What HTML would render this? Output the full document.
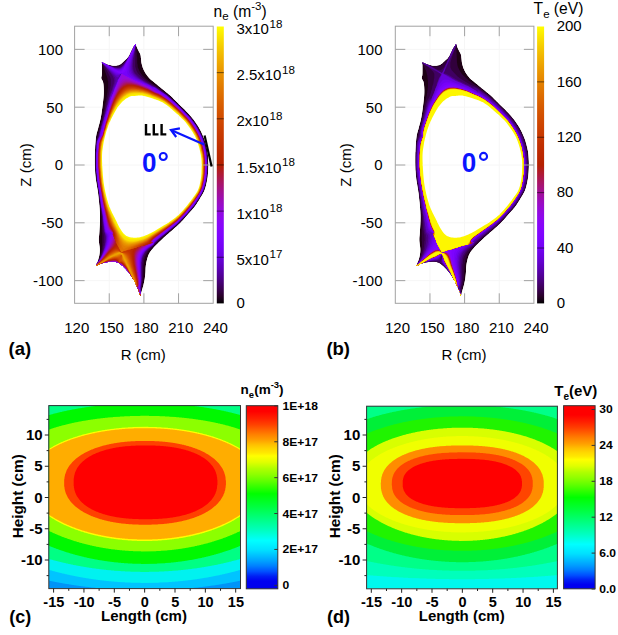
<!DOCTYPE html><html><head><meta charset="utf-8"><style>html,body{margin:0;padding:0;background:#fff;}svg{display:block;}</style></head><body><svg width="618" height="635" viewBox="0 0 618 635" font-family='"Liberation Sans", sans-serif'>
<rect width="618" height="635" fill="#fff"/>
<line x1="109.25" y1="26.2" x2="109.25" y2="303.3" stroke="#f6f6f6" stroke-width="1"/>
<line x1="143.90" y1="26.2" x2="143.90" y2="303.3" stroke="#f6f6f6" stroke-width="1"/>
<line x1="178.55" y1="26.2" x2="178.55" y2="303.3" stroke="#f6f6f6" stroke-width="1"/>
<line x1="74.6" y1="49.37" x2="213.2" y2="49.37" stroke="#f6f6f6" stroke-width="1"/>
<line x1="74.6" y1="107.19" x2="213.2" y2="107.19" stroke="#f6f6f6" stroke-width="1"/>
<line x1="74.6" y1="165.00" x2="213.2" y2="165.00" stroke="#f6f6f6" stroke-width="1"/>
<line x1="74.6" y1="222.81" x2="213.2" y2="222.81" stroke="#f6f6f6" stroke-width="1"/>
<line x1="74.6" y1="280.63" x2="213.2" y2="280.63" stroke="#f6f6f6" stroke-width="1"/>
<line x1="429.95" y1="26.2" x2="429.95" y2="303.3" stroke="#f6f6f6" stroke-width="1"/>
<line x1="464.60" y1="26.2" x2="464.60" y2="303.3" stroke="#f6f6f6" stroke-width="1"/>
<line x1="499.25" y1="26.2" x2="499.25" y2="303.3" stroke="#f6f6f6" stroke-width="1"/>
<line x1="395.29999999999995" y1="49.37" x2="533.9" y2="49.37" stroke="#f6f6f6" stroke-width="1"/>
<line x1="395.29999999999995" y1="107.19" x2="533.9" y2="107.19" stroke="#f6f6f6" stroke-width="1"/>
<line x1="395.29999999999995" y1="165.00" x2="533.9" y2="165.00" stroke="#f6f6f6" stroke-width="1"/>
<line x1="395.29999999999995" y1="222.81" x2="533.9" y2="222.81" stroke="#f6f6f6" stroke-width="1"/>
<line x1="395.29999999999995" y1="280.63" x2="533.9" y2="280.63" stroke="#f6f6f6" stroke-width="1"/>
<clipPath id="cpa"><path d="M135.50 44.10 135.77 44.72 136.15 45.58 136.60 46.59 137.08 47.68 137.56 48.74 138.00 49.70 138.43 50.57 138.87 51.42 139.32 52.25 139.74 53.06 140.11 53.84 140.40 54.60 140.60 55.30 140.73 55.94 140.80 56.55 140.85 57.17 140.91 57.85 141.00 58.60 141.10 59.44 141.19 60.33 141.28 61.28 141.40 62.26 141.57 63.27 141.80 64.30 142.09 65.37 142.42 66.49 142.80 67.63 143.23 68.79 143.73 69.95 144.30 71.10 144.94 72.24 145.66 73.40 146.43 74.56 147.27 75.71 148.16 76.82 149.10 77.90 150.10 78.92 151.17 79.88 152.30 80.81 153.47 81.74 154.67 82.70 155.90 83.70 157.18 84.77 158.53 85.88 159.91 87.02 161.29 88.15 162.63 89.25 163.90 90.30 165.08 91.27 166.19 92.17 167.27 93.04 168.33 93.91 169.40 94.82 170.50 95.80 171.59 96.82 172.64 97.84 173.71 98.89 174.82 100.02 176.04 101.24 177.40 102.60 178.99 104.16 180.79 105.91 182.69 107.76 184.58 109.61 186.35 111.39 187.90 113.00 189.21 114.42 190.37 115.73 191.41 116.96 192.37 118.14 193.29 119.31 194.20 120.50 195.09 121.72 195.94 122.93 196.74 124.13 197.50 125.31 198.22 126.47 198.90 127.60 199.53 128.70 200.10 129.77 200.64 130.81 201.14 131.84 201.62 132.87 202.10 133.90 202.57 134.92 203.01 135.93 203.44 136.94 203.84 137.94 204.23 138.96 204.60 140.00 204.95 141.06 205.27 142.14 205.58 143.22 205.86 144.32 206.14 145.41 206.40 146.50 206.65 147.57 206.90 148.61 207.13 149.66 207.34 150.72 207.53 151.83 207.70 153.00 207.85 154.26 207.97 155.59 208.08 156.97 208.17 158.35 208.24 159.71 208.30 161.00 208.35 162.18 208.38 163.28 208.39 164.34 208.39 165.44 208.36 166.64 208.30 168.00 208.22 169.54 208.13 171.22 208.01 173.00 207.86 174.83 207.66 176.68 207.40 178.50 207.09 180.33 206.74 182.20 206.34 184.09 205.89 185.96 205.38 187.78 204.80 189.50 204.13 191.13 203.38 192.69 202.56 194.19 201.71 195.65 200.85 197.08 200.00 198.50 199.17 199.90 198.33 201.27 197.48 202.62 196.61 203.94 195.72 205.23 194.80 206.50 193.87 207.71 192.93 208.84 191.97 209.95 190.96 211.08 189.88 212.28 188.70 213.60 187.42 215.06 186.06 216.62 184.62 218.26 183.13 219.92 181.58 221.58 180.00 223.20 178.32 224.80 176.54 226.43 174.70 228.06 172.87 229.64 171.12 231.17 169.50 232.60 168.03 233.91 166.67 235.11 165.39 236.24 164.14 237.36 162.89 238.50 161.60 239.70 160.25 240.99 158.85 242.33 157.45 243.70 156.10 245.06 154.83 246.37 153.70 247.60 152.70 248.73 151.81 249.79 151.00 250.81 150.27 251.81 149.61 252.83 149.00 253.90 148.46 255.04 148.01 256.21 147.62 257.41 147.28 258.61 146.98 259.78 146.70 260.90 146.45 261.97 146.24 263.00 146.07 264.01 145.93 265.01 145.81 266.00 145.70 267.00 145.62 267.98 145.57 268.94 145.55 269.89 145.53 270.87 145.48 271.90 145.40 273.00 145.28 274.20 145.15 275.47 145.00 276.79 144.83 278.14 144.63 279.48 144.40 280.80 144.14 282.09 143.85 283.37 143.53 284.66 143.20 285.94 142.85 287.22 142.50 288.50 142.11 289.87 141.68 291.35 141.23 292.83 140.81 294.20 140.45 295.36 140.20 296.20 140.05 295.62 139.87 294.84 139.64 293.90 139.36 292.84 139.02 291.70 138.60 290.50 138.09 289.20 137.50 287.76 136.85 286.22 136.15 284.67 135.43 283.14 134.70 281.70 133.96 280.34 133.21 279.02 132.42 277.73 131.61 276.46 130.77 275.22 129.90 274.00 128.98 272.79 128.01 271.58 127.01 270.39 126.00 269.26 124.99 268.18 124.00 267.20 123.04 266.29 122.10 265.43 121.16 264.64 120.20 263.93 119.22 263.31 118.20 262.80 117.16 262.41 116.11 262.12 115.04 261.93 113.92 261.82 112.71 261.78 111.40 261.80 109.91 261.89 108.24 262.06 106.49 262.31 104.75 262.60 103.12 262.94 101.70 263.30 100.44 263.74 99.26 264.27 98.19 264.84 97.26 265.40 96.49 265.87 95.90 266.20 96.24 265.24 96.72 263.91 97.29 262.34 97.87 260.66 98.39 259.00 98.80 257.50 99.10 256.17 99.35 254.90 99.54 253.66 99.69 252.41 99.77 251.10 99.80 249.70 99.73 248.18 99.56 246.56 99.32 244.89 99.09 243.21 98.90 241.57 98.80 240.00 98.81 238.61 98.88 237.37 99.00 236.18 99.14 234.88 99.28 233.37 99.40 231.50 99.53 229.26 99.69 226.75 99.85 224.01 99.98 221.11 100.04 218.09 100.00 215.00 99.85 211.77 99.61 208.34 99.31 204.79 98.96 201.21 98.59 197.69 98.20 194.30 97.77 191.06 97.26 187.90 96.73 184.79 96.21 181.70 95.75 178.62 95.40 175.50 95.15 172.36 94.97 169.21 94.86 166.06 94.79 162.90 94.78 159.75 94.80 156.60 94.87 153.34 95.00 149.96 95.17 146.57 95.38 143.32 95.63 140.32 95.90 137.70 96.21 135.56 96.57 133.80 96.96 132.30 97.37 130.92 97.79 129.53 98.20 128.00 98.61 126.37 99.04 124.76 99.48 123.13 99.90 121.47 100.32 119.73 100.70 117.90 101.06 115.94 101.40 113.89 101.73 111.76 102.04 109.59 102.33 107.43 102.60 105.30 102.86 103.17 103.12 101.00 103.36 98.84 103.56 96.71 103.71 94.65 103.80 92.70 103.82 90.82 103.78 88.97 103.69 87.19 103.56 85.52 103.40 84.01 103.20 82.70 102.93 81.64 102.57 80.82 102.17 80.15 101.80 79.56 101.49 78.97 101.30 78.30 101.26 77.65 101.34 77.10 101.48 76.55 101.65 75.90 101.81 75.05 101.90 73.90 101.93 72.25 101.94 70.14 101.94 67.83 101.92 65.57 101.91 63.65 101.90 62.30 102.67 62.63 103.74 63.11 105.01 63.66 106.36 64.23 107.69 64.73 108.90 65.10 110.01 65.35 111.10 65.53 112.18 65.66 113.22 65.72 114.23 65.74 115.20 65.70 116.11 65.63 116.96 65.52 117.78 65.36 118.58 65.13 119.38 64.82 120.20 64.40 121.05 63.84 121.92 63.13 122.79 62.34 123.64 61.51 124.45 60.72 125.20 60.00 125.87 59.41 126.46 58.93 127.02 58.46 127.56 57.95 128.11 57.32 128.70 56.50 129.34 55.41 130.01 54.10 130.69 52.67 131.36 51.22 132.00 49.86 132.60 48.70 133.17 47.69 133.75 46.76 134.29 45.91 134.79 45.17 135.20 44.56Z"/></clipPath><clipPath id="cwa"><path d="M129.90 96.60 130.81 96.28 131.63 96.10 132.42 96.01 133.21 95.98 134.06 95.95 135.00 95.90 136.02 95.79 137.08 95.66 138.19 95.54 139.37 95.46 140.64 95.47 142.00 95.60 143.53 95.88 145.22 96.29 147.00 96.77 148.78 97.30 150.47 97.83 152.00 98.30 153.35 98.72 154.59 99.13 155.75 99.52 156.85 99.93 157.93 100.35 159.00 100.80 160.03 101.24 161.00 101.66 161.93 102.10 162.88 102.59 163.89 103.18 165.00 103.90 166.25 104.79 167.61 105.84 169.02 106.98 170.45 108.16 171.82 109.32 173.10 110.40 174.28 111.42 175.40 112.41 176.48 113.39 177.52 114.34 178.52 115.28 179.50 116.20 180.43 117.07 181.31 117.88 182.16 118.67 182.99 119.48 183.83 120.34 184.70 121.30 185.61 122.36 186.54 123.49 187.47 124.67 188.41 125.90 189.32 127.15 190.20 128.40 191.06 129.67 191.91 130.98 192.75 132.31 193.55 133.64 194.31 134.98 195.00 136.30 195.63 137.62 196.21 138.96 196.74 140.29 197.23 141.61 197.68 142.88 198.10 144.10 198.48 145.22 198.81 146.26 199.10 147.26 199.37 148.26 199.63 149.33 199.90 150.50 200.18 151.79 200.47 153.16 200.75 154.59 201.01 156.05 201.23 157.53 201.40 159.00 201.52 160.45 201.60 161.91 201.64 163.38 201.65 164.87 201.63 166.41 201.60 168.00 201.56 169.66 201.51 171.37 201.43 173.12 201.31 174.91 201.14 176.70 200.90 178.50 200.60 180.33 200.26 182.21 199.86 184.10 199.40 185.97 198.85 187.78 198.20 189.50 197.41 191.13 196.49 192.72 195.48 194.24 194.44 195.70 193.43 197.09 192.50 198.40 191.67 199.58 190.91 200.64 190.17 201.62 189.41 202.59 188.61 203.59 187.70 204.70 186.69 205.92 185.61 207.23 184.48 208.57 183.31 209.92 182.11 211.24 180.90 212.50 179.68 213.70 178.44 214.88 177.18 216.03 175.88 217.14 174.56 218.24 173.20 219.30 171.81 220.32 170.38 221.31 168.92 222.26 167.44 223.20 165.93 224.14 164.40 225.10 162.82 226.09 161.17 227.10 159.51 228.11 157.85 229.09 156.23 230.03 154.70 230.90 153.25 231.70 151.87 232.46 150.53 233.16 149.22 233.82 147.91 234.43 146.60 235.00 145.28 235.53 143.97 236.01 142.67 236.46 141.38 236.84 140.09 237.16 138.80 237.40 137.49 237.57 136.16 237.67 134.83 237.70 133.53 237.67 132.28 237.57 131.10 237.40 130.00 237.18 128.96 236.91 127.97 236.57 127.02 236.15 126.10 235.63 125.20 235.00 124.34 234.26 123.52 233.43 122.74 232.51 121.97 231.48 121.19 230.34 120.40 229.10 119.59 227.70 118.77 226.15 117.95 224.49 117.13 222.77 116.31 221.06 115.50 219.40 114.68 217.78 113.84 216.17 113.01 214.55 112.19 212.93 111.42 211.32 110.70 209.70 110.05 208.11 109.44 206.55 108.88 204.99 108.34 203.40 107.82 201.75 107.30 200.00 106.78 198.14 106.28 196.19 105.79 194.18 105.32 192.12 104.89 190.06 104.50 188.00 104.16 186.02 103.85 184.11 103.58 182.18 103.34 180.16 103.11 177.96 102.90 175.50 102.69 172.64 102.47 169.40 102.28 165.99 102.12 162.60 102.02 159.40 102.00 156.60 102.07 154.22 102.21 152.11 102.42 150.21 102.66 148.44 102.93 146.73 103.20 145.00 103.48 143.27 103.80 141.60 104.14 139.98 104.49 138.43 104.85 136.93 105.20 135.50 105.55 134.15 105.89 132.90 106.24 131.71 106.61 130.54 106.99 129.39 107.40 128.20 107.83 127.00 108.29 125.80 108.76 124.60 109.26 123.40 109.77 122.20 110.30 121.00 110.85 119.79 111.42 118.57 112.01 117.35 112.61 116.13 113.25 114.91 113.90 113.70 114.58 112.48 115.28 111.24 116.01 110.01 116.75 108.79 117.52 107.62 118.30 106.50 119.09 105.43 119.90 104.40 120.72 103.41 121.57 102.46 122.46 101.55 123.40 100.70 124.42 99.88 125.51 99.08 126.65 98.33 127.79 97.65 128.88 97.07Z"/></clipPath>
<g clip-path="url(#cpa)">
<path d="M135.50 44.10 135.77 44.72 136.15 45.58 136.60 46.59 137.08 47.68 137.56 48.74 138.00 49.70 138.43 50.57 138.87 51.42 139.32 52.25 139.74 53.06 140.11 53.84 140.40 54.60 140.60 55.30 140.73 55.94 140.80 56.55 140.85 57.17 140.91 57.85 141.00 58.60 141.10 59.44 141.19 60.33 141.28 61.28 141.40 62.26 141.57 63.27 141.80 64.30 142.09 65.37 142.42 66.49 142.80 67.63 143.23 68.79 143.73 69.95 144.30 71.10 144.94 72.24 145.66 73.40 146.43 74.56 147.27 75.71 148.16 76.82 149.10 77.90 150.10 78.92 151.17 79.88 152.30 80.81 153.47 81.74 154.67 82.70 155.90 83.70 157.18 84.77 158.53 85.88 159.91 87.02 161.29 88.15 162.63 89.25 163.90 90.30 165.08 91.27 166.19 92.17 167.27 93.04 168.33 93.91 169.40 94.82 170.50 95.80 171.59 96.82 172.64 97.84 173.71 98.89 174.82 100.02 176.04 101.24 177.40 102.60 178.99 104.16 180.79 105.91 182.69 107.76 184.58 109.61 186.35 111.39 187.90 113.00 189.21 114.42 190.37 115.73 191.41 116.96 192.37 118.14 193.29 119.31 194.20 120.50 195.09 121.72 195.94 122.93 196.74 124.13 197.50 125.31 198.22 126.47 198.90 127.60 199.53 128.70 200.10 129.77 200.64 130.81 201.14 131.84 201.62 132.87 202.10 133.90 202.57 134.92 203.01 135.93 203.44 136.94 203.84 137.94 204.23 138.96 204.60 140.00 204.95 141.06 205.27 142.14 205.58 143.22 205.86 144.32 206.14 145.41 206.40 146.50 206.65 147.57 206.90 148.61 207.13 149.66 207.34 150.72 207.53 151.83 207.70 153.00 207.85 154.26 207.97 155.59 208.08 156.97 208.17 158.35 208.24 159.71 208.30 161.00 208.35 162.18 208.38 163.28 208.39 164.34 208.39 165.44 208.36 166.64 208.30 168.00 208.22 169.54 208.13 171.22 208.01 173.00 207.86 174.83 207.66 176.68 207.40 178.50 207.09 180.33 206.74 182.20 206.34 184.09 205.89 185.96 205.38 187.78 204.80 189.50 204.13 191.13 203.38 192.69 202.56 194.19 201.71 195.65 200.85 197.08 200.00 198.50 199.17 199.90 198.33 201.27 197.48 202.62 196.61 203.94 195.72 205.23 194.80 206.50 193.87 207.71 192.93 208.84 191.97 209.95 190.96 211.08 189.88 212.28 188.70 213.60 187.42 215.06 186.06 216.62 184.62 218.26 183.13 219.92 181.58 221.58 180.00 223.20 178.32 224.80 176.54 226.43 174.70 228.06 172.87 229.64 171.12 231.17 169.50 232.60 168.03 233.91 166.67 235.11 165.39 236.24 164.14 237.36 162.89 238.50 161.60 239.70 160.25 240.99 158.85 242.33 157.45 243.70 156.10 245.06 154.83 246.37 153.70 247.60 152.70 248.73 151.81 249.79 151.00 250.81 150.27 251.81 149.61 252.83 149.00 253.90 148.46 255.04 148.01 256.21 147.62 257.41 147.28 258.61 146.98 259.78 146.70 260.90 146.45 261.97 146.24 263.00 146.07 264.01 145.93 265.01 145.81 266.00 145.70 267.00 145.62 267.98 145.57 268.94 145.55 269.89 145.53 270.87 145.48 271.90 145.40 273.00 145.28 274.20 145.15 275.47 145.00 276.79 144.83 278.14 144.63 279.48 144.40 280.80 144.14 282.09 143.85 283.37 143.53 284.66 143.20 285.94 142.85 287.22 142.50 288.50 142.11 289.87 141.68 291.35 141.23 292.83 140.81 294.20 140.45 295.36 140.20 296.20 140.05 295.62 139.87 294.84 139.64 293.90 139.36 292.84 139.02 291.70 138.60 290.50 138.09 289.20 137.50 287.76 136.85 286.22 136.15 284.67 135.43 283.14 134.70 281.70 133.96 280.34 133.21 279.02 132.42 277.73 131.61 276.46 130.77 275.22 129.90 274.00 128.98 272.79 128.01 271.58 127.01 270.39 126.00 269.26 124.99 268.18 124.00 267.20 123.04 266.29 122.10 265.43 121.16 264.64 120.20 263.93 119.22 263.31 118.20 262.80 117.16 262.41 116.11 262.12 115.04 261.93 113.92 261.82 112.71 261.78 111.40 261.80 109.91 261.89 108.24 262.06 106.49 262.31 104.75 262.60 103.12 262.94 101.70 263.30 100.44 263.74 99.26 264.27 98.19 264.84 97.26 265.40 96.49 265.87 95.90 266.20 96.24 265.24 96.72 263.91 97.29 262.34 97.87 260.66 98.39 259.00 98.80 257.50 99.10 256.17 99.35 254.90 99.54 253.66 99.69 252.41 99.77 251.10 99.80 249.70 99.73 248.18 99.56 246.56 99.32 244.89 99.09 243.21 98.90 241.57 98.80 240.00 98.81 238.61 98.88 237.37 99.00 236.18 99.14 234.88 99.28 233.37 99.40 231.50 99.53 229.26 99.69 226.75 99.85 224.01 99.98 221.11 100.04 218.09 100.00 215.00 99.85 211.77 99.61 208.34 99.31 204.79 98.96 201.21 98.59 197.69 98.20 194.30 97.77 191.06 97.26 187.90 96.73 184.79 96.21 181.70 95.75 178.62 95.40 175.50 95.15 172.36 94.97 169.21 94.86 166.06 94.79 162.90 94.78 159.75 94.80 156.60 94.87 153.34 95.00 149.96 95.17 146.57 95.38 143.32 95.63 140.32 95.90 137.70 96.21 135.56 96.57 133.80 96.96 132.30 97.37 130.92 97.79 129.53 98.20 128.00 98.61 126.37 99.04 124.76 99.48 123.13 99.90 121.47 100.32 119.73 100.70 117.90 101.06 115.94 101.40 113.89 101.73 111.76 102.04 109.59 102.33 107.43 102.60 105.30 102.86 103.17 103.12 101.00 103.36 98.84 103.56 96.71 103.71 94.65 103.80 92.70 103.82 90.82 103.78 88.97 103.69 87.19 103.56 85.52 103.40 84.01 103.20 82.70 102.93 81.64 102.57 80.82 102.17 80.15 101.80 79.56 101.49 78.97 101.30 78.30 101.26 77.65 101.34 77.10 101.48 76.55 101.65 75.90 101.81 75.05 101.90 73.90 101.93 72.25 101.94 70.14 101.94 67.83 101.92 65.57 101.91 63.65 101.90 62.30 102.67 62.63 103.74 63.11 105.01 63.66 106.36 64.23 107.69 64.73 108.90 65.10 110.01 65.35 111.10 65.53 112.18 65.66 113.22 65.72 114.23 65.74 115.20 65.70 116.11 65.63 116.96 65.52 117.78 65.36 118.58 65.13 119.38 64.82 120.20 64.40 121.05 63.84 121.92 63.13 122.79 62.34 123.64 61.51 124.45 60.72 125.20 60.00 125.87 59.41 126.46 58.93 127.02 58.46 127.56 57.95 128.11 57.32 128.70 56.50 129.34 55.41 130.01 54.10 130.69 52.67 131.36 51.22 132.00 49.86 132.60 48.70 133.17 47.69 133.75 46.76 134.29 45.91 134.79 45.17 135.20 44.56Z" fill="#1d0014"/>
<path d="M134.8 43.5 132.2 47.5 128.5 55.5 126.8 57.2 127.5 58.2 126.8 58.5 122.8 63.2 119.8 65.5 117.5 66.2 113.2 66.2 112.8 65.8 111.5 65.8 111.2 64.8 109.2 64.5 102.8 61.5 101.2 61.5 101.2 63.2 101.8 63.2 102.5 64.2 107.5 78.2 107.8 80.8 108.2 81.2 108.2 88.2 107.8 88.5 107.5 92.8 107.2 93.2 107.2 94.5 106.8 94.8 106.8 96.2 106.2 98.2 106.2 99.8 105.8 100.2 105.8 101.5 104.8 104.8 104.8 106.5 104.5 106.8 104.5 108.5 103.5 111.8 103.2 114.8 102.8 115.2 100.5 125.5 99.8 126.8 99.5 129.2 98.5 131.5 98.5 132.5 96.5 139.5 96.2 144.5 95.8 144.8 95.8 151.2 95.5 151.5 95.5 170.8 95.8 171.2 95.8 174.2 96.2 174.5 96.2 177.2 96.5 177.5 96.5 180.5 96.8 180.8 97.5 186.8 97.8 187.2 98.5 193.2 98.8 193.5 99.5 202.2 99.8 202.5 99.8 204.8 100.2 205.2 100.2 207.5 100.5 207.8 100.5 210.2 100.8 210.5 100.8 212.8 101.2 213.2 101.2 216.2 101.5 216.5 101.5 225.8 101.8 226.2 101.8 232.5 102.2 232.8 102.2 246.5 101.8 246.8 101.8 249.5 101.5 249.8 101.2 253.2 100.5 254.5 99.8 257.5 97.2 262.8 96.2 262.5 96.2 263.2 95.2 265.2 95.2 266.8 96.8 266.8 99.8 264.8 106.5 262.8 114.8 262.5 119.2 264.2 122.2 266.5 127.5 272.2 128.5 274.2 130.2 275.8 135.5 285.2 135.5 285.8 137.5 289.8 137.8 291.5 138.8 293.2 138.8 294.8 139.5 296.8 140.8 296.8 141.5 295.2 141.5 293.8 140.8 293.5 140.8 292.2 141.2 291.8 141.5 287.5 142.2 285.5 142.2 283.8 142.8 281.5 142.8 278.8 143.2 278.5 143.5 264.8 143.8 264.5 144.2 260.5 145.5 256.2 148.2 251.5 159.8 239.5 166.8 233.8 171.8 229.2 175.8 226.2 183.2 218.8 193.5 207.2 198.2 200.5 204.2 189.8 205.2 185.5 205.8 184.2 206.2 181.5 206.5 181.2 206.5 179.5 207.2 177.5 207.2 174.2 207.5 173.8 207.8 161.8 207.5 161.5 207.5 156.5 207.2 156.2 206.8 151.2 206.2 149.5 205.8 146.5 205.2 145.2 205.2 144.2 203.8 140.8 203.2 137.8 197.8 127.2 191.8 118.5 189.8 116.2 169.5 96.2 157.8 87.2 151.5 83.2 145.8 78.8 142.2 75.2 139.8 71.8 137.8 67.2 137.5 63.8 137.2 63.5 137.2 56.5 136.8 56.2 136.8 52.5 136.5 52.2 136.5 49.8 136.2 49.5 136.2 47.5 135.8 47.2 135.8 45.5 136.5 44.8 136.2 43.5Z" fill="#31003c"/>
<path d="M134.8 43.5 133.5 45.2 131.2 49.5 131.2 50.2 131.5 50.2 131.8 50.8 131.5 51.2 130.5 51.2 129.5 53.2 129.5 53.8 129.8 53.8 130.2 54.5 129.2 56.5 124.5 62.5 120.2 66.5 118.2 67.2 113.5 66.8 112.2 66.2 108.8 65.5 106.5 64.2 106.5 63.2 105.8 63.2 102.8 61.5 101.2 61.5 101.2 62.8 101.8 62.8 102.5 63.5 107.5 71.8 110.2 77.2 110.8 79.5 110.8 85.8 110.5 86.2 110.2 89.2 109.8 89.5 109.8 90.5 109.5 90.8 109.5 91.8 109.2 92.2 109.2 93.2 106.5 102.8 106.5 104.2 105.5 107.2 105.5 108.5 104.8 110.2 104.8 111.5 104.5 111.8 102.5 120.8 101.8 122.2 101.2 125.8 100.5 127.2 100.5 128.2 99.2 131.8 98.2 136.8 96.5 141.8 96.5 144.5 96.2 144.8 96.2 151.2 95.8 151.5 95.8 170.8 96.2 171.2 96.2 173.8 96.5 174.2 96.8 180.2 97.2 180.5 97.8 186.8 98.2 187.2 98.2 188.8 98.8 191.2 99.5 198.8 99.8 199.2 100.2 203.8 100.5 204.2 100.5 206.2 100.8 206.5 100.8 208.8 101.2 209.2 101.2 211.2 101.5 211.5 101.5 213.5 101.8 213.8 102.8 230.2 103.2 230.5 103.2 232.8 103.8 235.2 103.8 242.8 103.5 243.2 103.5 245.5 103.2 245.8 102.8 249.5 100.8 256.2 97.5 262.8 96.8 263.5 95.8 263.5 95.2 265.2 95.2 266.8 96.8 266.8 99.8 264.8 106.5 262.8 114.8 262.5 119.2 264.2 122.2 266.5 127.5 272.2 128.5 274.2 130.2 275.8 135.5 285.2 135.5 285.8 137.5 289.8 137.8 291.5 138.8 293.2 138.8 294.8 139.5 296.8 140.8 296.8 141.5 295.2 141.5 293.8 140.5 293.5 140.8 293.2 141.2 285.8 141.5 285.5 141.8 281.2 142.2 280.8 142.5 263.2 142.8 262.8 142.8 260.8 144.2 256.2 147.2 251.2 150.8 247.5 153.2 245.8 155.5 242.8 158.2 240.2 177.8 223.8 186.2 215.2 194.8 204.8 200.5 196.2 203.5 190.5 203.5 189.8 204.5 187.8 204.5 186.8 206.2 181.2 206.5 177.5 206.8 177.2 207.5 162.2 207.2 161.8 207.2 156.8 206.8 156.5 206.5 151.5 206.2 151.2 205.2 145.5 202.5 137.2 197.2 126.8 191.5 118.8 185.8 112.5 176.8 103.5 167.5 95.2 157.5 87.8 146.5 81.2 142.2 77.8 137.8 73.2 136.5 70.8 135.2 66.5 135.5 44.8 136.2 44.2 136.2 43.5Z" fill="#400062"/>
<path d="M134.8 43.5 133.2 45.8 133.2 46.5 133.5 46.5 133.8 47.2 132.2 49.8 132.2 50.5 129.5 56.2 123.8 64.5 121.2 67.2 118.5 68.2 116.8 68.2 116.5 67.8 113.8 67.5 109.2 65.8 105.5 63.8 105.5 62.8 102.8 61.5 101.2 61.5 101.2 62.5 102.2 62.8 110.2 72.5 112.5 75.8 113.8 78.5 114.2 81.2 113.8 81.5 113.8 83.2 112.2 88.2 112.2 89.2 110.8 92.2 108.5 99.5 108.5 100.5 107.8 101.8 104.2 117.2 103.5 118.5 103.5 119.5 102.5 122.2 102.2 124.5 101.5 125.8 101.2 128.2 99.8 131.8 99.2 135.5 96.8 141.8 96.8 144.2 96.5 144.5 96.5 150.5 96.2 150.8 96.2 171.2 96.5 171.5 96.5 174.5 96.8 174.8 97.5 182.8 97.8 183.2 98.2 187.2 98.5 187.5 98.5 189.2 99.2 191.5 99.8 198.8 100.2 199.2 101.2 208.2 101.5 208.5 102.2 214.8 102.5 215.2 102.8 221.8 103.2 222.2 103.2 225.2 103.5 225.5 103.8 230.5 104.2 230.8 104.2 232.2 104.8 233.5 105.2 236.5 105.5 236.8 105.5 239.8 105.2 240.2 105.2 242.8 104.8 243.2 104.8 244.8 104.2 246.5 104.2 247.8 102.2 254.2 99.5 259.8 97.8 262.5 96.8 263.5 95.8 263.5 95.2 265.2 95.2 266.8 96.8 266.8 99.8 264.8 106.5 262.8 114.8 262.5 119.2 264.2 122.2 266.5 127.5 272.2 128.5 274.2 130.2 275.8 135.5 285.2 135.5 285.8 137.5 289.8 137.8 291.5 138.8 293.2 138.8 294.8 139.5 296.8 140.8 296.8 141.5 295.2 141.5 294.5 140.5 294.2 140.5 286.8 140.8 286.5 141.2 281.5 141.5 281.2 141.5 262.5 141.8 262.2 142.2 258.8 143.2 255.8 145.5 251.8 150.2 247.2 153.2 245.2 154.5 243.2 158.5 239.2 176.5 224.5 183.2 217.8 193.2 206.5 195.8 202.8 201.8 193.2 203.8 188.8 204.2 186.8 204.8 185.5 205.5 181.5 205.8 181.2 206.2 177.5 206.5 177.2 206.5 174.5 206.8 174.2 207.2 161.5 206.8 161.2 206.8 156.5 206.5 156.2 206.2 151.5 205.8 151.2 204.8 145.5 202.5 138.2 197.2 127.5 190.8 118.5 174.8 102.2 167.2 95.5 155.8 87.5 151.5 85.5 140.8 78.8 135.2 73.5 133.8 71.2 133.2 68.8 133.2 67.2 132.8 66.8 133.2 60.2 133.5 59.8 133.5 58.2 134.2 55.8 134.2 53.8 134.5 53.5 135.5 44.8 136.2 44.2 136.2 43.5Z" fill="#4b0085"/>
<path d="M134.8 43.5 133.2 45.8 133.2 46.5 133.5 46.5 133.8 47.2 129.2 56.8 124.2 64.5 122.8 66.2 120.8 67.8 119.2 68.5 115.2 68.2 112.2 66.8 110.5 66.5 106.8 64.5 106.2 64.5 105.5 63.8 105.5 62.8 102.8 61.5 101.2 61.5 101.2 62.5 101.8 62.5 113.8 75.8 115.2 77.8 115.5 80.8 113.8 86.5 113.2 87.5 112.5 90.2 111.8 91.2 111.5 92.8 110.8 93.8 110.5 95.5 109.2 98.5 109.2 99.5 108.5 100.8 108.2 103.2 106.5 108.2 105.5 113.2 104.8 114.5 104.5 116.8 102.8 121.8 102.5 124.2 101.8 125.5 100.2 132.5 99.5 133.8 99.5 135.2 98.2 139.2 97.5 140.2 97.2 142.5 96.8 142.8 96.5 151.8 96.2 152.2 96.2 169.2 96.5 169.5 96.5 173.2 96.8 173.5 97.2 179.8 97.5 180.2 98.2 186.5 98.5 186.8 98.5 188.5 99.2 190.8 99.2 192.8 99.5 193.2 99.5 195.5 99.8 195.8 99.8 197.8 100.2 198.2 101.2 207.2 101.5 207.5 102.2 213.5 102.5 213.8 102.5 215.8 102.8 216.2 103.2 222.8 103.5 223.2 104.2 230.5 105.8 235.5 105.8 241.5 105.5 241.8 105.5 243.5 105.2 243.8 104.5 247.8 101.8 255.5 98.2 262.2 96.8 263.5 95.8 263.5 95.2 265.2 95.2 266.8 96.8 266.8 99.8 264.8 106.5 262.8 114.8 262.5 119.2 264.2 122.2 266.5 127.5 272.2 128.5 274.2 130.2 275.8 135.5 285.2 135.5 285.8 137.5 289.8 137.8 291.5 138.8 293.2 138.8 294.8 139.5 296.8 140.8 296.8 141.5 295.2 141.5 294.5 140.5 294.2 140.5 285.8 140.8 285.5 140.8 283.2 141.2 282.8 141.2 262.2 141.5 261.8 141.8 258.5 143.2 254.8 145.8 250.8 148.2 248.5 152.5 245.5 153.8 244.2 154.5 242.8 160.2 237.5 175.2 225.5 187.2 213.5 188.2 211.8 193.8 205.5 196.2 202.2 196.5 201.2 198.2 199.2 203.2 190.2 203.2 189.5 204.2 187.5 204.5 185.2 205.2 183.8 205.8 178.8 206.2 178.5 206.2 176.5 206.5 176.2 206.5 171.5 206.8 171.2 206.8 159.2 206.5 158.8 206.2 152.2 205.2 148.8 205.2 147.5 204.8 147.2 204.2 143.5 201.8 136.8 195.8 125.5 189.5 117.2 177.8 105.2 166.5 95.2 157.5 89.2 156.5 88.2 146.2 82.8 138.8 78.2 137.2 76.8 133.8 73.2 132.2 68.8 132.2 62.8 132.5 62.5 132.5 60.5 132.8 60.2 133.2 56.8 133.5 56.5 133.5 55.2 133.8 54.8 133.8 53.5 134.5 51.5 135.2 46.2 135.5 45.8 135.5 44.8 136.2 44.2 136.2 43.5Z" fill="#5600a6"/>
<path d="M134.8 43.5 133.2 45.8 133.2 46.5 133.5 46.5 133.8 47.2 128.5 58.2 123.8 65.5 121.2 68.2 119.8 68.8 115.5 68.5 106.2 64.5 105.5 63.8 105.5 62.8 102.8 61.5 101.2 61.5 101.2 62.5 101.8 62.5 116.5 76.8 117.8 77.5 118.5 77.2 120.5 73.8 121.2 73.2 121.8 73.5 118.8 78.8 117.8 79.2 110.2 96.8 109.5 99.8 108.5 102.2 108.2 104.5 107.5 105.8 107.5 106.8 106.8 108.2 106.5 110.5 105.8 111.8 105.5 114.2 104.2 117.8 103.8 120.2 101.8 126.2 101.5 128.5 100.2 132.2 99.5 136.2 97.5 140.5 97.2 143.2 96.8 143.5 96.5 152.5 96.2 152.8 96.2 168.2 96.5 168.5 96.5 172.5 96.8 172.8 97.5 181.8 97.8 182.2 98.2 186.2 98.5 186.5 98.5 188.2 99.2 190.5 99.2 192.5 99.5 192.8 100.2 199.5 100.5 199.8 101.2 206.2 101.8 208.5 101.8 210.5 102.2 210.8 102.2 212.5 102.8 214.8 104.2 228.5 104.5 228.8 104.8 231.8 106.5 236.2 106.5 240.2 106.2 240.5 106.2 242.5 105.8 242.8 105.2 246.8 103.2 252.8 100.2 259.2 98.8 260.8 98.5 261.8 97.2 263.5 95.8 263.5 95.2 265.2 95.2 266.8 96.8 266.8 99.8 264.8 106.5 262.8 114.8 262.5 119.2 264.2 122.2 266.5 127.5 272.2 128.5 274.2 130.2 275.8 135.5 285.2 135.5 285.8 137.5 289.8 137.8 291.5 138.8 293.2 138.8 294.8 139.5 296.8 140.8 296.8 141.2 295.2 140.5 294.8 140.5 292.5 140.2 292.2 140.2 286.8 140.5 286.5 140.5 284.5 140.8 284.2 140.8 279.2 141.2 278.8 141.2 276.5 140.8 276.2 140.8 261.8 141.2 261.5 141.2 259.8 141.5 259.5 141.5 258.2 142.2 256.2 144.8 251.5 148.2 248.2 152.2 245.5 153.8 243.8 154.5 242.5 159.5 237.8 176.5 224.2 185.2 215.5 193.2 206.2 195.8 202.5 196.2 201.5 197.8 199.5 198.2 198.5 200.5 195.2 203.2 189.8 204.5 185.8 204.5 184.8 205.5 181.8 205.8 178.2 206.2 177.8 206.2 175.5 206.5 175.2 206.8 160.2 206.5 159.8 206.2 152.8 205.8 152.5 205.2 147.8 202.2 137.8 199.2 131.5 198.5 130.8 195.5 125.2 190.5 118.5 174.8 102.5 172.8 101.2 167.5 96.2 155.5 87.8 150.8 85.8 150.2 85.2 144.2 82.2 138.2 78.5 135.2 76.2 133.5 74.5 132.2 72.5 131.2 69.2 131.2 64.5 131.5 64.2 131.5 62.5 131.8 62.2 131.8 60.5 132.5 58.8 132.5 57.5 132.8 57.2 132.8 56.2 133.8 53.2 133.8 51.8 134.5 50.2 134.8 47.2 135.5 44.8 136.2 44.2 136.2 43.5Z" fill="#5f01c2"/>
<path d="M134.8 43.5 133.2 45.8 133.2 46.5 133.5 46.5 133.8 47.2 127.8 59.5 123.2 66.8 120.5 69.2 118.2 69.5 117.8 69.2 115.5 68.8 106.2 64.5 105.5 63.8 105.5 62.8 102.8 61.5 101.2 61.5 101.2 62.5 101.8 62.5 115.5 74.5 116.8 75.2 118.5 75.2 119.8 74.5 121.2 73.2 121.8 73.5 117.8 80.2 112.2 95.5 111.8 95.8 111.2 95.5 110.2 97.8 110.2 98.8 109.5 100.2 109.5 101.2 107.8 105.8 106.8 110.5 106.2 111.8 106.2 112.8 105.2 115.2 105.2 116.2 104.5 117.5 104.5 118.5 101.8 126.8 101.5 129.2 100.8 130.5 100.8 131.5 99.8 134.5 99.8 135.8 97.2 141.8 97.2 143.5 96.8 143.8 96.5 153.2 96.2 153.5 96.2 167.5 96.5 167.8 96.5 171.8 96.8 172.2 97.2 178.5 97.5 178.8 97.5 181.2 97.8 181.5 98.2 185.5 98.5 185.8 98.5 187.5 99.2 189.8 99.2 191.8 99.5 192.2 100.2 199.2 100.5 199.5 100.5 201.2 100.8 201.5 100.8 203.2 101.5 205.5 101.5 207.5 101.8 207.8 102.2 211.5 102.8 213.5 103.5 221.5 103.8 221.8 103.8 223.8 104.2 224.2 104.2 226.5 104.5 226.8 105.2 231.8 106.8 234.8 107.2 238.8 106.8 239.2 106.8 241.5 106.5 241.8 105.8 245.8 102.8 254.2 100.8 258.2 97.8 262.8 97.2 263.5 95.8 263.5 95.2 265.2 95.2 266.8 96.8 266.8 99.8 264.8 106.5 262.8 114.8 262.5 119.2 264.2 122.2 266.5 127.5 272.2 128.5 274.2 130.2 275.8 135.5 285.2 135.5 285.8 137.5 289.8 137.8 291.5 138.8 293.2 138.8 294.8 139.5 296.8 140.8 296.8 141.2 295.2 140.5 294.8 140.5 292.8 140.2 292.5 140.2 285.5 140.5 285.2 140.5 282.2 140.8 281.8 140.5 261.5 140.8 261.2 140.8 259.5 142.2 255.2 144.2 251.8 148.2 247.8 152.8 244.8 153.5 244.2 154.2 242.5 156.8 239.8 175.5 224.8 187.2 213.2 188.2 211.5 190.8 208.8 191.8 207.2 193.8 205.2 201.5 193.2 204.2 186.8 204.2 185.8 205.5 181.5 205.5 179.8 206.2 177.5 206.2 175.2 206.5 174.8 206.8 160.5 206.5 160.2 206.5 156.2 206.2 155.8 206.2 153.5 205.8 153.2 205.5 149.8 204.8 148.2 204.2 144.2 202.2 138.2 198.8 131.2 198.2 130.5 195.5 125.5 188.8 116.8 173.8 101.8 166.5 95.5 154.5 87.5 152.8 87.2 150.8 86.2 150.2 85.5 143.8 82.5 143.2 81.8 136.8 78.5 134.5 76.8 131.5 73.8 130.2 70.5 130.2 65.8 130.5 65.5 131.2 60.5 131.8 59.2 132.5 55.5 134.2 50.5 134.8 46.8 135.5 44.8 136.2 44.2 136.2 43.5Z" fill="#6701d9"/>
<path d="M134.8 43.5 133.2 45.8 133.2 46.5 133.5 46.5 133.8 47.2 128.5 58.5 127.8 59.2 124.5 65.5 123.2 67.5 121.5 69.2 120.2 69.8 117.5 69.8 115.5 69.2 106.2 64.5 105.5 63.8 105.5 62.8 102.8 61.5 101.2 61.5 101.2 62.5 102.5 62.8 104.2 64.5 115.8 73.5 117.5 74.2 119.2 74.2 121.5 73.2 121.8 73.8 117.8 80.5 117.8 81.2 114.5 88.8 114.2 90.5 113.5 91.5 113.5 92.8 112.8 93.8 110.5 100.2 110.5 101.2 109.2 104.8 107.5 111.8 106.8 112.5 106.2 112.2 106.2 113.2 104.5 118.2 103.2 124.2 101.2 130.2 99.8 136.5 97.8 140.5 97.2 142.8 96.8 151.8 96.5 152.2 96.5 168.8 96.8 169.2 96.8 173.2 97.2 173.5 97.5 179.8 97.8 180.2 98.5 186.5 98.8 186.8 98.8 188.5 99.5 190.8 99.5 192.8 99.8 193.2 99.8 195.5 100.5 197.8 101.5 206.8 101.8 207.2 102.2 210.8 102.5 211.2 102.8 214.5 103.2 214.8 103.2 216.8 103.5 217.2 103.5 219.2 103.8 219.5 103.8 222.2 104.2 222.5 104.8 228.8 105.2 229.2 105.5 231.8 107.5 234.8 107.8 237.5 107.5 237.8 107.5 240.5 107.2 240.8 106.8 243.8 103.5 253.2 101.2 257.8 98.2 262.5 97.2 263.5 95.8 263.5 95.2 265.2 95.2 266.8 96.8 266.8 99.8 264.8 106.5 262.8 114.8 262.5 119.2 264.2 122.2 266.5 127.5 272.2 128.5 274.2 130.2 275.8 135.5 285.2 135.5 285.8 137.5 289.8 137.8 291.5 138.8 293.2 138.8 294.8 139.5 296.8 140.8 296.8 141.2 295.2 140.5 294.8 140.2 289.5 139.8 289.2 140.2 283.8 140.5 283.5 140.2 261.2 140.5 260.8 140.5 259.2 141.8 254.8 144.5 250.8 148.2 247.5 152.5 244.8 153.5 243.8 154.2 242.2 156.5 239.8 176.5 223.8 185.5 214.8 195.2 203.2 200.8 194.2 202.8 190.2 204.2 186.2 204.2 185.2 205.2 182.2 205.2 180.8 205.5 180.5 205.8 176.2 206.2 175.8 206.5 159.5 206.2 159.2 205.8 152.5 205.5 152.2 204.8 147.5 202.5 140.5 202.5 139.5 201.8 138.5 201.2 136.2 195.2 125.2 187.8 115.8 175.5 103.5 166.2 95.5 155.8 88.5 153.8 87.5 152.8 87.5 146.2 83.8 145.5 83.8 136.5 79.2 131.5 75.8 129.8 73.8 128.8 70.8 129.2 66.2 129.5 65.8 129.5 64.5 129.8 64.2 130.5 60.5 134.2 49.5 134.2 48.5 135.2 45.5 136.2 44.2 136.2 43.5Z" fill="#6e02ec"/>
<path d="M134.8 43.5 133.2 45.8 133.2 46.5 133.5 46.5 133.8 47.2 132.2 50.2 132.2 50.8 130.5 53.8 130.5 54.5 128.8 57.5 128.8 58.2 128.2 58.8 124.5 66.2 123.2 68.2 121.2 70.2 120.5 70.5 118.2 70.5 116.2 69.8 106.2 64.5 105.5 63.8 105.5 62.8 102.8 61.5 101.2 61.5 101.2 62.5 101.8 62.5 115.5 72.2 118.5 73.5 120.8 73.5 121.5 73.2 121.8 73.8 117.8 80.5 118.2 81.2 111.5 97.2 110.5 100.2 110.5 101.2 109.8 102.5 109.8 103.5 109.2 104.8 108.8 107.2 108.2 108.5 108.2 109.5 107.5 110.8 107.2 113.2 106.5 114.5 106.2 116.8 104.8 120.5 104.5 122.8 103.8 124.2 102.8 129.2 102.5 129.5 101.5 129.5 100.5 134.2 100.2 134.5 100.2 136.2 97.8 140.8 97.5 143.2 97.2 143.5 96.8 152.5 96.5 152.8 96.5 168.2 96.8 168.5 96.8 172.5 97.2 172.8 97.5 179.2 97.8 179.5 97.8 181.8 98.2 182.2 98.5 186.2 98.8 186.5 99.5 192.5 99.8 192.8 99.8 194.8 100.5 197.2 100.8 201.5 101.2 201.8 101.8 207.5 102.2 207.8 103.2 215.2 103.5 215.5 103.8 220.5 104.2 220.8 104.2 222.8 104.5 223.2 104.5 225.2 105.2 227.2 105.2 228.8 105.5 229.2 105.8 231.8 108.2 234.5 108.5 236.8 108.2 237.2 108.2 239.8 107.8 240.2 107.5 243.2 104.5 251.5 101.5 257.5 98.5 262.2 97.2 263.5 95.8 263.5 95.2 265.2 95.2 266.8 96.8 266.8 99.8 264.8 106.5 262.8 114.8 262.5 119.2 264.2 122.2 266.5 127.5 272.2 128.5 274.2 130.2 275.8 135.5 285.2 135.5 285.8 137.5 289.8 137.8 291.5 138.8 293.2 138.8 294.8 139.5 296.8 140.8 296.8 141.2 295.2 140.5 294.8 140.2 290.5 139.8 290.2 139.8 285.2 140.2 284.8 139.8 260.5 140.2 260.2 140.2 258.5 140.8 256.2 142.5 252.8 146.8 248.2 150.2 245.8 152.8 244.5 153.8 242.8 153.8 242.2 155.8 240.2 164.2 233.8 168.2 230.2 175.8 224.2 185.5 214.2 186.8 213.2 187.8 211.5 190.5 208.8 191.5 207.2 193.5 205.2 195.2 202.8 196.2 200.8 197.2 199.8 198.2 197.8 200.2 195.2 200.2 194.5 200.8 193.8 202.8 189.8 204.2 185.8 204.2 184.8 205.2 181.8 205.5 178.2 205.8 177.8 205.8 175.5 206.2 175.2 206.5 160.2 206.2 159.8 205.8 153.2 205.5 152.8 204.8 148.2 201.8 138.2 198.5 131.2 197.8 130.5 195.2 125.5 191.8 120.8 188.2 116.5 174.2 102.5 164.2 94.2 163.2 93.8 154.2 87.8 152.5 87.8 148.8 85.5 148.2 85.5 142.2 82.5 141.5 82.5 139.5 81.2 138.2 80.8 131.5 77.5 129.5 76.2 127.5 74.2 127.2 71.5 127.5 71.2 127.5 69.2 127.8 68.8 127.8 67.5 128.2 67.2 128.8 63.5 131.5 55.5 132.2 54.5 133.2 50.8 133.8 49.8 134.8 46.2 136.2 44.2 136.2 43.5Z" fill="#7602f8"/>
<path d="M121.5 74.2 121.2 74.5 121.5 75.2 118.2 80.5 118.2 81.2 114.8 88.8 114.2 91.5 111.5 97.5 110.5 100.5 110.5 101.5 109.8 102.8 109.8 103.8 109.2 105.2 108.8 107.5 108.2 108.8 108.2 109.8 107.5 111.2 106.5 115.8 105.8 117.2 105.5 119.5 104.8 120.5 104.5 122.8 103.8 124.2 101.2 135.5 100.2 136.5 97.5 141.8 97.5 143.2 97.2 143.5 96.8 152.5 96.5 152.8 96.5 168.2 96.8 168.5 96.8 172.5 97.2 172.8 97.8 181.8 98.5 184.2 98.5 186.2 98.8 186.5 98.8 188.2 99.5 190.5 100.5 199.2 100.8 199.5 101.8 207.2 102.5 209.2 102.5 210.8 103.2 212.8 103.8 218.8 104.2 219.2 104.2 221.2 104.5 221.5 104.5 223.2 104.8 223.5 104.8 225.2 105.5 227.2 105.8 230.5 106.2 230.8 106.2 231.8 108.8 233.8 109.2 234.5 109.2 237.2 108.8 237.5 108.8 239.5 108.5 239.8 108.5 241.2 107.5 243.8 107.5 244.8 105.8 248.5 105.8 249.2 104.5 251.5 104.5 252.2 101.5 257.8 98.8 261.8 96.8 263.8 95.8 263.5 95.2 265.2 95.2 266.8 96.8 266.8 99.8 264.8 106.5 262.8 114.8 262.5 119.2 264.2 122.2 266.5 127.5 272.2 128.5 274.2 130.2 275.8 135.5 285.2 135.5 285.8 137.5 289.8 137.8 291.5 138.8 293.2 138.8 294.8 139.5 296.8 140.8 296.8 141.2 295.2 140.5 294.8 140.5 293.5 139.8 292.2 139.8 289.2 139.5 288.8 139.8 283.5 140.2 283.2 140.2 277.2 139.8 276.8 139.8 271.8 139.5 271.5 139.5 259.8 139.8 259.5 139.8 258.2 140.5 255.8 142.5 252.2 145.5 248.8 149.2 246.2 152.5 244.5 153.2 243.8 153.5 242.2 155.8 239.8 157.5 238.8 162.2 234.8 163.5 234.2 165.5 232.2 167.2 231.2 168.8 229.5 176.2 223.8 185.5 214.2 186.8 213.2 187.8 211.5 193.5 205.2 195.8 201.8 196.2 200.8 197.8 198.8 198.2 197.8 200.2 195.2 200.2 194.5 200.8 193.8 202.8 189.8 205.2 181.8 205.2 180.2 205.8 177.8 205.8 175.5 206.2 175.2 206.2 170.2 206.5 169.8 206.2 155.8 205.8 155.5 205.8 153.2 205.5 152.8 205.5 151.5 205.2 151.2 205.2 149.8 204.8 149.5 204.8 148.2 204.5 147.8 203.8 144.2 200.8 135.8 197.2 128.8 194.5 124.5 190.2 118.8 174.5 102.8 172.8 101.8 166.2 95.8 165.2 95.5 163.8 94.2 162.8 93.8 153.8 87.8 153.5 87.8 154.2 88.5 156.8 89.8 157.8 90.8 156.8 91.5 156.2 90.8 147.2 85.8 146.5 85.8 140.5 82.8 136.8 81.5 122.5 74.2ZM136.2 43.5 134.8 43.5 133.5 45.2 133.2 46.5 133.5 46.5 133.8 47.2 132.2 50.2 132.2 50.8 130.5 53.8 130.5 54.5 128.8 57.5 128.8 58.2 123.2 69.2 120.8 71.5 118.2 71.2 114.2 69.2 111.8 67.5 106.2 64.5 105.5 63.8 105.5 62.8 102.8 61.5 101.2 61.5 101.2 62.5 101.8 62.5 104.8 64.5 106.5 65.2 108.5 66.8 118.5 72.8 120.8 73.5 122.2 72.8 124.2 72.8 124.8 72.5 126.2 69.8 126.2 68.8 128.2 62.8 129.5 60.2 129.8 58.5 133.8 49.2 134.2 47.5 136.2 44.2Z" fill="#7c03fe"/>
<path d="M121.5 74.2 121.2 74.5 121.5 75.2 118.2 80.5 117.8 82.5 117.2 83.5 117.2 84.2 112.5 95.2 112.2 96.8 111.5 97.8 110.5 100.8 110.5 101.8 109.8 103.2 109.8 104.2 109.2 105.5 108.8 107.8 108.2 109.2 108.2 110.2 107.5 111.5 107.5 112.5 107.2 112.8 106.5 116.5 105.8 117.8 105.5 120.2 104.8 121.5 104.5 123.8 103.8 125.2 102.8 130.2 102.2 131.5 102.2 132.5 101.2 135.5 101.5 135.8 98.5 142.2 98.5 143.5 98.2 143.8 97.8 152.8 97.5 153.2 97.5 167.8 97.8 168.2 97.8 172.2 98.2 172.5 98.8 181.5 99.5 183.8 99.5 185.8 100.2 188.2 100.2 190.2 100.8 192.5 101.5 198.8 101.8 199.2 103.2 208.8 103.5 209.2 103.5 210.5 104.2 212.5 104.8 218.5 105.2 218.8 105.2 220.8 105.5 221.2 105.5 222.8 105.8 223.2 105.8 224.8 106.2 225.2 106.2 226.8 106.5 227.2 106.8 229.8 108.2 231.5 112.5 233.2 112.8 233.8 110.5 234.5 109.8 236.2 108.8 242.2 106.8 247.8 100.8 259.2 99.2 261.5 96.8 263.8 95.8 263.5 95.2 265.2 95.2 266.8 96.8 266.8 99.8 264.8 106.5 262.8 114.8 262.5 119.2 264.2 122.2 266.5 127.5 272.2 128.5 274.2 130.2 275.8 135.5 285.2 135.5 285.8 137.5 289.8 137.8 291.5 138.8 293.2 138.8 294.8 139.5 296.8 140.8 296.8 141.2 295.2 140.5 294.8 140.5 293.8 139.8 292.5 139.8 289.8 139.5 289.5 139.8 276.2 139.5 275.8 139.2 267.2 138.8 266.8 139.2 259.2 139.5 258.8 139.5 257.5 140.2 255.5 142.2 251.8 146.2 247.8 149.8 245.5 152.8 244.2 152.8 243.5 151.8 243.2 153.5 242.5 152.8 242.5 152.2 241.8 153.5 240.5 155.2 239.5 160.2 235.2 161.5 234.5 163.5 232.5 164.8 231.8 170.2 227.2 172.8 225.5 177.2 221.8 181.8 217.2 191.2 206.5 197.5 197.5 201.2 191.2 201.2 190.5 202.8 186.8 202.8 185.8 204.2 181.5 204.2 179.8 204.8 177.5 204.8 175.2 205.2 174.8 205.2 169.8 205.5 169.5 205.2 156.2 204.8 155.8 204.5 151.5 204.2 151.2 204.2 149.8 203.8 149.5 202.8 144.5 200.2 136.8 197.2 130.8 196.5 130.2 194.8 126.8 189.8 119.8 180.2 109.5 167.2 97.8 166.2 97.5 164.5 95.8 163.5 95.5 158.5 91.8 157.5 91.8 157.2 92.2 154.8 90.2 149.8 87.2 144.2 84.5 143.5 84.5 140.5 82.8 139.8 82.8 137.5 81.5 136.8 81.5 122.5 74.2ZM149.8 243.8 150.2 243.5 150.8 243.8 150.5 244.2ZM150.8 243.5 151.2 243.2 151.8 243.5 151.5 243.8ZM151.5 242.2 151.8 241.8 152.2 242.2 151.8 242.5ZM136.2 43.5 134.8 43.5 133.2 45.8 133.2 46.5 133.5 46.5 133.8 47.2 132.2 50.2 132.2 50.8 130.5 53.8 130.5 54.5 128.8 57.5 128.8 58.2 127.2 61.2 127.2 61.8 121.8 73.2 122.8 72.8 124.5 69.5 125.8 65.8 129.2 59.2 129.2 58.5 133.8 48.8 133.8 48.2 135.5 44.8 136.2 44.2Z" fill="#8305fe"/>
<path d="M121.5 74.2 121.2 74.5 121.5 75.5 120.8 76.2 118.2 81.2 118.2 81.8 114.8 89.5 114.5 91.2 111.2 98.8 109.8 104.5 108.5 108.2 108.2 110.5 107.5 111.8 107.2 114.2 105.8 117.8 105.5 120.2 104.8 121.5 104.5 123.8 103.8 125.2 103.8 126.2 104.5 126.5 104.5 127.5 104.2 127.8 102.8 134.2 102.2 135.8 101.2 136.5 99.8 139.2 98.2 144.2 97.8 153.2 97.5 153.5 97.5 167.5 97.8 167.8 97.8 171.8 98.2 172.2 98.8 181.2 99.5 183.5 99.5 185.5 100.2 187.8 100.2 189.8 100.8 192.2 101.5 198.5 101.8 198.8 101.8 200.5 102.2 200.8 102.5 204.5 103.2 206.5 103.2 208.2 103.5 208.5 103.5 209.8 103.8 210.2 103.8 211.5 104.2 211.8 104.2 213.2 104.5 213.5 104.5 214.8 105.2 216.8 105.2 218.8 105.5 219.2 105.5 220.8 105.8 221.2 105.8 222.8 106.2 223.2 106.8 227.8 107.5 229.8 109.2 231.5 112.5 233.2 112.8 233.8 111.8 234.2 111.8 234.8 110.8 236.2 108.5 245.2 105.2 252.2 104.5 252.8 102.5 256.8 98.5 262.5 96.8 263.8 95.8 263.5 95.2 265.2 95.2 266.8 96.8 266.8 99.8 264.8 106.5 262.8 114.8 262.5 119.2 264.2 122.2 266.5 127.5 272.2 128.5 274.2 130.2 275.8 135.5 285.2 135.5 285.8 137.5 289.8 137.8 291.5 138.8 293.2 138.8 294.8 139.5 296.8 140.8 296.8 141.2 295.2 140.5 294.8 139.8 290.8 139.2 288.8 139.2 285.8 139.5 285.5 139.5 275.8 139.2 275.5 139.2 272.2 138.8 271.8 138.8 268.5 138.5 268.2 138.5 260.2 138.8 259.8 138.8 258.2 139.2 257.8 139.5 255.5 141.5 251.8 145.5 247.8 151.8 244.2 152.8 244.2 152.8 243.8 151.8 243.2 152.2 242.8 153.2 242.8 153.2 242.5 152.2 241.8 153.2 240.5 154.8 239.5 159.8 235.2 161.2 234.5 162.8 232.8 168.8 228.5 170.5 226.8 173.2 225.2 177.5 221.5 185.5 213.2 191.2 206.5 197.5 197.5 201.2 191.2 201.2 190.5 202.8 186.8 202.8 185.8 204.2 181.5 204.2 179.8 204.8 177.5 204.8 175.2 205.2 174.8 205.2 169.8 205.5 169.5 205.2 156.2 204.8 155.8 204.5 151.5 204.2 151.2 204.2 149.8 203.8 149.5 202.8 144.5 199.8 136.2 197.5 131.5 196.8 130.8 195.2 127.5 189.5 119.5 181.5 110.8 166.8 97.8 165.8 97.5 164.2 95.8 163.2 95.5 161.2 93.8 158.2 92.2 157.2 92.2 155.2 90.5 146.8 85.8 146.2 85.8 140.2 82.8 136.5 81.5 123.2 74.8 122.5 74.2ZM149.8 243.8 150.2 243.5 150.8 243.8 150.5 244.2ZM150.8 243.5 151.2 243.2 151.8 243.5 151.5 243.8ZM151.5 242.2 151.8 241.8 152.2 242.2 151.8 242.5Z" fill="#8906f8"/>
<path d="M121.5 74.2 121.2 74.5 121.5 75.5 120.8 76.2 118.2 81.2 118.2 81.8 117.5 82.8 117.5 83.5 114.8 89.5 114.5 91.2 110.8 99.8 110.5 101.5 111.2 101.8 111.2 103.2 110.5 104.5 110.2 106.8 108.8 110.5 108.8 111.5 107.8 114.2 107.5 116.5 106.8 117.8 106.5 120.2 105.2 123.8 102.8 134.2 102.2 135.8 101.5 136.2 100.2 138.8 98.5 143.8 98.2 151.5 97.8 151.8 97.8 168.8 98.2 169.2 98.2 173.2 98.5 173.5 98.5 176.5 98.8 176.8 98.8 179.8 99.2 180.2 99.8 186.8 100.2 187.2 100.2 188.8 100.5 189.2 100.5 190.8 100.8 191.2 101.2 195.2 101.8 197.2 101.8 199.2 102.2 199.5 102.2 201.2 102.8 203.2 103.2 206.8 103.5 207.2 103.5 208.5 103.8 208.8 103.8 210.2 104.2 210.5 104.2 211.8 104.8 213.8 104.8 215.5 105.2 215.8 105.8 221.2 106.2 221.5 107.2 227.2 108.2 229.8 112.8 233.5 112.8 235.2 112.2 235.5 111.5 236.8 110.5 241.2 108.8 245.8 105.2 252.8 101.2 259.2 98.8 262.2 97.2 263.8 96.2 263.8 95.8 263.5 95.2 265.2 95.2 266.8 96.8 266.8 99.8 264.8 106.5 262.8 114.8 262.5 119.2 264.2 122.2 266.5 127.5 272.2 128.5 274.2 130.2 275.8 135.5 285.2 135.5 285.8 137.5 289.8 137.8 291.5 138.8 293.2 138.8 294.8 139.5 296.8 140.8 296.8 141.2 295.2 140.5 294.8 140.2 293.2 139.5 292.2 139.5 289.8 138.8 288.5 139.2 283.8 139.5 283.5 139.5 280.5 139.2 280.2 139.2 275.8 138.8 275.5 138.8 272.5 138.5 272.2 138.5 269.2 138.2 268.8 138.2 258.5 138.5 258.2 138.5 256.8 139.2 254.8 140.8 251.8 144.8 247.8 149.8 244.8 151.2 244.5 150.8 243.5 153.2 242.5 152.8 242.5 152.2 241.5 154.2 239.5 176.8 221.8 185.5 212.8 191.2 206.2 191.8 204.8 194.8 201.2 200.5 192.2 202.5 187.5 203.2 184.2 203.5 183.8 203.5 182.5 203.8 182.2 204.2 179.2 204.5 178.8 204.5 177.2 204.8 176.8 204.8 174.2 205.2 173.8 205.2 168.8 205.5 168.5 205.2 157.2 204.8 156.8 204.5 152.5 204.2 152.2 204.2 150.8 203.8 150.5 203.8 149.2 203.5 148.8 202.8 145.2 200.8 139.2 197.8 132.5 197.2 131.8 194.5 126.8 189.5 119.8 180.2 109.8 169.5 100.2 160.2 93.5 157.2 92.2 149.8 87.5 136.8 81.5 136.2 81.5 123.5 75.2 122.5 74.2ZM149.8 243.8 150.2 243.5 150.8 243.8 150.5 244.2ZM151.5 242.2 151.8 241.8 152.2 242.2 151.8 242.5Z" fill="#8f08ec"/>
<path d="M139.5 292.5 138.8 292.8 138.8 294.8 139.5 296.8 140.8 296.8 141.2 295.2 140.5 294.8 140.2 293.2ZM121.5 74.2 121.2 74.5 121.5 75.5 120.2 77.5 120.8 78.5 119.2 81.5 118.8 83.2 118.2 84.2 117.2 87.5 116.5 88.5 116.5 89.2 115.8 90.2 115.8 90.8 115.2 91.8 115.2 92.5 114.5 93.5 114.5 94.2 113.8 95.2 111.5 101.5 111.5 102.5 108.8 110.8 108.5 113.2 107.8 114.5 107.5 116.8 106.8 118.2 106.5 120.5 105.2 124.2 102.8 134.5 100.2 139.2 98.8 142.8 98.5 147.8 98.2 148.2 98.2 152.8 97.8 153.2 97.8 167.5 98.2 167.8 98.5 175.5 98.8 175.8 99.2 181.5 99.8 183.8 99.8 185.8 100.5 188.2 100.5 190.2 100.8 190.5 100.8 192.2 101.2 192.5 101.2 194.2 101.5 194.5 102.8 204.2 103.2 204.5 104.2 210.8 104.8 212.5 104.8 214.2 105.2 214.5 105.2 215.8 105.8 217.8 106.5 222.8 106.8 223.2 107.8 227.8 108.8 229.8 112.8 233.2 112.8 234.8 113.5 235.8 112.5 236.5 110.8 242.5 107.5 249.5 104.5 254.5 99.5 261.5 97.2 263.8 96.2 263.8 95.8 263.5 95.2 265.2 95.2 266.8 96.8 266.8 99.2 265.2 103.5 263.5 106.2 263.2 106.5 262.8 108.2 262.8 108.5 261.8 109.8 262.5 110.2 261.5 115.5 261.5 117.2 262.2 117.5 262.8 117.8 262.5 118.2 262.8 118.2 263.8 119.5 264.2 120.2 263.5 120.8 264.5 121.2 264.2 126.2 268.8 125.5 269.8 125.8 269.5 126.8 269.8 126.2 270.8 127.5 272.2 128.5 274.2 130.2 275.8 130.5 276.8 131.8 278.5 132.8 280.8 134.2 282.5 135.5 285.2 136.8 288.8 137.2 288.5 138.2 288.8 138.2 289.2 137.5 289.5 137.5 290.5 138.2 292.2 138.5 291.8 139.5 291.8 139.5 290.5 138.5 287.5 138.8 287.2 138.8 285.2 139.2 284.8 139.2 279.2 138.8 278.8 138.8 275.8 138.5 275.5 138.5 272.8 138.2 272.5 138.2 269.8 137.8 269.5 137.8 266.2 137.5 265.8 137.5 259.5 137.8 259.2 138.2 255.8 139.8 252.2 142.8 248.8 146.2 246.5 147.8 245.8 148.5 245.2 149.2 245.2 150.2 243.5 152.8 242.8 152.2 241.8 152.2 241.2 154.2 239.2 164.8 231.2 166.5 229.5 167.8 228.8 169.5 227.2 172.2 225.5 178.2 220.5 185.2 213.2 190.8 206.5 191.5 205.2 194.5 201.5 200.2 192.5 202.8 185.8 203.8 180.2 204.2 179.8 204.5 175.2 204.8 174.8 205.2 160.5 204.8 160.2 204.8 156.2 204.5 155.8 204.5 153.5 204.2 153.2 203.8 149.8 203.5 149.5 202.5 144.5 199.5 136.2 197.2 131.5 191.8 123.2 188.2 118.5 184.2 114.2 171.2 101.8 161.8 94.8 158.5 92.8 157.8 92.8 156.5 91.5 149.8 87.5 136.8 81.5 136.2 81.5 123.5 75.2 122.5 74.2ZM151.5 242.2 151.8 241.8 152.2 242.2 151.8 242.5Z" fill="#940ad9"/>
<path d="M138.8 292.8 138.8 294.8 139.5 296.8 140.8 296.8 141.2 295.2 140.5 294.8 140.2 293.2 139.8 292.8ZM124.5 78.8 122.8 79.5 120.2 82.5 117.2 88.5 117.2 89.2 115.8 91.5 115.8 92.2 112.5 99.5 111.5 102.5 111.5 103.5 110.8 104.8 110.8 105.8 109.8 108.2 109.8 109.2 109.2 110.5 107.5 117.5 106.8 118.8 106.8 119.8 106.2 121.2 106.2 122.2 105.5 123.5 105.5 124.5 104.8 125.8 103.2 133.5 102.5 135.5 100.2 139.5 98.8 143.5 98.5 149.5 98.2 149.8 98.2 155.2 97.8 155.5 97.8 165.2 98.2 165.5 98.2 170.2 98.5 170.5 98.5 174.2 98.8 174.5 99.2 180.5 99.5 180.8 99.8 185.2 100.2 185.5 100.2 187.2 100.5 187.5 100.5 189.2 101.2 191.5 101.2 193.5 101.5 193.8 101.5 195.5 102.2 197.5 103.2 204.8 103.5 205.2 104.2 209.8 104.8 211.5 104.8 212.8 105.2 213.2 105.2 214.5 105.5 214.8 105.5 216.2 105.8 216.5 105.8 217.8 106.2 218.2 106.2 219.5 106.5 219.8 107.5 225.5 109.2 229.5 112.8 233.2 112.8 234.8 113.8 236.8 112.8 237.5 112.8 238.5 111.2 243.5 107.2 250.8 102.5 257.8 98.5 262.8 96.8 264.2 95.8 263.5 95.2 265.2 95.2 266.8 96.8 266.8 99.8 264.8 101.5 264.5 103.5 263.5 104.5 263.5 105.2 263.2 105.5 262.2 106.5 262.8 106.8 261.8 108.8 261.8 109.2 261.5 112.2 261.5 112.5 261.2 116.2 261.5 118.2 262.5 118.5 263.2 118.8 262.8 119.2 263.5 119.5 263.2 119.8 263.8 120.2 263.5 121.5 264.2 124.5 266.8 128.2 271.2 129.5 273.8 128.8 274.5 130.2 275.8 132.8 280.8 134.2 282.5 136.2 287.2 136.5 286.8 137.5 287.2 137.5 287.5 136.8 287.8 136.8 288.8 137.2 288.5 138.2 288.8 138.2 289.2 137.5 289.5 137.5 290.5 138.2 292.2 139.5 291.5 139.5 290.8 138.5 288.8 138.5 286.2 138.8 285.8 138.8 278.5 138.5 278.2 138.5 275.5 138.2 275.2 138.2 272.8 137.8 272.5 137.5 267.5 137.2 267.2 137.2 257.5 137.5 257.2 137.8 254.8 139.2 252.2 142.5 248.5 145.8 246.2 147.8 245.5 147.8 244.5 148.2 244.2 149.2 244.2 150.2 243.5 152.8 242.8 151.8 241.5 153.8 239.2 176.8 221.5 185.5 212.5 193.2 203.2 200.5 191.8 202.8 185.5 203.2 182.8 203.8 181.2 204.2 177.5 204.5 177.2 204.5 174.8 204.8 174.5 205.2 160.8 204.8 160.5 204.5 154.2 204.2 153.8 204.2 152.2 203.2 148.8 203.2 147.5 199.5 136.5 194.8 127.8 193.2 125.8 192.2 123.8 187.2 117.5 178.2 108.5 170.8 101.8 167.2 98.8 158.5 93.2 156.8 92.8 153.5 91.2 151.2 89.5 145.2 86.5 140.5 84.8 138.2 83.5 131.8 81.2 128.5 79.5ZM151.5 241.8 151.8 241.5 152.2 242.2 151.8 242.5Z" fill="#9a0cc2"/>
<path d="M138.8 292.8 138.8 294.8 139.5 296.8 140.8 296.8 141.2 295.2 140.5 294.8 139.8 292.8ZM138.5 289.2 137.5 289.5 137.5 290.5 138.2 292.2 139.2 291.5 139.2 290.2ZM125.5 80.5 123.5 81.2 120.8 83.5 117.8 88.5 113.8 97.2 109.2 111.2 109.2 112.2 108.5 113.5 107.2 119.2 105.5 123.8 102.5 135.8 100.5 139.2 98.8 144.5 98.5 152.8 98.2 153.2 98.2 167.8 98.5 168.2 98.5 172.2 98.8 172.5 99.2 178.8 99.5 179.2 100.2 186.2 100.5 186.5 100.5 188.2 100.8 188.5 100.8 190.2 101.5 192.5 101.5 194.5 101.8 194.8 102.8 202.2 103.2 202.5 103.2 203.8 103.5 204.2 104.2 208.8 104.8 210.5 104.8 211.8 105.5 213.5 105.5 214.8 105.8 215.2 105.8 216.5 106.2 216.8 106.2 218.2 106.5 218.5 107.5 224.2 108.8 228.2 110.2 230.2 112.8 232.8 112.8 234.5 114.2 238.2 113.5 238.5 112.2 242.8 109.2 248.5 103.5 256.8 99.5 261.8 96.5 264.5 95.5 264.2 95.2 266.8 96.8 266.8 99.8 264.8 103.2 263.8 103.8 262.5 104.5 263.2 104.8 262.2 105.8 262.5 106.2 261.8 107.8 261.8 109.8 261.2 115.8 261.2 120.2 263.5 120.8 263.5 126.2 268.5 128.8 272.2 129.2 273.2 130.2 274.2 129.5 275.2 134.2 282.5 136.2 287.2 136.5 286.8 137.5 287.2 137.5 287.5 136.8 287.8 136.8 288.8 138.2 288.2 138.5 284.2 138.8 283.8 138.5 278.2 138.2 277.8 138.2 275.5 137.8 275.2 137.2 268.2 136.8 267.8 136.8 265.2 136.5 264.8 136.5 257.8 136.8 257.5 136.8 255.8 138.2 252.5 140.8 249.2 144.5 246.5 146.2 245.8 146.2 245.2 146.8 244.5 149.2 244.2 150.2 243.5 152.8 242.8 152.5 242.2 151.8 242.5 151.5 241.5 153.5 239.2 172.5 224.8 178.8 219.5 184.8 213.2 190.5 206.5 195.2 200.2 200.8 190.8 203.5 182.2 203.8 178.8 204.2 178.5 204.2 176.5 204.5 176.2 204.5 173.2 204.8 172.8 204.8 158.5 204.5 158.2 204.5 155.2 204.2 154.8 203.8 151.2 203.5 150.8 203.5 149.5 203.2 149.2 202.5 145.5 199.5 136.8 196.8 131.5 192.2 124.2 189.2 120.2 180.2 110.5 168.2 99.8 159.8 94.2 157.8 93.2 156.8 93.2 145.8 87.2 143.5 86.5 137.8 83.8 129.2 80.8Z" fill="#9f0fa6"/>
<path d="M138.8 292.8 138.8 294.8 139.5 296.8 140.8 296.8 141.2 295.2 140.2 294.5 140.2 293.5 139.5 292.8ZM137.5 289.5 137.5 290.5 138.2 292.2 139.2 291.5 139.2 290.5 138.5 289.5ZM137.8 287.5 136.8 287.8 136.8 288.8 138.2 288.2ZM125.8 81.8 125.5 82.2 124.5 82.2 122.8 83.2 120.5 85.5 118.2 89.2 113.5 98.8 109.2 111.8 109.2 112.8 108.2 115.2 108.2 116.2 106.5 120.8 106.5 121.8 105.5 124.2 103.2 134.2 102.2 136.5 101.5 137.2 99.2 143.5 98.8 148.8 98.5 149.2 98.5 154.2 98.2 154.5 98.2 166.2 98.5 166.5 98.8 174.5 99.2 174.8 99.2 177.8 99.5 178.2 99.5 180.5 99.8 180.8 100.5 187.5 100.8 187.8 100.8 189.5 101.2 189.8 102.5 199.5 102.8 199.8 104.2 207.8 104.8 209.5 104.8 210.8 105.5 212.5 105.5 213.8 106.2 215.5 106.5 218.5 107.5 221.5 107.5 222.8 109.5 228.5 112.2 231.5 113.2 233.2 112.8 234.5 114.5 238.2 114.5 239.2 113.8 239.5 112.8 243.2 111.5 245.8 108.8 249.8 100.5 260.8 97.5 263.8 96.5 264.5 95.5 264.2 95.2 266.8 96.8 266.8 99.8 264.8 103.2 263.8 103.8 262.5 104.2 262.8 104.5 262.2 108.8 261.5 109.2 261.2 110.8 261.2 111.2 260.8 115.5 260.8 116.5 261.2 118.8 262.8 121.2 263.5 122.2 264.2 126.8 269.2 129.5 273.5 130.5 274.5 129.8 275.5 131.8 278.5 132.8 280.8 134.2 282.5 136.2 287.2 137.2 286.5 137.8 286.8 138.5 285.2 138.2 277.8 137.8 277.5 137.5 273.2 136.8 270.8 136.5 266.2 136.2 265.8 136.2 262.5 135.8 262.2 136.2 255.8 137.5 252.2 141.2 248.2 144.5 246.2 144.2 245.8 144.5 245.2 149.2 244.2 149.8 243.5 150.8 243.5 152.8 242.5 152.5 242.2 151.5 242.5 151.2 241.8 153.2 239.2 177.2 220.8 185.5 212.2 193.8 201.8 199.8 192.5 202.5 185.8 203.5 180.2 203.8 179.8 204.2 175.2 204.5 174.8 204.8 160.5 204.5 160.2 204.5 156.2 204.2 155.8 203.8 151.8 203.5 151.5 203.5 150.2 203.2 149.8 202.2 144.8 200.2 138.8 196.8 131.8 196.2 131.2 194.5 127.8 189.5 120.8 179.5 110.2 169.5 101.2 160.5 94.8 157.2 93.2 154.8 92.5 151.8 90.5 146.5 87.8 145.8 87.8 144.2 86.8 140.8 85.8 138.2 84.5 130.8 82.2Z" fill="#a41285"/>
<path d="M138.8 292.8 138.8 294.8 139.5 296.8 140.8 296.8 141.2 295.2 140.2 294.5 139.8 293.2ZM137.5 289.5 137.5 290.5 138.2 292.2 139.2 291.5 139.2 290.8 138.5 289.5ZM136.8 288.8 137.5 288.5 137.8 287.8 136.8 287.8ZM126.5 82.8 123.8 83.8 120.5 86.8 117.5 91.5 114.2 98.2 114.2 98.8 113.2 100.5 112.5 103.2 111.2 106.2 111.2 107.2 109.2 112.5 109.2 113.5 108.2 115.8 107.2 120.2 105.8 123.5 105.8 124.5 105.2 125.8 103.2 134.5 100.5 139.8 99.2 144.5 98.8 151.8 98.5 152.2 98.5 168.2 98.8 168.5 99.2 176.2 99.5 176.5 99.5 179.2 99.8 179.5 99.8 181.8 100.2 182.2 100.5 186.5 101.2 188.8 101.2 190.8 101.8 192.8 102.5 198.5 102.8 198.8 104.5 208.5 105.8 212.8 105.8 214.2 107.5 220.2 107.5 221.5 108.2 222.8 108.2 223.8 109.2 226.8 110.2 228.8 113.2 232.5 112.8 234.2 113.5 235.2 113.5 236.2 115.2 240.2 114.5 240.5 113.8 242.8 111.8 246.5 101.8 259.5 96.8 264.2 96.2 265.2 95.2 265.2 95.2 266.8 96.8 266.8 99.2 265.2 102.2 264.2 102.2 263.2 102.5 262.8 103.2 263.5 103.2 262.8 104.2 262.2 105.2 262.2 108.2 261.2 109.5 261.2 109.8 260.8 111.8 260.8 112.2 260.5 115.2 260.5 116.2 260.8 119.8 263.2 120.8 263.2 122.5 264.2 126.5 268.5 129.8 273.8 130.8 274.8 131.5 276.2 130.8 277.2 131.8 278.5 132.8 280.8 134.2 282.5 136.2 287.2 137.2 286.5 137.8 286.5 138.2 285.8 138.2 280.2 137.8 279.8 137.8 277.5 137.5 277.2 137.5 275.5 137.2 275.2 137.2 273.5 136.8 273.2 136.8 271.5 136.2 269.2 136.2 267.2 135.8 266.8 135.8 264.5 135.5 264.2 135.5 255.5 136.8 251.8 140.2 248.2 142.5 246.8 142.5 246.2 143.2 245.5 145.5 245.2 152.5 242.8 152.8 242.5 152.5 242.2 151.5 242.5 151.2 241.5 152.8 239.2 176.2 221.5 179.8 218.2 184.5 213.2 192.5 203.5 199.2 193.5 202.2 186.5 202.2 185.5 203.5 181.2 204.2 174.5 204.5 174.2 204.8 161.8 204.5 161.5 204.2 154.5 203.8 154.2 203.8 152.5 202.8 149.2 202.8 147.8 199.2 136.8 194.5 128.2 191.8 124.2 186.8 117.8 178.2 109.2 170.8 102.5 161.2 95.5 158.2 93.8 156.5 93.5 147.2 88.5 146.5 88.5 144.8 87.5 141.5 86.5 140.5 85.8 131.8 83.2Z" fill="#a91562"/>
<path d="M138.8 293.2 138.8 294.8 139.5 296.8 140.8 296.8 141.2 295.2 140.2 294.5 139.8 293.2ZM137.5 289.5 137.5 290.5 138.2 292.2 138.8 291.8 139.2 291.2 138.8 290.5 138.2 290.2 138.5 289.8ZM136.8 288.8 137.8 288.2 136.8 287.8ZM126.5 83.8 123.5 85.2 122.2 86.2 119.8 88.8 117.5 92.5 113.5 100.5 105.8 123.8 105.8 124.8 104.5 128.8 104.2 131.2 103.5 132.5 103.2 134.8 101.5 137.8 99.5 143.5 99.2 148.5 98.8 148.8 98.8 153.5 98.5 153.8 98.5 166.8 98.8 167.2 99.2 174.8 99.5 175.2 99.5 178.2 99.8 178.5 99.8 180.8 100.2 181.2 100.8 187.8 101.2 188.2 101.2 189.8 101.5 190.2 101.5 191.8 101.8 192.2 101.8 193.8 102.2 194.2 102.2 195.8 102.8 197.8 102.8 199.5 103.2 199.8 103.8 204.5 104.5 206.2 104.5 207.5 105.5 210.5 105.5 211.8 107.2 217.5 107.8 221.5 108.5 222.8 109.2 225.8 110.8 229.2 113.2 232.2 112.8 234.2 113.5 235.2 114.5 238.8 115.5 240.5 115.5 241.5 114.8 241.8 113.2 245.8 108.8 250.8 103.5 257.8 98.2 263.5 96.2 265.2 95.2 265.2 95.2 266.8 96.8 266.8 99.2 265.2 102.2 264.2 102.2 263.2 102.5 262.8 102.8 263.2 103.2 262.5 106.2 261.5 110.2 260.8 110.5 260.5 112.8 260.5 113.2 260.2 116.2 260.5 117.8 261.5 119.2 262.8 120.2 262.8 121.8 263.5 123.2 264.5 126.2 267.8 131.8 276.5 131.8 276.8 131.2 277.2 131.2 277.8 134.2 282.5 136.2 287.2 137.8 286.2 137.8 285.2 138.2 284.8 137.8 279.5 137.5 279.2 136.8 273.5 136.5 273.2 135.5 265.8 135.2 265.5 135.2 262.8 134.8 262.5 134.8 255.2 135.2 254.8 135.2 253.5 136.5 250.8 140.5 247.2 140.8 246.2 145.5 245.2 146.5 244.5 152.5 242.8 152.8 242.5 152.5 242.2 151.5 242.5 150.8 241.5 154.5 237.5 161.2 232.8 162.5 231.5 163.8 230.8 177.2 220.5 185.2 212.2 192.8 202.8 198.5 194.5 199.5 192.2 200.2 191.5 200.2 190.8 201.2 189.2 202.2 186.2 202.2 185.2 203.2 182.2 203.2 180.8 203.5 180.5 203.8 176.2 204.2 175.8 204.2 172.2 204.5 171.8 204.5 159.2 204.2 158.8 204.2 155.5 203.8 155.2 203.5 151.5 203.2 151.2 203.2 149.8 202.8 149.5 202.2 145.8 201.5 144.5 201.5 143.5 199.2 137.2 196.5 131.8 190.2 122.2 187.5 118.8 180.5 111.5 170.2 102.2 166.8 99.5 160.2 95.2 157.5 93.8 155.2 93.2 147.2 88.8 146.5 88.8 142.2 86.8 136.2 84.8 132.2 84.2 131.8 83.8Z" fill="#ad193c"/>
<path d="M138.8 293.2 138.8 294.8 139.5 296.8 140.8 296.8 140.8 296.2 140.5 296.2 140.2 295.5 141.2 295.2 140.2 294.5 139.8 293.2ZM137.5 289.8 138.2 292.2 139.2 291.5 138.2 290.2 138.5 289.8ZM136.8 288.8 137.8 288.2 136.8 288.2ZM127.5 84.5 123.5 86.2 120.2 89.5 117.8 92.8 114.2 99.8 114.2 100.5 112.2 104.8 107.8 117.8 107.8 118.8 106.2 123.2 106.2 124.2 105.5 125.5 105.5 126.5 104.5 129.2 103.2 135.2 100.8 139.8 99.5 144.5 99.2 150.8 98.8 151.2 98.8 168.8 99.2 169.2 99.2 173.2 99.5 173.5 99.8 179.8 100.2 180.2 100.5 184.8 100.8 185.2 100.8 186.8 101.5 189.2 101.5 191.2 102.2 193.2 102.2 194.8 102.5 195.2 102.5 196.8 102.8 197.2 104.2 205.2 104.8 206.8 104.8 208.2 105.2 208.5 108.2 221.5 109.8 226.5 110.8 228.5 113.5 232.2 113.5 233.2 112.8 234.2 113.5 235.2 116.2 242.5 115.2 243.2 115.2 243.8 113.8 246.2 108.8 251.5 103.2 258.5 97.8 263.8 96.2 265.2 95.2 265.2 95.2 266.8 96.8 266.8 99.2 265.2 102.2 264.2 102.2 263.2 102.5 262.8 102.8 263.2 103.2 262.5 103.8 262.5 105.8 261.5 106.8 261.5 108.2 260.8 110.8 260.5 111.2 260.2 115.8 260.2 116.8 260.5 118.8 262.5 121.8 263.2 126.8 268.5 131.2 275.2 131.2 275.8 131.8 276.5 131.8 276.8 131.2 277.2 131.2 277.8 134.2 282.5 136.2 287.2 137.5 286.5 137.8 285.8 137.8 281.5 137.5 281.2 137.5 279.2 137.2 278.8 136.5 273.5 136.2 273.2 136.2 271.8 135.8 271.5 135.8 270.2 135.2 268.2 135.2 266.5 134.5 264.2 134.5 261.5 134.2 261.2 134.2 254.2 135.2 251.2 136.2 249.8 138.5 247.8 138.2 247.2 139.2 246.5 140.5 246.5 141.8 245.8 145.2 245.2 146.2 244.5 147.2 244.5 148.5 243.8 149.5 243.8 152.5 242.8 152.8 242.5 152.5 242.2 151.8 242.5 150.8 242.2 150.8 240.8 154.2 237.5 176.2 221.2 184.2 213.2 190.2 206.2 198.2 194.8 200.5 190.5 202.2 185.8 202.5 183.2 203.2 181.5 203.5 177.8 203.8 177.5 203.8 175.2 204.2 174.8 204.5 160.8 204.2 160.5 204.2 156.5 203.8 156.2 203.5 152.2 203.2 151.8 203.2 150.5 202.8 150.2 201.8 145.2 199.2 137.5 196.2 131.5 192.2 125.2 187.8 119.5 179.2 110.5 169.5 101.8 160.8 95.8 156.8 93.8 156.2 93.8 147.8 89.5 147.2 89.5 142.8 87.5 133.8 84.8Z" fill="#b21e14"/>
<path d="M138.8 293.2 138.8 294.8 139.5 296.8 140.8 296.8 140.8 296.2 140.5 296.2 140.2 295.5 141.2 295.2 140.2 294.8 139.8 293.2ZM137.5 289.8 138.2 292.2 138.8 291.8 138.8 290.8 137.8 290.8 137.5 290.5 138.5 289.8ZM136.8 288.8 137.8 288.2 136.8 288.2ZM128.2 85.2 123.8 86.8 121.5 88.8 118.8 92.2 114.8 99.2 114.8 99.8 112.2 105.5 111.2 109.2 110.5 110.2 108.8 115.2 108.8 116.2 106.5 122.5 106.5 123.5 105.5 125.8 103.8 133.2 102.8 136.2 100.8 140.2 99.8 143.5 99.5 148.5 99.2 148.8 99.2 153.2 98.8 153.5 98.8 167.2 99.2 167.5 99.2 171.5 99.5 171.8 99.8 178.5 100.2 178.8 100.5 183.8 101.2 186.2 101.2 188.2 101.5 188.5 102.2 194.2 102.5 194.5 102.8 197.8 103.2 198.2 103.5 201.2 104.2 202.8 104.5 205.8 104.8 206.2 107.5 217.8 108.2 219.2 108.5 221.5 109.8 225.5 113.8 232.5 114.2 234.5 113.5 235.2 113.5 235.8 116.8 243.8 115.8 244.5 115.5 245.5 107.8 253.2 105.5 256.2 99.2 262.8 96.2 265.2 95.2 265.2 95.2 266.8 96.8 266.8 99.2 265.2 100.5 264.8 100.5 263.8 100.8 263.5 101.2 263.8 101.5 263.2 101.8 263.5 102.2 262.8 106.5 261.2 107.5 261.2 108.8 260.5 111.5 260.2 111.8 259.8 115.8 259.8 116.8 260.2 119.5 262.8 121.5 262.8 122.2 263.2 126.5 267.8 131.2 275.2 132.2 277.2 131.5 278.2 132.8 280.8 134.2 282.5 136.2 287.2 137.5 286.2 137.5 280.8 137.2 280.5 137.2 278.8 136.8 278.5 136.8 277.2 136.5 276.8 136.5 275.5 136.2 275.2 136.2 273.8 135.8 273.5 135.8 272.2 135.5 271.8 135.5 270.5 135.2 270.2 135.2 268.8 134.8 268.5 134.8 267.2 134.2 265.2 133.8 260.8 133.5 260.5 133.5 256.2 133.2 255.2 133.5 254.8 133.5 252.5 134.2 250.8 136.2 248.5 136.2 247.8 137.2 247.2 139.2 246.5 140.5 246.5 141.5 245.8 144.8 245.2 145.8 244.5 150.8 243.5 150.8 242.8 150.2 241.8 150.8 240.5 153.8 237.5 164.2 230.2 177.5 219.8 181.8 215.5 189.2 207.2 197.2 196.2 197.5 195.2 198.8 193.5 201.2 188.5 202.8 182.5 203.5 177.2 203.8 176.8 204.5 164.2 204.2 163.8 204.2 157.8 203.8 157.5 203.5 152.8 203.2 152.5 202.2 146.8 199.8 139.5 194.8 129.5 191.5 124.5 186.5 118.2 177.8 109.5 170.8 103.2 166.2 99.5 159.8 95.5 155.5 93.5 154.8 93.5 147.8 89.8 138.5 86.5 137.5 86.5 134.5 85.5 132.5 85.5 132.2 85.2Z" fill="#b72200"/>
<path d="M138.8 293.2 138.8 294.8 139.5 296.8 140.8 296.8 140.8 296.2 140.2 295.8 139.8 293.2ZM137.5 289.8 138.2 292.2 138.8 291.8 138.5 291.2 138.8 290.8 137.8 290.8 137.5 290.5 138.2 290.2 138.2 289.8ZM136.8 288.2 136.8 288.8 137.5 288.5 137.5 288.2ZM128.5 85.8 124.2 87.5 120.5 90.8 116.8 96.2 113.5 102.8 106.8 121.8 106.8 122.8 105.8 125.2 105.8 126.2 105.2 127.5 105.2 128.5 104.5 129.8 103.2 135.5 100.8 140.5 100.8 141.5 99.8 144.5 99.5 150.2 99.2 150.5 99.2 169.5 99.5 169.8 99.5 173.5 99.8 173.8 99.8 177.2 100.2 177.5 100.5 182.8 100.8 183.2 100.8 185.2 101.2 185.5 102.5 195.2 102.8 195.5 104.2 203.5 105.2 206.5 105.2 207.8 106.2 210.5 108.5 220.5 110.2 225.5 114.2 232.5 114.2 233.8 114.8 235.8 113.8 236.5 115.5 240.2 115.5 241.2 116.2 242.2 116.2 242.8 117.5 245.2 112.8 248.8 98.5 263.5 96.2 265.2 95.2 265.2 95.2 266.8 96.8 266.8 99.2 265.2 100.5 264.8 100.5 263.8 100.8 263.5 101.2 263.8 101.5 263.2 101.8 263.5 101.8 263.2 102.8 262.5 103.5 262.5 108.2 260.5 112.2 259.8 112.5 259.5 115.8 259.5 116.8 259.8 119.2 262.5 121.2 262.5 122.5 263.2 125.2 265.8 127.2 268.5 132.2 277.2 131.5 278.2 132.8 280.8 134.2 282.5 136.2 287.2 136.8 286.8 137.5 285.8 137.5 282.5 137.2 282.2 137.2 280.2 136.8 279.8 136.2 275.2 135.8 274.8 135.5 272.2 135.2 271.8 134.8 269.2 133.8 265.8 133.8 264.2 133.5 263.8 133.2 260.2 132.8 259.8 132.8 257.2 132.5 256.8 132.5 251.8 133.2 250.2 133.8 249.5 133.8 248.5 134.8 247.8 136.8 247.5 139.2 246.5 140.2 246.5 141.2 245.8 142.2 245.8 143.5 245.2 144.5 245.2 145.8 244.5 148.8 243.8 148.5 243.2 149.8 242.2 150.5 240.5 153.8 237.2 162.5 231.2 176.5 220.5 184.2 212.8 189.8 206.2 197.5 195.5 200.8 189.2 201.8 186.2 202.8 180.5 203.2 180.2 203.5 176.2 203.8 175.8 203.8 171.5 204.2 171.2 204.2 159.5 203.8 159.2 203.8 155.8 203.5 155.5 203.5 153.5 203.2 153.2 202.8 150.2 202.5 149.8 201.5 144.8 198.8 137.5 195.8 131.5 191.8 125.2 187.2 119.2 180.5 112.2 170.2 102.8 161.2 96.5 147.8 90.2 140.5 87.5 139.5 87.5 138.2 86.8 135.5 86.5 135.2 86.2 133.5 86.2 133.2 85.8Z" fill="#bb2800"/>
<path d="M138.8 293.2 138.8 294.8 139.5 296.8 140.8 296.8 140.8 296.2 140.2 295.8 140.2 294.2 139.8 293.5ZM137.5 289.8 138.2 292.2 138.8 291.8 138.5 291.2 138.8 290.8 137.8 290.8 137.5 290.5 138.2 290.2 138.2 289.8ZM136.8 288.2 136.8 288.8 137.5 288.5 137.5 288.2ZM128.2 86.5 124.2 88.2 120.5 91.5 117.8 95.2 114.5 101.2 114.5 101.8 111.5 108.5 110.8 111.2 110.2 112.2 105.8 125.5 105.8 126.5 104.5 130.2 103.5 134.8 101.8 138.2 100.5 142.2 100.2 144.8 99.8 145.2 99.8 147.8 99.5 148.2 99.5 152.2 99.2 152.5 99.2 168.2 99.5 168.5 99.8 175.8 100.2 176.2 100.2 179.2 100.5 179.5 101.2 186.5 101.5 186.8 101.5 188.5 101.8 188.8 101.8 190.5 102.2 190.8 102.2 192.5 102.5 192.8 102.5 194.5 102.8 194.8 104.2 202.8 104.5 203.2 105.5 208.5 106.2 209.8 106.8 213.5 107.5 214.8 107.8 217.2 108.5 218.5 108.5 219.5 109.2 220.8 109.8 223.8 114.5 232.8 115.2 236.8 114.2 237.5 116.2 241.8 116.2 242.8 118.2 246.2 117.5 246.8 114.2 248.5 110.8 251.2 100.8 261.5 96.2 265.5 95.2 265.2 95.2 266.8 96.8 266.8 99.2 265.2 100.5 264.8 100.5 263.8 100.8 263.5 101.2 263.8 101.5 263.2 101.8 263.5 102.2 262.8 105.8 261.2 109.8 259.8 112.8 259.5 113.2 259.2 116.5 259.5 118.5 261.2 119.2 262.5 121.8 262.5 122.5 262.8 124.8 265.2 126.8 267.8 132.8 278.5 132.2 278.8 132.2 279.5 134.2 282.5 136.2 287.2 137.2 286.5 137.2 285.5 137.5 285.2 137.2 284.5 137.2 281.5 136.8 281.2 136.2 276.5 135.5 274.8 135.5 273.5 134.2 269.2 134.2 267.8 133.5 266.2 132.8 261.2 132.5 260.8 132.5 259.2 132.2 258.8 132.2 256.8 131.8 256.5 131.8 254.5 131.5 254.2 131.5 250.5 131.8 250.2 131.8 249.2 132.5 248.5 136.8 247.5 138.8 246.5 139.8 246.5 142.2 245.5 146.8 244.5 146.8 243.5 148.8 242.5 150.2 240.5 153.2 237.5 169.5 225.8 177.5 219.5 182.5 214.5 189.2 206.8 197.2 195.8 200.2 190.5 201.8 185.8 202.8 180.2 203.2 179.8 203.5 175.2 203.8 174.8 204.2 160.8 203.8 160.5 203.5 154.2 203.2 153.8 203.2 152.5 202.8 152.2 201.8 146.5 199.2 138.5 196.8 133.5 196.2 132.8 193.5 127.8 189.2 121.8 185.8 117.8 173.8 106.2 166.5 100.2 162.5 97.5 157.5 94.8 154.5 93.8 148.8 90.8 140.5 87.8 139.5 87.8 136.5 86.8 135.2 86.8 134.8 86.5Z" fill="#bf2d00"/>
<path d="M138.8 293.2 138.8 294.8 139.5 296.8 140.8 296.8 140.8 296.2 140.2 295.8 139.8 293.5ZM137.5 289.8 138.2 292.2 138.8 291.8 138.5 290.8 137.5 290.5 138.2 290.2 138.2 289.8ZM136.8 288.2 136.8 288.8 137.5 288.5 137.5 288.2ZM129.2 86.8 125.8 87.8 124.2 88.8 120.5 92.2 117.2 96.8 114.2 102.5 114.2 103.2 113.2 104.8 111.5 109.8 110.8 110.8 110.2 113.5 109.5 114.5 106.5 123.5 106.5 124.5 104.5 130.5 103.5 135.2 101.8 138.5 100.5 142.5 100.2 145.8 99.8 146.2 99.8 149.2 99.5 149.5 99.5 153.8 99.2 154.2 99.2 166.5 99.5 166.8 99.5 170.8 99.8 171.2 100.2 178.2 100.5 178.5 101.2 185.8 101.5 186.2 101.5 187.8 101.8 188.2 101.8 189.8 102.2 190.2 102.2 191.8 102.5 192.2 102.5 193.8 102.8 194.2 104.2 202.2 104.5 202.5 106.5 211.5 107.2 212.8 107.5 215.2 108.2 216.5 108.2 217.5 108.8 218.8 108.8 219.8 110.2 223.8 114.8 233.2 115.2 235.8 115.5 236.2 115.5 238.2 114.8 238.5 114.8 239.2 116.2 241.8 116.5 243.5 118.8 247.8 118.5 248.2 115.5 248.5 111.8 250.8 99.5 262.8 97.8 263.8 96.2 265.5 95.2 265.2 95.2 266.8 96.8 266.8 99.2 265.2 100.5 264.8 100.5 263.8 100.8 263.5 101.2 263.8 101.5 263.2 101.8 263.5 102.2 262.8 106.5 260.8 111.8 259.2 114.2 259.2 114.5 258.8 116.5 259.2 118.2 260.2 119.2 262.5 121.5 262.2 122.8 262.8 126.5 267.2 132.8 278.5 132.2 278.8 132.2 279.5 134.2 282.5 136.2 287.2 136.8 286.8 137.2 285.8 136.8 280.8 136.5 280.5 135.8 276.2 133.2 266.5 131.2 255.2 130.2 251.8 129.2 249.8 130.2 249.2 131.2 249.2 140.8 245.8 145.2 244.8 144.8 244.5 145.2 243.8 145.8 243.8 146.5 243.2 148.2 242.5 152.8 237.5 174.2 222.2 179.5 217.5 188.5 207.5 194.8 199.2 198.5 193.5 200.5 189.5 201.8 185.5 202.8 179.5 203.2 179.2 203.5 174.2 203.8 173.8 203.8 165.8 204.2 165.5 204.2 164.5 203.8 164.2 203.8 157.8 203.5 157.5 203.2 152.8 201.8 148.2 201.8 146.8 199.2 138.8 194.8 130.2 191.5 125.2 186.8 119.2 172.8 105.5 167.2 100.8 162.2 97.5 159.8 96.5 158.5 95.5 157.8 95.5 151.2 92.2 150.5 92.2 148.2 90.8 144.8 89.8 143.8 89.2 142.8 89.2 137.8 87.5 134.5 87.2 134.2 86.8Z" fill="#c33400"/>
<path d="M138.8 293.2 138.8 294.8 139.5 296.8 140.8 296.8 140.8 296.2 140.2 295.8 139.8 293.5ZM137.5 289.8 138.2 292.2 138.8 291.8 138.5 290.8 137.5 290.5 138.2 290.2 138.2 289.8ZM136.8 288.2 136.8 288.8 137.5 288.5 137.5 288.2ZM131.2 87.2 130.8 87.5 128.5 87.5 126.5 88.2 123.2 90.2 119.2 94.5 116.2 99.2 113.8 103.8 113.8 104.5 112.8 106.2 111.2 111.2 110.5 112.2 109.2 116.8 108.5 117.8 106.5 123.8 106.5 124.8 105.8 126.2 105.8 127.2 105.2 128.5 103.8 134.2 100.8 141.8 100.5 144.5 100.2 144.8 100.2 147.2 99.8 147.5 99.8 150.5 99.5 150.8 99.5 169.2 99.8 169.5 100.2 176.8 100.5 177.2 101.2 185.2 101.5 185.5 101.5 187.2 101.8 187.5 101.8 189.2 102.2 189.5 102.2 191.2 102.5 191.5 102.5 193.2 102.8 193.5 104.2 201.5 104.5 201.8 106.5 210.8 108.5 216.8 108.5 217.8 109.8 221.2 109.8 222.2 110.5 223.2 110.8 224.8 114.5 231.5 115.5 234.5 115.8 238.8 116.2 239.2 115.2 239.8 117.2 244.2 117.2 244.8 119.8 249.2 119.2 249.8 118.2 249.2 115.5 249.2 112.5 250.8 108.2 254.5 98.8 263.5 97.5 264.2 96.2 265.5 95.2 265.2 95.2 266.8 96.8 266.8 99.2 265.2 100.5 264.8 100.2 264.5 100.5 263.5 108.8 259.8 112.2 259.2 112.5 258.8 116.5 258.8 117.5 259.2 118.5 260.2 118.8 261.8 119.5 262.5 120.8 261.8 122.2 262.2 123.2 262.8 125.5 265.5 129.5 271.8 132.8 278.5 132.2 278.8 132.2 279.5 134.2 282.5 136.2 287.2 136.8 286.8 136.5 286.2 137.2 285.5 136.8 284.5 136.8 281.8 136.5 281.5 136.5 280.2 136.2 279.8 136.2 278.8 135.8 278.5 135.8 277.5 135.5 277.2 135.5 276.2 135.2 275.8 135.2 274.8 134.8 274.5 134.8 273.5 134.5 273.2 134.5 272.2 131.8 262.5 131.8 261.2 131.5 260.8 131.5 259.5 131.2 259.2 130.5 255.5 129.5 253.2 128.2 251.8 127.5 251.5 126.8 251.8 126.5 251.5 126.5 250.5 135.5 247.5 136.5 247.5 138.5 246.5 143.2 245.5 142.8 244.8 143.5 244.2 144.2 244.2 148.5 241.8 152.5 237.5 171.8 223.8 177.2 219.5 183.2 213.5 189.5 206.2 197.2 195.5 199.2 192.2 201.2 187.5 201.2 186.5 201.8 185.2 201.8 183.8 202.5 182.2 202.5 180.8 202.8 180.5 203.2 176.5 203.5 176.2 203.5 172.8 203.8 172.5 203.8 159.2 203.5 158.8 203.2 153.5 202.8 153.2 202.8 151.8 202.5 151.5 202.5 150.2 202.2 149.8 201.2 144.8 198.5 137.5 195.8 132.2 191.8 125.8 187.8 120.5 178.8 111.2 171.5 104.5 165.5 99.8 161.8 97.5 145.8 90.2 139.2 88.2 137.8 88.2 135.8 87.5Z" fill="#c83b00"/>
<path d="M138.8 293.2 138.8 294.8 139.5 296.8 140.8 296.8 140.8 296.2 140.2 295.8 140.2 294.5 139.5 293.2ZM137.5 289.8 138.2 292.2 138.8 291.8 138.5 290.8 137.5 290.5 138.2 290.2 138.2 289.8ZM136.8 288.2 136.8 288.8 137.5 288.5 137.5 288.2ZM129.5 87.8 125.5 89.2 123.5 90.5 120.2 93.8 116.5 99.2 113.2 105.8 113.2 106.5 111.2 110.8 110.8 112.5 110.2 113.5 108.8 118.2 108.2 119.2 105.8 126.5 105.8 127.5 104.8 129.8 103.8 134.5 100.8 142.2 100.5 145.2 100.2 145.5 100.2 148.2 99.8 148.5 99.8 152.2 99.5 152.5 99.5 167.5 99.8 167.8 100.2 175.8 100.5 176.2 100.5 178.8 100.8 179.2 100.8 181.8 101.2 182.2 101.5 186.5 101.8 186.8 101.8 188.5 102.2 188.8 102.2 190.5 102.5 190.8 102.5 192.5 102.8 192.8 104.2 200.8 104.5 201.2 106.5 210.2 107.2 211.5 107.2 212.5 108.2 214.8 108.2 215.8 110.5 223.2 113.8 230.2 114.5 230.8 114.5 231.5 115.5 233.5 115.5 234.5 116.2 236.2 116.2 237.8 116.5 238.2 116.5 240.5 115.8 240.8 115.8 241.5 117.2 244.5 117.8 245.2 117.8 245.8 120.8 251.2 120.8 251.8 120.2 252.2 118.2 249.8 117.2 249.5 115.2 249.8 110.5 252.8 102.8 260.2 96.2 265.5 95.2 265.2 95.2 266.8 96.8 266.8 99.2 265.2 100.5 264.8 100.2 264.5 100.5 263.5 108.5 259.8 113.2 258.5 116.8 258.5 118.5 259.5 119.5 262.5 120.5 261.8 122.2 261.8 125.2 264.8 128.8 270.5 132.8 278.5 132.2 278.8 132.2 279.5 134.2 282.5 136.2 287.2 136.8 286.8 136.5 286.2 136.8 285.8 136.5 281.2 136.2 280.8 134.5 273.2 132.8 268.2 132.8 267.2 132.5 266.8 132.5 265.8 132.2 265.5 132.2 264.5 131.8 264.2 131.8 263.2 131.5 262.8 129.8 255.8 128.8 253.8 127.8 252.8 126.2 252.2 124.8 252.2 122.5 252.8 122.2 251.8 125.5 250.5 126.5 250.5 133.2 248.2 134.2 248.2 135.2 247.5 136.2 247.5 138.5 246.5 140.5 246.2 141.2 244.8 141.8 244.8 146.8 242.5 152.2 237.5 167.5 226.8 175.8 220.5 178.5 218.2 184.5 211.8 194.2 199.8 198.5 193.2 200.8 188.2 201.2 186.2 201.8 184.8 201.8 183.5 202.2 183.2 202.2 181.8 202.8 179.8 202.8 178.2 203.2 177.8 203.2 175.5 203.5 175.2 203.8 160.5 203.5 160.2 203.2 154.2 202.8 153.8 202.2 149.2 200.8 145.2 200.8 144.2 198.5 137.8 195.5 131.8 190.5 124.2 186.8 119.5 177.2 109.8 166.2 100.5 163.2 98.5 156.8 95.2 153.8 94.2 148.5 91.5 141.8 89.2 137.8 88.5 137.5 88.2 135.8 88.2 135.5 87.8ZM135.8 284.5 136.2 284.2 136.5 284.5 136.2 284.8Z" fill="#cc4200"/>
<path d="M138.8 293.2 138.8 294.8 139.5 296.8 140.8 296.8 140.8 296.2 140.2 295.8 140.2 294.8 139.5 293.2ZM137.5 289.8 138.2 292.2 138.8 291.8 138.5 290.8 137.5 290.5 138.2 290.2 138.2 289.8ZM136.8 288.2 136.8 288.8 137.5 288.5 137.5 288.2ZM95.2 265.2 95.2 266.8 96.8 266.8 99.2 265.2 100.5 264.8 100.2 264.5 100.5 263.5 108.8 259.5 113.5 258.2 117.2 258.2 118.5 258.8 119.2 259.8 119.2 262.2 119.5 262.5 120.5 261.5 122.5 261.8 125.2 264.5 127.2 267.5 132.8 278.5 132.2 278.8 132.2 279.5 134.2 282.5 136.2 287.2 136.8 286.8 136.5 286.2 136.8 285.8 136.8 284.8 136.5 284.5 136.2 280.5 135.2 277.8 134.2 273.2 133.5 271.8 133.5 270.8 132.8 269.5 132.8 268.5 132.2 267.2 130.5 259.8 128.5 254.8 126.8 253.2 126.2 252.8 122.5 252.8 121.5 253.2 120.5 252.8 118.5 250.5 117.5 250.2 114.8 250.5 109.8 253.8 104.2 259.2 96.2 265.5ZM135.8 284.5 136.2 284.2 136.5 284.5 136.2 284.8ZM134.8 88.2 130.5 88.2 130.2 88.5 127.5 88.8 124.8 90.2 119.8 94.8 115.8 100.8 110.8 112.2 110.5 113.8 109.8 114.8 108.8 118.5 108.2 119.5 106.5 124.5 105.8 127.8 104.2 132.5 103.8 134.8 101.2 141.5 101.2 142.5 100.5 144.2 100.5 146.2 100.2 146.5 100.2 149.5 99.8 149.8 99.5 165.5 99.8 165.8 100.2 174.5 100.5 174.8 100.5 177.8 100.8 178.2 101.5 185.8 101.8 186.2 101.8 187.8 102.2 188.2 102.2 189.8 102.5 190.2 102.5 191.8 102.8 192.2 104.2 200.2 104.8 201.8 104.8 203.2 105.2 203.5 105.8 207.2 106.5 208.5 106.5 209.5 107.2 210.8 107.2 211.8 108.2 214.2 108.2 215.2 109.5 218.5 110.2 221.5 110.8 222.5 111.2 224.2 115.2 231.8 116.2 234.8 116.5 237.5 116.8 237.8 116.8 240.5 117.2 240.8 117.2 241.8 116.2 242.2 121.2 251.8 123.2 251.5 125.5 250.5 126.5 250.5 129.8 249.2 131.8 248.8 132.8 248.2 133.8 248.2 135.2 247.5 138.8 246.5 138.5 246.2 138.8 245.5 142.5 244.2 147.2 241.8 153.2 236.5 164.5 228.8 176.8 219.5 183.5 212.8 189.5 205.8 197.8 194.2 199.5 191.2 199.5 190.5 201.2 186.8 201.2 185.8 202.2 182.8 202.2 181.5 202.5 181.2 202.5 179.8 202.8 179.5 203.2 174.5 203.5 174.2 203.5 167.5 203.8 167.2 203.5 157.5 203.2 157.2 203.2 154.8 202.8 154.5 202.8 152.8 201.5 148.2 201.5 146.8 199.2 139.8 196.5 133.8 195.8 133.2 194.2 129.8 188.8 122.2 184.2 116.8 174.8 107.8 168.2 102.2 162.8 98.5 157.8 95.8 157.2 95.8 155.5 94.8 154.8 94.8 152.5 93.5 151.8 93.5 149.5 92.2 146.2 91.2 145.2 90.5 139.2 88.8 135.2 88.5Z" fill="#d04a00"/>
<path d="M138.8 293.2 138.8 294.8 139.5 296.8 140.8 296.8 140.8 296.2 140.2 295.8 140.2 294.8 139.5 293.2ZM137.5 289.8 138.2 292.2 138.8 291.8 138.5 290.8 137.5 290.5 138.2 290.2 138.2 289.8ZM136.8 288.2 136.8 288.8 137.5 288.5 137.5 288.2ZM95.2 265.2 95.2 266.8 96.8 266.8 99.2 265.2 100.5 264.8 100.2 264.5 100.5 263.5 103.5 262.2 105.5 260.8 106.2 260.8 111.2 258.5 113.8 258.2 114.2 257.8 117.5 257.8 119.5 258.8 119.2 262.2 119.5 262.5 120.8 260.8 122.2 261.2 124.8 263.8 127.5 267.8 132.8 278.5 132.2 278.8 132.2 279.5 134.2 282.5 136.2 287.2 136.8 286.8 136.5 286.2 136.8 285.2 135.8 284.5 136.5 284.2 136.5 282.8 136.2 282.5 135.5 278.8 133.2 271.8 133.2 270.8 132.2 268.5 132.2 267.5 131.2 265.2 129.8 259.5 128.2 255.5 126.2 253.5 123.8 252.8 121.5 253.2 120.5 252.8 119.8 251.8 117.2 250.5 115.2 250.8 111.2 253.2 99.2 263.5 96.2 265.5ZM134.2 88.5 131.8 88.5 131.5 88.8 128.2 89.2 124.2 91.2 122.8 92.2 119.2 96.2 116.2 100.8 111.5 110.8 106.2 125.8 106.2 126.8 104.8 130.5 104.2 133.8 100.8 143.2 100.5 147.5 100.2 147.8 100.2 150.8 99.8 151.2 99.8 168.8 100.2 169.2 100.5 176.8 100.8 177.2 100.8 179.8 101.2 180.2 101.8 187.2 102.2 187.5 102.5 191.2 102.8 191.5 104.5 201.2 104.8 201.5 105.8 206.5 106.5 207.8 106.5 208.8 107.2 210.2 107.2 211.2 108.5 214.5 108.5 215.5 110.8 222.5 111.5 223.5 112.2 225.8 115.5 231.8 116.5 234.8 117.2 238.8 117.5 239.2 117.5 241.8 117.8 242.2 117.5 242.5 117.8 243.2 116.8 243.5 116.8 243.8 119.5 248.2 119.8 249.5 121.2 251.8 123.2 251.5 127.5 249.8 128.5 249.8 129.5 249.2 130.5 249.2 132.8 248.2 136.2 247.5 136.5 247.2 136.2 246.8 136.5 246.2 147.2 241.5 152.8 236.5 167.5 226.5 178.2 218.2 188.8 206.5 194.2 199.5 198.5 192.8 201.2 186.5 201.8 182.5 202.5 180.8 202.8 176.8 203.2 176.5 203.2 173.5 203.5 173.2 203.5 158.5 203.2 158.2 203.2 155.5 202.8 155.2 202.2 150.2 201.8 149.8 201.2 146.2 200.5 144.8 200.5 143.8 199.5 141.8 198.8 139.2 195.8 132.8 191.2 125.5 186.5 119.5 173.2 106.5 167.5 101.8 162.5 98.5 155.8 95.2 155.2 95.2 147.2 91.5 139.2 89.2 134.5 88.8Z" fill="#d35300"/>
<path d="M138.8 293.2 138.8 294.8 139.5 296.8 140.8 296.8 140.8 296.2 140.2 295.8 140.2 294.8 139.5 293.8 139.5 293.2ZM137.5 289.8 138.2 292.2 138.8 291.8 138.5 290.8 137.5 290.5 138.2 290.2 138.2 289.8ZM136.8 288.2 136.8 288.8 137.5 288.5 137.5 288.2ZM95.2 265.2 95.2 266.8 96.8 266.8 99.2 265.2 100.5 264.8 100.2 264.5 100.5 263.5 108.8 259.2 114.5 257.5 119.5 257.5 121.5 254.8 122.2 255.5 121.2 258.2 121.2 260.2 124.8 263.5 127.8 268.2 132.8 278.5 132.2 278.8 132.2 279.5 134.2 282.5 136.2 287.2 136.8 286.8 136.5 286.2 136.8 285.5 136.5 284.8 135.8 284.5 136.2 284.2 135.8 280.8 132.8 271.8 132.8 270.8 130.8 265.5 129.8 261.2 127.8 256.2 126.2 254.2 124.2 253.2 121.5 253.2 120.5 252.8 119.8 251.8 118.5 251.2 115.5 251.2 112.8 252.5 109.5 254.8 103.8 259.8 99.2 263.5 97.8 264.2 96.5 265.5 95.5 265.5ZM137.2 89.2 130.2 89.2 129.8 89.5 127.5 89.8 123.5 92.2 120.2 95.5 116.8 100.2 113.8 105.8 113.8 106.5 110.5 113.8 108.8 119.2 108.2 120.2 106.2 126.2 105.5 129.5 104.5 131.8 104.2 134.2 101.5 141.2 101.5 142.2 100.8 143.8 100.8 145.5 100.5 145.8 100.5 148.5 100.2 148.8 100.2 152.5 99.8 152.8 99.8 167.2 100.2 167.5 100.2 171.2 100.5 171.5 100.5 175.5 100.8 175.8 100.8 178.8 101.2 179.2 101.8 186.5 102.2 186.8 102.5 190.5 102.8 190.8 104.5 200.5 104.8 200.8 105.8 205.8 106.5 207.2 106.5 208.2 107.2 209.5 107.2 210.5 108.5 213.8 108.5 214.8 110.8 221.8 112.5 225.2 112.5 225.8 115.5 231.2 116.8 234.8 116.8 235.8 117.8 238.8 117.8 240.2 118.2 240.5 118.2 242.5 118.5 242.8 118.5 244.5 117.8 244.8 117.8 245.5 121.2 251.8 127.2 249.8 130.5 249.2 132.8 248.2 133.8 248.2 133.5 247.2 133.8 246.8 134.5 246.8 136.8 245.5 137.5 245.5 139.2 244.5 139.8 244.5 146.5 241.5 152.5 236.5 166.8 226.8 176.5 219.5 183.8 212.2 185.8 209.5 188.2 207.2 193.8 199.8 197.8 193.8 200.2 189.2 201.2 186.2 202.2 180.5 202.5 180.2 202.5 178.5 202.8 178.2 202.8 175.8 203.2 175.5 203.5 160.2 203.2 159.8 202.8 154.2 202.5 153.8 202.5 152.5 202.2 152.2 201.2 146.5 198.8 139.5 195.5 132.5 188.5 122.2 183.2 116.2 175.5 108.8 170.2 104.2 163.8 99.5 156.8 95.8 156.2 95.8 146.5 91.5 143.5 90.8 142.2 90.2 140.8 90.2 140.5 89.8 137.5 89.5Z" fill="#d75c00"/>
<path d="M138.8 293.2 138.8 294.8 139.5 296.8 140.8 296.8 140.8 296.2 140.2 295.8 140.2 294.8 139.5 293.8 139.5 293.2ZM137.5 289.8 138.2 292.2 138.8 291.8 138.5 290.8 137.5 290.5 138.2 290.2 138.2 289.8ZM136.8 288.2 136.8 288.8 137.5 288.5 137.5 288.2ZM95.2 265.2 95.2 266.8 96.8 266.8 99.2 265.2 100.5 264.8 100.2 264.5 100.5 263.5 108.5 259.2 114.5 257.2 119.2 256.8 121.5 254.8 122.2 255.5 121.8 255.8 121.8 259.8 124.8 263.2 128.2 268.5 132.8 278.5 132.2 278.8 132.2 279.5 134.2 282.5 136.2 287.2 136.8 286.8 136.5 284.8 135.8 284.5 136.2 282.8 135.5 281.5 135.5 280.5 130.5 265.8 130.5 264.8 128.8 259.8 127.2 256.2 126.2 254.8 124.8 253.8 123.2 253.2 120.5 252.8 118.8 251.5 115.8 251.5 114.8 252.2 114.2 252.2 109.5 255.2 102.8 260.8 96.5 265.5 95.5 265.5ZM136.8 89.5 130.5 89.5 127.2 90.5 125.2 91.5 121.2 94.8 117.2 100.2 113.2 107.8 113.2 108.5 112.2 110.2 112.2 110.8 110.2 115.2 109.8 116.8 109.2 117.8 108.8 119.5 108.2 120.5 106.2 126.5 106.2 127.5 105.2 129.8 104.2 134.5 101.8 140.5 101.8 141.5 101.2 142.8 100.8 146.5 100.5 146.8 100.5 149.8 100.2 150.2 100.2 155.8 99.8 156.2 100.2 169.8 100.5 170.2 100.5 173.8 100.8 174.2 100.8 177.5 101.2 177.8 101.5 183.5 101.8 183.8 102.2 187.8 102.5 188.2 102.5 189.8 103.2 191.8 103.5 195.2 104.2 196.8 104.5 199.8 104.8 200.2 106.2 206.5 106.8 207.8 106.8 208.8 108.5 213.2 108.5 214.2 110.2 219.2 110.8 220.2 112.5 225.2 116.2 232.2 117.5 235.8 117.5 236.8 118.8 240.8 118.8 242.5 119.2 242.8 119.2 246.2 118.5 246.5 118.5 246.8 119.5 248.2 121.2 251.8 124.8 250.5 131.2 248.8 130.8 248.2 131.5 247.5 132.2 247.5 134.2 246.2 134.8 246.2 136.5 245.2 137.2 245.2 145.8 241.5 147.5 240.5 152.2 236.5 172.2 222.8 177.5 218.5 182.5 213.5 189.2 205.8 194.2 199.2 198.5 192.5 201.2 185.8 201.5 183.2 202.2 181.5 202.5 177.8 202.8 177.5 202.8 174.8 203.2 174.5 203.2 168.2 203.5 167.8 203.2 157.2 202.8 156.8 202.8 154.8 202.5 154.5 202.5 152.8 201.2 148.2 201.2 146.8 198.2 138.2 195.2 132.2 189.2 123.2 186.2 119.5 177.8 111.2 171.2 105.2 163.5 99.5 157.2 96.2 156.5 96.2 154.8 95.2 154.2 95.2 147.5 92.2 143.5 90.8 139.5 90.2 139.2 89.8 137.2 89.8Z" fill="#db6600"/>
<path d="M138.8 293.2 138.8 294.8 139.5 296.8 140.8 296.8 140.8 296.2 140.2 295.8 140.2 294.8 139.5 293.8 139.5 293.2ZM137.5 289.8 138.2 292.2 138.8 291.8 138.5 290.8 137.5 290.5 138.2 290.2 138.2 289.8ZM136.8 288.2 136.8 288.8 137.5 288.5 137.5 288.2ZM95.2 265.2 95.2 266.8 96.8 266.8 99.2 265.2 100.5 264.8 100.2 264.5 100.5 263.5 108.8 258.8 109.5 258.8 113.2 257.2 119.2 256.2 120.8 254.8 121.5 254.8 122.2 255.5 122.2 259.5 124.8 262.8 127.5 267.2 131.5 274.8 131.5 275.5 132.8 278.5 132.2 278.8 132.2 279.5 134.2 282.5 136.2 287.2 136.8 286.8 136.5 285.2 135.8 284.5 136.2 283.8 135.8 283.5 135.5 281.2 128.2 259.5 126.5 256.2 124.2 253.8 122.8 253.2 120.5 252.8 119.5 251.8 116.2 251.8 115.2 252.2 109.5 255.5 103.5 260.5 96.5 265.5 95.5 265.5ZM136.8 89.8 131.2 89.8 130.8 90.2 129.5 90.2 125.5 91.8 123.5 93.2 120.2 96.5 116.8 101.2 112.2 110.5 106.2 126.8 106.2 127.8 105.2 130.2 103.8 135.8 102.8 137.8 101.2 143.5 100.8 147.8 100.5 148.2 100.5 151.2 100.2 151.5 100.2 168.5 100.5 168.8 100.5 172.2 100.8 172.5 100.8 176.5 101.2 176.8 101.5 182.5 101.8 182.8 102.2 187.2 102.5 187.5 102.5 189.2 102.8 189.5 102.8 191.2 103.2 191.5 103.8 196.2 104.5 197.8 104.5 199.2 104.8 199.5 106.2 205.8 106.8 207.2 106.8 208.2 108.2 211.5 108.2 212.5 109.5 216.5 110.2 217.5 112.5 224.5 116.5 232.2 118.8 238.8 118.8 239.8 119.5 241.2 120.2 245.2 120.5 245.5 120.5 247.5 120.2 248.2 119.5 248.5 121.2 251.8 127.8 249.8 127.5 249.2 129.2 247.8 129.8 247.8 132.2 246.5 132.8 246.5 137.8 244.2 142.8 242.5 146.8 240.5 151.8 236.5 171.5 223.2 179.5 216.5 188.5 206.5 193.8 199.5 197.8 193.5 200.8 186.8 201.8 181.2 202.2 180.8 202.2 179.5 202.5 179.2 202.8 173.8 203.2 173.5 203.2 158.2 202.8 157.8 202.5 153.5 202.2 153.2 202.2 151.8 201.5 150.2 200.8 146.2 198.8 140.2 196.2 134.2 189.5 123.8 186.8 120.5 180.5 113.8 170.2 104.5 164.8 100.5 158.2 96.8 157.5 96.8 149.5 93.2 142.5 90.8 141.2 90.8 139.2 90.2 137.2 90.2Z" fill="#df7100"/>
<path d="M138.8 293.2 138.8 294.8 139.5 296.8 140.8 296.8 140.8 296.2 140.2 295.8 140.2 294.8 139.5 293.8 139.5 293.2ZM137.5 289.8 138.2 292.2 138.8 291.8 138.5 290.8 137.5 290.5 138.2 290.2 138.2 289.8ZM136.8 288.2 136.8 288.8 137.5 288.5 137.5 288.2ZM95.2 265.2 95.2 266.8 96.8 266.8 99.2 265.2 100.5 264.8 100.2 264.5 100.5 263.5 109.8 258.2 113.5 256.8 117.5 256.2 120.2 254.8 121.5 254.8 122.2 255.5 122.5 259.2 126.2 264.5 131.5 274.8 131.5 275.5 132.8 278.5 132.2 278.8 132.2 279.5 134.2 282.5 136.2 287.2 136.8 286.8 136.5 285.2 135.8 284.5 135.5 281.8 132.5 272.8 131.8 271.8 131.2 269.2 130.5 268.2 129.8 265.5 129.2 264.5 127.2 258.5 125.2 255.2 123.2 253.5 120.5 252.8 119.8 252.2 118.8 252.2 118.5 251.8 116.2 252.2 109.5 255.8 102.8 261.2 96.5 265.5 95.5 265.5ZM122.8 250.5 121.8 250.5 121.2 250.8 120.8 251.5 121.8 251.8 123.2 251.2ZM136.8 90.2 131.8 90.2 131.5 90.5 129.8 90.5 125.2 92.5 121.5 95.5 117.2 101.2 112.5 110.2 112.5 110.8 111.5 112.5 109.8 117.5 109.2 118.5 108.8 120.2 108.2 121.2 106.2 127.2 106.2 128.2 104.8 131.5 104.5 133.8 101.5 142.5 101.2 145.8 100.8 146.2 100.8 148.8 100.5 149.2 100.5 152.8 100.2 153.2 100.2 166.8 100.5 167.2 100.5 170.8 100.8 171.2 100.8 175.2 101.2 175.5 101.2 178.5 101.5 178.8 101.5 181.5 101.8 181.8 102.5 188.5 102.8 188.8 102.8 190.5 103.2 190.8 104.2 197.2 104.8 198.8 104.8 200.2 106.2 204.2 106.5 206.5 107.5 208.8 107.5 209.8 109.2 214.8 109.8 215.8 111.2 220.5 111.8 221.5 112.5 223.8 116.5 231.5 118.2 236.5 118.8 237.5 119.8 241.2 120.5 242.2 120.8 243.8 123.2 248.8 124.5 248.8 127.5 247.5 130.2 246.8 131.2 246.2 133.8 245.5 134.8 244.8 137.5 244.2 138.5 243.5 142.8 242.2 146.8 240.2 151.5 236.5 170.8 223.5 177.2 218.5 182.8 212.8 189.2 205.5 197.5 193.8 199.2 190.8 199.2 190.2 200.8 186.5 201.2 183.8 202.2 180.5 202.2 178.8 202.5 178.5 202.5 176.2 202.8 175.8 202.8 172.2 203.2 171.8 203.2 159.5 202.8 159.2 202.5 154.2 202.2 153.8 202.2 152.5 201.8 152.2 200.8 146.5 198.8 140.5 195.5 133.2 188.8 123.2 185.8 119.5 178.5 112.2 171.2 105.5 164.5 100.5 159.2 97.5 158.5 97.5 156.2 96.2 155.5 96.2 148.8 93.2 143.8 91.5 142.8 91.5 141.2 90.8 139.5 90.8 139.2 90.5 137.2 90.5Z" fill="#e27d00"/>
<path d="M138.8 293.2 138.8 294.8 139.5 296.8 140.8 296.8 140.8 296.2 140.2 295.8 140.2 294.8 139.5 293.8 139.5 293.2ZM137.5 289.8 138.2 292.2 138.8 291.8 138.5 290.8 137.5 290.5 138.2 290.2 138.2 289.8ZM136.8 288.2 136.8 288.8 137.5 288.5 137.5 288.2ZM95.2 265.2 95.2 266.8 96.8 266.8 99.2 265.2 100.5 264.8 100.2 264.5 100.5 263.5 101.5 263.2 107.5 259.2 111.5 257.2 114.5 256.2 116.8 255.8 119.8 254.5 121.5 254.5 122.5 256.2 122.8 258.8 123.8 260.8 125.8 263.5 127.5 267.2 128.8 269.2 128.8 269.8 130.8 273.2 130.8 273.8 132.8 278.5 132.2 278.8 132.2 279.5 134.2 282.5 136.2 287.2 136.8 286.8 132.8 274.8 132.2 273.8 130.8 269.5 127.8 262.5 127.5 260.8 125.8 257.2 124.5 255.2 122.8 253.5 120.5 252.8 119.8 252.2 117.8 252.2 114.8 253.2 108.2 257.2 103.2 261.2 96.5 265.5 95.5 265.5ZM135.5 90.5 129.2 91.2 124.5 93.5 120.5 97.2 115.5 104.5 111.8 112.2 106.5 126.5 106.5 127.5 104.8 131.8 104.5 134.2 101.8 141.8 101.5 144.8 101.2 145.2 101.2 147.2 100.8 147.5 100.8 150.2 100.5 150.5 100.5 169.2 100.8 169.5 101.2 177.2 101.5 177.5 101.8 183.2 102.2 183.5 102.2 185.5 102.5 185.8 103.2 191.5 103.5 191.8 103.5 193.2 103.8 193.5 103.8 194.8 104.5 196.5 105.5 202.2 107.8 209.2 107.8 210.2 109.2 213.2 110.2 216.8 110.8 217.8 111.5 220.5 113.2 223.8 113.2 224.5 117.2 232.2 117.2 232.8 118.2 234.5 120.5 240.8 123.2 245.2 125.8 246.5 129.2 246.2 131.8 245.2 132.8 245.2 140.8 242.5 146.2 240.2 151.5 236.2 157.5 232.2 158.5 231.8 171.5 222.8 179.2 216.5 188.5 206.2 193.8 199.2 197.8 193.2 199.5 189.8 201.2 184.8 201.2 183.5 201.5 183.2 201.5 181.8 202.2 179.8 202.2 178.2 202.5 177.8 202.5 175.2 202.8 174.8 202.8 168.2 203.2 167.8 202.8 157.2 202.5 156.8 202.5 154.8 202.2 154.5 202.2 153.2 201.8 152.8 201.8 151.5 201.5 151.2 201.5 149.8 201.2 149.5 200.5 145.8 197.5 137.5 195.5 133.5 194.8 132.8 193.2 129.5 192.2 128.5 189.2 123.8 186.5 120.5 176.8 110.8 170.5 105.2 164.2 100.5 157.2 96.8 156.5 96.8 147.2 92.8 142.5 91.5 139.2 91.2 138.8 90.8 135.8 90.8Z" fill="#e68900"/>
<path d="M137.5 289.8 137.5 290.5 138.2 290.2 138.2 289.8ZM136.8 288.2 136.8 288.8 137.5 288.5 137.5 288.2ZM99.5 263.5 99.8 264.8 100.5 264.8 100.2 264.5 100.5 263.5 101.5 263.2 108.2 258.5 113.2 256.2 114.2 256.2 118.2 254.8 119.2 254.2 120.2 254.2 120.5 253.8 121.2 254.2 122.5 255.5 123.2 258.5 127.2 266.2 127.8 266.8 128.8 268.8 128.8 269.5 130.8 273.2 130.8 273.8 132.8 278.5 132.2 278.8 132.2 279.5 134.2 282.5 136.2 287.2 136.8 286.8 134.5 280.5 133.8 279.5 131.8 273.2 129.2 267.5 128.2 264.2 127.2 262.5 126.8 260.8 124.2 255.5 122.2 253.2 121.2 252.8 120.8 253.2 119.5 252.2 114.5 253.8 113.2 254.8 110.2 256.2 105.8 259.5ZM138.5 91.2 131.5 91.2 131.2 91.5 129.8 91.5 125.8 93.2 123.5 94.8 120.2 98.2 116.8 102.8 112.5 111.2 112.5 111.8 111.5 113.5 111.5 114.2 108.8 120.2 108.5 121.8 107.8 122.8 106.5 126.8 106.5 127.8 104.8 132.2 104.5 134.5 101.8 142.5 101.5 145.8 101.2 146.2 101.2 148.8 100.8 149.2 100.8 152.2 100.5 152.5 100.5 167.5 100.8 167.8 100.8 171.2 101.2 171.5 101.2 175.8 101.5 176.2 101.8 181.8 102.2 182.2 102.2 184.5 102.5 184.8 103.5 192.5 104.2 194.2 104.5 197.2 104.8 197.5 106.2 203.8 111.8 220.5 113.8 224.5 113.8 225.2 118.2 233.5 119.5 237.2 122.5 242.5 124.2 244.2 126.8 245.2 129.2 245.2 129.5 244.8 131.2 244.8 131.5 244.5 135.2 243.8 142.2 241.5 146.5 239.5 166.5 226.2 177.2 218.2 182.8 212.5 188.8 205.5 197.5 193.5 200.5 186.8 201.5 181.2 201.8 180.8 201.8 179.5 202.2 179.2 202.5 173.8 202.8 173.5 202.8 158.5 202.5 158.2 202.2 153.5 201.5 151.8 200.5 146.2 198.2 139.5 195.2 133.2 189.5 124.5 186.8 121.2 179.8 113.8 172.2 106.8 164.8 101.2 158.8 97.8 158.2 97.8 156.5 96.8 155.8 96.8 154.2 95.8 150.8 94.8 148.2 93.5 142.5 91.8 138.8 91.5Z" fill="#e99600"/>
<path d="M121.2 252.8 121.2 253.5 122.8 256.2 123.8 259.2 126.5 263.8 126.5 264.5 128.8 268.8 128.8 269.5 129.8 271.5 130.8 271.5 128.5 267.2 128.5 266.5 126.5 262.5 126.2 260.8 124.2 257.2 123.5 255.2 122.2 253.2ZM120.5 252.8 119.8 252.2 117.8 252.8 115.5 254.2 114.8 254.2 112.8 255.5 112.2 255.5 110.2 256.5 109.5 257.5 110.2 257.5 114.8 255.2 120.2 253.5ZM137.8 91.5 132.5 91.5 132.2 91.8 130.5 91.8 126.2 93.5 123.8 95.2 119.8 99.2 117.2 102.8 111.8 113.2 111.8 113.8 110.8 115.5 110.5 117.2 109.5 118.8 108.5 122.2 107.8 123.2 106.5 127.2 106.5 128.2 105.2 131.5 104.5 134.8 102.5 140.5 101.8 144.5 101.5 144.8 101.2 149.8 100.8 150.2 100.8 169.5 101.2 169.8 101.5 177.5 101.8 177.8 101.8 180.5 102.2 180.8 102.2 183.5 102.5 183.8 103.2 189.8 103.5 190.2 104.2 194.8 104.5 195.2 104.8 197.8 105.2 198.2 106.2 203.2 106.8 204.5 106.8 205.5 109.5 213.5 110.2 214.5 110.5 216.2 111.2 217.2 113.2 222.8 120.8 238.5 123.5 242.2 126.2 243.8 127.5 243.8 127.8 244.2 130.5 244.2 130.8 243.8 132.5 243.8 132.8 243.5 134.2 243.5 136.8 242.5 137.8 242.5 142.8 240.8 147.5 238.5 171.5 222.5 179.5 215.8 189.5 204.5 194.5 197.8 198.2 192.2 200.8 185.2 200.8 183.8 201.2 183.5 201.2 182.2 201.8 180.2 201.8 178.5 202.2 178.2 202.5 171.2 202.8 170.8 202.8 160.2 202.5 159.8 202.5 156.5 202.2 156.2 202.2 154.2 201.5 152.5 200.8 148.2 199.2 142.5 194.8 132.8 190.5 126.2 185.8 120.2 178.5 112.8 171.5 106.5 166.5 102.5 162.8 100.2 157.5 97.5 156.8 97.5 155.2 96.5 151.8 95.5 150.8 94.8 149.2 94.5 148.2 93.8 142.5 92.2 138.2 91.8Z" fill="#eda400"/>
<path d="M121.2 252.8 121.5 253.5 122.2 253.5 122.2 253.2ZM136.5 91.8 129.8 92.5 127.8 93.5 127.2 93.5 122.8 96.5 119.5 100.2 115.5 106.2 111.2 115.2 111.2 115.8 109.5 119.2 109.2 120.8 108.5 121.8 106.8 126.5 106.8 127.5 105.2 131.8 105.2 132.8 104.5 134.2 104.5 135.2 103.8 136.5 103.8 137.5 102.8 139.8 102.8 140.8 101.8 143.8 101.2 151.5 100.8 151.8 100.8 167.8 101.2 168.2 102.2 182.5 102.5 182.8 102.5 184.8 102.8 185.2 102.8 186.8 103.2 187.2 103.2 188.8 103.5 189.2 104.2 194.2 104.5 194.5 104.8 197.2 105.2 197.5 106.2 202.5 106.8 203.8 106.8 204.8 109.2 211.8 109.8 212.8 110.2 214.5 110.8 215.5 113.5 222.8 120.5 236.8 122.5 239.8 124.2 241.5 127.5 243.2 132.5 243.2 132.8 242.8 134.5 242.8 142.5 240.5 146.8 238.5 167.8 224.8 177.5 217.5 182.5 212.5 188.8 205.2 194.8 197.2 197.8 192.5 200.2 187.2 200.2 186.2 201.2 183.2 201.2 181.8 201.5 181.5 201.5 179.8 202.2 177.5 202.2 174.8 202.5 174.5 202.5 157.8 202.2 157.5 202.2 155.2 201.8 154.8 201.5 151.8 200.8 150.2 200.5 147.2 197.2 137.8 194.8 133.2 188.8 124.2 186.2 120.8 177.2 111.8 170.8 106.2 164.2 101.2 159.2 98.5 158.5 98.5 156.8 97.5 156.2 97.5 154.5 96.5 152.8 96.2 150.2 94.8 142.5 92.5 136.8 92.2Z" fill="#f0b200"/>
<path d="M140.2 92.5 131.8 92.5 127.5 93.8 123.5 96.5 120.2 99.8 116.2 105.5 112.8 111.8 112.8 112.5 111.5 114.8 111.5 115.5 107.5 124.8 106.8 127.8 104.5 134.5 104.5 135.5 103.8 136.8 103.8 137.8 103.2 139.2 103.2 140.2 102.2 143.2 102.2 144.5 101.8 144.8 101.5 149.8 101.2 150.2 100.8 164.2 101.2 164.5 101.2 169.8 101.5 170.2 101.8 177.8 102.2 178.2 102.5 183.8 102.8 184.2 103.8 191.8 104.5 193.5 104.8 196.5 105.2 196.8 106.2 201.8 106.8 203.2 106.8 204.2 109.2 211.2 109.8 212.2 113.2 221.2 119.2 233.5 121.8 237.8 124.2 240.5 127.2 242.2 128.2 242.2 128.5 242.5 132.8 242.5 133.2 242.2 136.5 241.8 145.5 238.8 156.5 231.8 157.5 231.5 163.2 227.5 165.2 226.5 169.5 223.2 171.5 222.2 179.5 215.5 188.2 205.8 193.5 198.8 197.5 192.8 200.2 186.8 201.2 181.2 201.5 180.8 201.5 179.2 202.2 176.8 202.2 173.5 202.5 173.2 202.5 158.8 202.2 158.5 201.8 153.8 200.8 150.8 200.2 146.5 197.2 138.2 194.5 132.8 189.2 124.8 186.5 121.5 180.2 114.8 172.2 107.5 164.8 101.8 157.8 98.2 157.2 98.2 153.8 96.5 145.2 93.5 144.2 93.5 142.5 92.8 140.5 92.8Z" fill="#f4c200"/>
<path d="M139.8 92.8 132.8 92.8 132.5 93.2 129.5 93.5 127.2 94.5 124.2 96.5 119.5 101.2 116.5 105.5 111.5 115.2 111.5 115.8 107.5 125.2 107.2 127.2 105.2 132.5 104.2 137.2 102.5 142.2 102.2 145.5 101.8 145.8 101.5 150.8 101.2 151.2 101.2 168.2 101.5 168.5 101.5 171.5 101.8 171.8 101.8 176.5 102.2 176.8 102.2 179.2 102.5 179.5 102.5 182.8 102.8 183.2 102.8 185.2 103.2 185.5 103.8 191.2 104.5 192.8 104.5 194.2 104.8 194.5 105.2 197.2 105.5 197.5 106.2 201.2 106.8 202.5 106.8 203.5 109.2 210.5 109.8 211.5 111.8 217.2 112.8 218.8 113.5 221.2 119.8 233.8 122.5 237.8 124.2 239.5 126.8 241.2 129.2 241.8 135.8 241.5 143.8 239.2 147.8 237.2 165.8 225.8 166.8 224.8 172.2 221.5 177.5 217.2 182.2 212.5 188.5 205.2 195.5 195.8 195.8 194.8 198.2 191.5 200.5 185.2 200.5 183.8 200.8 183.5 200.8 182.2 201.5 180.2 201.5 178.5 201.8 178.2 201.8 175.5 202.2 175.2 202.2 169.2 202.5 168.8 202.2 156.8 201.8 156.5 201.8 154.5 201.2 152.8 201.2 151.5 200.5 149.8 199.8 145.8 197.2 138.5 195.8 136.2 195.8 135.5 195.2 134.8 193.2 130.8 188.5 124.2 185.8 120.8 178.8 113.8 171.5 107.2 164.5 101.8 158.8 98.8 158.2 98.8 156.5 97.8 153.2 96.8 152.2 96.2 145.2 93.8 144.2 93.8 142.5 93.2 140.2 93.2Z" fill="#f7d200"/>
<path d="M139.8 93.2 133.8 93.2 133.5 93.5 131.5 93.5 131.2 93.8 129.8 93.8 126.8 95.2 123.5 97.5 120.5 100.5 116.2 106.5 111.8 114.8 111.2 117.2 109.8 119.5 109.8 120.2 107.8 124.5 107.2 127.5 105.8 130.5 105.8 131.5 105.2 132.8 104.8 135.2 104.2 136.5 104.2 137.5 103.5 138.8 103.5 139.8 102.5 142.8 102.5 144.5 101.8 146.8 101.8 149.5 101.5 149.8 101.5 153.5 101.2 153.8 101.2 166.2 101.5 166.5 101.8 174.8 102.2 175.2 102.8 184.2 103.2 184.5 103.2 186.2 103.5 186.5 103.5 188.2 103.8 188.5 103.8 190.2 104.2 190.5 104.5 193.5 105.2 195.2 105.2 196.5 105.5 196.8 106.2 200.5 106.8 201.8 106.8 202.8 107.8 205.2 107.8 206.2 108.5 207.2 109.2 209.8 112.2 216.5 112.2 217.2 113.2 218.8 113.8 221.2 120.5 234.2 122.2 236.5 124.8 239.2 127.2 240.5 129.5 241.2 134.5 241.2 134.8 240.8 138.2 240.5 140.8 239.5 141.8 239.5 147.8 236.8 166.5 225.2 167.5 224.2 173.2 220.5 179.5 215.2 188.2 205.5 188.8 204.2 192.5 199.8 197.5 192.5 199.8 187.2 200.8 181.5 201.2 181.2 201.2 179.8 201.5 179.5 201.8 174.5 202.2 174.2 202.2 158.2 201.8 157.8 201.8 155.2 200.5 150.5 200.2 147.5 197.8 140.5 195.8 136.5 195.8 135.8 193.2 131.2 188.8 124.8 185.8 121.2 177.8 113.2 170.8 106.8 164.2 101.8 157.5 98.5 151.5 96.5 150.5 95.8 146.5 94.5 145.5 94.5 142.5 93.5 140.2 93.5Z" fill="#fae300"/>
<path d="M141.8 94.5 134.5 94.5 134.2 94.8 131.8 94.8 131.5 95.2 129.2 95.5 123.5 99.2 120.5 102.2 117.2 106.5 112.2 115.5 111.8 117.2 108.2 124.8 105.5 132.8 105.2 135.2 103.8 139.2 103.8 140.5 103.5 140.8 103.2 143.5 102.8 143.8 102.8 145.5 102.5 145.8 102.5 148.8 101.8 151.2 101.8 168.2 102.2 168.5 102.2 171.2 102.5 171.5 102.5 176.8 102.8 177.2 102.8 179.2 103.2 179.5 103.2 183.2 103.5 183.5 104.5 191.2 105.5 194.2 105.5 195.5 105.8 195.8 106.8 200.8 110.8 211.8 114.2 218.5 115.5 222.2 120.2 231.2 124.2 236.2 128.2 238.5 130.5 239.2 137.2 239.2 137.5 238.8 140.5 238.5 146.8 236.2 154.2 232.2 163.5 226.2 164.5 225.8 166.5 224.2 171.5 221.2 178.8 215.2 188.2 204.8 188.8 203.5 195.2 195.5 195.5 194.5 197.5 191.8 200.2 184.5 200.8 179.5 201.2 179.2 201.2 177.5 201.5 177.2 201.5 174.2 201.8 173.8 201.8 158.5 201.5 158.2 201.5 155.5 199.8 149.8 199.8 147.8 195.2 135.5 193.5 133.2 192.8 131.5 188.2 124.8 185.5 121.5 178.5 114.5 169.2 106.2 167.8 105.5 165.2 103.2 159.5 100.2 154.5 98.5 153.5 97.8 147.5 95.8 146.5 95.8 143.8 94.8 142.2 94.8Z" fill="#fdf600"/>
</g>
<path d="M129.90 96.60 130.81 96.28 131.63 96.10 132.42 96.01 133.21 95.98 134.06 95.95 135.00 95.90 136.02 95.79 137.08 95.66 138.19 95.54 139.37 95.46 140.64 95.47 142.00 95.60 143.53 95.88 145.22 96.29 147.00 96.77 148.78 97.30 150.47 97.83 152.00 98.30 153.35 98.72 154.59 99.13 155.75 99.52 156.85 99.93 157.93 100.35 159.00 100.80 160.03 101.24 161.00 101.66 161.93 102.10 162.88 102.59 163.89 103.18 165.00 103.90 166.25 104.79 167.61 105.84 169.02 106.98 170.45 108.16 171.82 109.32 173.10 110.40 174.28 111.42 175.40 112.41 176.48 113.39 177.52 114.34 178.52 115.28 179.50 116.20 180.43 117.07 181.31 117.88 182.16 118.67 182.99 119.48 183.83 120.34 184.70 121.30 185.61 122.36 186.54 123.49 187.47 124.67 188.41 125.90 189.32 127.15 190.20 128.40 191.06 129.67 191.91 130.98 192.75 132.31 193.55 133.64 194.31 134.98 195.00 136.30 195.63 137.62 196.21 138.96 196.74 140.29 197.23 141.61 197.68 142.88 198.10 144.10 198.48 145.22 198.81 146.26 199.10 147.26 199.37 148.26 199.63 149.33 199.90 150.50 200.18 151.79 200.47 153.16 200.75 154.59 201.01 156.05 201.23 157.53 201.40 159.00 201.52 160.45 201.60 161.91 201.64 163.38 201.65 164.87 201.63 166.41 201.60 168.00 201.56 169.66 201.51 171.37 201.43 173.12 201.31 174.91 201.14 176.70 200.90 178.50 200.60 180.33 200.26 182.21 199.86 184.10 199.40 185.97 198.85 187.78 198.20 189.50 197.41 191.13 196.49 192.72 195.48 194.24 194.44 195.70 193.43 197.09 192.50 198.40 191.67 199.58 190.91 200.64 190.17 201.62 189.41 202.59 188.61 203.59 187.70 204.70 186.69 205.92 185.61 207.23 184.48 208.57 183.31 209.92 182.11 211.24 180.90 212.50 179.68 213.70 178.44 214.88 177.18 216.03 175.88 217.14 174.56 218.24 173.20 219.30 171.81 220.32 170.38 221.31 168.92 222.26 167.44 223.20 165.93 224.14 164.40 225.10 162.82 226.09 161.17 227.10 159.51 228.11 157.85 229.09 156.23 230.03 154.70 230.90 153.25 231.70 151.87 232.46 150.53 233.16 149.22 233.82 147.91 234.43 146.60 235.00 145.28 235.53 143.97 236.01 142.67 236.46 141.38 236.84 140.09 237.16 138.80 237.40 137.49 237.57 136.16 237.67 134.83 237.70 133.53 237.67 132.28 237.57 131.10 237.40 130.00 237.18 128.96 236.91 127.97 236.57 127.02 236.15 126.10 235.63 125.20 235.00 124.34 234.26 123.52 233.43 122.74 232.51 121.97 231.48 121.19 230.34 120.40 229.10 119.59 227.70 118.77 226.15 117.95 224.49 117.13 222.77 116.31 221.06 115.50 219.40 114.68 217.78 113.84 216.17 113.01 214.55 112.19 212.93 111.42 211.32 110.70 209.70 110.05 208.11 109.44 206.55 108.88 204.99 108.34 203.40 107.82 201.75 107.30 200.00 106.78 198.14 106.28 196.19 105.79 194.18 105.32 192.12 104.89 190.06 104.50 188.00 104.16 186.02 103.85 184.11 103.58 182.18 103.34 180.16 103.11 177.96 102.90 175.50 102.69 172.64 102.47 169.40 102.28 165.99 102.12 162.60 102.02 159.40 102.00 156.60 102.07 154.22 102.21 152.11 102.42 150.21 102.66 148.44 102.93 146.73 103.20 145.00 103.48 143.27 103.80 141.60 104.14 139.98 104.49 138.43 104.85 136.93 105.20 135.50 105.55 134.15 105.89 132.90 106.24 131.71 106.61 130.54 106.99 129.39 107.40 128.20 107.83 127.00 108.29 125.80 108.76 124.60 109.26 123.40 109.77 122.20 110.30 121.00 110.85 119.79 111.42 118.57 112.01 117.35 112.61 116.13 113.25 114.91 113.90 113.70 114.58 112.48 115.28 111.24 116.01 110.01 116.75 108.79 117.52 107.62 118.30 106.50 119.09 105.43 119.90 104.40 120.72 103.41 121.57 102.46 122.46 101.55 123.40 100.70 124.42 99.88 125.51 99.08 126.65 98.33 127.79 97.65 128.88 97.07Z" fill="#fff"/>
<clipPath id="cpb"><path d="M456.00 44.10 456.27 44.72 456.65 45.58 457.10 46.59 457.58 47.68 458.06 48.74 458.50 49.70 458.93 50.57 459.37 51.42 459.82 52.25 460.24 53.06 460.61 53.84 460.90 54.60 461.10 55.30 461.23 55.94 461.30 56.55 461.35 57.17 461.41 57.85 461.50 58.60 461.60 59.44 461.69 60.33 461.78 61.28 461.90 62.26 462.07 63.27 462.30 64.30 462.59 65.37 462.92 66.49 463.30 67.63 463.73 68.79 464.23 69.95 464.80 71.10 465.44 72.24 466.16 73.40 466.93 74.56 467.77 75.71 468.66 76.82 469.60 77.90 470.60 78.92 471.67 79.88 472.80 80.81 473.97 81.74 475.17 82.70 476.40 83.70 477.68 84.77 479.03 85.88 480.41 87.02 481.79 88.15 483.13 89.25 484.40 90.30 485.58 91.27 486.69 92.17 487.77 93.04 488.83 93.91 489.90 94.82 491.00 95.80 492.09 96.82 493.14 97.84 494.21 98.89 495.32 100.02 496.54 101.24 497.90 102.60 499.49 104.16 501.29 105.91 503.19 107.76 505.08 109.61 506.85 111.39 508.40 113.00 509.71 114.42 510.87 115.73 511.91 116.96 512.87 118.14 513.79 119.31 514.70 120.50 515.59 121.72 516.44 122.93 517.24 124.13 518.00 125.31 518.72 126.47 519.40 127.60 520.03 128.70 520.60 129.77 521.14 130.81 521.64 131.84 522.12 132.87 522.60 133.90 523.07 134.92 523.51 135.93 523.94 136.94 524.34 137.94 524.73 138.96 525.10 140.00 525.45 141.06 525.77 142.14 526.08 143.22 526.36 144.32 526.64 145.41 526.90 146.50 527.15 147.57 527.40 148.61 527.62 149.66 527.84 150.72 528.03 151.83 528.20 153.00 528.35 154.26 528.47 155.59 528.58 156.97 528.67 158.35 528.74 159.71 528.80 161.00 528.85 162.18 528.88 163.28 528.89 164.34 528.89 165.44 528.86 166.64 528.80 168.00 528.72 169.54 528.63 171.22 528.51 173.00 528.36 174.83 528.16 176.68 527.90 178.50 527.59 180.33 527.24 182.20 526.84 184.09 526.39 185.96 525.88 187.78 525.30 189.50 524.63 191.13 523.88 192.69 523.06 194.19 522.21 195.65 521.35 197.08 520.50 198.50 519.67 199.90 518.83 201.27 517.98 202.62 517.11 203.94 516.22 205.23 515.30 206.50 514.37 207.71 513.43 208.84 512.47 209.95 511.46 211.08 510.38 212.28 509.20 213.60 507.92 215.06 506.56 216.62 505.12 218.26 503.63 219.92 502.08 221.58 500.50 223.20 498.82 224.80 497.04 226.43 495.20 228.06 493.37 229.64 491.62 231.17 490.00 232.60 488.53 233.91 487.17 235.11 485.89 236.24 484.64 237.36 483.39 238.50 482.10 239.70 480.75 240.99 479.35 242.33 477.95 243.70 476.60 245.06 475.33 246.37 474.20 247.60 473.20 248.73 472.31 249.79 471.50 250.81 470.77 251.81 470.11 252.83 469.50 253.90 468.96 255.04 468.51 256.21 468.12 257.41 467.78 258.61 467.48 259.78 467.20 260.90 466.95 261.97 466.74 263.00 466.57 264.01 466.43 265.01 466.31 266.00 466.20 267.00 466.12 267.98 466.07 268.94 466.05 269.89 466.03 270.87 465.98 271.90 465.90 273.00 465.78 274.20 465.65 275.47 465.50 276.79 465.33 278.14 465.13 279.48 464.90 280.80 464.64 282.09 464.35 283.37 464.03 284.66 463.70 285.94 463.35 287.22 463.00 288.50 462.61 289.87 462.18 291.35 461.73 292.83 461.31 294.20 460.95 295.36 460.70 296.20 460.55 295.62 460.37 294.84 460.14 293.90 459.86 292.84 459.52 291.70 459.10 290.50 458.59 289.20 458.00 287.76 457.35 286.22 456.65 284.67 455.93 283.14 455.20 281.70 454.46 280.34 453.71 279.02 452.92 277.73 452.11 276.46 451.27 275.22 450.40 274.00 449.48 272.79 448.51 271.58 447.51 270.39 446.50 269.26 445.49 268.18 444.50 267.20 443.54 266.29 442.60 265.43 441.66 264.64 440.70 263.93 439.72 263.31 438.70 262.80 437.66 262.41 436.61 262.12 435.54 261.93 434.42 261.82 433.21 261.78 431.90 261.80 430.41 261.89 428.74 262.06 426.99 262.31 425.25 262.60 423.62 262.94 422.20 263.30 420.94 263.74 419.76 264.27 418.69 264.84 417.76 265.40 416.99 265.87 416.40 266.20 416.74 265.24 417.22 263.91 417.79 262.34 418.37 260.66 418.89 259.00 419.30 257.50 419.60 256.17 419.85 254.90 420.04 253.66 420.19 252.41 420.27 251.10 420.30 249.70 420.23 248.18 420.06 246.56 419.82 244.89 419.59 243.21 419.40 241.57 419.30 240.00 419.31 238.61 419.38 237.37 419.50 236.18 419.64 234.88 419.78 233.37 419.90 231.50 420.03 229.26 420.19 226.75 420.35 224.01 420.48 221.11 420.54 218.09 420.50 215.00 420.35 211.77 420.11 208.34 419.81 204.79 419.46 201.21 419.09 197.69 418.70 194.30 418.27 191.06 417.76 187.90 417.23 184.79 416.71 181.70 416.25 178.62 415.90 175.50 415.65 172.36 415.47 169.21 415.36 166.06 415.29 162.90 415.28 159.75 415.30 156.60 415.37 153.34 415.50 149.96 415.67 146.57 415.88 143.32 416.13 140.32 416.40 137.70 416.71 135.56 417.07 133.80 417.46 132.30 417.87 130.92 418.29 129.53 418.70 128.00 419.11 126.37 419.54 124.76 419.98 123.13 420.40 121.47 420.82 119.73 421.20 117.90 421.56 115.94 421.90 113.89 422.23 111.76 422.54 109.59 422.83 107.43 423.10 105.30 423.36 103.17 423.62 101.00 423.86 98.84 424.06 96.71 424.21 94.65 424.30 92.70 424.32 90.82 424.28 88.97 424.19 87.19 424.06 85.52 423.90 84.01 423.70 82.70 423.43 81.64 423.07 80.82 422.68 80.15 422.30 79.56 421.99 78.97 421.80 78.30 421.76 77.65 421.84 77.10 421.98 76.55 422.15 75.90 422.31 75.05 422.40 73.90 422.43 72.25 422.44 70.14 422.44 67.83 422.42 65.57 422.41 63.65 422.40 62.30 423.17 62.63 424.24 63.11 425.51 63.66 426.86 64.23 428.19 64.73 429.40 65.10 430.51 65.35 431.60 65.53 432.68 65.66 433.72 65.72 434.73 65.74 435.70 65.70 436.61 65.63 437.46 65.52 438.28 65.36 439.08 65.13 439.88 64.82 440.70 64.40 441.55 63.84 442.42 63.13 443.29 62.34 444.14 61.51 444.95 60.72 445.70 60.00 446.37 59.41 446.96 58.93 447.52 58.46 448.06 57.95 448.61 57.32 449.20 56.50 449.84 55.41 450.51 54.10 451.19 52.67 451.86 51.22 452.50 49.86 453.10 48.70 453.67 47.69 454.25 46.76 454.79 45.91 455.29 45.17 455.70 44.56Z"/></clipPath><clipPath id="cwb"><path d="M450.40 96.60 451.31 96.28 452.13 96.10 452.92 96.01 453.71 95.98 454.56 95.95 455.50 95.90 456.52 95.79 457.58 95.66 458.69 95.54 459.87 95.46 461.14 95.47 462.50 95.60 464.03 95.88 465.72 96.29 467.50 96.77 469.28 97.30 470.97 97.83 472.50 98.30 473.85 98.72 475.09 99.13 476.25 99.52 477.35 99.93 478.43 100.35 479.50 100.80 480.53 101.24 481.50 101.66 482.43 102.10 483.38 102.59 484.39 103.18 485.50 103.90 486.75 104.79 488.11 105.84 489.52 106.98 490.95 108.16 492.32 109.32 493.60 110.40 494.78 111.42 495.90 112.41 496.98 113.39 498.02 114.34 499.02 115.28 500.00 116.20 500.93 117.07 501.81 117.88 502.66 118.67 503.49 119.48 504.33 120.34 505.20 121.30 506.11 122.36 507.04 123.49 507.98 124.67 508.91 125.90 509.82 127.15 510.70 128.40 511.56 129.67 512.41 130.98 513.25 132.31 514.05 133.64 514.81 134.98 515.50 136.30 516.13 137.62 516.71 138.96 517.24 140.29 517.73 141.61 518.18 142.88 518.60 144.10 518.98 145.22 519.31 146.26 519.60 147.26 519.87 148.26 520.13 149.33 520.40 150.50 520.68 151.79 520.97 153.16 521.25 154.59 521.51 156.05 521.73 157.53 521.90 159.00 522.02 160.45 522.10 161.91 522.14 163.38 522.15 164.87 522.13 166.41 522.10 168.00 522.06 169.66 522.01 171.37 521.93 173.12 521.81 174.91 521.64 176.70 521.40 178.50 521.10 180.33 520.76 182.21 520.36 184.10 519.90 185.97 519.35 187.78 518.70 189.50 517.91 191.13 516.99 192.72 515.98 194.24 514.94 195.70 513.93 197.09 513.00 198.40 512.17 199.58 511.41 200.64 510.67 201.62 509.91 202.59 509.11 203.59 508.20 204.70 507.19 205.92 506.11 207.23 504.98 208.57 503.81 209.92 502.61 211.24 501.40 212.50 500.18 213.70 498.94 214.88 497.68 216.03 496.38 217.14 495.06 218.24 493.70 219.30 492.31 220.32 490.88 221.31 489.42 222.26 487.94 223.20 486.43 224.14 484.90 225.10 483.32 226.09 481.67 227.10 480.01 228.11 478.35 229.09 476.73 230.03 475.20 230.90 473.75 231.70 472.37 232.46 471.03 233.16 469.72 233.82 468.41 234.43 467.10 235.00 465.78 235.53 464.47 236.01 463.17 236.46 461.88 236.84 460.59 237.16 459.30 237.40 457.99 237.57 456.66 237.67 455.33 237.70 454.03 237.67 452.78 237.57 451.60 237.40 450.50 237.18 449.46 236.91 448.47 236.57 447.52 236.15 446.60 235.63 445.70 235.00 444.84 234.26 444.02 233.43 443.24 232.51 442.47 231.48 441.69 230.34 440.90 229.10 440.09 227.70 439.27 226.15 438.45 224.49 437.63 222.77 436.81 221.06 436.00 219.40 435.18 217.78 434.34 216.17 433.51 214.55 432.69 212.93 431.92 211.32 431.20 209.70 430.55 208.11 429.94 206.55 429.38 204.99 428.84 203.40 428.32 201.75 427.80 200.00 427.28 198.14 426.78 196.19 426.29 194.18 425.82 192.12 425.39 190.06 425.00 188.00 424.66 186.02 424.35 184.11 424.08 182.18 423.84 180.16 423.61 177.96 423.40 175.50 423.19 172.64 422.97 169.40 422.77 165.99 422.62 162.60 422.52 159.40 422.50 156.60 422.57 154.22 422.71 152.11 422.92 150.21 423.16 148.44 423.43 146.73 423.70 145.00 423.98 143.27 424.30 141.60 424.64 139.98 424.99 138.43 425.35 136.93 425.70 135.50 426.05 134.15 426.39 132.90 426.74 131.71 427.11 130.54 427.49 129.39 427.90 128.20 428.33 127.00 428.79 125.80 429.26 124.60 429.76 123.40 430.27 122.20 430.80 121.00 431.35 119.79 431.92 118.57 432.51 117.35 433.11 116.13 433.75 114.91 434.40 113.70 435.08 112.48 435.78 111.24 436.51 110.01 437.25 108.79 438.02 107.62 438.80 106.50 439.59 105.43 440.40 104.40 441.22 103.41 442.07 102.46 442.96 101.55 443.90 100.70 444.92 99.88 446.01 99.08 447.15 98.33 448.29 97.65 449.38 97.07Z"/></clipPath>
<g clip-path="url(#cpb)">
<path d="M456.00 44.10 456.27 44.72 456.65 45.58 457.10 46.59 457.58 47.68 458.06 48.74 458.50 49.70 458.93 50.57 459.37 51.42 459.82 52.25 460.24 53.06 460.61 53.84 460.90 54.60 461.10 55.30 461.23 55.94 461.30 56.55 461.35 57.17 461.41 57.85 461.50 58.60 461.60 59.44 461.69 60.33 461.78 61.28 461.90 62.26 462.07 63.27 462.30 64.30 462.59 65.37 462.92 66.49 463.30 67.63 463.73 68.79 464.23 69.95 464.80 71.10 465.44 72.24 466.16 73.40 466.93 74.56 467.77 75.71 468.66 76.82 469.60 77.90 470.60 78.92 471.67 79.88 472.80 80.81 473.97 81.74 475.17 82.70 476.40 83.70 477.68 84.77 479.03 85.88 480.41 87.02 481.79 88.15 483.13 89.25 484.40 90.30 485.58 91.27 486.69 92.17 487.77 93.04 488.83 93.91 489.90 94.82 491.00 95.80 492.09 96.82 493.14 97.84 494.21 98.89 495.32 100.02 496.54 101.24 497.90 102.60 499.49 104.16 501.29 105.91 503.19 107.76 505.08 109.61 506.85 111.39 508.40 113.00 509.71 114.42 510.87 115.73 511.91 116.96 512.87 118.14 513.79 119.31 514.70 120.50 515.59 121.72 516.44 122.93 517.24 124.13 518.00 125.31 518.72 126.47 519.40 127.60 520.03 128.70 520.60 129.77 521.14 130.81 521.64 131.84 522.12 132.87 522.60 133.90 523.07 134.92 523.51 135.93 523.94 136.94 524.34 137.94 524.73 138.96 525.10 140.00 525.45 141.06 525.77 142.14 526.08 143.22 526.36 144.32 526.64 145.41 526.90 146.50 527.15 147.57 527.40 148.61 527.62 149.66 527.84 150.72 528.03 151.83 528.20 153.00 528.35 154.26 528.47 155.59 528.58 156.97 528.67 158.35 528.74 159.71 528.80 161.00 528.85 162.18 528.88 163.28 528.89 164.34 528.89 165.44 528.86 166.64 528.80 168.00 528.72 169.54 528.63 171.22 528.51 173.00 528.36 174.83 528.16 176.68 527.90 178.50 527.59 180.33 527.24 182.20 526.84 184.09 526.39 185.96 525.88 187.78 525.30 189.50 524.63 191.13 523.88 192.69 523.06 194.19 522.21 195.65 521.35 197.08 520.50 198.50 519.67 199.90 518.83 201.27 517.98 202.62 517.11 203.94 516.22 205.23 515.30 206.50 514.37 207.71 513.43 208.84 512.47 209.95 511.46 211.08 510.38 212.28 509.20 213.60 507.92 215.06 506.56 216.62 505.12 218.26 503.63 219.92 502.08 221.58 500.50 223.20 498.82 224.80 497.04 226.43 495.20 228.06 493.37 229.64 491.62 231.17 490.00 232.60 488.53 233.91 487.17 235.11 485.89 236.24 484.64 237.36 483.39 238.50 482.10 239.70 480.75 240.99 479.35 242.33 477.95 243.70 476.60 245.06 475.33 246.37 474.20 247.60 473.20 248.73 472.31 249.79 471.50 250.81 470.77 251.81 470.11 252.83 469.50 253.90 468.96 255.04 468.51 256.21 468.12 257.41 467.78 258.61 467.48 259.78 467.20 260.90 466.95 261.97 466.74 263.00 466.57 264.01 466.43 265.01 466.31 266.00 466.20 267.00 466.12 267.98 466.07 268.94 466.05 269.89 466.03 270.87 465.98 271.90 465.90 273.00 465.78 274.20 465.65 275.47 465.50 276.79 465.33 278.14 465.13 279.48 464.90 280.80 464.64 282.09 464.35 283.37 464.03 284.66 463.70 285.94 463.35 287.22 463.00 288.50 462.61 289.87 462.18 291.35 461.73 292.83 461.31 294.20 460.95 295.36 460.70 296.20 460.55 295.62 460.37 294.84 460.14 293.90 459.86 292.84 459.52 291.70 459.10 290.50 458.59 289.20 458.00 287.76 457.35 286.22 456.65 284.67 455.93 283.14 455.20 281.70 454.46 280.34 453.71 279.02 452.92 277.73 452.11 276.46 451.27 275.22 450.40 274.00 449.48 272.79 448.51 271.58 447.51 270.39 446.50 269.26 445.49 268.18 444.50 267.20 443.54 266.29 442.60 265.43 441.66 264.64 440.70 263.93 439.72 263.31 438.70 262.80 437.66 262.41 436.61 262.12 435.54 261.93 434.42 261.82 433.21 261.78 431.90 261.80 430.41 261.89 428.74 262.06 426.99 262.31 425.25 262.60 423.62 262.94 422.20 263.30 420.94 263.74 419.76 264.27 418.69 264.84 417.76 265.40 416.99 265.87 416.40 266.20 416.74 265.24 417.22 263.91 417.79 262.34 418.37 260.66 418.89 259.00 419.30 257.50 419.60 256.17 419.85 254.90 420.04 253.66 420.19 252.41 420.27 251.10 420.30 249.70 420.23 248.18 420.06 246.56 419.82 244.89 419.59 243.21 419.40 241.57 419.30 240.00 419.31 238.61 419.38 237.37 419.50 236.18 419.64 234.88 419.78 233.37 419.90 231.50 420.03 229.26 420.19 226.75 420.35 224.01 420.48 221.11 420.54 218.09 420.50 215.00 420.35 211.77 420.11 208.34 419.81 204.79 419.46 201.21 419.09 197.69 418.70 194.30 418.27 191.06 417.76 187.90 417.23 184.79 416.71 181.70 416.25 178.62 415.90 175.50 415.65 172.36 415.47 169.21 415.36 166.06 415.29 162.90 415.28 159.75 415.30 156.60 415.37 153.34 415.50 149.96 415.67 146.57 415.88 143.32 416.13 140.32 416.40 137.70 416.71 135.56 417.07 133.80 417.46 132.30 417.87 130.92 418.29 129.53 418.70 128.00 419.11 126.37 419.54 124.76 419.98 123.13 420.40 121.47 420.82 119.73 421.20 117.90 421.56 115.94 421.90 113.89 422.23 111.76 422.54 109.59 422.83 107.43 423.10 105.30 423.36 103.17 423.62 101.00 423.86 98.84 424.06 96.71 424.21 94.65 424.30 92.70 424.32 90.82 424.28 88.97 424.19 87.19 424.06 85.52 423.90 84.01 423.70 82.70 423.43 81.64 423.07 80.82 422.68 80.15 422.30 79.56 421.99 78.97 421.80 78.30 421.76 77.65 421.84 77.10 421.98 76.55 422.15 75.90 422.31 75.05 422.40 73.90 422.43 72.25 422.44 70.14 422.44 67.83 422.42 65.57 422.41 63.65 422.40 62.30 423.17 62.63 424.24 63.11 425.51 63.66 426.86 64.23 428.19 64.73 429.40 65.10 430.51 65.35 431.60 65.53 432.68 65.66 433.72 65.72 434.73 65.74 435.70 65.70 436.61 65.63 437.46 65.52 438.28 65.36 439.08 65.13 439.88 64.82 440.70 64.40 441.55 63.84 442.42 63.13 443.29 62.34 444.14 61.51 444.95 60.72 445.70 60.00 446.37 59.41 446.96 58.93 447.52 58.46 448.06 57.95 448.61 57.32 449.20 56.50 449.84 55.41 450.51 54.10 451.19 52.67 451.86 51.22 452.50 49.86 453.10 48.70 453.67 47.69 454.25 46.76 454.79 45.91 455.29 45.17 455.70 44.56Z" fill="#1d0014"/>
<path d="M455.3 43.5 452.7 47.5 449 55.5 447.3 57.2 448 57.8 448 58.5 445.7 61.2 440.7 65.8 438.7 66.5 434 66.5 433.7 66.2 431.3 65.8 430.7 64.5 429.7 64.5 428 63.5 426.3 63.2 423.3 61.5 421.7 61.5 421.7 64.2 422.7 64.2 423.3 64.8 426.3 71.5 427 74.8 427.3 75.2 427.7 79.8 428 80.2 428 87.5 427.7 87.8 427.7 90.5 427.3 90.8 427.3 92.8 427 93.2 426.7 96.2 426.3 96.5 426.3 97.5 424.7 103.2 424.7 104.5 424.3 104.8 424.3 106.5 424 106.8 424 108.5 423.7 108.8 423.7 110.5 423.3 110.8 422.3 117.2 422 117.5 420.3 125.2 419.7 126.5 419.7 127.5 418 133.2 417.7 136.2 417 137.8 416.7 141.5 416.3 141.8 416.3 145.2 416 145.5 416 151.8 415.7 152.2 415.7 170.5 416 170.8 416 173.5 416.3 173.8 417 182.2 417.7 184.2 418 188.2 418.3 188.5 418.7 192.2 419 192.5 419.3 198.5 419.7 198.8 420.3 206.8 420.7 207.2 420.7 209.8 421 210.2 421 212.8 421.3 213.2 421.3 217.2 421.7 217.5 421.3 222.8 421.7 223.2 421.7 241.2 422 241.5 422 247.5 421.7 247.8 421.7 251.2 421.3 251.5 420.7 255.5 419.3 259.5 417.7 262.5 416.7 262.5 416.7 263.2 415.7 265.2 415.7 266.8 417.3 266.8 420.3 264.8 427 262.8 435.3 262.5 439.7 264.2 442.7 266.5 448 272.2 449 274.2 450.7 275.8 456 285.2 456 285.8 458 289.8 458.3 291.5 459.3 293.2 459.3 294.8 460 296.8 461.3 296.8 462 295.2 462 293.8 461.3 293.5 461.7 290.2 462 289.8 462 287.5 463 284.5 463 283.2 463.7 281.2 463.7 278.8 464 278.5 464.7 263.2 465 262.8 465.7 258.5 466.7 256.5 466.7 255.8 468.7 252.2 470 250.5 482 238.5 486.7 234.8 492.3 229.5 496.7 226.2 503.7 219.2 514 207.5 518.7 200.8 524.7 190.2 525.7 187.2 526 184.8 526.7 183.5 527 180.2 527.7 178.2 527.7 175.5 528 175.2 528.3 160.5 528 160.2 528 155.8 527.7 155.5 527.3 150.5 526.3 147.5 526 144.8 524.3 140.5 523.7 137.5 518.7 127.5 512 117.8 508 113.5 490.3 96.2 478 86.5 473.3 83.8 468.7 80.5 462.3 74.5 460.3 71.8 458 67.2 457.3 64.8 457.3 63.5 457 63.2 456.3 46.8 457.3 45.5 457.3 44.8 456.7 43.5Z" fill="#31003c"/>
<path d="M455.3 43.5 452.7 47.5 451.3 50.2 451.3 50.8 449 55.5 448.3 56.2 449 57.2 445.3 65.2 443 68.5 440.7 70.2 437.3 69.8 429.3 65.2 429.3 64.2 426.3 63.2 423.3 61.5 421.7 61.5 421.7 63.5 422.3 63.5 427.7 66.5 433.3 71.8 434.3 73.8 434.3 78.5 434 78.8 433.3 83.8 432.3 86.5 432 88.8 431 91.2 431 92.2 429.7 96.2 427.3 100.5 426 104.5 425.3 108.5 424.3 111.5 424.3 112.8 423.3 115.8 423.3 117.2 422.3 119.8 421.3 124.8 420.7 126.2 420.7 127.2 419.7 130.2 419 135.5 417.7 139.2 417.7 140.2 417 141.8 417 144.5 416.7 144.8 416.3 160.8 416 161.2 416.3 171.5 416.7 171.8 417.3 180.5 417.7 180.8 417.7 182.8 418 183.2 418.3 186.8 418.7 187.2 418.7 188.8 419.3 191.2 420 198.5 420.3 198.8 421 205.8 421.3 206.2 421.3 208.5 421.7 208.8 421.7 210.8 422 211.2 422 213.2 422.3 213.5 423.3 230.5 423.7 230.8 423.7 232.8 424.3 234.8 424.7 240.8 424.3 241.2 424 247.2 423.7 247.5 423.3 250.5 422.7 251.8 422 254.8 418.3 262.5 417.3 263.5 416.3 263.5 415.7 265.2 415.7 266.8 417.3 266.8 419.7 265.2 424 263.5 428.3 262.8 428.7 261.8 429.3 261.8 430 262.5 430.3 261.5 437.7 261.5 441.3 263.5 447.7 270.2 447 271.2 448 272.2 449 274.2 450.7 275.8 453.3 280.8 454.7 282.5 457.3 288.2 458.7 292.2 459 291.8 460 292.2 460 292.5 459.3 292.8 459.3 294.8 460 296.8 461.3 296.8 461.7 295.2 461 294.8 461 292.2 460.7 291.8 461 291.5 461 289.5 460.7 289.2 460.7 288.2 461 287.8 461 286.2 461.7 284.5 462 280.5 462.3 280.2 462.3 264.5 462.7 264.2 463 259.8 464 256.5 467 251.5 470.7 247.8 472.7 246.5 479.7 239.2 496.7 225.2 503.7 218.2 513.7 206.8 518.3 200.2 523.7 190.8 525 187.2 525 186.2 526.3 181.8 526.3 180.2 527 177.8 527 175.2 527.3 174.8 527.7 160.8 527.3 160.5 527.3 156.2 527 155.8 526.7 151.2 526 149.5 526 148.2 525.7 147.8 525 144.2 523.7 140.8 523 137.8 519.7 130.8 519 130.2 517 126.2 510.7 117.5 496.3 102.8 487.7 95.2 477 87.5 470 84.5 460.3 78.5 457.3 76.2 451.7 70.2 450.3 67.2 450.3 62.8 453.7 51.5 456.3 45.8 457.3 45.5 456.7 43.5Z" fill="#400062"/>
<path d="M455.3 43.5 454 45.2 451.3 50.2 451.3 50.8 449.7 53.8 449.7 54.5 450 54.5 450.3 55.2 448.7 58.2 448.7 58.8 447 61.8 447 62.5 445.3 65.5 445.3 66.2 443.7 69.2 443.7 69.8 442 72.5 441.3 72.5 429 65.2 427 64.2 427 63.2 426.3 63.2 423.3 61.5 421.7 61.5 421.7 63.2 422.3 63.2 424.3 64.2 432.3 69.2 439.7 73.2 441 74.8 438 79.8 438 80.8 436.7 83.5 436.7 84.5 436 85.5 436.3 85.8 435 88.8 435.3 89.5 432 97.2 431.7 98.8 431 99.5 430.3 98.8 428.7 100.5 427.3 103.5 426.7 106.5 426 107.8 423.7 118.2 423 119.5 422.3 123.2 420.7 128.2 420.7 129.5 420 131.2 419.7 135.8 417.3 142.2 417 150.5 416.7 150.8 416.7 155.8 416.3 156.2 416.3 167.5 416.7 167.8 416.7 171.8 417 172.2 417 174.8 417.3 175.2 418 182.8 418.7 184.8 418.7 186.8 419 187.2 419 188.8 419.7 191.2 419.7 193.2 420 193.5 420 195.5 420.3 195.8 420.3 197.8 420.7 198.2 421.7 207.2 422 207.5 422.7 213.8 423 214.2 424.3 229.5 424.7 229.8 424.7 231.5 426 235.2 426 236.8 426.3 237.2 426.3 241.2 426 241.5 426 243.8 425.7 244.2 425 248.5 423 254.2 418.3 262.8 417 264.5 416 264.2 415.7 266.8 417.3 266.8 420.3 264.8 423.7 263.8 424.3 262.5 425.3 263.2 425.3 262.5 425.7 262.2 426.3 262.5 426.7 261.8 428.3 261.8 430.3 261.2 432.7 261.2 433 260.8 439.3 260.5 440.3 258.8 441 255.8 442 254.8 442.7 255.5 441 260.5 441 262.2 447 268.8 449 271.5 450 273.5 451 274.5 450.3 275.5 452.3 278.5 453.3 280.8 454.7 282.5 456.7 287.2 457 286.8 458 287.2 458 287.5 457.3 287.8 457.3 288.8 457.7 288.5 458.7 288.8 458.7 289.2 458 289.5 458 290.5 458.7 292.2 459 291.8 460 291.8 460.3 292.2 459.3 292.8 459.3 294.8 460 296.8 461.3 296.8 461.7 295.2 461 294.8 461 293.2 460.3 292.2 460 286.8 460.7 285.5 461 282.2 461.3 281.8 461 263.8 461.3 263.5 461.7 259.2 463 255.2 465.7 251.2 468 248.8 473.3 245.2 475 242.8 478.7 239.2 496.3 224.8 506.3 214.8 514 205.8 516.3 202.5 516.7 201.5 521 195.2 521 194.5 521.7 193.8 523.7 189.8 526 181.5 526 179.5 526.7 177.2 526.7 173.2 527 172.8 527 158.8 526.7 158.5 526.7 154.5 526.3 154.2 526.3 152.2 526 151.8 525.3 147.2 521.7 135.8 519.3 131.2 515.3 124.5 511.3 119.2 506 113.2 496.7 103.8 493.7 101.5 490.3 98.2 485.3 94.2 477 88.5 474.3 87.2 472.3 87.5 470 85.8 468.7 85.5 466.3 84.2 465.7 84.2 464.3 83.2 456.3 79.5 449.7 75.5 445.7 73.5 444 73.5 443.7 73.2 446.7 66.8 446.7 66.2 448.3 63.2 448.3 62.5 450 59.5 450 58.8 451.7 55.8 451.7 55.2 453.3 52.2 453.3 51.5 455 48.5 455 47.8 456 45.8 457 44.8 456.7 43.5Z" fill="#4b0085"/>
<path d="M459.3 292.8 459.3 294.8 460 296.8 461.3 296.8 461.7 295.2 461 294.8 460.7 292.8ZM458 289.5 458 290.5 458.7 292.2 460 291.5 459.7 289.5ZM455.3 43.5 454.3 44.8 455 45.8 454 47.5 454 48.2 452.3 50.8 452.3 51.5 450.7 54.5 450.7 55.2 449 58.2 449 58.8 447.3 61.8 447.3 62.5 445.7 65.5 445.7 66.2 442 73.2 433 68.2 429 65.5 427.3 64.8 426 63.8 426 63.2 426 63.5 425.3 63.8 425 63.5 425.3 62.5 423.3 61.5 421.7 61.5 421.7 62.5 422.3 62.5 426.7 65.5 438 71.8 441 73.8 441.3 74.8 439 78.5 439 79.2 437 83.8 437 85.2 436.3 87.2 434 92.2 434 92.8 432 97.2 431.3 99.5 430 100.5 428.3 103.5 421 129.2 420.7 132.8 420.3 133.2 420.3 134.2 420.7 134.5 420.3 136.5 419.3 138.2 419.3 138.8 418 141.2 418 142.2 417.7 142.5 417.3 150.5 417 150.8 417 153.8 416.7 154.2 416.7 168.2 417 168.5 417 172.2 417.3 172.5 418 180.5 418.3 180.8 419 186.8 419.7 188.8 420.3 195.2 421 197.5 421 199.5 421.3 199.8 421.3 201.5 422 203.8 422.3 208.2 422.7 208.5 423.3 214.5 424 216.8 424 219.5 424.3 219.8 424.3 222.2 424.7 222.5 425.3 229.2 425.7 229.5 426 232.2 428 235.5 428.3 238.5 428 238.8 428 242.2 427.7 242.5 427.3 245.2 425.7 250.2 424.3 252.5 424.3 253.2 421.7 258.2 416.7 265.2 415.7 265.2 415.7 266.8 417.3 266.8 419.7 265.2 422.7 264.2 422.7 263.2 423 262.8 423.7 263.5 424 262.5 424.7 262.8 425 262.2 427 261.8 430 260.8 436 260.2 438.3 259.5 439.7 258.2 441 255.5 442 254.8 442.7 255.5 442.3 255.8 442 259.5 441.7 259.8 442 262.5 447.3 268.8 449 271.2 449.7 272.8 451.3 274.8 452 276.2 451.3 277.2 452.3 278.5 453.3 280.8 454.7 282.5 456.7 287.2 457.7 286.5 458.3 287.2 458 287.8 457.3 287.8 457.3 288.8 459 287.8 460.3 283.8 460.3 273.5 460 273.2 460 268.8 459.7 268.5 459.7 261.8 460 261.5 460.3 257.8 462 253.8 463.3 251.8 466.7 248.5 473.3 244.5 475 241.5 476.3 240.2 478 239.2 483 234.8 484.3 234.2 486.3 232.2 496 224.5 506 214.2 507.3 213.2 508.3 211.5 511 208.8 512 207.2 514 205.2 515.7 202.8 516.7 200.8 517.7 199.8 518.7 197.8 520.7 195.2 520.7 194.5 521.3 193.8 523.3 189.8 523.3 189.2 522.7 188.8 522.7 188.2 523.3 186.8 523.3 185.8 524.7 181.5 524.7 179.8 525.3 177.5 525.3 175.2 525.7 174.8 526 160.5 525.7 160.2 525.7 156.2 525.3 155.8 525.3 153.5 525 153.2 524.7 149.8 524.3 149.5 523.3 144.5 520.7 136.8 517.7 130.8 517 130.2 515.3 126.8 513.7 124.8 513.3 123.8 508.7 117.8 503 111.8 503.3 111.2 496.7 104.8 495 102.8 493.3 101.8 486.7 95.8 485.7 95.5 484.3 94.2 483.3 93.8 476 88.8 474 87.8 477.3 89.8 478.3 90.8 477.3 91.5 476.7 90.8 475.3 90.5 468.3 86.2 467 85.8 464.7 84.5 464 84.5 461 82.8 460.3 82.8 459 81.8 458.3 81.8 458 81.2 456.3 80.2 455.7 80.2 452.3 78.5 450 76.8 443.3 73.5 444.7 70.8 444.7 69.8 446.3 66.8 446.3 66.2 454.3 49.2 454.7 47.5 456.7 44.2 456.7 43.5Z" fill="#5600a6"/>
<path d="M459.3 292.8 459.3 294.8 460 296.8 461.3 296.8 461.3 296.2 461 296.2 460.7 295.5 461.7 295.2 461 294.8 460.7 293.2 460.3 292.8ZM458 289.5 458 290.5 458.7 292.2 459.7 291.5 459.7 290.5 459 289.5ZM458.7 290.2 459 289.8 459.3 290.2 459 290.5ZM457.3 288.8 458 288.5 458.3 287.8 457.3 287.8ZM449.7 58.2 446 65.8 446 66.5 445 68.5 444.3 68.8 444 70.2 442 73.5 431.7 67.8 438.3 71.5 439 72.5 441 73.5 441.7 74.5 440 77.8 439.3 78.5 439.3 79.2 438.7 80.2 438.7 81.2 438 82.2 438.3 82.5 437.3 84.5 437.3 85.2 436.7 86.2 436.7 86.8 436 87.8 432.7 96.8 431.7 98.5 431.7 99.5 429.7 102.2 429.3 103.5 428.3 105.2 421.3 129.2 421.3 130.5 421 130.8 421 134.8 421.3 135.5 418 141.8 418 143.2 417.7 143.5 417.3 152.5 417 152.8 417 168.5 417.3 168.8 417.3 172.5 417.7 172.8 418.3 181.8 419 184.2 419 186.2 419.3 186.5 419.3 188.2 420 190.5 420.7 196.5 421.3 196.2 422 196.8 422 198.8 422.3 199.2 422.3 200.8 422.7 201.2 422.7 202.8 423 203.2 423 204.8 423.3 205.2 423.3 206.8 424 209.2 423 210.2 423 210.8 423.3 211.2 424 216.5 424.3 216.8 424.3 218.8 424.7 219.2 424.7 221.2 425 221.5 425.3 225.2 426 227.2 426 229.2 426.3 229.5 426.7 231.8 429.3 234.2 429.7 235.2 429.7 239.2 429.3 239.5 429.3 241.8 429 242.2 428.7 244.5 425.3 252.5 424.7 253.2 422.7 257.2 418.7 262.8 416.7 265.2 415.7 265.2 415.7 266.8 417.3 266.8 419.7 265.2 422.7 264.2 422.7 263.2 423 262.8 423.3 263.2 423.7 262.5 426.7 261.5 429 261.2 430.3 260.5 433.7 260.2 434 259.8 435.3 259.8 437.7 259.2 438.7 258.5 440.3 256.2 442 254.8 442.7 255.5 442.3 255.8 442.3 258.8 442 259.2 442.3 262.2 444.7 265.5 447.3 268.5 452.3 276.5 452.3 276.8 451.7 277.2 451.7 277.8 454.7 282.5 456.7 287.2 459 286.2 459.7 284.5 459.7 282.8 460 282.5 460 278.2 459.7 277.8 459.7 274.2 459.3 273.8 459 266.5 458.7 266.2 458.7 261.5 459 261.2 459.3 257.2 460.7 253.8 462 251.8 465 248.8 468.3 246.5 470.7 245.5 471.3 244.8 473.3 244.2 473.3 243.5 474 242.5 473.3 242.5 472.7 241.8 474 240.5 475.7 239.5 477.3 237.8 482 234.5 484 232.5 485.3 231.8 487.3 229.8 488.7 229.2 490.7 227.2 493.3 225.5 497.7 221.8 506 213.2 511.7 206.5 512.3 205.2 515.3 201.5 519.7 194.8 523.3 186.5 523.7 183.8 524.7 180.5 524.7 178.8 525 178.5 525 175.8 525.3 175.5 525.7 160.5 525.3 160.2 525.3 156.2 525 155.8 525 153.5 524.7 153.2 524.3 149.8 524 149.5 523 144.5 520.3 136.8 517.3 130.8 516.7 130.2 515 126.8 513.3 124.8 513 123.8 508.3 117.8 504.3 113.5 489.3 99.5 480 92.8 478.7 92.2 477.7 92.2 474.3 89.8 467 85.8 466.3 85.8 464 84.5 463.3 84.5 460.3 82.8 459.7 82.8 454.7 80.5 454.3 79.8 452.7 79.2 451.7 78.2 443 73.5 444.7 70.2 445 68.2 446 66.5 446 65.8ZM470.3 243.8 470.7 243.5 471.3 243.8 471 244.2ZM471.3 243.5 471.7 243.2 472.3 243.5 472 243.8ZM472.3 243.2 472.7 242.8 473.7 243.2 473.3 243.5ZM472 242.2 472.3 241.8 472.7 242.2 472.3 242.5Z" fill="#5f01c2"/>
<path d="M459.3 293.2 459.3 294.8 460 296.8 461.3 296.8 461.3 296.2 461 296.2 460.7 295.5 461.7 295.2 460.7 294.5 460.7 293.5 460.3 293.2ZM458 289.8 458.7 292.2 459.7 291.5 459.7 290.8 458.7 290.2 459 289.8ZM457.3 288.8 458.3 288.2 457.3 288.2ZM442 73.8 441.7 75.2 440.7 76.5 441 76.8 440.3 77.8 440.3 78.5 438.7 81.2 438.7 81.8 435.3 89.5 435 91.2 431.7 98.8 431.7 100.5 431 101.2 429 105.2 427 110.8 427 111.8 424 120.8 424 121.8 423.3 123.2 423.3 124.2 422.7 125.5 422.7 126.5 421.7 129.5 421.7 130.8 421.3 131.2 421.3 134.5 422.3 135.5 421.7 136.2 421.7 136.8 419.7 140.8 418.7 144.2 418.3 152.8 418 153.2 418 167.8 418.3 168.2 418.3 172.2 418.7 172.5 418.7 175.5 419 175.8 419 178.8 419.3 179.2 420 185.8 420.7 187.8 420.7 189.8 421 190.2 422 197.8 422.3 198.2 422.3 199.5 423 201.5 424 209.2 424.3 209.5 424.3 210.8 424.7 211.2 424.7 212.5 425.3 214.5 426 220.8 426.3 221.2 426.3 222.8 426.7 223.2 427.3 228.2 428 230.2 429.3 231.5 433 233.2 433.3 233.8 433 234.2 432.7 233.8 431.7 235.2 430.3 243.2 429.3 246.2 427 250.8 421 260.2 416.7 265.2 415.7 265.2 415.7 266.8 417.3 266.8 419.7 265.2 422 264.5 421.7 263.5 422 263.2 422.7 263.8 422.7 263.2 423 262.8 423.3 263.2 423.3 262.8 424.3 262.2 428.3 260.8 429.3 260.8 430.7 260.2 432 260.2 432.3 259.8 437 258.8 438.7 257.8 441.3 254.8 442 254.8 442.7 255.5 442.7 257.2 442.3 257.5 442.3 260.8 444 264.2 446.3 266.8 451.7 275.2 452.7 277.2 452 278.2 453.3 280.8 454.7 282.5 456.7 287.2 459 285.5 459 284.5 459.3 284.2 459.3 277.5 459 277.2 459 274.5 458.7 274.2 458.7 271.8 458.3 271.5 458.3 269.2 458 268.8 457.7 260.2 458 259.8 458.3 256.5 459.7 253.2 464.3 248.2 466.3 246.8 471 244.5 471.7 244.5 471.3 243.5 471.7 243.2 473.7 242.8 472.7 241.5 474.3 239.8 497.7 221.5 506 212.8 511.3 206.5 515 201.5 521.3 191.2 524 182.5 524.3 179.2 524.7 178.8 524.7 176.8 525 176.5 525 173.2 525.3 172.8 525.3 159.5 525 159.2 525 155.5 524.7 155.2 524.7 153.2 524.3 152.8 524 149.5 523.7 149.2 523 145.5 522 143.2 522 142.2 521 140.2 520 136.8 515.7 128.5 509.3 119.5 503 112.5 490.3 100.8 481.7 94.5 478 92.5 477.3 92.8 476.3 92.2 476.7 91.5 476 90.8 467 85.8 466.3 85.8 460.3 82.8 456.7 81.5 449.3 77.8 448.3 76.8 446.7 76.2 446.3 75.5 444 74.5 443.3 73.8ZM470.3 243.8 470.7 243.5 471.3 243.8 471 244.2ZM472 242.2 472.3 241.8 472.7 242.2 472.3 242.5Z" fill="#6701d9"/>
<path d="M459.3 293.2 459.3 294.8 460 296.8 461.3 296.8 461.3 296.2 460.7 295.8 460.7 293.5 460.3 293.2ZM458 289.8 458.7 292.2 459.7 291.5 459.3 290.8 458.3 290.8 458 290.5 459 289.8ZM457.3 288.2 457.3 288.8 458 288.5 458 288.2ZM444.3 79.5 442.3 80.5 439.7 83.8 434.3 95.2 433.7 97.5 428.7 107.5 422 129.5 421.7 134.2 422.3 135.2 422.3 135.8 420.7 139.2 419 144.2 418.7 152.2 418.3 152.5 418.3 157.8 418 158.2 418 167.2 418.3 167.5 418.3 170.8 418.7 171.2 419.3 179.2 419.7 179.5 419.7 181.5 420 181.8 420.3 185.8 421 188.2 421 190.2 421.7 192.2 421.7 194.2 422.3 196.2 422.7 199.8 423 200.2 423 201.5 423.7 203.5 423.7 205.2 424.3 207.2 424.3 208.8 424.7 209.2 424.7 210.5 425 210.8 425 212.2 425.3 212.5 425.3 213.8 426 215.8 426.7 221.5 427 221.8 428 227.5 429 229.8 433.3 233.5 433.3 234.8 434 235.8 433 236.5 431.7 243.5 429.3 248.5 424.3 256.2 421 260.5 416.7 265.2 415.7 265.2 415.7 266.8 417.3 266.8 419.7 265.2 421 264.8 421 263.8 421.3 263.5 421.7 263.8 422 263.2 422.3 263.5 422.7 262.8 426.7 261.2 436.7 258.5 438.3 257.5 441 254.8 442 254.8 442.7 255.5 442.7 260.5 443 260.8 443 261.8 449 270.5 449.7 272.2 451.3 274.5 452.7 277.2 452 278.2 453.3 280.8 454.7 282.5 456.7 287.2 458.3 285.8 458.7 285.2 458.7 283.5 459 283.2 458.7 277.2 458.3 276.8 458.3 274.8 458 274.5 458 272.5 457.7 272.2 457.7 270.2 457.3 269.8 457.3 267.8 457 267.5 457 264.8 456.7 264.5 456.7 258.2 457 257.8 457 256.2 458.3 252.8 460.7 249.8 463.7 247.5 467.7 245.5 468 244.5 473.3 242.8 473.7 242.5 472.7 241.8 472.7 241.2 475.3 238.5 480.3 234.5 481.7 233.8 483.3 232.2 484.7 231.5 490.7 226.5 493.3 224.8 497.7 221.2 505.7 212.8 511.3 206.2 512 204.8 515 201.2 519.7 193.8 521.3 190.5 523.7 182.8 524.3 177.5 524.7 177.2 524.7 174.2 525 173.8 525 158.2 524.7 157.8 524.3 152.8 524 152.5 524 151.2 523.7 150.8 523.7 149.5 523.3 149.2 522.3 144.2 519.7 136.8 516.7 130.8 512.7 124.5 508.3 118.8 499.7 109.8 489.3 100.5 481.3 94.8 474 91.5 471 89.5 465.7 86.8 461 85.2 458.7 83.8 458 83.8 457 83.2 456.3 83.2 448.3 79.8ZM472 242.2 472.3 241.8 472.7 242.2 472.3 242.5ZM442.3 74.2 442.3 74.5 442.7 74.2 443.3 74.5Z" fill="#6e02ec"/>
<path d="M459.3 293.2 459.3 294.8 460 296.8 461.3 296.8 461.3 296.2 460.7 295.8 460.7 293.8 460.3 293.2ZM458 289.8 458.7 292.2 459.3 291.8 459 291.2 459.3 290.8 458.3 290.8 458 290.5 458.7 290.2 458.7 289.8ZM457.3 288.2 457.3 288.8 458 288.5 458 288.2ZM446.3 82.2 446 82.5 445 82.5 442.7 83.8 439.7 87.2 437.7 90.5 434 97.8 434 98.5 430 105.8 425.3 119.2 425.3 120.2 422.7 128.2 422.3 130.8 422 131.2 422 134.2 422.7 135.5 420.7 139.8 419.3 144.2 419 150.5 418.7 150.8 418.7 154.5 418.3 154.8 418.3 167.5 418.7 167.8 418.7 171.2 419 171.5 419 174.5 419.3 174.8 419.3 177.5 419.7 177.8 420 182.2 420.3 182.5 420.3 184.2 420.7 184.5 420.7 186.2 421 186.5 422.3 196.2 423 198.2 423 199.8 423.3 200.2 423.3 201.5 423.7 201.8 423.7 203.2 424.3 205.2 424.3 206.8 425.3 210.2 425.3 211.5 425.7 211.8 425.7 213.2 426 213.5 426 214.8 426.3 215.2 426.3 216.5 426.7 216.8 426.7 218.2 427 218.5 427 219.8 427.3 220.2 427.3 221.5 427.7 221.8 427.7 223.2 428 223.5 428.7 227.2 430 229.8 433.3 233.2 433.3 234.8 435 238.5 434 239.2 434 240.8 432.7 245.2 429.7 249.8 421.7 260.2 416.7 265.5 415.7 265.2 415.7 266.8 417.3 266.8 419.7 265.2 421 264.8 421 263.8 421.3 263.5 421.7 263.8 422 263.2 422.3 263.5 422.7 262.8 424.7 261.8 431 259.5 435.3 258.5 438 257.2 440.7 254.8 441.7 254.5 442.7 255.2 442.7 257.8 443 258.2 443.3 261.5 451.7 274.8 451.7 275.5 453.3 278.5 452.7 278.8 452.7 279.5 454.7 282.5 456.7 287.2 457.7 286.5 458.3 285.2 458.3 279.5 458 279.2 458 277.2 457.7 276.8 457.3 273.2 456.7 271.2 456 265.2 455.7 264.8 455.7 262.2 455.3 261.8 455.3 257.2 455.7 256.8 455.7 255.2 457 251.8 458.3 250.2 461 247.8 462.7 246.8 463.3 246.8 463.3 245.8 463.7 245.5 469.7 244.2 470.7 243.5 473.3 242.8 473 242.2 472.3 242.5 472 241.8 472.7 240.5 475 238.2 497.7 220.8 505.7 212.5 513 203.5 519 194.5 520.7 191.5 520.7 190.8 522.3 187.2 522.3 186.2 523.3 183.2 523.3 181.8 523.7 181.5 523.7 179.8 524.3 177.5 524.3 174.8 524.7 174.5 524.7 157.5 524.3 157.2 524 152.8 523.7 152.5 523.7 151.2 523.3 150.8 523.3 149.5 523 149.2 522 144.2 519.3 136.8 516.7 131.5 512 124.2 509 120.2 496 106.8 488.7 100.5 482 95.8 478.3 93.8 474.7 92.5 474 91.8 468.3 88.8 467.7 88.8 465.3 87.5 460.3 85.8 459.3 85.2 456.7 84.5 455.7 83.8 454.7 83.8 451 82.5Z" fill="#7602f8"/>
<path d="M459.3 293.2 459.3 294.8 460 296.8 461.3 296.8 461.3 296.2 460.7 295.8 460.3 293.2ZM458 289.8 458.7 292.2 459.3 291.8 459 290.8 458 290.5 458.7 290.2 458.7 289.8ZM457.3 288.2 457.3 288.8 458 288.5 458 288.2ZM447.7 84.2 444 85.5 440.3 88.8 436.7 94.5 435 98.2 434.3 98.8 430.7 105.8 430.7 106.5 429 109.8 428.3 112.5 427.7 113.5 425.7 119.5 425.7 120.5 424 124.8 424 125.8 423.3 127.2 422.7 131.2 422.3 131.5 422.7 136.2 421 139.8 419.7 144.2 419.3 149.8 419 150.2 419 154.2 418.7 154.5 418.7 167.5 419 167.8 419 171.5 419.3 171.8 419.7 177.8 420 178.2 420 180.2 420.3 180.5 420.3 182.5 420.7 182.8 422 192.5 422.7 194.5 422.7 196.2 423 196.5 423 197.8 423.3 198.2 425.3 209.5 426 211.2 426 212.5 426.7 214.2 427 217.2 427.7 218.8 427.7 220.2 428 220.5 429 225.5 430.3 228.8 433.3 232.8 433.3 234.8 436.3 241.5 435.3 242.2 435 244.5 432 248.8 427.3 253.8 423.3 258.8 416.7 265.5 415.7 265.2 415.7 266.8 417.3 266.8 419.7 265.2 421 264.8 421 263.8 421.3 263.5 421.7 263.8 422 263.2 422.3 263.5 422.7 262.8 426.7 260.8 435.7 257.8 437.7 256.8 439.7 255.2 441 254.5 442 254.5 442.7 255.2 442.7 256.2 443 256.5 443 258.8 443.3 259.2 443.7 261.5 451 273.5 453.3 278.5 452.7 278.8 452.7 279.5 454.7 282.5 456.7 287.2 457.3 286.8 457 286.2 457.7 285.8 458 284.8 458 281.5 457.7 281.2 457.7 279.2 457.3 278.8 456 270.8 455.7 270.5 455 266.2 454.7 265.8 454.3 261.8 454 261.5 454 253.5 455 251.2 456.7 249.2 458.3 248.2 458 247.5 458.7 246.8 466 245.2 473 242.8 473.3 242.5 473 242.2 472.3 242.5 471.7 241.8 472.3 240.2 476.3 236.5 492.7 224.5 498.7 219.5 505.3 212.5 513.7 202.2 519.7 192.8 521.3 189.2 523 183.5 523.7 178.2 524 177.8 524 175.2 524.3 174.8 524.3 157.5 524 157.2 523.7 152.8 523.3 152.5 523.3 151.2 523 150.8 523 149.5 522.7 149.2 521.7 144.2 520 140.2 519.7 138.5 516.7 132.2 509.3 121.2 499.7 110.8 489.7 101.8 481 95.8 464 87.8 454.7 84.8 451.3 84.5 451 84.2Z" fill="#7c03fe"/>
<path d="M459.3 293.2 459.3 294.8 460 296.8 461.3 296.8 461.3 296.2 460.7 295.8 460.3 293.5ZM458 289.8 458.7 292.2 459.3 291.8 459 290.8 458 290.5 458.7 290.2 458.7 289.8ZM457.3 288.2 457.3 288.8 458 288.5 458 288.2ZM448.3 85.8 446 86.5 442.3 88.8 439.3 92.2 435 99.2 430 108.8 424.3 125.2 424.3 126.2 423 130.2 423 131.5 422.7 131.8 422.7 134.5 423 135.5 420 144.2 420 146.5 419.7 146.8 419.7 149.2 419.3 149.5 419.3 153.5 419 153.8 419 167.8 419.3 168.2 419.3 171.8 419.7 172.2 419.7 174.8 420 175.2 420.7 182.8 421 183.2 422 190.8 422.7 192.8 422.7 194.5 423 194.8 423.7 199.5 424.3 201.2 424.3 202.8 425 204.5 425.3 207.5 426.3 210.5 426.3 211.8 427.7 216.2 427.7 217.5 428 217.8 429.3 224.2 431.3 229.2 433.3 231.8 433.7 232.8 433.3 234.5 434 235.5 434.3 237.2 436 240.5 436.7 242.8 438 245.2 435.7 247.5 433.3 249.2 419 263.5 416.7 265.5 415.7 265.2 415.7 266.8 417.3 266.8 419.7 265.2 421 264.8 420.7 264.5 421 263.5 429.3 259.5 435.3 257.5 439 255.2 441.3 254.2 442 254.5 443 255.8 443.3 259.2 445.3 263.8 448 267.8 451 273.8 452 275.2 452 275.8 453.3 278.5 452.7 278.8 452.7 279.5 454.7 282.5 456.7 287.2 457.3 286.8 457 286.2 457.7 285.2 457.3 284.5 457.3 280.8 457 280.5 456.7 277.5 456.3 277.2 456.3 276.2 454 267.8 454 266.5 453.3 264.8 453 261.8 452.7 261.5 452 255.5 451.7 255.2 451.7 250.8 452.3 249.8 452 249.2 454 248.2 455 248.2 459.7 246.5 461 246.5 462.3 245.8 464.7 245.5 468 244.2 469 244.2 473 242.8 473.3 242.5 473 242.2 472 242.5 471.3 241.5 472 239.8 474.3 237.5 483.7 230.5 485 229.8 496.7 220.8 501 216.8 510.3 206.2 515 199.8 519 193.5 522 186.5 523 180.5 523.3 180.2 523.3 178.5 523.7 178.2 523.7 175.5 524 175.2 524 157.2 523.7 156.8 523.7 154.5 523.3 154.2 522.7 149.5 522.3 149.2 521.7 145.5 521 144.2 521 143.2 520 141.2 519 137.8 518 136.2 518 135.5 516.7 133.5 515.3 130.5 508.3 120.5 498 109.8 493.3 105.5 486.3 99.8 481.7 96.8 476.3 94.2 475.7 94.2 467 89.8 460.3 87.5 459.3 87.5 458 86.8 455.3 86.5 455 86.2 453.3 86.2 453 85.8ZM456.3 284.5 456.7 284.2 457 284.5 456.7 284.8Z" fill="#8305fe"/>
<path d="M459.3 293.2 459.3 294.8 460 296.8 461.3 296.8 461.3 296.2 460.7 295.8 460.7 294.5 460 293.2ZM458 289.8 458.7 292.2 459.3 291.8 459 290.8 458 290.5 458.7 290.2 458.7 289.8ZM457.3 288.2 457.3 288.8 458 288.5 458 288.2ZM450.7 86.8 450.3 87.2 447 87.5 444.3 88.8 440 92.8 436.3 98.2 431 107.8 431 108.5 428.7 113.5 428 116.2 427.3 117.2 424 127.5 423.3 131.5 423 131.8 423 136.5 420.3 143.8 420 148.5 419.7 148.8 419.7 152.5 419.3 152.8 419.3 169.2 419.7 169.5 420 175.8 420.3 176.2 420.3 178.5 420.7 178.8 420.7 181.2 421 181.5 421 183.5 421.3 183.8 422 189.5 422.3 189.8 422.7 193.2 423 193.5 423.7 198.2 424.3 199.8 424.7 202.8 425.3 204.5 425.7 207.5 426 207.8 429.3 222.2 431 227.2 433.7 231.8 433.7 233.5 433.3 234.2 434 235.2 434 236.2 434.7 237.2 436.7 242.8 440.3 249.2 439.3 249.8 438 248.8 437 248.8 433 250.8 429.3 253.8 423.3 259.8 416.7 265.5 415.7 265.2 415.7 266.8 417.3 266.8 419.7 265.2 421 264.8 420.7 264.5 421 263.5 428 259.8 428.7 259.8 432.7 257.8 434.3 257.5 440.3 254.2 441.7 254.2 443 255.5 443 256.8 443.3 257.2 444 260.5 452.7 276.5 452.7 277.2 453.3 278.5 452.7 278.8 452.7 279.5 454.7 282.5 456.7 287.2 457.3 286.8 457 286.2 457.3 285.8 457.3 284.8 456.3 284.5 457 284.2 457 281.5 456.7 281.2 456.7 279.8 456.3 279.5 455.7 275.8 454.3 272.2 454 269.8 452.7 266.2 450.7 256.8 449.3 253.5 448 252.2 447 251.8 446 252.2 445.7 251.8 445.7 250.8 473 242.8 473.3 242.5 473 242.2 471.7 242.5 471 241.8 471.3 240.2 473.3 237.8 494.3 222.5 499.3 218.2 507 209.8 515.7 198.5 519 193.2 521 188.8 522.3 184.2 523 179.2 523.3 178.8 523.3 176.5 523.7 176.2 524 161.2 523.7 160.8 523.7 156.5 523.3 156.2 523.3 154.2 523 153.8 522.3 149.2 522 148.8 521.3 145.2 518 136.2 515 130.5 511 124.5 507.7 120.2 504 116.2 491.7 104.5 486.7 100.5 482 97.5 465.3 89.8 458.7 87.8 457.3 87.8 455.3 87.2Z" fill="#8906f8"/>
<path d="M459.3 293.2 459.3 294.8 460 296.8 461.3 296.8 461.3 296.2 460.7 295.8 460.7 294.8 460 293.2ZM458 289.8 458.7 292.2 459.3 291.8 459 290.8 458 290.5 458.7 290.2 458.7 289.8ZM457.3 288.2 457.3 288.8 458 288.5 458 288.2ZM449.3 87.2 449 87.5 446.7 87.8 444.7 88.8 441.3 91.5 436.7 97.8 433.7 102.8 430.3 109.5 428.7 114.5 428 115.5 427 119.2 426.3 120.2 425.3 123.2 425.3 124.2 424.3 126.5 424.3 127.5 423.7 128.8 423.3 131.5 423 131.8 423 136.5 421.3 140.5 420.7 143.8 420.3 144.2 420 148.8 419.7 149.2 419.7 153.2 419.3 153.5 419.3 168.5 419.7 168.8 420.3 178.5 420.7 178.8 420.7 180.8 421 181.2 421 183.2 421.3 183.5 422.3 191.2 422.7 191.5 424 199.5 424.7 201.2 425 204.2 425.3 204.5 425.7 207.2 426 207.5 429.3 221.8 430 223.2 430 224.2 431 226.2 431 226.8 434 232.5 433.3 234.2 434 235.2 436.7 242.8 440.7 250.2 439.7 250.8 439.3 250.2 438 249.2 436.7 249.2 434.3 250.2 428 255.2 422.7 260.5 416.7 265.5 415.7 265.2 415.7 266.8 417.3 266.8 419.7 265.2 421 264.8 420.7 264.5 421 263.5 429.3 259.2 435 257.2 440.3 254.2 441.7 254.2 443 255.5 444 260.5 448.3 268.5 449 269.2 449 269.8 449.7 270.5 452.7 276.5 452.7 277.2 453.3 278.5 452.7 278.8 452.7 279.5 454.7 282.5 456.7 287.2 457.3 286.8 457 286.2 457.3 284.8 456.3 284.5 457 284.2 456.7 280.2 456.3 279.8 455.7 276.2 455 274.8 455 273.8 454.3 272.5 454.3 271.5 453.7 270.2 453.7 269.2 453 267.8 453 266.8 452.3 265.5 452.3 264.5 449.7 254.8 448.7 253.2 447 252.2 445.3 252.2 444.7 252.5 444 251.5 446 250.5 447 250.5 448.3 249.8 449.3 249.8 454 248.2 455 248.2 459.7 246.5 460.7 246.5 462 245.8 463 245.8 464.3 245.2 465.3 245.2 467.7 244.2 468.7 244.2 473 242.8 473.3 242.5 473 242.2 471.7 242.5 471 241.8 471 240.8 471.7 239.5 474 237.2 494.7 222.2 504.3 212.8 514 200.8 519.3 192.5 521.3 187.8 521.3 186.8 522.3 183.8 522.3 182.5 522.7 182.2 522.7 180.8 523 180.5 523.3 175.8 523.7 175.5 524 162.5 523.7 162.2 523.7 156.8 523.3 156.5 523.3 154.5 523 154.2 522 147.8 518.7 137.8 515.3 131.2 511.7 125.5 507.3 119.8 502.7 114.8 490 103.2 487 100.8 480.7 96.8 474.3 93.8 473.7 93.8 470 91.8 469.3 91.8 467.7 90.8 462 88.8 461 88.8 456.7 87.5 454.7 87.5 454.3 87.2Z" fill="#8f08ec"/>
<path d="M459.3 293.2 459.3 294.8 460 296.8 461.3 296.8 461.3 296.2 460.7 295.8 460.7 294.8 460 293.2ZM458 289.8 458.7 292.2 459.3 291.8 459 290.8 458 290.5 458.7 290.2 458.7 289.8ZM457.3 288.2 457.3 288.8 458 288.5 458 288.2ZM450.7 87.2 450.3 87.5 448.3 87.5 445 88.8 443 90.2 440.3 92.8 436.3 98.5 431 108.2 431 108.8 428.7 113.8 428 116.5 427.3 117.5 424 127.8 423.3 131.8 423 132.2 423 136.5 420.3 144.5 420 149.2 419.7 149.5 419.7 153.5 419.3 153.8 419.3 168.2 419.7 168.5 420.3 178.2 420.7 178.5 420.7 180.5 421 180.8 421 182.8 421.3 183.2 421.3 185.2 421.7 185.5 421.7 187.2 422.3 189.2 422.3 190.8 422.7 191.2 424.3 200.8 425 202.5 425.3 205.5 425.7 205.8 429.3 221.5 430 222.8 430 223.8 431.7 227.5 431.7 228.2 434 232.2 433.3 234.2 434 235.2 436.7 242.8 439.3 247.8 440 248.5 441.3 251.5 440.7 252.2 438.3 249.5 436.3 249.5 434 250.5 429.7 253.8 419.7 263.2 416.7 265.5 415.7 265.2 415.7 266.8 417.3 266.8 419.7 265.2 421 264.8 420.7 264.5 421 263.5 430 258.8 435.7 256.8 440 254.2 441.7 254.2 443 255.5 444.3 261.2 447 266.2 448.7 268.5 452.7 276.5 452.7 277.2 453.3 278.5 452.7 278.8 452.7 279.5 454.7 282.5 456.7 287.2 457.3 286.8 457 286.2 457.3 285.2 456.3 284.5 457 284.2 456.7 280.5 456.3 280.2 455.7 276.5 455 275.2 455 274.2 454.3 272.8 454.3 271.8 452.7 267.2 452.7 266.2 452 264.8 452 263.8 449.7 255.5 449 254.2 447.7 252.8 447 252.5 444 252.5 442.7 253.2 442.3 252.8 442.3 251.8 446 250.5 447 250.5 448.3 249.8 449.3 249.8 454 248.2 455 248.2 459.7 246.5 460.7 246.5 462 245.8 463 245.8 464.3 245.2 465.3 245.2 467.7 244.2 468.7 244.2 473 242.8 473.3 242.5 473 242.2 471.7 242.5 471 241.8 471 240.5 474.3 236.8 497 220.2 506.3 210.5 510 206.2 516.7 196.8 520.7 189.5 521.7 186.5 522.3 182.5 522.7 182.2 523 178.5 523.3 178.2 523.3 175.5 523.7 175.2 523.7 157.5 523.3 157.2 523 152.8 522.7 152.5 522.7 151.2 522 149.5 521.3 145.5 518.3 137.2 515.7 131.8 510.7 124.2 507 119.5 496.3 108.8 492.3 105.2 486 100.2 482.3 97.8 476.3 94.8 475.7 94.8 469 91.5 462.7 89.2 461.7 89.2 457.7 87.8Z" fill="#940ad9"/>
<path d="M459.3 293.2 459.3 294.8 460 296.8 461.3 296.8 461.3 296.2 460.7 295.8 460.7 294.8 460 293.2ZM458 289.8 458.7 292.2 459.3 291.8 459 290.8 458 290.5 458.7 290.2 458.7 289.8ZM457.3 288.2 457.3 288.8 458 288.5 458 288.2ZM415.7 265.2 415.7 266.8 417.3 266.8 419.7 265.2 421 264.8 420.7 263.8 424 261.8 430.7 258.5 434.7 257.2 440 254.2 441.7 254.2 443 255.5 444 260.2 446.7 265.5 448.3 267.8 452.7 276.5 452.7 277.2 453.3 278.5 452.7 278.8 452.7 279.5 454.7 282.5 456.7 287.2 457.3 286.8 457 286.2 457.3 285.2 456.3 284.5 457 283.8 456.7 280.8 455.3 276.8 455 274.5 454 272.2 454 271.2 453 268.8 453 267.8 452.3 266.5 452.3 265.5 451.7 264.2 450.3 258.2 448.7 254.2 447.7 253.2 446 252.5 444 252.5 442 253.2 441 252.8 439.7 250.8 438.3 249.8 435 250.2 432.3 251.8 428.7 254.8 425 258.5 416.7 265.5ZM454.7 87.5 449.3 87.5 446 88.5 443.3 90.2 438.7 95.2 433.7 103.2 429 113.2 423.7 129.2 423.3 132.5 423 132.8 423 136.8 422 138.8 420.3 144.5 420 149.8 419.7 150.2 419.7 153.8 419.3 154.2 419.3 167.8 419.7 168.2 420.3 177.8 420.7 178.2 420.7 180.5 421 180.8 421 182.8 421.3 183.2 422 188.8 422.7 190.8 422.7 192.5 423 192.8 423.7 197.5 424.3 199.2 424.7 202.2 425.3 203.8 425.3 205.2 426 206.8 426 208.2 426.3 208.5 427.3 213.5 428 214.8 430 223.5 431.3 227.2 434 232.2 433.3 234.2 434.7 236.8 436.7 242.8 441.7 251.8 443.7 251.5 448.3 249.8 449.3 249.8 450.7 249.2 451.7 249.2 456.3 247.5 457.3 247.5 463 245.5 465.3 245.2 466.3 244.5 467.3 244.5 473 242.8 473.3 242.5 473 242.2 472.3 242.5 471.3 242.5 471 242.2 471 240.5 471.3 239.8 474.7 236.5 489.7 225.8 497.3 219.8 503.7 213.5 509.7 206.5 513.7 201.2 518.7 193.5 521 188.5 522 185.2 522.7 180.5 523 180.2 523.3 175.2 523.7 174.8 523.7 157.8 523.3 157.5 523.3 154.8 523 154.5 522.3 149.8 521.7 148.2 521.7 146.8 519 138.8 516 132.5 509.3 122.5 506.3 118.8 497.3 109.8 490.7 103.8 483.3 98.5 477 95.2 474 94.2 466.3 90.5 462.3 89.2 461.3 89.2 460 88.5 458.7 88.5 457 87.8 455 87.8Z" fill="#9a0cc2"/>
<path d="M459.3 293.2 459.3 294.8 460 296.8 461.3 296.8 461.3 296.2 460.7 295.8 460.7 294.8 460 293.2ZM458 289.8 458.7 292.2 459.3 291.8 459 290.8 458 290.5 458.7 290.2 458.7 289.8ZM457.3 288.2 457.3 288.8 458 288.5 458 288.2ZM415.7 265.2 415.7 266.8 417.3 266.8 419.7 265.2 421 264.8 420.7 264.5 421 263.5 431.3 258.2 435.3 256.8 440 254.2 441 253.8 442.3 254.5 443 255.5 443 256.5 443.7 257.8 444.3 260.8 446.3 264.8 448.3 267.8 452.7 276.5 452.7 277.2 453.3 278.5 452.7 278.8 452.7 279.5 454.7 282.5 456.7 287.2 457.3 286.8 457 286.2 457.3 285.2 456.3 284.5 457 283.8 456.7 281.2 456.3 280.8 455.7 277.2 454.7 274.8 454.7 273.8 454 272.5 454 271.5 452.7 268.2 452 264.8 451.3 263.5 450.3 258.8 448.7 254.8 448 253.8 446.3 252.8 443 252.8 442 253.2 441 252.8 438.7 250.2 437.7 249.8 435.7 250.2 433.7 251.2 430 253.8 416.7 265.5ZM453.3 87.5 450.7 87.5 450.3 87.8 447.3 88.2 444 89.8 442.3 91.2 438.3 95.8 432.7 105.2 429.3 112.5 424 128.2 424 129.2 423.3 130.8 423.3 132.8 423 133.2 423 134.5 423.3 134.8 423 136.8 421.3 140.8 421.3 141.8 420.3 144.8 420 150.2 419.7 150.5 419.7 154.5 419.3 154.8 419.3 167.5 419.7 167.8 420.3 177.5 420.7 177.8 420.7 180.2 421 180.5 421 182.5 421.3 182.8 422.3 190.5 422.7 190.8 424 198.8 424.7 200.5 425 203.5 425.7 205.2 425.7 206.5 426 206.8 428.3 217.2 429 218.5 429.7 222.2 431 226.2 434 231.8 434 233.2 433.3 234.2 434.7 236.8 436.7 242.8 441.7 251.8 443.7 251.5 448.3 249.8 449.3 249.8 450.7 249.2 451.7 249.2 456.3 247.5 457.3 247.5 463 245.5 465.3 245.2 466.3 244.5 467.3 244.5 473 242.8 473.3 242.5 473 242.2 471.3 242.5 470.7 241.5 471 240.2 472 238.8 475 236.2 492.3 223.8 497.7 219.5 505.7 211.2 512.7 202.5 518.7 193.5 521 188.5 522 183.8 522.3 183.5 522.3 182.2 522.7 181.8 522.7 180.2 523.3 177.8 523.3 174.8 523.7 174.5 523.7 158.2 523.3 157.8 523 153.2 522.3 151.5 521.3 145.8 519.3 139.8 516.7 133.8 511 124.8 505.7 118.2 493.7 106.5 487.7 101.5 482.7 98.2 480.3 97.2 479 96.2 478.3 96.2 476 94.8 475.3 94.8 472.3 93.2 471.7 93.2 466 90.5 458 88.2 453.7 87.8Z" fill="#9f0fa6"/>
<path d="M459.3 293.2 459.3 294.8 460 296.8 461.3 296.8 461.3 296.2 460.7 295.8 460.7 294.8 460 293.2ZM458 289.8 458.7 292.2 459.3 291.8 459 290.8 458 290.5 458.7 290.2 458.7 289.8ZM457.3 288.2 457.3 288.8 458 288.5 458 288.2ZM415.7 265.2 415.7 266.8 417.3 266.8 419.7 265.2 421 264.8 420.7 263.8 422.7 262.5 427 260.5 429 259.2 429.7 259.2 432 257.8 436 256.5 437.3 255.5 440.7 253.8 441.3 253.8 442.7 254.8 444.3 260.8 447.3 266.5 448 267.2 450.7 272.8 451.3 273.5 451.3 274.2 452 274.8 452 275.5 453.3 278.5 452.7 278.8 452.7 279.5 454.7 282.5 456.7 287.2 457.3 286.8 457 286.2 457.3 285.5 457 284.8 456.3 284.5 457 283.5 456.7 283.2 456.7 281.5 456.3 281.2 455.7 277.5 451.3 264.2 450.3 259.5 448.7 255.2 447 253.5 445.7 252.8 443 252.8 442 253.2 441 252.8 439 250.5 438.3 250.2 436 250.2 433.3 251.5 429.3 254.5 423.7 259.8 417.3 264.8 417 265.5 416 265.5ZM455.3 87.8 449.3 87.8 447 88.5 444.3 89.8 440 93.8 433.7 103.5 429 113.5 424.3 127.2 424.3 128.2 423.3 131.2 423.3 135.5 420.7 143.5 420.3 147.5 420 147.8 420 150.5 419.7 150.8 419.3 167.2 419.7 167.5 420 174.2 420.3 174.5 420.3 177.2 420.7 177.5 420.7 179.8 421 180.2 421.7 186.5 422 186.8 422.3 190.2 423 192.2 423 193.8 423.3 194.2 424.3 200.2 425 201.8 425.3 204.8 425.7 205.2 428.7 218.2 429.3 219.5 429.7 221.8 431.7 227.5 434 231.8 434 233.2 433.3 234.2 434.7 236.8 436.7 242.8 441.7 251.8 443.7 251.5 448.3 249.8 449.3 249.8 450.7 249.2 451.7 249.2 456.3 247.5 457.3 247.5 459.3 246.5 460.7 246.5 466.3 244.5 467.3 244.5 473 242.8 473.3 242.5 473 242.2 471.3 242.5 470.7 241.8 470.7 240.8 471.3 239.5 473.7 237.2 485 229.2 490 225.2 491.3 224.5 498.3 218.8 502.3 214.8 510.7 205.2 511.3 203.8 514.3 200.2 519 192.8 520.7 189.2 522 184.8 522.7 179.8 523 179.5 523 177.8 523.3 177.5 523.3 174.2 523.7 173.8 523.7 158.8 523.3 158.5 523 153.5 522.7 153.2 522.7 151.8 522.3 151.5 522.3 150.2 522 149.8 521 144.8 518.3 137.5 515.3 131.5 507.7 120.5 504 116.5 494.3 107.2 488 101.8 483.7 98.8 476.7 95.2 473.7 94.2 466.7 90.8 461.7 89.2 457.7 88.5 457.3 88.2 455.7 88.2Z" fill="#a41285"/>
<path d="M459.3 293.2 459.3 294.8 460 296.8 461.3 296.8 461.3 296.2 460.7 295.8 460.7 294.8 460 293.2ZM458 289.8 458.7 292.2 459.3 291.8 459 290.8 458 290.5 458.7 290.2 458.7 289.8ZM457.3 288.2 457.3 288.8 458 288.5 458 288.2ZM415.7 265.2 415.7 266.8 417.3 266.8 419.7 265.2 421 264.8 420.7 264.5 421 263.5 425.7 261.2 426.3 260.5 432 257.8 434.3 257.2 439.7 254.2 440.7 253.8 442 254.2 443 255.5 443 256.5 444.7 261.5 445.7 262.8 447.3 266.5 448 267.2 450.3 272.2 451 272.8 451.3 274.2 452 274.8 452 275.5 453.3 278.5 452.7 278.8 452.7 279.5 454.7 282.5 456.7 287.2 457.3 286.8 457 284.8 456.3 284.5 456.7 284.2 456.7 281.8 456.3 281.5 455.7 277.8 451.7 265.8 450.3 260.2 448.3 255.2 446.7 253.5 444.7 252.8 442 253.2 441 252.8 440.3 251.8 438.7 250.5 437.7 250.5 437.3 250.2 435.7 250.5 430.3 253.8 417 265.5 416 265.5ZM454 87.8 448.7 88.2 446.7 88.8 443.7 90.5 438.7 95.8 432.7 105.5 429.3 112.8 424 128.5 423.7 131.2 423.3 131.5 423.3 135.8 420.7 143.5 420.3 147.8 420 148.2 420 151.2 419.7 151.5 419.7 156.8 419.3 157.2 419.3 166.8 419.7 167.2 419.7 170.5 420 170.8 420 173.8 420.3 174.2 420.3 176.8 420.7 177.2 421.3 184.2 421.7 184.5 421.7 186.2 422 186.5 422 188.2 422.7 190.2 422.7 191.8 423 192.2 424 198.5 424.7 200.2 424.7 201.5 425.3 203.2 426 207.5 427.3 211.5 429.7 221.5 431.3 226.5 434 231.5 434 233.2 433.3 234.2 434.7 236.8 436.7 242.8 441.7 251.8 443.7 251.5 448.3 249.8 449.3 249.8 450.7 249.2 451.7 249.2 456.3 247.5 457.3 247.5 458.3 246.8 460.7 246.5 461.7 245.8 464 245.5 466.3 244.5 472.3 243.2 472.3 242.5 471 242.5 470.7 242.2 470.7 240.8 471.3 239.5 474.3 236.5 492.7 223.5 498.7 218.5 505 211.8 510.3 205.5 513.3 201.5 519.3 192.2 522 184.8 522.7 179.8 523 179.5 523 177.5 523.3 177.2 523.3 173.8 523.7 173.5 523.7 159.2 523.3 158.8 523.3 155.8 523 155.5 523 153.8 522.7 153.5 522 148.8 520.7 144.8 520.7 143.8 519.7 141.8 519 139.2 515.7 132.2 510.7 124.5 507.3 120.2 500.3 112.8 492 105.2 487 101.2 483 98.5 478.7 96.2 478 96.2 467.3 91.2 462.3 89.5 461.3 89.5 458.3 88.5 457 88.5 456.7 88.2 454.3 88.2Z" fill="#a91562"/>
<path d="M459.3 293.2 459.3 294.8 460 296.8 461.3 296.8 461.3 296.2 460.7 295.8 460.7 294.8 460 293.2ZM458 289.8 458.7 292.2 459.3 291.8 459 290.8 458 290.5 458.7 290.2 458.7 289.8ZM457.3 288.2 457.3 288.8 458 288.5 458 288.2ZM415.7 265.2 415.7 266.8 417.3 266.8 419.7 265.2 421 264.8 420.7 264.5 421 263.5 425 261.5 425.7 260.8 431 258.2 435 256.8 440.3 253.8 442 254.2 443 255.5 444.3 260.5 452 274.8 452 275.5 453.3 278.5 452.7 278.8 452.7 279.5 454.7 282.5 456.7 287.2 457.3 286.8 457 284.8 456.3 284.5 456.7 283.8 456.3 280.5 453 270.5 453 269.5 451.3 265.2 450.3 260.8 448.7 256.2 446.3 253.5 444 252.8 443 252.8 442.7 253.2 441 252.8 440 251.5 438.3 250.5 435.3 250.8 433.3 251.8 429.7 254.5 417 265.5 416 265.5ZM455.7 88.2 449.7 88.2 449.3 88.5 447 88.8 442.7 91.5 439 95.5 433.7 103.8 429 113.8 424.3 127.5 424.3 128.5 423.3 131.5 423.3 135.8 420.7 143.8 420.3 147.8 420 148.2 420 151.5 419.7 151.8 419.7 159.2 419.3 159.5 419.7 170.2 420 170.5 420 173.2 420.3 173.5 420.3 176.5 420.7 176.8 421 181.8 421.3 182.2 422.3 189.8 422.7 190.2 424.3 199.8 425 201.5 425.7 205.8 426 206.2 427.3 212.5 428 213.8 429 218.8 430.3 222.5 430.3 223.5 432 227.2 432 227.8 433.7 230.5 434.3 232.5 433.3 234.2 434.7 236.8 436.7 242.8 441.7 251.8 443.7 251.5 448.3 249.8 449.3 249.8 450.7 249.2 451.7 249.2 456.3 247.5 457.3 247.5 459.3 246.5 460.3 246.5 461.7 245.8 462.7 245.8 464 245.2 465 245.2 466.3 244.5 472 243.2 472 242.5 471.3 242.8 470.7 242.2 470.7 240.5 472.7 237.8 486.7 227.8 490.3 224.8 491.7 224.2 496.7 220.2 501 216.2 510.3 205.5 517.3 195.5 520.3 189.8 522 184.5 522.7 179.5 523 179.2 523 177.2 523.3 176.8 523.3 173.2 523.7 172.8 523.7 159.8 523.3 159.5 523 153.8 522 150.5 521.7 147.5 519.3 140.2 516.3 133.5 515.7 132.8 514 129.5 508.3 121.5 496.3 109.2 490.3 103.8 485 99.8 477 95.5 476.3 95.5 467 91.2 462 89.5 458 88.8 457.7 88.5 456 88.5Z" fill="#ad193c"/>
<path d="M459.3 293.2 459.3 294.8 460 296.8 461.3 296.8 461.3 296.2 460.7 295.8 460.7 294.8 460 293.8 460 293.2ZM458 289.8 458.7 292.2 459.3 291.8 459 290.8 458 290.5 458.7 290.2 458.7 289.8ZM457.3 288.2 457.3 288.8 458 288.5 458 288.2ZM415.7 265.2 415.7 266.8 417.3 266.8 419.7 265.2 421 264.8 420.7 264.5 421 263.5 425 261.5 425.7 260.8 431.7 257.8 434 257.2 440.3 253.8 442 254.2 443 255.5 444.3 260.5 452 274.8 452 275.5 453.3 278.5 452.7 278.8 452.7 279.5 454.7 282.5 456.7 287.2 457.3 286.8 457 284.8 456.3 284.5 456.7 283.8 456.3 280.8 452 267.8 452 266.8 450.3 262.5 450.3 261.5 448 255.5 446.3 253.8 445 253.2 442 253.2 441 252.8 440.3 251.8 438.7 250.8 435.7 250.8 430.7 253.8 417 265.5 416 265.5ZM454.7 88.2 448.7 88.5 446.7 89.2 443.3 91.2 438.7 96.2 432.7 105.8 429.3 113.2 424 128.8 423.7 131.5 423.3 131.8 423.3 135.8 420.7 143.8 420.3 148.2 420 148.5 420 152.2 419.7 152.5 419.3 165.8 419.7 166.2 420.3 176.2 420.7 176.5 421 181.5 421.3 181.8 421.3 183.8 421.7 184.2 421.7 185.8 422.3 187.8 422.7 191.5 423 191.8 423.7 196.5 424.3 198.2 424.3 199.5 425 201.2 425.3 204.2 425.7 204.5 427.7 213.5 428.3 214.8 429 218.5 430.3 222.2 430.3 223.2 431.7 226.8 434.3 232.2 434.3 232.8 433.3 234.2 436 240.2 436 241.2 436.7 242.2 436.7 242.8 441.7 251.8 443.7 251.5 448.3 249.8 449.3 249.8 450.7 249.2 451.7 249.2 454 248.2 455 248.2 459.3 246.5 460.3 246.5 466.3 244.5 471.3 243.5 471.7 243.2 470.7 242.5 470.3 241.2 471.3 239.2 473.3 237.2 485.7 228.5 496.7 220.2 504.3 212.5 510 205.8 518.3 193.8 520.3 189.8 521.7 185.8 522 183.2 522.3 182.8 522.3 181.2 522.7 180.8 522.7 179.2 523 178.8 523 176.8 523.3 176.5 523.7 160.8 523.3 160.5 523 154.2 522.7 153.8 522.7 152.5 522.3 152.2 521.3 146.5 520.7 145.2 520.7 144.2 519.7 141.2 517 135.5 517 134.8 516.3 134.2 513.3 128.5 512.3 127.5 509.3 122.8 506.3 119.2 497.3 110.2 490.7 104.2 483.3 98.8 477.7 95.8 477 95.8 475.3 94.8 474.7 94.8 472.3 93.5 471.7 93.5 469.3 92.2 466 91.2 465 90.5 464 90.5 460.3 89.2 459 89.2 457 88.5 455 88.5Z" fill="#b21e14"/>
<path d="M459.3 293.2 459.3 294.8 460 296.8 461.3 296.8 461.3 296.2 460.7 295.8 460.7 294.8 460 293.8 460 293.2ZM458 289.8 458.7 292.2 459.3 291.8 459 290.8 458 290.5 458.7 290.2 458.7 289.8ZM457.3 288.2 457.3 288.8 458 288.5 458 288.2ZM415.7 265.2 415.7 266.8 417.3 266.8 419.7 265.2 421 264.8 420.7 264.5 421 263.5 425 261.5 425.7 260.8 432.3 257.5 434.7 256.8 438.7 254.8 439.3 254.2 441.7 253.8 443 255.5 444.7 261.2 452 274.8 452 275.5 453.3 278.5 452.7 278.8 452.7 279.5 454.7 282.5 456.7 287.2 457.3 286.8 457 284.8 456.3 284.5 456.7 282.5 456.3 282.2 456 279.8 451 265.2 451 264.2 449 258.2 447.7 255.5 446 253.8 444.7 253.2 442 253.2 441 252.8 440.3 251.8 438.3 250.8 435.3 251.2 430 254.5 417 265.5 416 265.5ZM456.3 88.5 449.7 88.5 445 90.2 441 93.5 435.7 100.8 430.7 110.2 425.3 124.5 425.3 125.5 424.3 127.8 423.7 131.8 423.3 132.2 423.3 136.2 421.3 141.5 421.3 142.5 420.7 144.2 420.7 145.8 420.3 146.2 420.3 148.5 420 148.8 420 152.5 419.7 152.8 419.7 169.2 420 169.5 420 172.5 420.3 172.8 420.3 175.8 420.7 176.2 421.3 183.5 421.7 183.8 421.7 185.5 422 185.8 422 187.5 422.3 187.8 422.3 189.5 422.7 189.8 424 197.8 424.3 198.2 425.3 203.8 426 205.5 426 206.8 427.3 210.8 427.3 211.8 428.7 215.8 430 221.8 431.3 225.8 434.3 231.8 434.3 232.8 433.3 234.2 436 240.2 436 241.2 436.7 242.2 436.7 242.8 441.7 251.8 443.7 251.5 448.3 249.8 449.3 249.8 450.7 249.2 451.7 249.2 454 248.2 455 248.2 459.3 246.5 460.3 246.5 466.3 244.5 471.3 243.5 470.3 242.2 470.3 240.8 471 239.5 473.7 236.8 492 223.8 497 219.8 504 212.8 509.7 206.2 517.7 194.8 520 190.5 521.3 186.8 522.3 181.2 522.7 180.8 522.7 179.2 523 178.8 523 176.5 523.3 176.2 523.3 169.2 523.7 168.8 523.3 156.8 523 156.5 523 154.5 522.7 154.2 522 149.5 521.3 147.8 521.3 146.5 519 139.5 515.3 131.8 509 122.5 505.7 118.5 498.3 111.2 491 104.5 485.3 100.2 482 98.2 470.7 92.8 470 92.8 464.7 90.5 463.7 90.5 462.3 89.8 461.3 89.8 458.3 88.8 456.7 88.8Z" fill="#b72200"/>
<path d="M459.3 293.2 459.3 294.8 460 296.8 461.3 296.8 461.3 296.2 460.7 295.8 460.7 294.8 460 293.8 460 293.2ZM458 289.8 458.7 292.2 459.3 291.8 459 290.8 458 290.5 458.7 290.2 458.7 289.8ZM457.3 288.2 457.3 288.8 458 288.5 458 288.2ZM415.7 265.2 415.7 266.8 417.3 266.8 419.7 265.2 421 264.8 420.7 264.5 421 263.5 428.7 259.5 429.3 258.8 430 258.8 432.3 257.5 434.7 256.8 440 253.8 441.7 253.8 443 255.5 444.7 261.2 446 263.2 447.7 266.8 448.3 267.5 452 274.8 452 275.5 453.3 278.5 452.7 278.8 452.7 279.5 454.7 282.5 456.7 287.2 457.3 286.8 457 284.8 456.3 284.5 456.7 282.8 456.3 282.5 456.3 281.2 455.7 279.8 455.7 278.8 449.7 261.2 449.3 259.2 448 256.2 446 253.8 444.3 253.2 441 252.8 440.3 251.8 438 250.8 435.7 251.2 433 252.5 429.7 254.8 417 265.5 416 265.5ZM456 88.5 449.7 88.5 447.3 89.2 443.7 91.2 439.7 95.2 433.3 104.8 428.7 115.2 424.3 127.8 423.7 131.8 423.3 132.2 423.3 136.2 421.3 141.5 421.3 142.5 420.7 144.2 420.7 146.2 420.3 146.5 420.3 148.8 420 149.2 420 152.8 419.7 153.2 419.7 169.2 420 169.5 420 172.5 420.3 172.8 420.3 175.8 420.7 176.2 421.3 183.5 421.7 183.8 421.7 185.5 422 185.8 422 187.5 422.7 189.5 422.7 191.2 423 191.5 423.7 196.2 424 196.5 424.7 200.8 425.3 202.5 425.3 203.8 425.7 204.2 427.7 213.2 428.3 214.5 429 218.2 430.3 221.8 430.3 222.8 431.7 226.5 434.3 231.8 434.3 233.2 433.7 233.5 433.3 234.2 436 240.2 436 241.2 436.7 242.2 436.7 242.8 441.7 251.8 443.7 251.5 448.3 249.8 449.3 249.8 450.7 249.2 451.7 249.2 454 248.2 455 248.2 459.3 246.5 460.3 246.5 466.3 244.5 471 243.5 471 242.8 470.3 242.5 470.3 240.8 471 239.5 474 236.5 493.3 222.8 497.3 219.5 503.7 213.2 509.7 206.2 513.7 200.8 518.7 193.2 521.3 186.8 522.3 181.2 522.7 180.8 522.7 179.2 523 178.8 523 176.2 523.3 175.8 523.3 168.5 523.7 168.2 523.7 166.8 523.3 166.5 523.3 165.5 523.7 165.2 523.3 156.8 523 156.5 523 154.5 522.7 154.2 522.7 152.8 522.3 152.5 522.3 151.2 522 150.8 522 149.5 521.7 149.2 521 145.5 518 137.2 515.7 132.5 509 122.5 505.3 118.2 493.7 106.8 489.3 103.2 483.7 99.2 476.7 95.5 476 95.5 467.3 91.5 462.3 89.8 458.3 89.2 458 88.8 456.3 88.8Z" fill="#bb2800"/>
<path d="M459.3 293.2 459.3 294.8 460 296.8 461.3 296.8 461.3 296.2 460.7 295.8 460.7 294.8 460 293.8 460 293.2ZM458 289.8 458.7 292.2 459.3 291.8 459 290.8 458 290.5 458.7 290.2 458.7 289.8ZM457.3 288.2 457.3 288.8 458 288.5 458 288.2ZM415.7 265.2 415.7 266.8 417.3 266.8 419.7 265.2 421 264.8 420.7 264.5 421 263.5 428 259.8 428.7 259.2 433 257.2 435.3 256.5 440 253.8 441.7 253.8 443 255.5 445 261.8 445.7 262.5 452 274.8 452 275.5 453.3 278.5 452.7 278.8 452.7 279.5 454.7 282.5 456.7 287.2 457.3 286.8 457 284.8 456.3 284.5 456.7 282.8 455.3 278.8 455.3 277.8 450.7 264.5 450.7 263.5 449 258.5 447.7 255.8 446.3 254.2 444.3 253.2 441 252.8 440.3 251.8 439 251.2 438 251.2 437.7 250.8 435.7 251.2 429.7 254.8 417 265.5 416 265.5ZM455.7 88.5 450 88.5 446.7 89.5 444.7 90.5 439.7 95.2 434.3 103.2 430 111.8 424.7 126.8 424.7 127.8 423.7 130.5 423.7 132.2 423.3 132.5 423.3 136.2 421 142.8 420.7 146.2 420.3 146.5 420.3 148.8 420 149.2 420 152.8 419.7 153.2 419.7 168.8 420 169.2 420.3 175.5 420.7 175.8 420.7 178.5 421 178.8 421.7 185.5 422.3 187.5 422.3 189.2 422.7 189.5 422.7 191.2 423 191.5 423.7 196.2 424 196.5 425 202.2 425.7 203.8 425.7 205.2 426 205.5 427.3 211.8 428 213.2 428.7 216.8 430 220.5 430 221.5 432 227.2 434.3 231.8 434.3 233.2 433.7 233.5 433.3 234.2 436 240.2 436 241.2 436.7 242.2 436.7 242.8 441.7 251.8 443.7 251.5 448.3 249.8 449.3 249.8 450.7 249.2 451.7 249.2 454 248.2 455 248.2 456 247.5 457 247.5 462.7 245.5 463.7 245.5 466.3 244.5 471 243.5 470.3 242.5 470.3 240.8 471 239.5 474 236.5 486 228.2 497.3 219.5 503.7 213.2 509.7 206.2 513.7 200.8 518.7 193.2 521.3 186.8 522 182.8 522.3 182.5 522.7 178.8 523 178.5 523 176.2 523.3 175.8 523.3 157.2 523 156.8 523 154.5 522.7 154.2 522.7 152.8 522.3 152.5 522.3 151.2 521.7 149.5 521 145.5 518 137.2 515.7 132.5 510 123.8 504.7 117.5 499 111.8 491.3 104.8 483.7 99.2 477.3 95.8 476.7 95.8 467.3 91.5 463.3 90.2 462.3 90.2 461 89.5 456 88.8Z" fill="#bf2d00"/>
<path d="M459.3 293.2 459.3 294.8 460 296.8 461.3 296.8 461.3 296.2 460.7 295.8 460.7 294.8 460 293.8 460 293.2ZM458 289.8 458.7 292.2 459.3 291.8 459 290.8 458 290.5 458.7 290.2 458.7 289.8ZM457.3 288.2 457.3 288.8 458 288.5 458 288.2ZM415.7 265.2 415.7 266.8 417.3 266.8 419.7 265.2 421 264.8 420.7 264.5 421 263.5 427.3 260.2 428 259.5 435.3 256.2 436 256.2 440 253.8 441.7 253.8 443 255.5 444.3 260.2 452 274.8 452 275.5 453.3 278.5 452.7 278.8 452.7 279.5 454.7 282.5 456.7 287.2 457.3 286.8 457 284.8 456.3 284.5 456.7 282.8 456.3 282.5 456 280.2 448.7 257.8 447.7 255.8 445.7 253.8 444 253.2 441 252.8 440.3 251.8 439 251.2 436 251.2 435 251.5 429.3 255.2 417 265.5 416 265.5ZM455.3 88.5 450.3 88.5 450 88.8 448.7 88.8 444.3 90.8 440 94.8 434 103.8 430.3 111.2 424.7 126.8 424.7 127.8 423.7 130.5 423.7 132.2 423.3 132.5 423.3 136.2 421 142.8 420.7 146.2 420.3 146.5 420.3 149.2 420 149.5 420 153.2 419.7 153.5 419.7 168.5 420 168.8 420 172.2 420.3 172.5 420.3 175.5 420.7 175.8 421.3 183.2 421.7 183.5 422.3 189.2 422.7 189.5 423 192.8 423.7 194.5 424.3 199.2 425 200.8 425 202.2 425.7 203.8 425.7 205.2 426 205.5 427 210.5 427.7 211.8 429.3 219.2 430 220.5 430 221.5 432 227.2 434.3 231.5 434.3 233.2 433.7 233.5 433.3 234.2 436 240.2 436 241.2 436.7 242.2 436.7 242.8 441.7 251.8 443.7 251.5 448.3 249.8 449.3 249.8 450.7 249.2 451.7 249.2 454 248.2 455 248.2 456 247.5 457 247.5 462.7 245.5 463.7 245.5 470.7 243.5 470.3 242.8 470.3 240.5 474 236.5 491 224.5 497.3 219.5 503.3 213.5 509.7 206.2 518.7 193.2 521.3 186.8 522 182.8 522.3 182.5 522.7 178.8 523 178.5 523 176.2 523.3 175.8 523.3 157.2 523 156.8 523 154.5 522.7 154.2 522.7 152.8 522.3 152.5 522.3 151.2 521.7 149.5 521 145.5 518 137.2 515.7 132.5 510 123.8 504.3 117.2 499.3 112.2 491.3 104.8 483.7 99.2 477.3 95.8 476.7 95.8 466.3 91.2 459.3 89.2 455.7 88.8Z" fill="#c33400"/>
<path d="M459.3 293.2 459.3 294.8 460 296.8 461.3 296.8 461.3 296.2 460.7 295.8 460.7 294.8 460 293.8 460 293.2ZM458 289.8 458.7 292.2 459.3 291.8 459 290.8 458 290.5 458.7 290.2 458.7 289.8ZM457.3 288.2 457.3 288.8 458 288.5 458 288.2ZM415.7 265.2 415.7 266.8 417.3 266.8 419.7 265.2 421 264.8 420.7 264.5 421 263.5 427.3 260.2 428 259.5 431.3 257.8 433.7 257.2 440 253.8 441.7 253.8 443 255.5 444.3 260.2 452 274.8 452 275.5 453.3 278.5 452.7 278.8 452.7 279.5 454.7 282.5 456.7 287.2 457.3 286.8 457 284.8 456.3 284.5 456.7 282.8 455.7 280.2 455.7 279.2 449.7 261.8 449.3 259.8 447.3 255.5 445 253.5 441 252.8 440.3 251.8 439.7 251.8 438.7 251.2 435.3 251.5 431.7 253.5 417 265.5 416 265.5ZM454.7 88.5 449 88.8 444.3 90.8 442.7 92.2 439 96.2 434 103.8 430.3 111.2 425 125.8 425 126.8 424.3 128.2 423.7 132.2 423.3 132.5 423.3 136.2 420.7 144.5 420.3 149.2 420 149.5 420 153.2 419.7 153.5 419.7 168.5 420 168.8 420.3 175.2 420.7 175.5 420.7 178.2 421 178.5 421 180.8 421.3 181.2 421.3 183.2 421.7 183.5 422.3 189.2 422.7 189.5 424 197.5 424.7 199.2 425 202.2 425.3 202.5 426 206.5 427.3 210.5 428 214.2 428.7 215.5 429 217.8 430.3 221.5 430.3 222.5 431.7 226.2 432.7 227.8 432.7 228.5 434.3 231.5 434.3 233.2 433.7 233.5 433.3 234.2 436 240.2 436.7 242.8 441.7 251.8 443.7 251.5 448.3 249.8 449.3 249.8 450.7 249.2 451.7 249.2 454 248.2 455 248.2 456 247.5 457 247.5 462.7 245.5 463.7 245.5 470.7 243.5 470 242.2 470.3 240.5 474.3 236.2 491 224.5 497.7 219.2 503.3 213.5 509.7 206.2 518.7 193.2 521.3 186.8 522 182.8 522.3 182.5 522.7 178.8 523 178.5 523 175.8 523.3 175.5 523.3 157.2 523 156.8 523 154.5 522.7 154.2 522.7 152.8 522.3 152.5 522.3 151.2 521.7 149.5 521 145.5 518.7 138.8 516 133.2 515.3 132.5 513.7 129.2 508.7 122.2 504 116.8 494.3 107.5 488 102.2 484.7 99.8 478 96.2 477.3 96.2 468 91.8 462 89.8 457.7 89.2 457.3 88.8 455 88.8Z" fill="#c83b00"/>
<path d="M459.3 293.2 459.3 294.8 460 296.8 461.3 296.8 461.3 296.2 460.7 295.8 460.7 294.8 460 293.8 460 293.2ZM458 289.8 458.7 292.2 459.3 291.8 459 290.8 458 290.5 458.7 290.2 458.7 289.8ZM457.3 288.2 457.3 288.8 458 288.5 458 288.2ZM415.7 265.2 415.7 266.8 417.3 266.8 419.7 265.2 421 264.8 420.7 264.5 421 263.5 426.7 260.5 427.3 259.8 431.3 257.8 434.3 256.8 440 253.8 441.7 253.8 443 255.5 444.3 260.2 452 274.8 452 275.5 453.3 278.5 452.7 278.8 452.7 279.5 454.7 282.5 456.7 287.2 457.3 286.8 457 284.8 456.3 284.5 456.7 283.2 455.3 279.2 455.3 278.2 449 259.2 447 255.2 445.3 253.8 444 253.2 441 252.8 440.3 251.8 439.7 251.8 438.7 251.2 435.3 251.5 429 255.5 417 265.5 416 265.5ZM454.3 88.5 451.3 88.5 451 88.8 448 89.2 444 91.2 442.3 92.5 439.3 95.8 433.7 104.5 429.7 112.8 424.3 128.2 424.3 129.2 423.7 130.8 423.7 132.5 423.3 132.8 423.3 136.5 420.7 144.5 420.3 149.5 420 149.8 420 153.5 419.7 153.8 419.7 168.2 420 168.5 420.7 178.2 421 178.5 421 180.5 421.3 180.8 421.3 182.8 421.7 183.2 421.7 185.2 422 185.5 422 187.2 422.7 189.2 422.7 190.8 423 191.2 424 197.5 424.7 199.2 424.7 200.5 425.3 202.2 425.3 203.5 425.7 203.8 427.7 212.8 428.3 214.2 428.7 216.5 430 220.2 430 221.2 431.7 226.2 434.3 231.5 434.3 233.2 433.7 233.5 433.3 234.2 436 240.2 436.7 242.8 441.7 251.8 443.7 251.5 448.3 249.8 449.3 249.8 450.7 249.2 451.7 249.2 454 248.2 455 248.2 456 247.5 457 247.5 462.7 245.5 470 243.8 470.3 243.5 470 242.8 470.3 240.5 472.7 237.5 492.3 223.5 497.7 219.2 503 213.8 509.3 206.5 514.3 199.8 519 192.5 521.3 186.8 522.3 180.8 522.7 180.5 522.7 178.8 523 178.5 523 175.8 523.3 175.5 523.3 157.2 523 156.8 522.7 152.8 522 151.2 521 145.5 518.7 138.8 516 133.2 508.7 122.2 503.7 116.5 494.7 107.8 489.7 103.5 484.7 99.8 478 96.2 477.3 96.2 467 91.5 459 89.2 454.7 88.8Z" fill="#cc4200"/>
<path d="M459.3 293.2 459.3 294.8 460 296.8 461.3 296.8 461.3 296.2 460.7 295.8 460.7 294.8 460 293.8 460 293.2ZM458 289.8 458.7 292.2 459.3 291.8 459 290.8 458 290.5 458.7 290.2 458.7 289.8ZM457.3 288.2 457.3 288.8 458 288.5 458 288.2ZM415.7 265.2 415.7 266.8 417.3 266.8 419.7 265.2 421 264.8 420.7 264.5 421 263.5 426.7 260.5 427.3 259.8 432 257.5 434.3 256.8 440 253.8 441.7 253.8 443 255.5 444.3 260.2 452 274.8 452 275.5 453.3 278.5 452.7 278.8 452.7 279.5 454.7 282.5 456.7 287.2 457.3 286.8 457 285.2 456.3 284.5 456.7 283.2 455 278.2 455 277.2 452.7 270.2 452 269.2 448.7 258.5 447.3 255.8 445.3 253.8 443.7 253.2 441 252.8 440.3 251.8 438.3 251.2 435.7 251.5 431.3 253.8 417 265.5 416 265.5ZM453.3 88.5 449.3 88.8 446.3 89.8 443.7 91.5 439.3 95.8 433.3 105.2 430.7 110.5 430.7 111.2 428.7 115.5 424.3 128.2 424.3 129.2 423.7 130.8 423.7 132.5 423.3 132.8 423.3 136.5 421.3 141.8 421 144.5 420.7 144.8 420.3 149.5 420 149.8 420 153.8 419.7 154.2 419.7 168.2 420 168.5 420 171.8 420.3 172.2 420.7 177.8 421 178.2 421 180.5 421.3 180.8 421.3 182.8 421.7 183.2 422.7 190.8 423 191.2 423.7 195.8 424.3 197.5 424.3 198.8 425 200.5 425 201.8 425.7 203.5 425.7 204.8 426 205.2 427.3 211.5 428 212.8 428.3 215.2 429 216.5 429.3 218.8 430 220.2 430 221.2 432 226.8 434.3 231.5 434.3 233.2 433.7 233.5 433.3 234.2 436 240.2 436.7 242.8 441.7 251.8 443.7 251.5 448.3 249.8 449.3 249.8 450.7 249.2 451.7 249.2 462.7 245.5 470 243.8 470.3 243.5 470 243.2 470 241.2 471.3 238.8 472.7 237.5 492.3 223.5 498 218.8 503 213.8 510.7 204.8 514.3 199.8 519 192.5 521.3 186.8 522.3 180.8 522.7 180.5 522.7 178.8 523 178.5 523 175.8 523.3 175.5 523.3 157.5 523 157.2 522.7 152.8 522 151.2 522 149.8 521.7 149.5 521.7 148.2 520.7 145.5 520.7 144.5 519 140.5 518.7 138.8 516 133.2 510.7 124.8 507.3 120.5 500 112.8 491.7 105.2 483 98.8 478.7 96.5 478 96.5 475.7 95.2 475 95.2 467 91.5 460.3 89.5 459 89.5 457 88.8 453.7 88.8Z" fill="#d04a00"/>
<path d="M459.3 293.2 459.3 294.8 460 296.8 461.3 296.8 461.3 296.2 460.7 295.8 460.7 294.8 460 293.8 460 293.2ZM458 289.8 458.7 292.2 459.3 291.8 459 290.8 458 290.5 458.7 290.2 458.7 289.8ZM457.3 288.2 457.3 288.8 458 288.5 458 288.2ZM415.7 265.2 415.7 266.8 417.3 266.8 419.7 265.2 421 264.8 420.7 264.5 421 263.5 424.3 261.8 426.7 260.2 432 257.5 435 256.5 440 253.8 441.7 253.8 443 255.5 444.7 260.8 452 274.8 452 275.5 453.3 278.5 452.7 278.8 452.7 279.5 454.7 282.5 456.7 287.2 457.3 286.8 457 285.2 456.3 284.5 456.7 283.2 456.3 282.8 456 280.5 448.3 257.8 447 255.5 444.7 253.5 441 252.8 440.3 251.8 438.3 251.2 435.7 251.5 430 254.8 417 265.5 416 265.5ZM456.7 88.8 449.7 88.8 447.3 89.5 443.7 91.5 439.7 95.5 433.3 105.2 428.7 115.5 424.7 127.2 424.7 128.2 423.7 130.8 423.3 136.5 421 143.2 420.7 146.8 420.3 147.2 420.3 149.8 420 150.2 420 153.8 419.7 154.2 419.7 167.8 420 168.2 420 171.5 420.3 171.8 421 180.5 421.3 180.8 421.3 182.8 421.7 183.2 421.7 184.8 422 185.2 422 186.8 422.3 187.2 422.3 188.8 423 190.8 423.3 194.2 424 195.8 424 197.2 424.3 197.5 424.3 198.8 425.7 203.5 425.7 204.8 426 205.2 427 210.2 427.7 211.5 428 213.8 428.7 215.2 429 217.5 430.3 221.2 430.3 222.2 432.3 226.8 432.3 227.5 434.3 231.2 434.3 233.2 433.7 233.5 433.3 234.2 436 240.2 436.7 242.8 441.7 251.8 443.7 251.5 448.3 249.8 449.3 249.8 450.7 249.2 451.7 249.2 462.7 245.5 470 243.8 470 241.2 471.3 238.8 473 237.2 486.3 227.8 498 218.8 502.7 214.2 509.3 206.5 515 198.8 519 192.5 521.7 185.5 521.7 184.2 522 183.8 522 182.5 522.7 180.5 522.7 178.8 523 178.5 523 175.5 523.3 175.2 523.3 157.5 523 157.2 523 154.8 522.7 154.5 521.3 146.8 517.7 136.5 514.7 130.8 509.7 123.5 508.3 122.2 507.3 120.5 500.3 113.2 492 105.5 484 99.5 476.3 95.5 473.3 94.5 468.7 92.2 461.7 89.8 460.3 89.8 460 89.5 457 89.2Z" fill="#d35300"/>
<path d="M459.3 293.2 459.3 294.8 460 296.8 461.3 296.8 461.3 296.2 460.7 295.8 460.7 294.8 460 293.8 460 293.2ZM458 289.8 458.7 292.2 459.3 291.8 459 290.8 458 290.5 458.7 290.2 458.7 289.8ZM457.3 288.2 457.3 288.8 458 288.5 458 288.2ZM415.7 265.2 415.7 266.8 417.3 266.8 419.7 265.2 421 264.8 420.7 264.5 421 263.5 426 260.8 426.7 260.2 432.7 257.2 435 256.5 441 253.5 441.7 253.8 443 255.5 444.7 260.8 452 274.8 452 275.5 453.3 278.5 452.7 278.8 452.7 279.5 454.7 282.5 456.7 287.2 457.3 286.8 457 285.2 456.3 284.5 456.7 283.5 456.3 283.2 456.3 281.8 455.7 280.5 455.7 279.5 452.3 269.5 451.7 268.5 449 259.8 447.3 256.2 445.7 254.2 443.7 253.2 441 252.8 440 251.8 438 251.2 435 251.8 428.3 256.2 424.7 259.5 417 265.5 416 265.5ZM456.3 88.8 450 88.8 445.3 90.5 443.3 91.8 440 95.2 434.3 103.5 430.3 111.5 424.7 127.2 424.7 128.2 423.7 131.2 423.7 132.8 423.3 133.2 423.3 136.5 421 143.2 420.7 146.8 420.3 147.2 420.3 149.8 420 150.2 420 154.2 419.7 154.5 419.7 167.8 420 168.2 420 171.5 420.3 171.8 420.3 174.8 420.7 175.2 421.3 182.8 421.7 183.2 422.3 188.8 422.7 189.2 424.3 198.8 425 200.5 425 201.8 426 204.8 426.7 208.8 427.3 210.2 428.7 216.2 430 219.8 430 220.8 431.7 225.8 434.3 231.2 434.7 232.8 433.7 233.5 433.3 234.2 436.7 241.8 436.7 242.8 441.7 251.8 443.7 251.5 448.3 249.8 449.3 249.8 450.7 249.2 451.7 249.2 456 247.5 460.3 246.5 461.3 245.8 470 243.8 469.7 243.2 470 242.8 470.3 240.2 473.3 236.8 491.3 224.2 498 218.8 502.7 214.2 509.3 206.5 515 198.8 519 192.5 521.7 185.5 521.7 184.2 522 183.8 522 182.5 522.7 180.5 522.7 178.5 523 178.2 523 175.5 523.3 175.2 523.3 157.5 523 157.2 523 154.8 522.7 154.5 522 149.8 521.3 148.2 521.3 146.8 517.3 135.8 514 129.8 509.7 123.5 507 120.2 500.7 113.5 492 105.5 484 99.5 476.3 95.5 475.7 95.5 467.7 91.8 462.7 90.2 458.7 89.5 458.3 89.2 456.7 89.2Z" fill="#d75c00"/>
<path d="M459.3 293.2 459.3 294.8 460 296.8 461.3 296.8 461.3 296.2 460.7 295.8 460.7 294.8 460 293.8 460 293.2ZM458 289.8 458.7 292.2 459.3 291.8 459 290.8 458 290.5 458.7 290.2 458.7 289.8ZM457.3 288.2 457.3 288.8 458 288.5 458 288.2ZM415.7 265.2 415.7 266.8 417.3 266.8 419.7 265.2 421 264.8 420.7 264.5 421 263.5 426 260.8 426.7 260.2 432.7 257.2 435 256.5 439.7 253.8 440.7 253.5 441.7 253.8 443 255.5 444.7 260.8 452 274.8 452 275.5 453.3 278.5 452.7 278.8 452.7 279.5 454.7 282.5 456.7 287.2 457.3 286.8 457 285.2 456.3 284.5 456.7 283.5 455 278.5 455 277.5 453 271.5 452.3 270.5 450.7 264.8 450 263.8 448.7 259.2 447 255.8 445 253.8 443.3 253.2 441 252.8 439.3 251.5 436.3 251.5 435.3 251.8 430.7 254.5 417 265.5 416 265.5ZM456 88.8 450.3 88.8 450 89.2 447.7 89.5 444.3 91.2 443 92.2 439 96.5 434 104.2 430.3 111.5 425 126.2 425 127.2 423.7 131.2 423.3 136.5 421 143.2 420.7 147.2 420.3 147.5 420.3 150.2 420 150.5 420 154.5 419.7 154.8 419.7 167.5 420 167.8 420 171.2 420.3 171.5 420.3 174.5 420.7 174.8 420.7 177.5 421 177.8 421.7 184.8 422 185.2 422 186.8 422.7 188.8 422.7 190.5 423 190.8 424 197.2 424.7 198.8 424.7 200.2 425.3 201.8 425.3 203.2 425.7 203.5 427.3 211.2 428 212.5 428.3 214.8 430 219.8 430 220.8 432 226.5 434.7 232.2 434.3 233.8 433.7 234.2 433.7 234.8 436.7 241.8 436.7 242.8 441.7 251.8 443.7 251.5 448.3 249.8 449.3 249.8 450.7 249.2 451.7 249.2 456 247.5 460.3 246.5 461.3 245.8 462.3 245.8 462.7 245.5 469.7 243.8 469.7 242.2 470.3 240.2 473.3 236.8 491.3 224.2 498.3 218.5 502.3 214.5 509.3 206.5 518 194.2 519.7 191.2 521.7 185.5 522.3 180.5 522.7 180.2 522.7 178.5 523 178.2 523 175.5 523.3 175.2 523.3 157.5 523 157.2 523 154.8 522.7 154.5 522 149.8 521.3 148.2 521.3 146.8 517.3 135.8 514 129.8 509.7 123.5 501.3 114.2 490.3 104.2 484 99.5 477 95.8 476.3 95.8 467.7 91.8 462.7 90.2 458.3 89.5 458 89.2 456.3 89.2Z" fill="#db6600"/>
<path d="M459.3 293.2 459.3 294.8 460 296.8 461.3 296.8 461.3 296.2 460.7 295.8 460.7 294.8 460 293.8 460 293.2ZM458 289.8 458.7 292.2 459.3 291.8 459 290.8 458 290.5 458.7 290.2 458.7 289.8ZM457.3 288.2 457.3 288.8 458 288.5 458 288.2ZM415.7 265.2 415.7 266.8 417.3 266.8 419.7 265.2 421 264.8 420.7 264.5 421 263.5 426 260.8 426.7 260.2 432.7 257.2 435.7 256.2 439.7 253.8 440.7 253.5 441.7 253.8 443.3 256.2 445 261.5 446.3 263.5 446.7 264.8 447.3 265.5 452 274.8 452 275.5 453.3 278.5 452.7 278.8 452.7 279.5 454.7 282.5 456.7 287.2 457.3 286.8 457 285.2 456.3 284.5 456 280.8 452 268.8 451.3 267.8 449 260.2 447 255.8 444.3 253.5 441 252.8 440 251.8 439 251.5 436.3 251.5 435.3 251.8 429.3 255.5 417 265.5 416 265.5ZM455.7 88.8 450.7 88.8 450.3 89.2 449 89.2 447 89.8 442.7 92.5 439.3 96.2 434 104.2 429.7 113.2 425 126.2 425 127.2 423.7 131.2 423.3 136.5 421 143.5 420.7 147.2 420.3 147.5 420.3 150.2 420 150.5 420 154.8 419.7 155.2 419.7 167.5 420 167.8 420 171.2 420.3 171.5 421 180.2 421.3 180.5 421.3 182.5 421.7 182.8 421.7 184.5 422 184.8 422 186.5 422.3 186.8 422.3 188.5 422.7 188.8 422.7 190.5 423 190.8 423.7 195.5 424.3 197.2 424.7 200.2 425.3 201.8 425.3 203.2 425.7 203.5 427.3 211.2 428.7 214.8 430.3 221.8 432 226.5 434 230.2 434.7 232.2 434.7 233.2 433.7 234.8 436.7 241.8 436.7 242.8 441.7 251.8 443.7 251.5 448.3 249.8 449.3 249.8 450.7 249.2 451.7 249.2 456 247.5 460.3 246.5 461.3 245.8 462.3 245.8 462.7 245.5 469.7 243.8 469.3 243.2 470.7 239.5 473.3 236.8 492.7 223.2 498.3 218.5 502.3 214.5 509 206.8 513.3 201.2 518 194.2 520.3 189.5 521.3 186.5 522 182.5 522.3 182.2 522.7 178.5 523 178.2 523 175.5 523.3 175.2 523.3 157.8 523 157.5 523 154.8 522.7 154.5 522.7 153.2 522.3 152.8 522.3 151.5 521.7 149.8 521 145.8 519 139.8 516.7 134.5 516 133.8 514 129.8 508.3 121.8 496.3 109.5 490.3 104.2 484 99.5 477 95.8 476.3 95.8 466.7 91.5 459.7 89.5 456 89.2Z" fill="#df7100"/>
<path d="M459.3 293.2 459.3 294.8 460 296.8 461.3 296.8 461.3 296.2 460.7 295.8 460.7 294.8 460 293.8 460 293.2ZM458 289.8 458.7 292.2 459.3 291.8 459 290.8 458 290.5 458.7 290.2 458.7 289.8ZM457.3 288.2 457.3 288.8 458 288.5 458 288.2ZM415.7 265.2 415.7 266.8 417.3 266.8 419.7 265.2 421 264.8 420.7 263.8 423.7 261.8 439.7 253.8 441.3 253.5 442.7 254.8 445 261.5 445.7 262.2 452 274.8 452 275.5 453.3 278.5 452.7 278.8 452.7 279.5 454.7 282.5 456.7 287.2 457.3 286.8 457 285.2 456.3 284.5 456.3 282.2 455.7 280.8 455.7 279.8 452.7 270.8 452 269.8 451 266.2 450.3 265.2 448.7 259.5 446.7 255.5 445.3 254.2 443.3 253.2 441 252.8 440 251.8 439 251.5 435.7 251.8 430.3 254.8 417 265.5 416 265.5ZM455.3 88.8 449 89.2 447 89.8 444 91.5 441.7 93.5 439.3 96.2 433.7 104.8 430.7 110.8 430.7 111.5 428.7 115.8 424.3 128.5 424.3 129.5 423.7 131.2 423.3 136.5 421 143.5 420.7 147.5 420.3 147.8 420.3 150.5 420 150.8 420 155.2 419.7 155.5 419.7 167.2 420 167.5 420 170.8 420.3 171.2 420.3 174.2 420.7 174.5 421.3 182.5 421.7 182.8 421.7 184.5 422 184.8 422 186.5 422.3 186.8 422.3 188.5 422.7 188.8 422.7 190.5 423 190.8 423.7 195.5 424.3 197.2 424.3 198.5 425 200.2 425 201.5 425.7 203.2 425.7 204.5 426 204.8 427 209.8 427.7 211.2 427.7 212.2 430 219.5 430 220.5 432.3 227.2 434.7 231.8 434.7 233.2 433.7 234.8 436.7 241.8 436.7 242.8 441.7 251.8 443.7 251.5 448.3 249.8 449.3 249.8 450.7 249.2 451.7 249.2 453.7 248.2 454.7 248.2 459.3 246.5 460.3 246.5 461.3 245.8 462.3 245.8 469.3 243.8 469.7 241.8 470.7 239.5 473.7 236.5 492.7 223.2 498.7 218.2 505 211.5 510.3 205.2 518.3 193.5 520.3 189.5 521.3 186.5 522 182.5 522.3 182.2 522.7 178.5 523 178.2 523 175.2 523.3 174.8 523.3 157.8 523 157.5 523 154.8 522.7 154.5 522.7 153.2 522.3 152.8 522.3 151.5 521.7 149.8 521 145.8 519 139.8 517 135.8 517 135.2 516.3 134.5 514 129.8 508.3 121.8 496.3 109.5 490.3 104.2 485 100.2 477.7 96.2 477 96.2 466.7 91.5 459.7 89.5 455.7 89.2Z" fill="#e27d00"/>
<path d="M459.3 293.2 459.3 294.8 460 296.8 461.3 296.8 461.3 296.2 460.7 295.8 460.7 294.8 460 293.8 460 293.2ZM458 289.8 458.7 292.2 459.3 291.8 459 290.8 458 290.5 458.7 290.2 458.7 289.8ZM457.3 288.2 457.3 288.8 458 288.5 458 288.2ZM415.7 265.2 415.7 266.8 417.3 266.8 419.7 265.2 421 264.8 420.7 264.5 421 263.5 428.3 259.5 429 258.8 433.3 256.8 434 256.8 439.7 253.8 441.3 253.5 442.7 254.8 444.3 259.8 450.7 272.5 451.3 273.2 451.3 273.8 453.3 278.5 452.7 278.8 452.7 279.5 454.7 282.5 456.7 287.2 457.3 286.8 457 285.2 456.3 284.5 456.3 282.2 455.3 279.8 455.3 278.8 453.3 272.8 452.7 271.8 452 269.2 451.3 268.2 448.3 258.8 447 256.2 446 254.8 443.3 253.2 441 252.8 440 251.8 439 251.8 438.7 251.5 435.7 251.8 429 255.8 424 260.2 418.3 264.2 417 265.5 416 265.5ZM454.7 88.8 449.3 89.2 446.3 90.2 443.7 91.8 439.7 95.8 433.3 105.5 428.7 115.8 424.7 127.5 424.7 128.5 423.7 131.5 423.3 136.5 421 143.5 420.7 147.5 420.3 147.8 420.3 150.5 420 150.8 419.7 167.2 420 167.5 420 170.8 420.3 171.2 420.3 174.2 420.7 174.5 420.7 177.2 421 177.5 421.7 184.5 422 184.8 422.3 188.5 422.7 188.8 423 192.2 424 195.5 424.3 198.5 425 200.2 425 201.5 426 204.5 426.7 208.5 427.3 209.8 427.7 212.2 430 219.5 430 220.5 431.7 225.5 434.7 231.8 434.7 233.2 433.7 234.8 436.7 241.8 436.7 242.8 441.7 251.8 443.7 251.5 448.3 249.8 449.3 249.8 450.7 249.2 451.7 249.2 453.7 248.2 454.7 248.2 459.3 246.5 460.3 246.5 461.3 245.8 462.3 245.8 469.3 243.8 469 243.2 469.7 242.5 469.7 241.5 470.7 239.5 473.7 236.5 490.3 224.8 498.7 218.2 502 214.8 510.3 205.2 518.3 193.5 520.3 189.5 521.3 186.5 522 182.5 522.3 182.2 522.7 178.5 523 178.2 523 175.2 523.3 174.8 523.3 157.8 523 157.5 522.7 153.2 522.3 152.8 522.3 151.5 521.7 149.8 521 145.8 518.3 138.2 515 131.5 509.3 123.2 506.7 119.8 496.7 109.8 490.3 104.2 486 100.8 477.7 96.2 477 96.2 468.3 92.2 461 89.8 457.7 89.5 457.3 89.2 455 89.2Z" fill="#e68900"/>
<path d="M459.3 293.2 459.3 294.8 460 296.8 461.3 296.8 461.3 296.2 460.7 295.8 460.7 294.8 460 293.8 460 293.2ZM458 289.8 458.7 292.2 459.3 291.8 459 290.8 458 290.5 458.7 290.2 458.7 289.8ZM457.3 288.2 457.3 288.8 458 288.5 458 288.2ZM415.7 265.2 415.7 266.8 417.3 266.8 419.7 265.2 421 264.8 420.7 264.5 421 263.5 426 260.5 440.3 253.5 441.3 253.5 442.7 254.8 444.3 259.8 448.3 267.8 449 268.5 450.3 271.8 451.3 273.2 451.3 273.8 453.3 278.5 452.7 278.8 452.7 279.5 454.7 282.5 456.7 287.2 457.3 286.8 457 285.2 456.3 284.5 456 281.2 452.7 271.2 450.7 266.5 449.7 262.8 449 261.8 448.3 259.2 446.7 255.8 444 253.5 441 252.8 440 251.8 439 251.8 438.7 251.5 437.3 251.5 434.3 252.5 430 255.2 417 265.5 416 265.5ZM453.3 88.8 448.3 89.5 445.3 90.8 443.3 92.2 440 95.5 438 98.2 433 106.2 428.3 116.8 424.7 127.5 424.7 128.5 423.7 131.5 423.3 136.8 421 143.5 420.7 147.8 420.3 148.2 420.3 150.8 420 151.2 419.7 166.8 420 167.2 420 170.5 420.3 170.8 420.3 173.8 420.7 174.2 421.3 182.2 421.7 182.5 421.7 184.2 422 184.5 422 186.2 422.3 186.5 422.3 188.2 422.7 188.5 422.7 190.2 423 190.5 424 196.8 424.7 198.5 424.7 199.8 425.3 201.5 425.3 202.8 425.7 203.2 427.3 210.8 428 212.2 428 213.2 428.7 214.5 428.7 215.5 430.7 221.5 430.7 222.5 431.7 224.5 432 226.2 434.7 231.5 434.7 234.2 433.7 234.8 436.7 241.8 436.7 242.8 441.7 251.8 443.7 251.5 448.3 249.8 449.3 249.8 450.7 249.2 451.7 249.2 453.7 248.2 457 247.5 461.3 245.8 468.7 244.2 470.3 239.8 474 236.2 491.7 223.8 499.3 217.5 510 205.5 514 200.2 518.3 193.5 520.3 189.5 521.3 186.5 522.3 180.5 522.7 180.2 523 175.2 523.3 174.8 523.3 157.8 523 157.5 522.7 153.2 522 151.5 521 145.8 518 137.5 515.3 132.2 510.3 124.5 506.7 119.8 493 106.5 487.3 101.8 483.3 99.2 479 96.8 478.3 96.8 476 95.5 475.3 95.5 467.3 91.8 460.7 89.8 457.3 89.5 457 89.2 453.7 89.2Z" fill="#e99600"/>
<path d="M459.3 293.2 459.3 294.8 460 296.8 461.3 296.8 461.3 296.2 460.7 295.8 460.7 294.8 460 293.8 460 293.2ZM458 289.8 458.7 292.2 459.3 291.8 459 290.8 458 290.5 458.7 290.2 458.7 289.8ZM457.3 288.2 457.3 288.8 458 288.5 458 288.2ZM415.7 265.2 415.7 266.8 417.3 266.8 419.7 265.2 421 264.8 420.7 264.5 421 263.5 427.7 259.8 428.3 259.2 432.3 257.2 434.7 256.5 440.3 253.5 441.3 253.5 442.7 254.8 444.3 258.8 444.7 260.5 448 267.2 448.7 267.8 450 271.2 451.3 273.2 451.3 273.8 453.3 278.5 452.7 278.8 452.7 279.5 454.7 282.5 456.7 287.2 457.3 286.8 457 285.2 456.3 284.5 456.3 282.5 455.7 281.2 455.7 280.2 453.3 273.2 452.7 272.2 452 269.5 450.3 265.8 449.3 262.2 448.7 261.2 448.3 259.5 446 255.2 444.3 253.8 443 253.2 441 252.8 440 251.8 436.3 251.8 435.3 252.2 429.7 255.5 417 265.5 416 265.5ZM456.7 89.2 450 89.2 447.7 89.8 444 91.8 442.7 92.8 439 96.8 434 104.5 430.3 111.8 425 126.5 425 127.5 423.7 131.5 423.3 136.8 421 143.8 420.7 147.8 420.3 148.2 420.3 151.2 420 151.5 419.7 166.5 420 166.8 420 170.2 420.3 170.5 421 179.5 421.3 179.8 421.7 184.2 422 184.5 422 186.2 422.3 186.5 422.3 188.2 422.7 188.5 422.7 190.2 423 190.5 423.7 195.2 424.3 196.8 424.3 198.2 425 199.8 425 201.2 425.7 202.8 425.7 204.2 426 204.5 427 209.5 427.7 210.8 427.7 211.8 430 219.2 430 220.2 432.3 226.8 434.7 231.5 434.7 234.5 433.7 234.8 436.7 241.8 437 243.5 441.7 251.8 443.7 251.5 448.3 249.8 449.3 249.8 450.7 249.2 451.7 249.2 452.7 248.5 457 247.5 461.3 245.8 468.7 244.2 468.7 243.2 469.3 242.5 470.3 239.8 472.3 237.5 491.7 223.8 499.7 217.2 510 205.5 514 200.2 518.3 193.5 521.3 186.5 522 182.2 522.3 181.8 522.3 180.2 522.7 179.8 522.7 178.2 523 177.8 523 174.8 523.3 174.5 523.3 158.2 523 157.8 523 155.2 522.7 154.8 522.7 153.5 522.3 153.2 522.3 151.8 522 151.5 521 145.8 518 137.5 515.3 132.2 508 121.5 506.3 119.5 493 106.5 484.3 99.8 476.7 95.8 476 95.8 473.7 94.5 473 94.5 466.3 91.5 460.3 89.8 457 89.5Z" fill="#eda400"/>
<path d="M459.3 293.2 459.3 294.8 460 296.8 461.3 296.8 461.3 296.2 460.7 295.8 460.7 294.8 460 293.8 460 293.2ZM458 289.8 458.7 292.2 459.3 291.8 459 290.8 458 290.5 458.7 290.2 458.7 289.8ZM457.3 288.2 457.3 288.8 458 288.5 458 288.2ZM415.7 265.2 415.7 266.8 417.3 266.8 419.7 265.2 421 264.8 420.7 264.5 421 263.5 427.7 259.5 433 256.8 435.3 256.2 437.3 254.8 438 254.8 440.3 253.5 441.3 253.5 442.7 254.8 444.3 258.8 444.7 260.5 451.3 273.2 451.3 273.8 453.3 278.5 452.7 278.8 452.7 279.5 454.7 282.5 456.7 287.2 457.3 286.8 457 285.2 456.3 284.5 456.3 282.5 452.7 271.5 452 270.5 449.3 262.5 448.7 261.5 448.3 259.8 447 256.8 444.3 253.8 443 253.2 441 252.8 439.7 251.8 436.7 251.8 435.7 252.2 429.3 255.8 417 265.5 416 265.5ZM456.3 89.2 450.7 89.2 450.3 89.5 449 89.5 447 90.2 444 91.8 439.3 96.5 433.7 105.2 430.7 111.2 430.7 111.8 428.7 116.2 424.3 128.8 424 131.5 423.7 131.8 423.7 135.2 421 143.8 420.7 148.2 420.3 148.5 420.3 151.5 420 151.8 420 159.8 419.7 160.2 420 169.8 420.3 170.2 420.3 173.2 420.7 173.5 420.7 176.5 421 176.8 421.7 184.2 422 184.5 422.3 188.2 422.7 188.5 423 191.8 424 195.2 424.3 198.2 425 199.8 425 201.2 426 204.2 426.7 208.2 427.3 209.5 427.7 211.8 428.3 213.2 429.7 218.8 430.7 221.2 430.7 222.2 434.7 231.5 434.7 234.5 434 235.2 434 235.8 436.7 241.8 437 243.5 441.7 251.8 443.7 251.5 448.3 249.8 449.3 249.8 450.7 249.2 451.7 249.2 452.7 248.5 457 247.5 461.3 245.8 468.7 244.2 468.3 243.5 469.3 242.5 469.3 241.8 470.3 239.8 472.7 237.2 487 227.2 496.7 219.8 504.3 212.2 506.3 209.5 508.7 207.2 514.7 199.2 518.3 193.5 521.3 186.5 522 182.2 522.3 181.8 522.3 180.2 522.7 179.8 522.7 178.2 523 177.8 523 174.8 523.3 174.5 523.3 158.2 523 157.8 523 155.2 522.7 154.8 522 150.2 521.3 148.5 521.3 147.2 520.7 145.8 520.7 144.8 519.3 140.8 515.7 132.8 509 122.8 506.3 119.5 498 111.2 491 104.8 484.3 99.8 476.7 95.8 476 95.8 468 92.2 463 90.5 462 90.5 460.3 89.8 458.7 89.8 458.3 89.5 456.7 89.5Z" fill="#f0b200"/>
<path d="M459.3 293.2 459.3 294.8 460 296.8 461.3 296.8 461.3 296.2 460.7 295.8 460.7 294.8 460 293.8 460 293.2ZM458 289.8 458.7 292.2 459.3 291.8 459 290.8 458 290.5 458.7 290.2 458.7 289.8ZM457.3 288.2 457.3 288.8 458 288.5 458 288.2ZM415.7 265.2 415.7 266.8 417.3 266.8 419.7 265.2 421 264.8 420.7 264.5 421 263.5 427.7 259.5 439.3 253.8 441.3 253.5 442.7 254.8 444.3 258.8 444.7 260.5 451.3 273.2 451.3 273.8 453.3 278.5 452.7 278.8 452.7 279.5 454.7 282.5 456.7 287.2 457.3 286.8 457 285.2 456.3 284.5 456 281.5 453.7 274.5 453 273.5 452.3 270.8 451.7 269.8 451.3 268.2 450.7 267.2 447.7 258.5 446 255.5 443.7 253.5 441 252.8 439.7 251.8 437 251.8 435 252.5 430.3 255.2 417 265.5 416 265.5ZM455.7 89.2 451 89.2 450.7 89.5 449.3 89.5 449 89.8 448 89.8 443.7 92.2 439.7 96.2 433.3 105.8 429.3 114.5 429 116.2 427.7 118.8 424.7 127.8 424.7 128.8 423.7 131.8 423.7 135.5 421 143.8 420.7 148.2 420.3 148.5 420.3 151.8 420 152.2 420 161.8 419.7 162.2 420 169.5 420.3 169.8 420.3 172.8 420.7 173.2 420.7 176.2 421 176.5 421 179.2 421.3 179.5 421.7 183.8 422 184.2 422 185.8 422.3 186.2 422.3 187.8 422.7 188.2 422.7 189.8 423 190.2 424 196.5 424.7 198.2 424.7 199.5 425.3 201.2 425.3 202.5 425.7 202.8 427.3 210.5 428 211.8 428 212.8 428.7 214.2 430 219.8 432.3 226.5 434.7 231.2 434.7 234.8 434 235.2 434 235.8 436.7 241.8 437 243.5 441.7 251.8 443.7 251.5 448.3 249.8 449.3 249.8 456 247.5 457 247.5 459 246.5 460 246.5 461.3 245.8 468.3 244.2 468 243.5 468.7 243.2 469.3 242.2 470 240.2 473 236.8 488.3 226.2 497 219.5 504.3 212.2 510 205.5 518.3 193.5 520 190.2 521.7 185.2 522.3 180.2 522.7 179.8 522.7 178.2 523 177.8 523 174.5 523.3 174.2 523.3 158.5 523 158.2 523 155.5 522.7 155.2 522.7 153.5 521.7 150.2 521.3 147.2 518.7 139.2 515.7 132.8 509 122.8 506 119.2 498.3 111.5 491 104.8 485.3 100.5 477.3 96.2 476.7 96.2 467 91.8 460 89.8 456 89.5Z" fill="#f4c200"/>
<path d="M459.3 293.2 459.3 294.8 460 296.8 461.3 296.8 461.3 296.2 460.7 295.8 460.7 294.8 460 293.8 460 293.2ZM458 289.8 458.7 292.2 459.3 291.8 459 290.8 458 290.5 458.7 290.2 458.7 289.8ZM457.3 288.2 457.3 288.8 458 288.5 458 288.2ZM415.7 265.2 415.7 266.8 417.3 266.8 419.7 265.2 421 264.8 420.7 264.5 421 263.5 427.7 259.5 440 253.5 442 253.8 443.3 256.2 445 261.2 446 262.5 446.7 264.5 451.3 273.2 451.3 273.8 453.3 278.5 452.7 278.8 452.7 279.5 454.7 282.5 456.7 287.2 457.3 286.8 457 285.2 456.3 284.5 456.3 282.8 453 272.8 450.7 267.5 448 259.5 446.3 256.2 445.3 254.8 443.7 253.5 441 252.8 439.3 251.8 436 252.2 432 254.2 429 256.2 424.7 259.8 417 265.5 416 265.5ZM455 89.2 451.7 89.2 451.3 89.5 448.3 89.8 445.3 91.2 443 92.8 440.3 95.5 438 98.5 433 106.5 428.3 117.2 424.3 129.2 424 131.8 423.7 132.2 423.7 135.5 421 144.2 420.7 148.5 420.3 148.8 420.3 152.2 420 152.5 420 169.5 420.3 169.8 420.3 172.8 420.7 173.2 420.7 176.2 421 176.5 421.7 183.8 422 184.2 422.7 189.8 423 190.2 423.7 194.8 424.3 196.5 424.7 199.5 425.7 202.5 425.7 203.8 426 204.2 427 209.2 427.7 210.5 427.7 211.5 428.3 212.8 429.7 218.5 430.7 220.8 430.7 221.8 435 232.2 435 233.2 434.7 233.5 434.7 234.5 435 234.8 434.3 235.2 434 235.8 434.7 236.8 437.3 244.2 441.7 251.8 443.7 251.5 448.3 249.8 449.3 249.8 456 247.5 457 247.5 459 246.5 460 246.5 461.3 245.8 462.3 245.8 468 244.2 468 243.5 469 242.5 470.7 239.2 473.3 236.5 486 227.8 497 219.5 504 212.5 510 205.5 515.3 198.2 518.7 192.8 521 187.5 521 186.5 522 183.5 522 182.2 522.3 181.8 522.7 177.8 523 177.5 523 174.5 523.3 174.2 523.3 158.5 523 158.2 523 155.5 522.7 155.2 522.3 151.8 522 151.5 521.7 148.8 520.3 144.8 520.3 143.8 519 140.8 518.7 139.2 516 133.5 511.7 126.5 505.7 118.8 494 107.5 489.3 103.5 483.7 99.5 478 96.5 477.3 96.5 468.7 92.5 461.3 90.2 458 89.8 457.7 89.5 455.3 89.5Z" fill="#f7d200"/>
<path d="M459.3 293.2 459.3 294.8 460 296.8 461.3 296.8 461.3 296.2 460.7 295.8 460.7 294.8 460 293.8 460 293.2ZM458 289.8 458.7 292.2 459.3 291.8 459 290.8 458 290.5 458.7 290.2 458.7 289.8ZM457.3 288.2 457.3 288.8 458 288.5 458 288.2ZM415.7 265.2 415.7 266.8 417.3 266.8 419.7 265.2 421 264.8 420.7 264.5 421 263.5 427.7 259.5 430 258.5 430.7 257.8 434.3 256.5 440 253.5 441.7 253.5 443.3 256.2 444.3 259.5 446.7 263.8 446.7 264.5 447.7 265.8 451.3 273.2 451.3 273.8 453.3 278.5 452.7 278.8 452.7 279.5 454.7 282.5 456.7 287.2 457.3 286.8 457 285.2 456.3 284.5 456 281.8 453.7 274.8 450.3 266.8 448 259.8 446 255.8 443 253.2 442 253.2 440.3 252.2 439.3 252.2 439 251.8 437.7 251.8 434.7 252.8 428.7 256.5 423 261.2 421.7 261.8 417 265.5 416 265.5ZM453.7 89.2 448.7 89.8 444 92.2 442.3 93.5 439.3 96.8 434 104.8 429.7 113.8 425 126.8 425 127.8 424.3 129.2 424 131.8 423.7 132.2 423.3 137.2 421 144.2 420.7 148.8 420.3 149.2 420.3 152.5 420 152.8 420 169.2 420.3 169.5 420.7 175.8 421 176.2 421 178.8 421.3 179.2 422 185.8 422.7 187.8 422.7 189.5 423 189.8 423 191.5 424 194.8 424.3 197.8 425 199.5 425 200.8 426 203.8 426.7 207.8 427.3 209.2 427.3 210.2 428 211.5 428 212.5 428.7 213.8 430 219.5 432 225.5 434.7 230.8 435 234.8 434 235.5 434.7 236.8 437.3 244.2 441.7 251.8 443.7 251.5 448.3 249.8 449.3 249.8 456 247.5 457 247.5 459 246.5 460 246.5 461.3 245.8 467.3 244.5 467.7 243.5 468.3 243.2 469.3 241.8 470.3 239.5 473.3 236.5 487.3 226.8 497.3 219.2 504 212.5 509.7 205.8 513.7 200.5 518.7 192.8 521 187.5 522 181.8 522.3 181.5 522.3 180.2 522.7 179.8 523 174.5 523.3 174.2 523.3 158.5 523 158.2 522.7 153.5 522 151.8 521.7 148.8 520.3 144.8 520.3 143.8 517.7 137.5 517.7 136.8 516 133.5 512.3 127.5 507.7 121.2 505 118.2 494 107.5 488 102.5 483 99.2 478.7 96.8 478 96.8 475.7 95.5 475 95.5 467.7 92.2 461 90.2 457.7 89.8 457.3 89.5 454 89.5Z" fill="#fae300"/>
<path d="M459.3 293.2 459.3 294.8 460 296.8 461.3 296.8 461.3 296.2 460.7 295.8 460.7 294.8 460 293.8 460 293.2ZM458 289.8 458.7 292.2 459.3 291.8 459 290.8 458 290.5 458.7 290.2 458.7 289.8ZM457.3 288.2 457.3 288.8 458 288.5 458 288.2ZM415.7 265.2 415.7 266.8 417.3 266.8 419.7 265.2 421 264.8 420.7 264.5 421 263.5 422 263.2 428.7 258.8 434.3 256.2 435 256.2 440 253.5 441.7 253.5 443.7 256.8 444.3 259.5 451.3 273.2 451.3 273.8 453.3 278.5 452.7 278.8 452.7 279.5 454.7 282.5 456.7 287.2 457.3 286.8 456.3 284.5 456.3 283.2 455 278.8 454.3 277.8 453 273.2 450 266.2 447.3 258.5 445.3 255.2 443 253.2 442 253.2 440.3 252.2 439 252.2 438.7 251.8 438.3 252.2 435.7 252.5 429.7 255.8 417 265.5 416 265.5ZM457 89.5 450.3 89.5 445.7 91.2 443.7 92.5 439.7 96.5 435.7 102.2 431 110.8 431 111.5 428.7 116.5 428.3 118.2 427.7 119.2 427 121.8 425.3 125.8 425.3 126.8 424.7 128.2 424 132.2 423.7 132.5 423.7 135.8 421.3 142.8 421 146.2 420.7 146.5 420.7 148.8 420.3 149.2 420.3 152.8 420 153.2 420 168.8 420.3 169.2 420.7 175.8 421 176.2 421.7 183.5 422 183.8 422 185.5 422.3 185.8 422.3 187.5 422.7 187.8 422.7 189.5 423 189.8 424 196.2 424.7 197.8 424.7 199.2 425.3 200.8 425.3 202.2 425.7 202.5 427 208.8 427.7 210.2 427.7 211.2 429 214.8 429.7 218.2 430.7 220.5 430.7 221.5 432 224.5 432.3 226.2 435 231.8 435 235.2 434 235.8 434.7 236.8 436.7 242.5 437.7 244.2 437.7 244.8 438.3 245.5 441.7 251.8 443.7 251.5 448.3 249.8 449.3 249.8 450.3 249.2 451.3 249.2 456 247.5 457 247.5 459 246.5 460 246.5 461.3 245.8 467.3 244.5 467.7 244.2 467.3 243.5 469 242.2 470.3 239.5 473.7 236.2 491 224.2 497.3 219.2 503.7 212.8 509.7 205.8 517.7 194.5 519.7 190.8 521.3 186.2 522 181.8 522.3 181.5 522.3 179.8 522.7 179.5 522.7 177.8 523 177.5 523 174.2 523.3 173.8 523.3 158.8 523 158.5 523 155.5 522.7 155.2 521.7 148.8 519 140.2 517.3 136.8 517.3 136.2 514.7 131.2 510.7 125.2 507.3 120.8 499.3 112.5 491.7 105.5 484.7 100.2 476.3 95.8 475.7 95.8 474 94.8 473.3 94.8 466.7 91.8 463.7 91.2 462.3 90.5 457.3 89.8Z" fill="#fdf600"/>
</g>
<path d="M450.40 96.60 451.31 96.28 452.13 96.10 452.92 96.01 453.71 95.98 454.56 95.95 455.50 95.90 456.52 95.79 457.58 95.66 458.69 95.54 459.87 95.46 461.14 95.47 462.50 95.60 464.03 95.88 465.72 96.29 467.50 96.77 469.28 97.30 470.97 97.83 472.50 98.30 473.85 98.72 475.09 99.13 476.25 99.52 477.35 99.93 478.43 100.35 479.50 100.80 480.53 101.24 481.50 101.66 482.43 102.10 483.38 102.59 484.39 103.18 485.50 103.90 486.75 104.79 488.11 105.84 489.52 106.98 490.95 108.16 492.32 109.32 493.60 110.40 494.78 111.42 495.90 112.41 496.98 113.39 498.02 114.34 499.02 115.28 500.00 116.20 500.93 117.07 501.81 117.88 502.66 118.67 503.49 119.48 504.33 120.34 505.20 121.30 506.11 122.36 507.04 123.49 507.98 124.67 508.91 125.90 509.82 127.15 510.70 128.40 511.56 129.67 512.41 130.98 513.25 132.31 514.05 133.64 514.81 134.98 515.50 136.30 516.13 137.62 516.71 138.96 517.24 140.29 517.73 141.61 518.18 142.88 518.60 144.10 518.98 145.22 519.31 146.26 519.60 147.26 519.87 148.26 520.13 149.33 520.40 150.50 520.68 151.79 520.97 153.16 521.25 154.59 521.51 156.05 521.73 157.53 521.90 159.00 522.02 160.45 522.10 161.91 522.14 163.38 522.15 164.87 522.13 166.41 522.10 168.00 522.06 169.66 522.01 171.37 521.93 173.12 521.81 174.91 521.64 176.70 521.40 178.50 521.10 180.33 520.76 182.21 520.36 184.10 519.90 185.97 519.35 187.78 518.70 189.50 517.91 191.13 516.99 192.72 515.98 194.24 514.94 195.70 513.93 197.09 513.00 198.40 512.17 199.58 511.41 200.64 510.67 201.62 509.91 202.59 509.11 203.59 508.20 204.70 507.19 205.92 506.11 207.23 504.98 208.57 503.81 209.92 502.61 211.24 501.40 212.50 500.18 213.70 498.94 214.88 497.68 216.03 496.38 217.14 495.06 218.24 493.70 219.30 492.31 220.32 490.88 221.31 489.42 222.26 487.94 223.20 486.43 224.14 484.90 225.10 483.32 226.09 481.67 227.10 480.01 228.11 478.35 229.09 476.73 230.03 475.20 230.90 473.75 231.70 472.37 232.46 471.03 233.16 469.72 233.82 468.41 234.43 467.10 235.00 465.78 235.53 464.47 236.01 463.17 236.46 461.88 236.84 460.59 237.16 459.30 237.40 457.99 237.57 456.66 237.67 455.33 237.70 454.03 237.67 452.78 237.57 451.60 237.40 450.50 237.18 449.46 236.91 448.47 236.57 447.52 236.15 446.60 235.63 445.70 235.00 444.84 234.26 444.02 233.43 443.24 232.51 442.47 231.48 441.69 230.34 440.90 229.10 440.09 227.70 439.27 226.15 438.45 224.49 437.63 222.77 436.81 221.06 436.00 219.40 435.18 217.78 434.34 216.17 433.51 214.55 432.69 212.93 431.92 211.32 431.20 209.70 430.55 208.11 429.94 206.55 429.38 204.99 428.84 203.40 428.32 201.75 427.80 200.00 427.28 198.14 426.78 196.19 426.29 194.18 425.82 192.12 425.39 190.06 425.00 188.00 424.66 186.02 424.35 184.11 424.08 182.18 423.84 180.16 423.61 177.96 423.40 175.50 423.19 172.64 422.97 169.40 422.77 165.99 422.62 162.60 422.52 159.40 422.50 156.60 422.57 154.22 422.71 152.11 422.92 150.21 423.16 148.44 423.43 146.73 423.70 145.00 423.98 143.27 424.30 141.60 424.64 139.98 424.99 138.43 425.35 136.93 425.70 135.50 426.05 134.15 426.39 132.90 426.74 131.71 427.11 130.54 427.49 129.39 427.90 128.20 428.33 127.00 428.79 125.80 429.26 124.60 429.76 123.40 430.27 122.20 430.80 121.00 431.35 119.79 431.92 118.57 432.51 117.35 433.11 116.13 433.75 114.91 434.40 113.70 435.08 112.48 435.78 111.24 436.51 110.01 437.25 108.79 438.02 107.62 438.80 106.50 439.59 105.43 440.40 104.40 441.22 103.41 442.07 102.46 442.96 101.55 443.90 100.70 444.92 99.88 446.01 99.08 447.15 98.33 448.29 97.65 449.38 97.07Z" fill="#fff"/>
<g clip-path="url(#cwa)"><line x1="109.25" y1="26.2" x2="109.25" y2="303.3" stroke="#f6f6f6" stroke-width="1"/><line x1="143.90" y1="26.2" x2="143.90" y2="303.3" stroke="#f6f6f6" stroke-width="1"/><line x1="178.55" y1="26.2" x2="178.55" y2="303.3" stroke="#f6f6f6" stroke-width="1"/><line x1="74.6" y1="49.37" x2="213.2" y2="49.37" stroke="#f6f6f6" stroke-width="1"/><line x1="74.6" y1="107.19" x2="213.2" y2="107.19" stroke="#f6f6f6" stroke-width="1"/><line x1="74.6" y1="165.00" x2="213.2" y2="165.00" stroke="#f6f6f6" stroke-width="1"/><line x1="74.6" y1="222.81" x2="213.2" y2="222.81" stroke="#f6f6f6" stroke-width="1"/><line x1="74.6" y1="280.63" x2="213.2" y2="280.63" stroke="#f6f6f6" stroke-width="1"/></g>
<g clip-path="url(#cwb)"><line x1="429.95" y1="26.2" x2="429.95" y2="303.3" stroke="#f6f6f6" stroke-width="1"/><line x1="464.60" y1="26.2" x2="464.60" y2="303.3" stroke="#f6f6f6" stroke-width="1"/><line x1="499.25" y1="26.2" x2="499.25" y2="303.3" stroke="#f6f6f6" stroke-width="1"/><line x1="395.29999999999995" y1="49.37" x2="533.9" y2="49.37" stroke="#f6f6f6" stroke-width="1"/><line x1="395.29999999999995" y1="107.19" x2="533.9" y2="107.19" stroke="#f6f6f6" stroke-width="1"/><line x1="395.29999999999995" y1="165.00" x2="533.9" y2="165.00" stroke="#f6f6f6" stroke-width="1"/><line x1="395.29999999999995" y1="222.81" x2="533.9" y2="222.81" stroke="#f6f6f6" stroke-width="1"/><line x1="395.29999999999995" y1="280.63" x2="533.9" y2="280.63" stroke="#f6f6f6" stroke-width="1"/></g>
<rect x="74.6" y="26.2" width="138.60" height="277.10" fill="none" stroke="#a2a2a2" stroke-width="1"/>
<line x1="109.25" y1="303.3" x2="109.25" y2="293.3" stroke="#a2a2a2" stroke-width="1"/>
<line x1="109.25" y1="26.2" x2="109.25" y2="36.2" stroke="#a2a2a2" stroke-width="1"/>
<line x1="143.90" y1="303.3" x2="143.90" y2="293.3" stroke="#a2a2a2" stroke-width="1"/>
<line x1="143.90" y1="26.2" x2="143.90" y2="36.2" stroke="#a2a2a2" stroke-width="1"/>
<line x1="178.55" y1="303.3" x2="178.55" y2="293.3" stroke="#a2a2a2" stroke-width="1"/>
<line x1="178.55" y1="26.2" x2="178.55" y2="36.2" stroke="#a2a2a2" stroke-width="1"/>
<line x1="74.6" y1="49.37" x2="84.6" y2="49.37" stroke="#a2a2a2" stroke-width="1"/>
<line x1="213.2" y1="49.37" x2="203.2" y2="49.37" stroke="#a2a2a2" stroke-width="1"/>
<line x1="74.6" y1="107.19" x2="84.6" y2="107.19" stroke="#a2a2a2" stroke-width="1"/>
<line x1="213.2" y1="107.19" x2="203.2" y2="107.19" stroke="#a2a2a2" stroke-width="1"/>
<line x1="74.6" y1="165.00" x2="84.6" y2="165.00" stroke="#a2a2a2" stroke-width="1"/>
<line x1="213.2" y1="165.00" x2="203.2" y2="165.00" stroke="#a2a2a2" stroke-width="1"/>
<line x1="74.6" y1="222.81" x2="84.6" y2="222.81" stroke="#a2a2a2" stroke-width="1"/>
<line x1="213.2" y1="222.81" x2="203.2" y2="222.81" stroke="#a2a2a2" stroke-width="1"/>
<line x1="74.6" y1="280.63" x2="84.6" y2="280.63" stroke="#a2a2a2" stroke-width="1"/>
<line x1="213.2" y1="280.63" x2="203.2" y2="280.63" stroke="#a2a2a2" stroke-width="1"/>
<text x="63.00" y="54.77" text-anchor="end" font-size="15">100</text>
<text x="63.00" y="112.59" text-anchor="end" font-size="15">50</text>
<text x="63.00" y="170.40" text-anchor="end" font-size="15">0</text>
<text x="63.00" y="228.22" text-anchor="end" font-size="15">-50</text>
<text x="63.00" y="286.03" text-anchor="end" font-size="15">-100</text>
<text x="76.80" y="333.2" text-anchor="middle" font-size="15">120</text>
<text x="111.45" y="333.2" text-anchor="middle" font-size="15">150</text>
<text x="146.10" y="333.2" text-anchor="middle" font-size="15">180</text>
<text x="180.75" y="333.2" text-anchor="middle" font-size="15">210</text>
<text x="215.40" y="333.2" text-anchor="middle" font-size="15">240</text>
<text x="143.30" y="360" text-anchor="middle" font-size="15">R (cm)</text>
<text transform="translate(30.50,165) rotate(-90)" text-anchor="middle" font-size="15">Z (cm)</text>
<text x="8.50" y="355" font-size="18.5" font-weight="bold">(a)</text>
<defs><linearGradient id="gpa" x1="0" y1="0" x2="0" y2="1"><stop offset="0.000" stop-color="#ffff00"/><stop offset="0.025" stop-color="#fcec00"/><stop offset="0.050" stop-color="#f9db00"/><stop offset="0.075" stop-color="#f5ca00"/><stop offset="0.100" stop-color="#f2ba00"/><stop offset="0.125" stop-color="#efab00"/><stop offset="0.150" stop-color="#eb9d00"/><stop offset="0.175" stop-color="#e88f00"/><stop offset="0.200" stop-color="#e48300"/><stop offset="0.225" stop-color="#e07700"/><stop offset="0.250" stop-color="#dd6c00"/><stop offset="0.275" stop-color="#d96100"/><stop offset="0.300" stop-color="#d55700"/><stop offset="0.325" stop-color="#d24e00"/><stop offset="0.350" stop-color="#ce4600"/><stop offset="0.375" stop-color="#ca3e00"/><stop offset="0.400" stop-color="#c63700"/><stop offset="0.425" stop-color="#c13000"/><stop offset="0.450" stop-color="#bd2a00"/><stop offset="0.475" stop-color="#b92500"/><stop offset="0.500" stop-color="#b42000"/><stop offset="0.525" stop-color="#b01b28"/><stop offset="0.550" stop-color="#ab174f"/><stop offset="0.575" stop-color="#a61474"/><stop offset="0.600" stop-color="#a11096"/><stop offset="0.625" stop-color="#9c0db4"/><stop offset="0.650" stop-color="#970bce"/><stop offset="0.675" stop-color="#9109e3"/><stop offset="0.700" stop-color="#8c07f3"/><stop offset="0.725" stop-color="#8605fc"/><stop offset="0.750" stop-color="#8004ff"/><stop offset="0.775" stop-color="#7903fc"/><stop offset="0.800" stop-color="#7202f3"/><stop offset="0.825" stop-color="#6b01e3"/><stop offset="0.850" stop-color="#6301ce"/><stop offset="0.875" stop-color="#5a00b4"/><stop offset="0.900" stop-color="#510096"/><stop offset="0.925" stop-color="#460074"/><stop offset="0.950" stop-color="#39004f"/><stop offset="0.975" stop-color="#280028"/><stop offset="1.000" stop-color="#000000"/></linearGradient></defs>
<rect x="216.8" y="26.5" width="7.00" height="276.90" fill="url(#gpa)"/>
<text x="236.40" y="34.10" font-size="15">3x10<tspan dx="0.6" dy="-6.4" font-size="11.6">18</tspan></text>
<line x1="216.8" y1="72.65" x2="223.8" y2="72.65" stroke="#000" stroke-opacity="0.55" stroke-width="1"/>
<text x="236.40" y="80.25" font-size="15">2.5x10<tspan dx="0.6" dy="-6.4" font-size="11.6">18</tspan></text>
<line x1="216.8" y1="118.80" x2="223.8" y2="118.80" stroke="#000" stroke-opacity="0.55" stroke-width="1"/>
<text x="236.40" y="126.40" font-size="15">2x10<tspan dx="0.6" dy="-6.4" font-size="11.6">18</tspan></text>
<line x1="216.8" y1="164.95" x2="223.8" y2="164.95" stroke="#000" stroke-opacity="0.55" stroke-width="1"/>
<text x="236.40" y="172.55" font-size="15">1.5x10<tspan dx="0.6" dy="-6.4" font-size="11.6">18</tspan></text>
<line x1="216.8" y1="211.10" x2="223.8" y2="211.10" stroke="#000" stroke-opacity="0.55" stroke-width="1"/>
<text x="236.40" y="218.70" font-size="15">1x10<tspan dx="0.6" dy="-6.4" font-size="11.6">18</tspan></text>
<line x1="216.8" y1="257.25" x2="223.8" y2="257.25" stroke="#000" stroke-opacity="0.55" stroke-width="1"/>
<text x="236.40" y="264.85" font-size="15">5x10<tspan dx="0.6" dy="-6.4" font-size="11.6">17</tspan></text>
<text x="236.40" y="308.10" font-size="15">0</text>
<text x="213.6" y="16.6" font-size="15.6">n<tspan dy="3.2" font-size="11.5">e</tspan><tspan dy="-3.2"> (m</tspan><tspan dy="-6.2" font-size="11.5">-3</tspan><tspan dy="6.2">)</tspan></text>
<rect x="395.29999999999995" y="26.2" width="138.60" height="277.10" fill="none" stroke="#a2a2a2" stroke-width="1"/>
<line x1="429.95" y1="303.3" x2="429.95" y2="293.3" stroke="#a2a2a2" stroke-width="1"/>
<line x1="429.95" y1="26.2" x2="429.95" y2="36.2" stroke="#a2a2a2" stroke-width="1"/>
<line x1="464.60" y1="303.3" x2="464.60" y2="293.3" stroke="#a2a2a2" stroke-width="1"/>
<line x1="464.60" y1="26.2" x2="464.60" y2="36.2" stroke="#a2a2a2" stroke-width="1"/>
<line x1="499.25" y1="303.3" x2="499.25" y2="293.3" stroke="#a2a2a2" stroke-width="1"/>
<line x1="499.25" y1="26.2" x2="499.25" y2="36.2" stroke="#a2a2a2" stroke-width="1"/>
<line x1="395.29999999999995" y1="49.37" x2="405.29999999999995" y2="49.37" stroke="#a2a2a2" stroke-width="1"/>
<line x1="533.9" y1="49.37" x2="523.9" y2="49.37" stroke="#a2a2a2" stroke-width="1"/>
<line x1="395.29999999999995" y1="107.19" x2="405.29999999999995" y2="107.19" stroke="#a2a2a2" stroke-width="1"/>
<line x1="533.9" y1="107.19" x2="523.9" y2="107.19" stroke="#a2a2a2" stroke-width="1"/>
<line x1="395.29999999999995" y1="165.00" x2="405.29999999999995" y2="165.00" stroke="#a2a2a2" stroke-width="1"/>
<line x1="533.9" y1="165.00" x2="523.9" y2="165.00" stroke="#a2a2a2" stroke-width="1"/>
<line x1="395.29999999999995" y1="222.81" x2="405.29999999999995" y2="222.81" stroke="#a2a2a2" stroke-width="1"/>
<line x1="533.9" y1="222.81" x2="523.9" y2="222.81" stroke="#a2a2a2" stroke-width="1"/>
<line x1="395.29999999999995" y1="280.63" x2="405.29999999999995" y2="280.63" stroke="#a2a2a2" stroke-width="1"/>
<line x1="533.9" y1="280.63" x2="523.9" y2="280.63" stroke="#a2a2a2" stroke-width="1"/>
<text x="382.50" y="54.77" text-anchor="end" font-size="15">100</text>
<text x="382.50" y="112.59" text-anchor="end" font-size="15">50</text>
<text x="382.50" y="170.40" text-anchor="end" font-size="15">0</text>
<text x="382.50" y="228.22" text-anchor="end" font-size="15">-50</text>
<text x="382.50" y="286.03" text-anchor="end" font-size="15">-100</text>
<text x="397.50" y="333.2" text-anchor="middle" font-size="15">120</text>
<text x="432.15" y="333.2" text-anchor="middle" font-size="15">150</text>
<text x="466.80" y="333.2" text-anchor="middle" font-size="15">180</text>
<text x="501.45" y="333.2" text-anchor="middle" font-size="15">210</text>
<text x="536.10" y="333.2" text-anchor="middle" font-size="15">240</text>
<text x="464.00" y="360" text-anchor="middle" font-size="15">R (cm)</text>
<text transform="translate(351.20,165) rotate(-90)" text-anchor="middle" font-size="15">Z (cm)</text>
<text x="326.40" y="355" font-size="18.5" font-weight="bold">(b)</text>
<defs><linearGradient id="gpb" x1="0" y1="0" x2="0" y2="1"><stop offset="0.000" stop-color="#ffff00"/><stop offset="0.025" stop-color="#fcec00"/><stop offset="0.050" stop-color="#f9db00"/><stop offset="0.075" stop-color="#f5ca00"/><stop offset="0.100" stop-color="#f2ba00"/><stop offset="0.125" stop-color="#efab00"/><stop offset="0.150" stop-color="#eb9d00"/><stop offset="0.175" stop-color="#e88f00"/><stop offset="0.200" stop-color="#e48300"/><stop offset="0.225" stop-color="#e07700"/><stop offset="0.250" stop-color="#dd6c00"/><stop offset="0.275" stop-color="#d96100"/><stop offset="0.300" stop-color="#d55700"/><stop offset="0.325" stop-color="#d24e00"/><stop offset="0.350" stop-color="#ce4600"/><stop offset="0.375" stop-color="#ca3e00"/><stop offset="0.400" stop-color="#c63700"/><stop offset="0.425" stop-color="#c13000"/><stop offset="0.450" stop-color="#bd2a00"/><stop offset="0.475" stop-color="#b92500"/><stop offset="0.500" stop-color="#b42000"/><stop offset="0.525" stop-color="#b01b28"/><stop offset="0.550" stop-color="#ab174f"/><stop offset="0.575" stop-color="#a61474"/><stop offset="0.600" stop-color="#a11096"/><stop offset="0.625" stop-color="#9c0db4"/><stop offset="0.650" stop-color="#970bce"/><stop offset="0.675" stop-color="#9109e3"/><stop offset="0.700" stop-color="#8c07f3"/><stop offset="0.725" stop-color="#8605fc"/><stop offset="0.750" stop-color="#8004ff"/><stop offset="0.775" stop-color="#7903fc"/><stop offset="0.800" stop-color="#7202f3"/><stop offset="0.825" stop-color="#6b01e3"/><stop offset="0.850" stop-color="#6301ce"/><stop offset="0.875" stop-color="#5a00b4"/><stop offset="0.900" stop-color="#510096"/><stop offset="0.925" stop-color="#460074"/><stop offset="0.950" stop-color="#39004f"/><stop offset="0.975" stop-color="#280028"/><stop offset="1.000" stop-color="#000000"/></linearGradient></defs>
<rect x="537.1" y="26.5" width="7.00" height="276.90" fill="url(#gpb)"/>
<text x="556.70" y="31.20" font-size="15">200</text>
<line x1="537.1" y1="81.88" x2="544.1" y2="81.88" stroke="#000" stroke-opacity="0.55" stroke-width="1"/>
<text x="556.70" y="86.58" font-size="15">160</text>
<line x1="537.1" y1="137.26" x2="544.1" y2="137.26" stroke="#000" stroke-opacity="0.55" stroke-width="1"/>
<text x="556.70" y="141.96" font-size="15">120</text>
<line x1="537.1" y1="192.64" x2="544.1" y2="192.64" stroke="#000" stroke-opacity="0.55" stroke-width="1"/>
<text x="556.70" y="197.34" font-size="15">80</text>
<line x1="537.1" y1="248.02" x2="544.1" y2="248.02" stroke="#000" stroke-opacity="0.55" stroke-width="1"/>
<text x="556.70" y="252.72" font-size="15">40</text>
<text x="556.70" y="308.10" font-size="15">0</text>
<text x="533.6" y="14.4" font-size="15.6">T<tspan dy="3.2" font-size="11.5">e</tspan><tspan dy="-3.2"> (eV)</tspan></text>

<line x1="204.6" y1="135.5" x2="211.6" y2="166.6" stroke="#000" stroke-width="2.2"/>
<line x1="204.1" y1="144.6" x2="171.5" y2="130.2" stroke="#0a14ff" stroke-width="2.2"/>
<polyline points="179.9,128.3 171.0,130.0 176.2,137.0" fill="none" stroke="#0a14ff" stroke-width="2.2" stroke-linejoin="miter"/>
<path d="M144.8 124.1h2.4v9.1h3.5v2.3h-5.9ZM152.6 124.1h2.4v9.1h3.5v2.3h-5.9ZM160.4 124.1h2.4v9.1h3.5v2.3h-5.9Z" fill="#000"/>
<text x="142.0" y="172.4" font-size="28" font-weight="bold" fill="#0a14ff" transform="translate(142,0) scale(0.93,1) translate(-142,0)">0</text>
<circle cx="163.25" cy="156.5" r="3.5" fill="none" stroke="#0a14ff" stroke-width="2.1"/>

<text x="461.80" y="172.4" font-size="28" font-weight="bold" fill="#0a14ff" transform="translate(461.8,0) scale(0.93,1) translate(-461.8,0)">0</text>
<circle cx="483.55" cy="156.4" r="3.5" fill="none" stroke="#0a14ff" stroke-width="2.1"/>
<clipPath id="clip48"><rect x="48.8" y="405.6" width="191.70" height="183.00"/></clipPath>
<g clip-path="url(#clip48)">
<rect x="48.8" y="405.6" width="191.70" height="183.00" fill="#0094f8"/>
<path d="M46.92 403.73 46.92 580.23 48.67 580.48 48.92 580.73 49.92 580.73 50.17 580.98 51.17 580.98 51.42 581.23 52.42 581.23 52.67 581.48 53.67 581.48 53.92 581.73 54.92 581.73 55.17 581.98 56.17 581.98 56.42 582.23 57.42 582.23 57.67 582.48 58.92 582.48 59.17 582.73 61.67 582.98 61.92 583.23 62.92 583.23 63.17 583.48 64.42 583.48 64.67 583.73 68.92 584.23 69.17 584.48 70.67 584.48 70.92 584.73 72.17 584.73 72.42 584.98 73.67 584.98 73.92 585.23 75.42 585.23 75.67 585.48 77.17 585.48 77.42 585.73 78.92 585.73 79.17 585.98 80.67 585.98 80.92 586.23 82.67 586.23 82.92 586.48 84.67 586.48 84.92 586.73 88.67 586.98 88.92 587.23 90.92 587.23 91.17 587.48 95.42 587.73 95.67 587.98 100.67 588.23 100.92 588.48 103.42 588.48 103.67 588.73 106.42 588.73 106.67 588.98 109.67 588.98 109.92 589.23 113.17 589.23 113.42 589.48 117.42 589.48 117.67 589.73 128.43 589.98 128.68 590.23 139.68 590.23 139.93 590.48 160.93 590.23 161.18 589.98 171.93 589.73 172.18 589.48 175.93 589.48 176.18 589.23 179.43 589.23 179.68 588.98 182.68 588.98 182.93 588.73 188.68 588.48 188.93 588.23 191.18 588.23 191.43 587.98 193.68 587.98 193.93 587.73 198.43 587.48 198.68 587.23 202.68 586.98 202.93 586.73 204.68 586.73 204.93 586.48 206.43 586.48 206.68 586.23 208.43 586.23 208.68 585.98 210.18 585.98 210.43 585.73 215.43 585.23 215.68 584.98 218.68 584.73 218.93 584.48 220.18 584.48 220.43 584.23 221.68 584.23 221.93 583.98 226.18 583.48 226.43 583.23 227.43 583.23 227.68 582.98 228.93 582.98 229.18 582.73 230.18 582.73 230.43 582.48 231.68 582.48 231.93 582.23 232.93 582.23 233.18 581.98 234.18 581.98 234.43 581.73 235.43 581.73 235.68 581.48 236.68 581.48 236.93 581.23 237.93 581.23 238.18 580.98 239.18 580.98 239.43 580.73 240.43 580.73 240.68 580.48 242.43 580.23 242.43 403.73Z" fill="#00c4ff"/>
<path d="M46.92 403.73 46.92 569.23 48.17 569.73 48.92 569.73 49.92 570.23 51.67 570.48 52.67 570.98 54.42 571.23 55.42 571.73 56.17 571.73 56.42 571.98 57.17 571.98 57.42 572.23 58.17 572.23 58.42 572.48 59.17 572.48 59.42 572.73 60.17 572.73 60.42 572.98 61.17 572.98 62.42 573.48 63.42 573.48 63.67 573.73 64.42 573.73 65.67 574.23 66.67 574.23 67.92 574.73 68.92 574.73 70.17 575.23 71.17 575.23 71.42 575.48 72.42 575.48 72.67 575.73 73.67 575.73 73.92 575.98 74.92 575.98 75.17 576.23 76.17 576.23 76.42 576.48 77.42 576.48 77.67 576.73 78.67 576.73 78.92 576.98 80.17 576.98 80.42 577.23 81.42 577.23 81.67 577.48 82.92 577.48 83.17 577.73 84.42 577.73 84.67 577.98 85.92 577.98 86.17 578.23 87.42 578.23 87.67 578.48 88.92 578.48 89.17 578.73 90.67 578.73 90.92 578.98 92.42 578.98 92.67 579.23 94.17 579.23 94.42 579.48 95.92 579.48 96.17 579.73 97.67 579.73 97.92 579.98 99.67 579.98 99.92 580.23 101.67 580.23 101.92 580.48 103.92 580.48 104.17 580.73 106.17 580.73 106.42 580.98 108.67 580.98 108.92 581.23 111.17 581.23 111.42 581.48 114.17 581.48 114.42 581.73 117.17 581.73 117.42 581.98 124.92 582.23 125.17 582.48 130.43 582.48 130.68 582.73 140.43 582.73 140.68 582.98 158.68 582.73 158.93 582.48 168.43 582.23 168.68 581.98 171.93 581.98 172.18 581.73 174.93 581.73 175.18 581.48 177.93 581.48 178.18 581.23 182.93 580.98 183.18 580.73 185.18 580.73 185.43 580.48 187.43 580.48 187.68 580.23 191.43 579.98 191.68 579.73 193.18 579.73 193.43 579.48 195.18 579.48 195.43 579.23 196.93 579.23 197.18 578.98 198.43 578.98 198.68 578.73 200.18 578.73 200.43 578.48 201.68 578.48 201.93 578.23 203.18 578.23 203.43 577.98 207.68 577.48 207.93 577.23 208.93 577.23 209.18 576.98 210.43 576.98 210.68 576.73 211.68 576.73 211.93 576.48 212.93 576.48 213.18 576.23 214.18 576.23 214.43 575.98 215.43 575.98 215.68 575.73 219.18 575.23 220.43 574.73 221.43 574.73 222.68 574.23 223.68 574.23 223.93 573.98 224.68 573.98 225.93 573.48 226.93 573.48 227.18 573.23 227.93 573.23 228.18 572.98 228.93 572.98 229.18 572.73 229.93 572.73 230.18 572.48 230.93 572.48 231.18 572.23 234.93 571.48 235.93 570.98 237.68 570.73 238.68 570.23 239.43 570.23 239.68 569.98 241.18 569.73 242.43 569.23 242.43 403.73Z" fill="#00f2f0"/>
<path d="M46.92 403.73 46.92 558.48 47.67 558.48 48.67 558.98 49.42 558.98 50.42 559.48 52.17 559.73 53.17 560.23 53.92 560.23 54.17 560.48 54.92 560.48 55.17 560.73 55.92 560.73 56.17 560.98 56.92 560.98 57.17 561.23 57.92 561.23 58.17 561.48 58.92 561.48 59.17 561.73 59.92 561.73 60.17 561.98 60.92 561.98 61.17 562.23 61.92 562.23 63.17 562.73 64.17 562.73 64.42 562.98 65.17 562.98 66.42 563.48 67.42 563.48 68.67 563.98 69.67 563.98 69.92 564.23 70.92 564.23 71.17 564.48 72.17 564.48 73.42 564.98 75.92 565.23 76.17 565.48 77.17 565.48 77.42 565.73 78.42 565.73 78.67 565.98 79.92 565.98 80.17 566.23 81.17 566.23 81.42 566.48 82.67 566.48 82.92 566.73 84.17 566.73 84.42 566.98 85.67 566.98 85.92 567.23 87.17 567.23 87.42 567.48 88.67 567.48 88.92 567.73 91.92 567.98 92.17 568.23 95.67 568.48 95.92 568.73 99.42 568.98 99.67 569.23 101.42 569.23 101.67 569.48 103.67 569.48 103.92 569.73 105.92 569.73 106.17 569.98 111.17 570.23 111.42 570.48 113.92 570.48 114.17 570.73 120.67 570.98 120.92 571.23 124.92 571.23 125.17 571.48 130.43 571.48 130.68 571.73 140.18 571.73 140.43 571.98 148.93 571.98 149.18 571.73 158.93 571.73 159.18 571.48 164.18 571.48 164.43 571.23 168.43 571.23 168.68 570.98 172.18 570.98 172.43 570.73 178.18 570.48 178.43 570.23 180.68 570.23 180.93 569.98 183.18 569.98 183.43 569.73 185.43 569.73 185.68 569.48 187.68 569.48 187.93 569.23 191.68 568.98 191.93 568.73 197.18 568.23 197.43 567.98 200.43 567.73 200.68 567.48 201.93 567.48 202.18 567.23 203.68 567.23 203.93 566.98 205.18 566.98 205.43 566.73 206.43 566.73 206.68 566.48 207.93 566.48 208.18 566.23 209.43 566.23 209.68 565.98 210.68 565.98 210.93 565.73 211.93 565.73 212.18 565.48 213.43 565.48 213.68 565.23 217.18 564.73 218.43 564.23 219.43 564.23 219.68 563.98 220.68 563.98 220.93 563.73 222.93 563.48 224.18 562.98 225.18 562.98 225.43 562.73 226.18 562.73 226.43 562.48 227.18 562.48 227.43 562.23 228.18 562.23 229.43 561.73 230.43 561.73 232.43 560.98 233.18 560.98 233.43 560.73 236.18 560.23 237.18 559.73 238.93 559.48 239.93 558.98 240.68 558.98 241.68 558.48 242.43 558.48 242.43 403.73Z" fill="#00ff84"/>
<path d="M46.92 415.73 46.92 544.98 47.92 545.23 50.42 546.48 50.92 546.48 51.67 546.98 52.17 546.98 52.92 547.48 53.42 547.48 54.17 547.98 55.42 548.23 56.17 548.73 58.17 549.23 58.92 549.73 59.42 549.73 59.67 549.98 60.17 549.98 60.42 550.23 60.92 550.23 61.17 550.48 61.67 550.48 67.17 552.48 67.92 552.48 70.42 553.48 71.17 553.48 71.42 553.73 72.92 553.98 73.92 554.48 74.67 554.48 75.67 554.98 76.42 554.98 76.67 555.23 77.42 555.23 77.67 555.48 78.42 555.48 78.67 555.73 79.42 555.73 79.67 555.98 80.42 555.98 80.67 556.23 81.42 556.23 81.67 556.48 82.42 556.48 82.67 556.73 83.42 556.73 84.67 557.23 85.67 557.23 85.92 557.48 86.67 557.48 87.92 557.98 88.92 557.98 89.17 558.23 90.17 558.23 90.42 558.48 91.42 558.48 91.67 558.73 92.67 558.73 92.92 558.98 93.92 558.98 94.17 559.23 95.17 559.23 95.42 559.48 96.67 559.48 96.92 559.73 97.92 559.73 98.17 559.98 102.42 560.48 102.67 560.73 104.17 560.73 104.42 560.98 107.42 561.23 107.67 561.48 109.42 561.48 109.67 561.73 111.42 561.73 111.67 561.98 113.42 561.98 113.67 562.23 118.17 562.48 118.42 562.73 120.92 562.73 121.17 562.98 123.92 562.98 124.17 563.23 127.67 563.23 127.92 563.48 132.18 563.48 132.43 563.73 140.93 563.73 141.18 563.98 156.93 563.73 157.18 563.48 165.18 563.23 165.43 562.98 170.93 562.73 171.18 562.48 173.43 562.48 173.68 562.23 175.68 562.23 175.93 561.98 177.68 561.98 177.93 561.73 181.68 561.48 181.93 561.23 183.43 561.23 183.68 560.98 185.18 560.98 185.43 560.73 186.68 560.73 186.93 560.48 188.18 560.48 188.43 560.23 192.68 559.73 192.93 559.48 193.93 559.48 194.18 559.23 195.18 559.23 195.43 558.98 196.43 558.98 196.68 558.73 197.68 558.73 197.93 558.48 201.43 557.98 202.68 557.48 203.68 557.48 203.93 557.23 204.68 557.23 204.93 556.98 205.68 556.98 206.93 556.48 207.93 556.48 208.18 556.23 209.93 555.98 210.93 555.48 211.68 555.48 211.93 555.23 213.68 554.98 214.68 554.48 215.43 554.48 216.43 553.98 217.18 553.98 218.18 553.48 218.93 553.48 220.68 552.73 221.43 552.73 221.68 552.48 222.18 552.48 222.43 552.23 231.18 549.48 231.93 548.98 235.18 547.98 235.93 547.48 236.43 547.48 237.18 546.98 237.68 546.98 238.43 546.48 238.93 546.48 239.68 545.98 240.18 545.98 240.93 545.48 241.43 545.48 242.43 544.98 242.43 415.73 242.18 415.48 240.68 415.23 238.68 414.48 237.93 414.48 236.93 413.98 236.18 413.98 235.93 413.73 235.18 413.73 234.93 413.48 234.18 413.48 233.93 413.23 233.18 413.23 232.93 412.98 232.18 412.98 231.93 412.73 228.18 411.98 227.93 411.73 226.93 411.73 225.68 411.23 224.68 411.23 223.43 410.73 222.43 410.73 222.18 410.48 221.18 410.48 220.93 410.23 219.93 410.23 219.68 409.98 218.68 409.98 218.43 409.73 217.43 409.73 217.18 409.48 216.18 409.48 215.93 409.23 214.68 409.23 214.43 408.98 213.43 408.98 213.18 408.73 211.93 408.73 211.68 408.48 210.43 408.48 210.18 408.23 208.93 408.23 208.68 407.98 207.43 407.98 207.18 407.73 205.68 407.73 205.43 407.48 204.18 407.48 203.93 407.23 198.93 406.73 198.68 406.48 196.93 406.48 196.68 406.23 194.93 406.23 194.68 405.98 192.93 405.98 192.68 405.73 190.68 405.73 190.43 405.48 188.43 405.48 188.18 405.23 185.93 405.23 185.68 404.98 183.18 404.98 182.93 404.73 180.43 404.73 180.18 404.48 177.18 404.48 176.93 404.23 173.93 404.23 173.68 403.98 169.93 403.98 169.68 403.73 119.92 403.73 119.67 403.98 112.42 404.23 112.17 404.48 109.17 404.48 108.92 404.73 106.42 404.73 106.17 404.98 103.67 404.98 103.42 405.23 101.42 405.23 101.17 405.48 98.92 405.48 98.67 405.73 94.67 405.98 94.42 406.23 92.67 406.23 92.42 406.48 90.92 406.48 90.67 406.73 88.92 406.73 88.67 406.98 85.42 407.23 85.17 407.48 83.92 407.48 83.67 407.73 82.17 407.73 81.92 407.98 77.67 408.48 77.42 408.73 76.42 408.73 76.17 408.98 74.92 408.98 74.67 409.23 72.17 409.48 71.92 409.73 70.92 409.73 70.67 409.98 67.17 410.48 65.92 410.98 63.67 411.23 63.42 411.48 62.67 411.48 61.42 411.98 60.42 411.98 60.17 412.23 59.42 412.23 59.17 412.48 58.42 412.48 58.17 412.73 57.42 412.73 57.17 412.98 53.42 413.73 52.42 414.23 50.67 414.48 50.42 414.73 48.92 414.98Z" fill="#00f800"/>
<path d="M46.92 430.23 46.92 529.98 50.42 531.73 50.92 531.73 53.67 533.23 54.17 533.23 55.42 533.98 55.92 533.98 57.17 534.73 57.67 534.73 58.92 535.48 59.42 535.48 62.67 536.98 63.92 537.23 64.67 537.73 66.67 538.23 67.42 538.73 67.92 538.73 68.17 538.98 68.67 538.98 68.92 539.23 69.42 539.23 74.92 541.23 75.67 541.23 77.42 541.98 78.17 541.98 79.92 542.73 81.67 542.98 82.67 543.48 83.42 543.48 83.67 543.73 84.42 543.73 84.67 543.98 85.42 543.98 85.67 544.23 86.42 544.23 86.67 544.48 87.42 544.48 87.67 544.73 88.42 544.73 88.67 544.98 89.42 544.98 90.67 545.48 91.67 545.48 92.92 545.98 93.92 545.98 94.17 546.23 95.17 546.23 96.42 546.73 98.92 546.98 99.17 547.23 100.17 547.23 100.42 547.48 101.42 547.48 101.67 547.73 102.92 547.73 103.17 547.98 104.42 547.98 104.67 548.23 105.92 548.23 106.17 548.48 107.67 548.48 107.92 548.73 109.17 548.73 109.42 548.98 110.92 548.98 111.17 549.23 114.92 549.48 115.17 549.73 117.17 549.73 117.42 549.98 119.42 549.98 119.67 550.23 121.92 550.23 122.17 550.48 124.92 550.48 125.17 550.73 128.43 550.73 128.68 550.98 132.93 550.98 133.18 551.23 140.93 551.23 141.18 551.48 156.18 551.23 156.43 550.98 160.68 550.98 160.93 550.73 167.18 550.48 167.43 550.23 172.18 549.98 172.43 549.73 174.18 549.73 174.43 549.48 176.18 549.48 176.43 549.23 178.18 549.23 178.43 548.98 181.68 548.73 181.93 548.48 183.18 548.48 183.43 548.23 184.68 548.23 184.93 547.98 186.18 547.98 186.43 547.73 187.68 547.73 187.93 547.48 188.93 547.48 189.18 547.23 190.43 547.23 190.68 546.98 194.18 546.48 195.43 545.98 196.43 545.98 197.68 545.48 198.68 545.48 198.93 545.23 199.68 545.23 199.93 544.98 200.68 544.98 201.93 544.48 202.93 544.48 203.93 543.98 207.68 543.23 208.68 542.73 209.43 542.73 209.68 542.48 211.18 542.23 212.93 541.48 213.68 541.48 213.93 541.23 222.68 538.48 223.43 537.98 225.43 537.48 226.18 536.98 226.68 536.98 227.43 536.48 227.93 536.48 228.68 535.98 229.18 535.98 229.93 535.48 231.68 534.98 232.93 534.23 233.43 534.23 234.68 533.48 235.18 533.48 237.93 531.98 238.43 531.98 242.43 529.98 242.43 430.23 238.43 428.98 238.18 428.73 237.68 428.73 237.43 428.48 236.93 428.48 236.68 428.23 236.18 428.23 235.93 427.98 235.43 427.98 235.18 427.73 234.68 427.73 234.43 427.48 233.93 427.48 233.68 427.23 232.93 427.23 232.68 426.98 231.18 426.73 230.18 426.23 229.43 426.23 228.43 425.73 225.68 425.23 224.68 424.73 223.93 424.73 222.68 424.23 221.68 424.23 221.43 423.98 220.68 423.98 219.43 423.48 218.43 423.48 217.18 422.98 216.18 422.98 214.93 422.48 213.93 422.48 213.68 422.23 212.68 422.23 212.43 421.98 211.43 421.98 211.18 421.73 210.18 421.73 209.93 421.48 208.68 421.48 208.43 421.23 207.43 421.23 207.18 420.98 205.93 420.98 205.68 420.73 204.68 420.73 204.43 420.48 203.18 420.48 202.93 420.23 201.43 420.23 201.18 419.98 198.18 419.73 197.93 419.48 196.43 419.48 196.18 419.23 194.68 419.23 194.43 418.98 192.93 418.98 192.68 418.73 188.93 418.48 188.68 418.23 186.68 418.23 186.43 417.98 184.43 417.98 184.18 417.73 181.93 417.73 181.68 417.48 179.18 417.48 178.93 417.23 176.43 417.23 176.18 416.98 169.43 416.73 169.18 416.48 165.18 416.48 164.93 416.23 159.68 416.23 159.43 415.98 149.18 415.98 148.93 415.73 140.43 415.73 140.18 415.98 130.18 415.98 129.93 416.23 124.42 416.23 124.17 416.48 120.17 416.48 119.92 416.73 113.17 416.98 112.92 417.23 107.67 417.48 107.42 417.73 105.17 417.73 104.92 417.98 102.92 417.98 102.67 418.23 100.67 418.23 100.42 418.48 96.67 418.73 96.42 418.98 94.92 418.98 94.67 419.23 93.17 419.23 92.92 419.48 91.42 419.48 91.17 419.73 89.67 419.73 89.42 419.98 88.17 419.98 87.92 420.23 86.67 420.23 86.42 420.48 82.17 420.98 81.92 421.23 80.92 421.23 80.67 421.48 79.42 421.48 79.17 421.73 78.17 421.73 77.92 421.98 74.42 422.48 74.17 422.73 72.17 422.98 70.92 423.48 69.92 423.48 69.67 423.73 68.92 423.73 68.67 423.98 67.92 423.98 67.67 424.23 66.92 424.23 66.67 424.48 65.92 424.48 65.67 424.73 61.92 425.48 60.92 425.98 59.17 426.23 58.17 426.73 57.42 426.73 57.17 426.98 56.67 426.98 55.67 427.48 54.92 427.48 54.67 427.73 54.17 427.73 53.92 427.98 53.42 427.98 53.17 428.23 52.67 428.23 52.42 428.48 51.92 428.48 51.67 428.73 51.17 428.73 50.92 428.98Z" fill="#8cff00"/>
<path d="M46.92 450.23 46.92 514.73 52.42 518.48 53.17 518.73 56.17 520.73 64.92 525.23 65.42 525.23 67.17 526.23 67.67 526.23 71.92 528.23 73.17 528.48 75.17 529.48 77.92 530.23 78.67 530.73 79.17 530.73 81.67 531.73 82.42 531.73 84.92 532.73 85.67 532.73 85.92 532.98 87.42 533.23 88.42 533.73 89.17 533.73 90.17 534.23 90.92 534.23 91.17 534.48 91.92 534.48 92.17 534.73 92.92 534.73 93.17 534.98 93.92 534.98 95.17 535.48 96.17 535.48 96.42 535.73 97.17 535.73 98.42 536.23 99.42 536.23 99.67 536.48 100.67 536.48 100.92 536.73 101.92 536.73 102.17 536.98 103.17 536.98 103.42 537.23 104.42 537.23 104.67 537.48 105.92 537.48 106.17 537.73 107.17 537.73 107.42 537.98 108.67 537.98 108.92 538.23 110.42 538.23 110.67 538.48 113.67 538.73 113.92 538.98 115.42 538.98 115.67 539.23 117.42 539.23 117.67 539.48 121.92 539.73 122.17 539.98 127.67 540.23 127.92 540.48 131.43 540.48 131.68 540.73 136.93 540.73 137.18 540.98 152.18 540.98 152.43 540.73 157.68 540.73 157.93 540.48 161.43 540.48 161.68 540.23 167.18 539.98 167.43 539.73 169.43 539.73 169.68 539.48 171.68 539.48 171.93 539.23 173.68 539.23 173.93 538.98 178.93 538.48 179.18 538.23 183.43 537.73 183.68 537.48 184.68 537.48 184.93 537.23 185.93 537.23 186.18 536.98 187.18 536.98 187.43 536.73 190.93 536.23 191.18 535.98 193.18 535.73 193.43 535.48 194.18 535.48 194.43 535.23 195.18 535.23 195.43 534.98 199.18 534.23 200.18 533.73 201.93 533.48 202.93 532.98 203.68 532.98 206.18 531.98 206.93 531.98 207.18 531.73 211.43 530.48 212.18 529.98 214.18 529.48 214.93 528.98 216.18 528.73 216.93 528.23 217.43 528.23 218.18 527.73 219.93 527.23 221.18 526.48 221.68 526.48 231.43 521.73 231.93 521.23 233.68 520.48 237.43 517.98 238.18 517.73 242.43 514.73 242.43 450.23 238.43 447.48 230.43 443.23 229.93 443.23 227.18 441.73 226.68 441.73 225.43 440.98 224.93 440.98 224.18 440.48 223.68 440.48 220.43 438.98 218.43 438.48 217.68 437.98 217.18 437.98 212.43 436.23 211.68 436.23 209.93 435.48 209.18 435.48 208.18 434.98 207.43 434.98 206.43 434.48 203.68 433.98 201.68 433.23 200.68 433.23 200.43 432.98 199.68 432.98 198.43 432.48 197.43 432.48 196.18 431.98 195.18 431.98 194.93 431.73 193.93 431.73 193.68 431.48 192.68 431.48 192.43 431.23 191.43 431.23 191.18 430.98 190.18 430.98 189.93 430.73 188.93 430.73 188.68 430.48 187.43 430.48 187.18 430.23 185.93 430.23 185.68 429.98 184.43 429.98 184.18 429.73 182.68 429.73 182.43 429.48 180.93 429.48 180.68 429.23 179.18 429.23 178.93 428.98 177.43 428.98 177.18 428.73 173.18 428.48 172.93 428.23 170.68 428.23 170.43 427.98 168.18 427.98 167.93 427.73 161.43 427.48 161.18 427.23 156.93 427.23 156.68 426.98 148.43 426.98 148.18 426.73 132.68 426.98 132.43 427.23 128.18 427.23 127.92 427.48 121.67 427.73 121.42 427.98 118.92 427.98 118.67 428.23 116.42 428.23 116.17 428.48 114.42 428.48 114.17 428.73 110.42 428.98 110.17 429.23 108.67 429.23 108.42 429.48 106.92 429.48 106.67 429.73 105.17 429.73 104.92 429.98 102.17 430.23 101.92 430.48 100.92 430.48 100.67 430.73 99.42 430.73 99.17 430.98 98.17 430.98 97.92 431.23 96.92 431.23 96.67 431.48 93.17 431.98 91.92 432.48 90.92 432.48 90.67 432.73 89.92 432.73 89.67 432.98 88.92 432.98 88.67 433.23 87.92 433.23 87.67 433.48 86.92 433.48 86.67 433.73 82.92 434.48 80.17 435.48 79.42 435.48 79.17 435.73 78.67 435.73 76.17 436.73 75.42 436.73 75.17 436.98 73.17 437.48 72.42 437.98 69.67 438.73 68.92 439.23 67.67 439.48 66.92 439.98 65.17 440.48 63.92 441.23 63.42 441.23 62.17 441.98 61.67 441.98 53.17 446.23 52.67 446.73 48.92 448.73Z" fill="#ffff00"/>
<path d="M46.92 451.48 46.92 512.98 49.42 514.98 51.67 516.48 52.42 516.73 53.67 517.73 54.42 517.98 54.92 518.48 64.92 523.73 65.42 523.73 67.67 524.98 68.17 524.98 69.42 525.73 69.92 525.73 73.17 527.23 74.42 527.48 77.17 528.73 77.67 528.73 83.17 530.73 83.92 530.73 85.67 531.48 86.42 531.48 89.17 532.48 89.92 532.48 90.17 532.73 90.92 532.73 91.17 532.98 91.92 532.98 92.17 533.23 92.92 533.23 93.17 533.48 93.92 533.48 94.17 533.73 94.92 533.73 96.17 534.23 97.17 534.23 98.42 534.73 99.42 534.73 99.67 534.98 100.67 534.98 101.92 535.48 103.17 535.48 103.42 535.73 104.42 535.73 104.67 535.98 105.67 535.98 105.92 536.23 107.17 536.23 107.42 536.48 108.67 536.48 108.92 536.73 110.17 536.73 110.42 536.98 111.92 536.98 112.17 537.23 113.67 537.23 113.92 537.48 115.42 537.48 115.67 537.73 119.67 537.98 119.92 538.23 121.92 538.23 122.17 538.48 124.67 538.48 124.92 538.73 127.67 538.73 127.92 538.98 136.93 539.23 137.18 539.48 152.18 539.48 152.43 539.23 157.68 539.23 157.93 538.98 161.43 538.98 161.68 538.73 164.43 538.73 164.68 538.48 167.18 538.48 167.43 538.23 171.68 537.98 171.93 537.73 173.68 537.73 173.93 537.48 175.43 537.48 175.68 537.23 177.18 537.23 177.43 536.98 178.93 536.98 179.18 536.73 183.43 536.23 183.68 535.98 186.18 535.73 186.43 535.48 188.68 535.23 189.93 534.73 192.18 534.48 192.43 534.23 193.18 534.23 193.43 533.98 194.18 533.98 194.43 533.73 195.18 533.73 195.43 533.48 196.18 533.48 196.43 533.23 200.18 532.48 200.43 532.23 201.93 531.98 202.93 531.48 203.68 531.48 204.68 530.98 205.43 530.98 205.68 530.73 212.93 528.48 213.68 527.98 214.93 527.73 215.68 527.23 216.18 527.23 216.93 526.73 217.43 526.73 218.18 526.23 219.93 525.73 223.43 523.98 223.93 523.98 231.43 520.23 231.93 519.73 233.18 519.23 233.68 518.73 236.93 516.98 240.68 514.48 242.43 512.98 242.43 451.48 237.43 448.23 228.18 443.48 227.68 443.48 225.93 442.48 225.43 442.48 224.68 441.98 224.18 441.98 220.93 440.48 220.43 440.48 218.93 439.73 216.18 438.98 214.68 438.23 213.93 438.23 210.68 436.98 209.93 436.98 209.68 436.73 208.18 436.48 207.18 435.98 206.43 435.98 205.43 435.48 204.68 435.48 204.43 435.23 203.68 435.23 203.43 434.98 202.68 434.98 202.43 434.73 201.68 434.73 201.43 434.48 200.68 434.48 199.43 433.98 198.43 433.98 197.18 433.48 196.18 433.48 194.93 432.98 193.93 432.98 193.68 432.73 192.68 432.73 192.43 432.48 191.43 432.48 191.18 432.23 189.93 432.23 189.68 431.98 188.68 431.98 188.43 431.73 187.18 431.73 186.93 431.48 185.68 431.48 185.43 431.23 184.18 431.23 183.93 430.98 182.43 430.98 182.18 430.73 180.68 430.73 180.43 430.48 178.93 430.48 178.68 430.23 176.93 430.23 176.68 429.98 174.93 429.98 174.68 429.73 172.68 429.73 172.43 429.48 170.18 429.48 169.93 429.23 167.68 429.23 167.43 428.98 164.43 428.98 164.18 428.73 160.68 428.73 160.43 428.48 155.68 428.48 155.43 428.23 133.93 428.23 133.68 428.48 125.17 428.73 124.92 428.98 122.17 428.98 121.92 429.23 119.42 429.23 119.17 429.48 114.67 429.73 114.42 429.98 110.67 430.23 110.42 430.48 108.92 430.48 108.67 430.73 107.17 430.73 106.92 430.98 105.42 430.98 105.17 431.23 100.92 431.73 100.67 431.98 99.67 431.98 99.42 432.23 96.92 432.48 96.67 432.73 95.67 432.73 94.42 433.23 92.17 433.48 90.92 433.98 89.92 433.98 89.67 434.23 88.92 434.23 88.67 434.48 84.92 435.23 83.92 435.73 82.17 435.98 79.42 436.98 78.67 436.98 78.42 437.23 70.42 439.73 69.67 440.23 68.42 440.48 67.67 440.98 67.17 440.98 66.42 441.48 64.67 441.98 63.42 442.73 62.92 442.73 61.17 443.73 60.67 443.73 52.42 447.98 51.92 448.48 51.17 448.73Z" fill="#ffad00"/>
<path d="M64.17 479.23 64.17 486.48 64.42 486.73 64.67 489.48 64.92 489.73 64.92 490.48 65.17 490.73 65.17 491.48 65.42 491.73 65.67 492.98 67.92 497.73 70.92 501.98 75.42 506.48 81.17 510.73 81.92 510.98 83.67 512.23 91.92 516.23 92.42 516.23 93.17 516.73 94.42 516.98 95.17 517.48 95.67 517.48 100.42 519.23 101.17 519.23 102.17 519.73 103.92 519.98 104.92 520.48 105.92 520.48 106.17 520.73 106.92 520.73 108.17 521.23 109.17 521.23 110.42 521.73 111.42 521.73 111.67 521.98 112.92 521.98 113.17 522.23 115.67 522.48 115.92 522.73 117.42 522.73 117.67 522.98 119.17 522.98 119.42 523.23 120.92 523.23 121.17 523.48 125.67 523.73 125.92 523.98 128.43 523.98 128.68 524.23 132.18 524.23 132.43 524.48 138.43 524.48 138.68 524.73 151.43 524.73 151.68 524.48 157.68 524.48 157.93 524.23 164.18 523.98 164.43 523.73 166.68 523.73 166.93 523.48 168.68 523.48 168.93 523.23 172.43 522.98 172.68 522.73 173.93 522.73 174.18 522.48 175.43 522.48 175.68 522.23 176.93 522.23 177.18 521.98 178.18 521.98 178.43 521.73 181.93 521.23 182.18 520.98 182.93 520.98 183.18 520.73 186.93 519.98 187.93 519.48 188.68 519.48 190.43 518.73 191.18 518.73 191.43 518.48 194.18 517.73 194.93 517.23 196.18 516.98 196.93 516.48 198.68 515.98 199.93 515.23 200.43 515.23 205.43 512.73 205.93 512.23 207.18 511.73 211.43 508.98 214.93 505.98 215.18 505.98 218.43 502.73 218.43 502.48 220.43 500.23 223.43 495.23 223.43 494.73 224.43 492.73 224.68 491.23 225.18 490.23 225.43 487.73 225.68 487.48 225.68 485.48 225.93 485.23 225.93 480.48 225.68 480.23 225.43 476.48 225.18 476.23 225.18 475.48 224.93 475.23 224.93 474.48 224.68 474.23 224.18 472.23 222.43 468.48 218.93 463.48 214.43 458.98 208.18 454.48 205.68 453.23 205.18 452.73 198.93 449.73 198.43 449.73 196.43 448.73 195.18 448.48 194.43 447.98 193.93 447.98 190.68 446.73 189.93 446.73 188.18 445.98 186.43 445.73 185.43 445.23 184.68 445.23 183.43 444.73 182.43 444.73 181.18 444.23 180.18 444.23 179.93 443.98 178.93 443.98 178.68 443.73 177.68 443.73 177.43 443.48 176.43 443.48 176.18 443.23 174.93 443.23 174.68 442.98 173.43 442.98 173.18 442.73 171.68 442.73 171.43 442.48 169.68 442.48 169.43 442.23 167.68 442.23 167.43 441.98 165.43 441.98 165.18 441.73 162.68 441.73 162.43 441.48 159.43 441.48 159.18 441.23 154.68 441.23 154.43 440.98 135.43 440.98 135.18 441.23 130.68 441.23 130.43 441.48 127.42 441.48 127.17 441.73 124.67 441.73 124.42 441.98 120.42 442.23 120.17 442.48 118.67 442.48 118.42 442.73 116.92 442.73 116.67 442.98 113.92 443.23 113.67 443.48 112.67 443.48 112.42 443.73 111.17 443.73 110.92 443.98 109.92 443.98 108.67 444.48 107.67 444.48 107.42 444.73 106.67 444.73 106.42 444.98 102.67 445.73 101.67 446.23 100.92 446.23 100.67 446.48 94.92 448.23 92.17 449.48 91.67 449.48 83.92 453.23 83.42 453.73 81.42 454.73 76.17 458.48 71.92 462.48 71.92 462.73 69.67 465.23 68.17 467.48 67.92 468.23 67.42 468.73 66.42 470.73 66.42 471.23 65.92 471.98 65.92 472.48 64.92 474.98 64.92 475.98 64.67 476.23 64.67 477.23 64.42 477.48 64.42 478.98Z" fill="#ff4000"/>
<path d="M73.92 476.73 73.92 478.23 73.67 478.48 73.67 485.98 73.92 486.23 73.92 487.98 74.17 488.23 74.42 490.23 74.67 490.48 75.17 492.48 75.67 493.23 75.67 493.73 76.92 496.23 80.42 500.98 82.42 502.98 82.67 502.98 84.17 504.48 88.42 507.48 89.17 507.73 89.67 508.23 90.42 508.48 90.92 508.98 96.67 511.73 97.17 511.73 99.92 512.98 100.42 512.98 103.67 514.23 104.42 514.23 105.42 514.73 106.17 514.73 107.17 515.23 107.92 515.23 108.17 515.48 108.92 515.48 110.17 515.98 111.17 515.98 111.42 516.23 112.42 516.23 112.67 516.48 113.67 516.48 113.92 516.73 114.92 516.73 115.17 516.98 116.17 516.98 116.42 517.23 119.42 517.48 119.67 517.73 121.42 517.73 121.67 517.98 123.42 517.98 123.67 518.23 125.67 518.23 125.92 518.48 128.43 518.48 128.68 518.73 132.18 518.73 132.43 518.98 138.43 518.98 138.68 519.23 152.43 519.23 152.68 518.98 158.43 518.98 158.68 518.73 162.18 518.73 162.43 518.48 167.43 518.23 167.68 517.98 169.43 517.98 169.68 517.73 172.93 517.48 173.18 517.23 174.43 517.23 174.68 516.98 175.93 516.98 176.18 516.73 179.68 516.23 179.93 515.98 180.68 515.98 180.93 515.73 181.68 515.73 181.93 515.48 185.68 514.73 185.93 514.48 186.43 514.48 187.43 513.98 188.18 513.98 188.43 513.73 190.43 513.23 191.18 512.73 192.43 512.48 193.18 511.98 194.93 511.48 202.18 507.73 207.43 503.98 211.43 499.98 213.93 496.48 215.68 492.98 215.68 492.48 216.43 490.73 216.68 488.98 216.93 488.73 217.18 485.23 217.43 484.98 217.43 479.73 217.18 479.48 217.18 477.48 216.93 477.23 216.68 474.73 216.43 474.48 215.68 471.73 215.18 470.98 215.18 470.48 212.68 466.23 210.43 463.73 210.43 463.48 206.93 460.23 203.93 457.98 201.18 456.48 200.68 455.98 195.68 453.48 195.18 453.48 193.93 452.73 191.43 451.98 190.68 451.48 190.18 451.48 187.68 450.48 186.93 450.48 185.18 449.73 184.43 449.73 184.18 449.48 183.43 449.48 183.18 449.23 182.43 449.23 182.18 448.98 181.43 448.98 180.18 448.48 179.18 448.48 178.93 448.23 177.93 448.23 177.68 447.98 176.68 447.98 176.43 447.73 173.93 447.48 173.68 447.23 172.18 447.23 171.93 446.98 170.43 446.98 170.18 446.73 168.43 446.73 168.18 446.48 166.18 446.48 165.93 446.23 163.68 446.23 163.43 445.98 160.43 445.98 160.18 445.73 155.68 445.73 155.43 445.48 135.68 445.48 135.43 445.73 130.93 445.73 130.68 445.98 124.92 446.23 124.67 446.48 122.67 446.48 122.42 446.73 118.92 446.98 118.67 447.23 115.92 447.48 115.67 447.73 114.67 447.73 114.42 447.98 113.17 447.98 111.92 448.48 110.92 448.48 110.67 448.73 109.92 448.73 109.67 448.98 105.92 449.73 104.92 450.23 104.17 450.23 103.92 450.48 99.67 451.73 98.92 452.23 96.42 452.98 94.67 453.98 94.17 453.98 91.67 455.23 91.17 455.73 89.92 456.23 85.67 458.98 83.42 460.98 83.17 460.98 79.92 464.23 77.17 467.98 74.92 472.73 74.42 475.23 74.17 475.48 74.17 476.48Z" fill="#ff0000"/>
</g>
<clipPath id="clip366"><rect x="366.6" y="406.2" width="190.80" height="182.60"/></clipPath>
<g clip-path="url(#clip366)">
<rect x="366.6" y="406.2" width="190.80" height="182.60" fill="#00f8ee"/>
<path d="M364.73 404.32 364.73 575.08 370.23 575.33 370.48 575.58 373.23 575.58 373.48 575.83 376.48 575.83 376.73 576.08 379.73 576.08 379.98 576.33 383.23 576.33 383.48 576.58 386.73 576.58 386.98 576.83 390.48 576.83 390.73 577.08 398.73 577.33 398.98 577.58 403.23 577.58 403.48 577.83 407.98 577.83 408.23 578.08 419.48 578.33 419.73 578.58 426.48 578.58 426.73 578.83 435.23 578.83 435.48 579.08 449.23 579.08 449.48 579.33 474.98 579.33 475.23 579.08 488.98 579.08 489.23 578.83 504.98 578.58 505.23 578.33 510.98 578.33 511.23 578.08 516.48 578.08 516.73 577.83 521.23 577.83 521.48 577.58 525.73 577.58 525.98 577.33 533.98 577.08 534.23 576.83 537.73 576.83 537.98 576.58 541.23 576.58 541.48 576.33 544.73 576.33 544.98 576.08 547.98 576.08 548.23 575.83 550.98 575.83 551.23 575.58 553.98 575.58 554.23 575.33 559.23 575.08 559.23 404.32Z" fill="#00ffbb"/>
<path d="M364.73 404.32 364.73 560.58 367.23 561.08 367.48 561.33 368.48 561.33 368.73 561.58 369.73 561.58 369.98 561.83 370.98 561.83 371.23 562.08 372.23 562.08 372.48 562.33 373.48 562.33 373.73 562.58 377.23 563.08 377.48 563.33 379.98 563.58 380.23 563.83 381.48 563.83 381.73 564.08 382.98 564.08 383.23 564.33 384.48 564.33 384.73 564.58 385.98 564.58 386.23 564.83 387.48 564.83 387.73 565.08 388.98 565.08 389.23 565.33 390.48 565.33 390.73 565.58 393.98 565.83 394.23 566.08 395.48 566.08 395.73 566.33 397.48 566.33 397.73 566.58 399.23 566.58 399.48 566.83 400.98 566.83 401.23 567.08 404.98 567.33 405.23 567.58 407.23 567.58 407.48 567.83 411.73 568.08 411.98 568.33 413.98 568.33 414.23 568.58 416.48 568.58 416.73 568.83 419.23 568.83 419.48 569.08 422.23 569.08 422.48 569.33 425.23 569.33 425.48 569.58 428.48 569.58 428.73 569.83 436.73 570.08 436.98 570.33 441.98 570.33 442.23 570.58 449.23 570.58 449.48 570.83 475.23 570.83 475.48 570.58 487.73 570.33 487.98 570.08 491.98 570.08 492.23 569.83 495.73 569.83 495.98 569.58 499.23 569.58 499.48 569.33 505.23 569.08 505.48 568.83 507.73 568.83 507.98 568.58 510.23 568.58 510.48 568.33 512.73 568.33 512.98 568.08 517.23 567.83 517.48 567.58 519.23 567.58 519.48 567.33 521.23 567.33 521.48 567.08 523.23 567.08 523.48 566.83 525.23 566.83 525.48 566.58 526.98 566.58 527.23 566.33 532.23 565.83 532.48 565.58 535.48 565.33 535.73 565.08 536.98 565.08 537.23 564.83 538.48 564.83 538.73 564.58 542.98 564.08 543.23 563.83 544.23 563.83 544.48 563.58 545.73 563.58 545.98 563.33 546.98 563.33 547.23 563.08 548.23 563.08 548.48 562.83 549.73 562.83 549.98 562.58 550.98 562.58 551.23 562.33 552.23 562.33 552.48 562.08 553.48 562.08 553.73 561.83 554.73 561.83 554.98 561.58 555.98 561.58 557.23 561.08 559.23 560.83 559.23 404.32Z" fill="#00ff88"/>
<path d="M364.73 419.82 364.73 542.83 365.23 542.83 366.98 543.83 367.48 543.83 368.73 544.58 369.23 544.58 369.98 545.08 370.48 545.08 371.23 545.58 371.73 545.58 374.98 547.08 376.23 547.33 376.98 547.83 378.98 548.33 379.73 548.83 380.23 548.83 380.48 549.08 380.98 549.08 381.23 549.33 381.73 549.33 387.23 551.33 387.98 551.33 390.48 552.33 391.23 552.33 393.98 553.33 395.73 553.58 396.73 554.08 397.48 554.08 397.73 554.33 398.48 554.33 398.73 554.58 399.48 554.58 399.73 554.83 400.48 554.83 400.73 555.08 401.48 555.08 402.73 555.58 403.73 555.58 403.98 555.83 404.73 555.83 405.98 556.33 408.23 556.58 409.48 557.08 410.48 557.08 410.73 557.33 411.73 557.33 411.98 557.58 412.98 557.58 413.23 557.83 414.48 557.83 414.73 558.08 415.73 558.08 415.98 558.33 417.23 558.33 417.48 558.58 418.73 558.58 418.98 558.83 420.23 558.83 420.48 559.08 421.73 559.08 421.98 559.33 423.48 559.33 423.73 559.58 425.23 559.58 425.48 559.83 426.98 559.83 427.23 560.08 428.98 560.08 429.23 560.33 430.98 560.33 431.23 560.58 433.23 560.58 433.48 560.83 435.48 560.83 435.73 561.08 438.23 561.08 438.48 561.33 441.23 561.33 441.48 561.58 444.73 561.58 444.98 561.83 448.98 561.83 449.23 562.08 455.73 562.08 455.98 562.33 468.48 562.33 468.73 562.08 475.48 562.08 475.73 561.83 483.23 561.58 483.48 561.33 486.23 561.33 486.48 561.08 488.73 561.08 488.98 560.83 491.23 560.83 491.48 560.58 493.48 560.58 493.73 560.33 497.48 560.08 497.73 559.83 499.23 559.83 499.48 559.58 500.98 559.58 501.23 559.33 502.48 559.33 502.73 559.08 504.23 559.08 504.48 558.83 507.23 558.58 507.48 558.33 508.48 558.33 508.73 558.08 509.98 558.08 510.23 557.83 511.23 557.83 511.48 557.58 512.48 557.58 512.73 557.33 513.73 557.33 513.98 557.08 517.48 556.58 518.73 556.08 519.73 556.08 519.98 555.83 520.73 555.83 520.98 555.58 521.73 555.58 522.98 555.08 523.98 555.08 525.98 554.33 526.73 554.33 526.98 554.08 529.73 553.58 530.73 553.08 531.48 553.08 532.48 552.58 533.23 552.58 534.98 551.83 535.73 551.83 535.98 551.58 536.48 551.58 538.23 550.83 538.98 550.83 539.23 550.58 543.48 549.33 544.23 548.83 546.98 548.08 547.73 547.58 548.23 547.58 550.98 546.33 552.23 546.08 553.48 545.33 553.98 545.33 554.73 544.83 555.23 544.83 558.23 543.33 559.23 543.08 559.23 419.82 558.98 419.57 558.48 419.57 558.23 419.32 557.73 419.32 557.48 419.07 556.98 419.07 551.48 417.07 550.73 417.07 548.98 416.32 548.23 416.32 547.23 415.82 545.48 415.57 544.48 415.07 543.73 415.07 543.48 414.82 542.73 414.82 542.48 414.57 541.73 414.57 541.48 414.32 540.73 414.32 540.48 414.07 539.73 414.07 539.48 413.82 538.73 413.82 538.48 413.57 537.73 413.57 537.48 413.32 536.73 413.32 535.48 412.82 534.48 412.82 533.23 412.32 532.23 412.32 530.98 411.82 529.98 411.82 529.73 411.57 528.73 411.57 528.48 411.32 527.48 411.32 527.23 411.07 526.23 411.07 525.98 410.82 524.98 410.82 524.73 410.57 523.48 410.57 523.23 410.32 522.23 410.32 521.98 410.07 520.73 410.07 520.48 409.82 519.23 409.82 518.98 409.57 517.73 409.57 517.48 409.32 516.23 409.32 515.98 409.07 514.48 409.07 514.23 408.82 512.98 408.82 512.73 408.57 511.23 408.57 510.98 408.32 509.23 408.32 508.98 408.07 505.48 407.82 505.23 407.57 503.23 407.57 502.98 407.32 501.23 407.32 500.98 407.07 496.23 406.82 495.98 406.57 490.48 406.32 490.23 406.07 486.98 406.07 486.73 405.82 482.98 405.82 482.73 405.57 477.98 405.57 477.73 405.32 469.73 405.32 469.48 405.07 454.98 405.07 454.73 405.32 446.98 405.32 446.73 405.57 441.98 405.57 441.73 405.82 437.98 405.82 437.73 406.07 431.48 406.32 431.23 406.57 428.73 406.57 428.48 406.82 425.98 406.82 425.73 407.07 421.48 407.32 421.23 407.57 419.48 407.57 419.23 407.82 415.48 408.07 415.23 408.32 410.23 408.82 409.98 409.07 408.73 409.07 408.48 409.32 407.23 409.32 406.98 409.57 405.48 409.57 405.23 409.82 404.23 409.82 403.98 410.07 401.23 410.32 400.98 410.57 399.98 410.57 399.73 410.82 398.73 410.82 398.48 411.07 397.48 411.07 397.23 411.32 396.23 411.32 395.98 411.57 392.48 412.07 391.23 412.57 390.23 412.57 389.98 412.82 389.23 412.82 387.98 413.32 386.98 413.32 386.73 413.57 385.98 413.57 385.73 413.82 381.98 414.57 380.98 415.07 380.23 415.07 378.23 415.82 376.48 416.07 374.73 416.82 373.98 416.82 371.48 417.82 370.73 417.82 370.48 418.07Z" fill="#00f038"/>
<path d="M364.73 434.57 364.73 530.33 367.73 531.83 368.23 531.83 370.98 533.33 371.48 533.33 372.73 534.08 373.23 534.08 374.48 534.83 374.98 534.83 375.73 535.33 376.23 535.33 379.48 536.83 380.73 537.08 381.48 537.58 383.48 538.08 384.23 538.58 384.73 538.58 388.73 540.08 389.48 540.08 392.73 541.33 393.48 541.33 396.23 542.33 397.98 542.58 398.98 543.08 399.73 543.08 399.98 543.33 400.73 543.33 400.98 543.58 401.73 543.58 401.98 543.83 402.73 543.83 402.98 544.08 403.73 544.08 404.98 544.58 405.98 544.58 407.23 545.08 408.23 545.08 409.48 545.58 410.48 545.58 410.73 545.83 411.73 545.83 411.98 546.08 415.48 546.58 415.73 546.83 416.98 546.83 417.23 547.08 418.48 547.08 418.73 547.33 419.98 547.33 420.23 547.58 421.48 547.58 421.73 547.83 422.98 547.83 423.23 548.08 424.73 548.08 424.98 548.33 426.48 548.33 426.73 548.58 428.23 548.58 428.48 548.83 432.48 549.08 432.73 549.33 434.73 549.33 434.98 549.58 437.23 549.58 437.48 549.83 439.98 549.83 440.23 550.08 443.23 550.08 443.48 550.33 452.48 550.58 452.73 550.83 471.73 550.83 471.98 550.58 477.23 550.58 477.48 550.33 481.23 550.33 481.48 550.08 487.23 549.83 487.48 549.58 489.73 549.58 489.98 549.33 491.98 549.33 492.23 549.08 493.98 549.08 494.23 548.83 497.98 548.58 498.23 548.33 499.73 548.33 499.98 548.08 501.23 548.08 501.48 547.83 502.98 547.83 503.23 547.58 507.48 547.08 507.73 546.83 508.73 546.83 508.98 546.58 509.98 546.58 510.23 546.33 511.48 546.33 511.73 546.08 513.98 545.83 514.23 545.58 516.23 545.33 517.48 544.83 518.48 544.83 518.73 544.58 519.48 544.58 520.73 544.08 521.73 544.08 521.98 543.83 523.73 543.58 524.73 543.08 525.48 543.08 525.73 542.83 527.48 542.58 528.48 542.08 529.23 542.08 530.23 541.58 530.98 541.58 532.73 540.83 533.48 540.83 533.73 540.58 542.48 537.83 543.23 537.33 544.48 537.08 545.23 536.58 545.73 536.58 546.48 536.08 546.98 536.08 547.73 535.58 548.23 535.58 548.98 535.08 550.73 534.58 551.98 533.83 552.48 533.83 559.23 530.58 559.23 434.32 558.73 434.07 558.23 434.07 556.48 433.07 555.98 433.07 555.23 432.57 554.73 432.57 553.98 432.07 553.48 432.07 550.23 430.57 548.23 430.07 547.48 429.57 546.98 429.57 546.73 429.32 546.23 429.32 540.73 427.32 539.98 427.32 538.23 426.57 537.48 426.57 535.73 425.82 533.98 425.57 532.98 425.07 532.23 425.07 531.98 424.82 531.23 424.82 530.98 424.57 530.23 424.57 529.98 424.32 529.23 424.32 528.98 424.07 528.23 424.07 527.98 423.82 527.23 423.82 526.98 423.57 526.23 423.57 524.98 423.07 523.98 423.07 522.73 422.57 521.73 422.57 521.48 422.32 520.48 422.32 519.23 421.82 518.23 421.82 517.98 421.57 516.98 421.57 516.73 421.32 515.48 421.32 515.23 421.07 514.23 421.07 513.98 420.82 512.73 420.82 512.48 420.57 511.48 420.57 511.23 420.32 508.23 420.07 507.98 419.82 504.98 419.57 504.73 419.32 503.23 419.32 502.98 419.07 501.48 419.07 501.23 418.82 497.48 418.57 497.23 418.32 495.23 418.32 494.98 418.07 492.98 418.07 492.73 417.82 490.23 417.82 489.98 417.57 487.48 417.57 487.23 417.32 484.23 417.32 483.98 417.07 475.48 416.82 475.23 416.57 458.48 416.32 458.23 416.57 449.48 416.57 449.23 416.82 444.48 416.82 444.23 417.07 440.73 417.07 440.48 417.32 434.48 417.57 434.23 417.82 431.98 417.82 431.73 418.07 429.73 418.07 429.48 418.32 427.48 418.32 427.23 418.57 425.48 418.57 425.23 418.82 421.48 419.07 421.23 419.32 419.73 419.32 419.48 419.57 416.48 419.82 416.23 420.07 411.98 420.57 411.73 420.82 410.73 420.82 410.48 421.07 409.23 421.07 408.98 421.32 407.98 421.32 407.73 421.57 406.73 421.57 406.48 421.82 402.98 422.32 401.73 422.82 400.73 422.82 400.48 423.07 399.73 423.07 398.48 423.57 397.48 423.57 397.23 423.82 393.48 424.57 392.48 425.07 390.73 425.32 389.73 425.82 388.98 425.82 387.98 426.32 387.23 426.32 386.23 426.82 385.48 426.82 385.23 427.07 384.73 427.07 384.48 427.32 375.73 430.07 374.98 430.57 373.73 430.82 372.98 431.32 372.48 431.32 371.73 431.82 371.23 431.82 370.48 432.32 368.73 432.82 365.23 434.57Z" fill="#20f400"/>
<path d="M364.73 453.32 364.73 511.07 367.23 513.33 372.23 517.08 375.23 519.08 378.48 520.83 378.98 521.33 380.23 521.83 380.73 522.33 389.23 526.58 389.73 526.58 393.23 528.33 393.73 528.33 395.73 529.33 396.98 529.58 397.73 530.08 398.98 530.33 399.73 530.83 400.23 530.83 405.73 532.83 406.48 532.83 408.23 533.58 408.98 533.58 411.73 534.58 412.48 534.58 412.73 534.83 413.48 534.83 413.73 535.08 414.48 535.08 414.73 535.33 415.48 535.33 415.73 535.58 416.48 535.58 416.73 535.83 417.48 535.83 418.73 536.33 419.73 536.33 420.98 536.83 421.98 536.83 422.23 537.08 423.23 537.08 423.48 537.33 424.48 537.33 424.73 537.58 425.98 537.58 426.23 537.83 427.23 537.83 427.48 538.08 428.73 538.08 428.98 538.33 430.23 538.33 430.48 538.58 431.73 538.58 431.98 538.83 433.48 538.83 433.73 539.08 435.23 539.08 435.48 539.33 439.23 539.58 439.48 539.83 441.73 539.83 441.98 540.08 444.23 540.08 444.48 540.33 447.48 540.33 447.73 540.58 451.48 540.58 451.73 540.83 458.98 540.83 459.23 541.08 472.73 540.83 472.98 540.58 476.98 540.58 477.23 540.33 479.98 540.33 480.23 540.08 482.73 540.08 482.98 539.83 484.98 539.83 485.23 539.58 487.23 539.58 487.48 539.33 488.98 539.33 489.23 539.08 490.98 539.08 491.23 538.83 494.23 538.58 494.48 538.33 497.23 538.08 497.48 537.83 498.48 537.83 498.73 537.58 499.73 537.58 499.98 537.33 500.98 537.33 501.23 537.08 504.73 536.58 505.98 536.08 506.98 536.08 507.23 535.83 507.98 535.83 508.23 535.58 511.98 534.83 512.98 534.33 514.73 534.08 516.48 533.33 517.23 533.33 519.73 532.33 520.48 532.33 520.73 532.08 523.48 531.33 524.23 530.83 526.23 530.33 526.98 529.83 528.23 529.58 528.98 529.08 529.48 529.08 530.23 528.58 531.98 528.08 542.98 522.83 543.48 522.33 545.23 521.58 545.73 521.08 548.98 519.33 555.48 514.83 559.23 511.57 559.23 452.82 556.98 451.07 553.23 448.57 551.23 447.57 550.73 447.07 541.48 442.32 540.98 442.32 539.23 441.32 538.73 441.32 537.98 440.82 537.48 440.82 534.23 439.32 532.98 439.07 532.23 438.57 531.73 438.57 531.48 438.32 530.98 438.32 525.48 436.32 524.73 436.32 524.48 436.07 522.98 435.82 521.98 435.32 521.23 435.32 520.23 434.82 519.48 434.82 519.23 434.57 518.48 434.57 518.23 434.32 517.48 434.32 517.23 434.07 516.48 434.07 516.23 433.82 515.48 433.82 515.23 433.57 514.48 433.57 513.23 433.07 512.23 433.07 510.98 432.57 509.98 432.57 509.73 432.32 508.73 432.32 508.48 432.07 507.48 432.07 507.23 431.82 506.23 431.82 505.98 431.57 504.98 431.57 504.73 431.32 503.48 431.32 503.23 431.07 501.98 431.07 501.73 430.82 500.48 430.82 500.23 430.57 498.98 430.57 498.73 430.32 497.23 430.32 496.98 430.07 495.48 430.07 495.23 429.82 493.73 429.82 493.48 429.57 489.48 429.32 489.23 429.07 487.23 429.07 486.98 428.82 484.48 428.82 484.23 428.57 477.98 428.32 477.73 428.07 472.98 428.07 472.73 427.82 451.73 427.82 451.48 428.07 446.98 428.07 446.73 428.32 443.48 428.32 443.23 428.57 437.73 428.82 437.48 429.07 433.23 429.32 432.98 429.57 431.23 429.57 430.98 429.82 429.23 429.82 428.98 430.07 427.48 430.07 427.23 430.32 425.98 430.32 425.73 430.57 424.23 430.57 423.98 430.82 421.23 431.07 420.98 431.32 419.98 431.32 419.73 431.57 417.23 431.82 416.98 432.07 415.98 432.07 414.73 432.57 412.48 432.82 412.23 433.07 411.48 433.07 410.23 433.57 409.23 433.57 408.98 433.82 406.23 434.32 405.23 434.82 403.48 435.07 400.73 436.07 399.98 436.07 399.73 436.32 391.73 438.82 390.98 439.32 389.73 439.57 388.98 440.07 388.48 440.07 387.73 440.57 385.98 441.07 384.73 441.82 384.23 441.82 376.98 445.32 376.48 445.82 374.73 446.57 374.23 447.07 370.98 448.82Z" fill="#d8ff00"/>
<path d="M364.73 466.57 364.73 502.07 369.73 507.07 369.98 507.07 371.23 508.32 374.23 510.57 379.23 513.83 386.73 517.83 387.23 517.83 389.48 519.08 389.98 519.08 392.98 520.58 394.23 520.83 396.23 521.83 398.23 522.33 398.98 522.83 399.48 522.83 401.98 523.83 402.73 523.83 402.98 524.08 403.48 524.08 405.23 524.83 405.98 524.83 406.98 525.33 407.73 525.33 408.73 525.83 409.48 525.83 409.73 526.08 410.48 526.08 410.73 526.33 411.48 526.33 411.73 526.58 412.48 526.58 412.73 526.83 413.48 526.83 413.73 527.08 414.48 527.08 415.73 527.58 416.73 527.58 417.98 528.08 418.98 528.08 419.23 528.33 422.73 528.83 422.98 529.08 424.23 529.08 424.48 529.33 426.98 529.58 427.23 529.83 428.73 529.83 428.98 530.08 430.23 530.08 430.48 530.33 431.98 530.33 432.23 530.58 433.98 530.58 434.23 530.83 435.98 530.83 436.23 531.08 438.23 531.08 438.48 531.33 440.73 531.33 440.98 531.58 443.48 531.58 443.73 531.83 450.98 532.08 451.23 532.33 465.48 532.58 465.73 532.33 473.48 532.33 473.73 532.08 477.73 532.08 477.98 531.83 483.73 531.58 483.98 531.33 486.23 531.33 486.48 531.08 490.48 530.83 490.73 530.58 492.23 530.58 492.48 530.33 493.98 530.33 494.23 530.08 495.73 530.08 495.98 529.83 500.23 529.33 500.48 529.08 501.48 529.08 501.73 528.83 502.98 528.83 503.23 528.58 505.48 528.33 505.73 528.08 507.73 527.83 508.98 527.33 509.98 527.33 510.23 527.08 510.98 527.08 511.23 526.83 514.98 526.08 515.98 525.58 516.73 525.58 517.73 525.08 518.48 525.08 519.48 524.58 520.23 524.58 520.48 524.33 527.73 522.08 528.48 521.58 529.73 521.33 530.48 520.83 532.23 520.33 533.48 519.58 533.98 519.58 535.23 518.83 535.73 518.83 543.23 515.08 543.73 514.58 546.23 513.33 550.73 510.32 553.73 507.82 553.98 507.82 555.48 506.32 555.73 506.32 559.23 502.82 559.23 465.82 555.23 461.82 554.98 461.82 553.73 460.57 547.48 456.07 546.73 455.82 545.48 454.82 537.98 450.82 537.48 450.82 535.23 449.57 534.73 449.57 530.48 447.57 529.23 447.32 528.48 446.82 527.23 446.57 526.48 446.07 525.98 446.07 521.23 444.32 520.48 444.32 518.73 443.57 517.98 443.57 516.98 443.07 515.23 442.82 514.23 442.32 513.48 442.32 513.23 442.07 512.48 442.07 512.23 441.82 511.48 441.82 510.23 441.32 509.23 441.32 507.98 440.82 506.98 440.82 505.73 440.32 503.48 440.07 503.23 439.82 501.98 439.82 501.73 439.57 500.73 439.57 500.48 439.32 499.23 439.32 498.98 439.07 497.73 439.07 497.48 438.82 496.23 438.82 495.98 438.57 494.73 438.57 494.48 438.32 492.98 438.32 492.73 438.07 490.98 438.07 490.73 437.82 486.98 437.57 486.73 437.32 481.73 437.07 481.48 436.82 478.48 436.82 478.23 436.57 474.48 436.57 474.23 436.32 468.23 436.32 467.98 436.07 456.48 436.07 456.23 436.32 446.23 436.57 445.98 436.82 443.23 436.82 442.98 437.07 440.48 437.07 440.23 437.32 437.98 437.32 437.73 437.57 433.73 437.82 433.48 438.07 431.98 438.07 431.73 438.32 430.23 438.32 429.98 438.57 428.48 438.57 428.23 438.82 425.48 439.07 425.23 439.32 424.23 439.32 423.98 439.57 422.73 439.57 422.48 439.82 421.48 439.82 421.23 440.07 417.73 440.57 416.48 441.07 415.48 441.07 415.23 441.32 414.48 441.32 414.23 441.57 413.48 441.57 413.23 441.82 409.48 442.57 408.48 443.07 406.73 443.32 404.98 444.07 404.23 444.07 403.98 444.32 397.48 446.32 396.73 446.82 395.48 447.07 394.73 447.57 393.48 447.82 392.23 448.57 390.48 449.07 388.73 450.07 388.23 450.07 379.98 454.32 379.48 454.82 378.73 455.07 377.48 456.07 375.23 457.32 374.48 458.07 371.48 460.07 370.23 461.32 369.98 461.32 367.98 463.32 367.73 463.32Z" fill="#f0ff00"/>
<path d="M380.98 479.82 380.98 482.57 380.73 482.82 380.98 489.07 381.23 489.32 381.23 490.57 381.48 490.82 381.73 492.57 381.98 492.82 382.48 494.82 382.98 495.57 382.98 496.07 384.73 499.32 386.98 502.32 390.98 506.32 394.98 509.32 395.73 509.57 398.23 511.32 405.48 514.83 405.98 514.83 408.73 516.08 409.23 516.08 413.23 517.58 415.73 518.08 416.73 518.58 417.48 518.58 417.73 518.83 418.48 518.83 419.73 519.33 420.73 519.33 421.98 519.83 425.48 520.33 425.73 520.58 429.98 521.08 430.23 521.33 431.73 521.33 431.98 521.58 433.48 521.58 433.73 521.83 435.48 521.83 435.73 522.08 437.73 522.08 437.98 522.33 443.48 522.58 443.73 522.83 447.48 522.83 447.73 523.08 454.48 523.08 454.73 523.33 469.98 523.33 470.23 523.08 476.73 523.08 476.98 522.83 480.73 522.83 480.98 522.58 483.98 522.58 484.23 522.33 488.98 522.08 489.23 521.83 490.98 521.83 491.23 521.58 494.48 521.33 494.73 521.08 495.98 521.08 496.23 520.83 497.48 520.83 497.73 520.58 498.73 520.58 498.98 520.33 500.23 520.33 500.48 520.08 501.48 520.08 502.73 519.58 503.73 519.58 503.98 519.33 504.73 519.33 504.98 519.08 508.73 518.33 509.73 517.83 510.48 517.83 510.73 517.58 511.23 517.58 512.23 517.08 512.98 517.08 513.23 516.83 514.48 516.58 515.23 516.08 517.23 515.58 517.98 515.08 519.73 514.58 521.48 513.58 521.98 513.58 528.48 510.07 532.73 507.07 536.98 503.07 540.48 498.32 541.73 495.82 541.73 495.32 542.23 494.57 542.23 494.07 542.98 492.32 543.23 490.32 543.48 490.07 543.48 488.32 543.73 488.07 543.73 480.57 543.48 480.32 543.48 478.82 543.23 478.57 543.23 477.57 542.98 477.32 542.48 474.82 540.23 470.07 537.73 466.57 533.73 462.57 528.23 458.57 524.73 456.82 524.23 456.32 522.73 455.57 522.23 455.57 520.48 454.57 519.98 454.57 518.73 453.82 518.23 453.82 515.48 452.57 514.98 452.57 512.48 451.57 511.73 451.57 509.98 450.82 509.23 450.82 508.23 450.32 507.48 450.32 507.23 450.07 506.48 450.07 506.23 449.82 505.48 449.82 504.23 449.32 503.23 449.32 501.98 448.82 500.98 448.82 500.73 448.57 499.73 448.57 499.48 448.32 498.23 448.32 497.98 448.07 496.73 448.07 496.48 447.82 495.23 447.82 494.98 447.57 493.73 447.57 493.48 447.32 489.98 447.07 489.73 446.82 487.73 446.82 487.48 446.57 485.23 446.57 484.98 446.32 482.48 446.32 482.23 446.07 478.73 446.07 478.48 445.82 473.48 445.82 473.23 445.57 451.23 445.57 450.98 445.82 445.98 445.82 445.73 446.07 439.48 446.32 439.23 446.57 436.98 446.57 436.73 446.82 434.98 446.82 434.73 447.07 432.98 447.07 432.73 447.32 429.48 447.57 429.23 447.82 427.98 447.82 427.73 448.07 426.48 448.07 426.23 448.32 425.23 448.32 424.98 448.57 421.48 449.07 421.23 449.32 420.48 449.32 420.23 449.57 419.48 449.57 419.23 449.82 415.48 450.57 414.48 451.07 413.73 451.07 413.48 451.32 408.48 452.82 407.73 453.32 407.23 453.32 405.23 454.32 404.73 454.32 403.48 455.07 402.98 455.07 397.23 458.07 392.73 461.07 389.98 463.57 389.73 463.57 386.48 467.07 384.23 470.32 382.23 474.57 381.98 476.07 381.48 477.07 381.23 479.57Z" fill="#ff8c00"/>
<path d="M391.98 479.57 391.73 485.32 391.98 485.57 392.23 489.32 392.48 489.57 392.48 490.32 392.73 490.57 393.23 492.57 394.48 495.07 396.23 497.57 400.23 501.57 403.73 504.07 410.48 507.57 410.98 507.57 412.98 508.57 413.48 508.57 418.98 510.57 419.73 510.57 419.98 510.82 420.73 510.82 420.98 511.07 421.73 511.07 421.98 511.32 422.73 511.32 422.98 511.57 423.73 511.57 424.98 512.08 425.98 512.08 426.23 512.33 427.23 512.33 427.48 512.58 428.48 512.58 428.73 512.83 429.98 512.83 430.23 513.08 431.48 513.08 431.73 513.33 433.23 513.33 433.48 513.58 434.98 513.58 435.23 513.83 436.98 513.83 437.23 514.08 441.98 514.33 442.23 514.58 445.23 514.58 445.48 514.83 449.73 514.83 449.98 515.08 474.48 515.08 474.73 514.83 479.23 514.83 479.48 514.58 485.23 514.33 485.48 514.08 489.48 513.83 489.73 513.58 491.23 513.58 491.48 513.33 492.98 513.33 493.23 513.08 494.48 513.08 494.73 512.83 495.73 512.83 495.98 512.58 498.48 512.33 499.73 511.82 500.73 511.82 500.98 511.57 504.73 510.82 505.73 510.32 506.48 510.32 506.73 510.07 510.98 508.82 511.73 508.32 513.48 507.82 514.73 507.07 515.23 507.07 518.73 505.32 519.23 504.82 520.48 504.32 522.73 502.82 524.73 501.07 524.98 501.07 527.98 498.07 529.98 495.32 531.48 492.32 531.48 491.82 531.98 490.82 531.98 490.07 532.23 489.82 532.23 489.07 532.48 488.82 532.48 487.32 532.73 487.07 532.73 480.32 532.48 480.07 532.23 477.57 531.98 477.32 531.48 475.32 529.98 472.32 528.23 469.82 524.73 466.32 521.73 464.07 514.23 460.07 513.73 460.07 511.73 459.07 510.48 458.82 509.73 458.32 509.23 458.32 508.23 457.82 507.48 457.82 505.73 457.07 504.98 457.07 503.98 456.57 503.23 456.57 502.98 456.32 502.23 456.32 500.98 455.82 499.98 455.82 498.73 455.32 497.73 455.32 497.48 455.07 496.23 455.07 495.98 454.82 493.48 454.57 493.23 454.32 491.73 454.32 491.48 454.07 489.98 454.07 489.73 453.82 485.73 453.57 485.48 453.32 483.23 453.32 482.98 453.07 480.23 453.07 479.98 452.82 475.98 452.82 475.73 452.57 457.48 452.32 457.23 452.57 448.98 452.57 448.73 452.82 441.48 453.07 441.23 453.32 436.73 453.57 436.48 453.82 434.73 453.82 434.48 454.07 432.98 454.07 432.73 454.32 428.48 454.82 428.23 455.07 424.73 455.57 424.48 455.82 423.73 455.82 423.48 456.07 419.73 456.82 418.73 457.32 417.98 457.32 417.73 457.57 413.48 458.82 412.73 459.32 410.98 459.82 409.23 460.82 408.73 460.82 404.48 463.07 400.48 465.82 397.23 468.82 394.48 472.57 393.23 475.07 393.23 475.57 392.48 477.32 392.48 478.07 392.23 478.32 392.23 479.32Z" fill="#ff4400"/>
<path d="M402.73 480.32 402.73 487.07 402.98 487.32 402.98 488.32 403.23 488.57 403.73 490.57 405.98 494.32 408.73 497.07 411.48 499.07 416.73 501.82 417.23 501.82 419.23 502.82 419.73 502.82 423.73 504.32 424.48 504.32 424.73 504.57 425.48 504.57 425.73 504.82 426.48 504.82 426.73 505.07 427.48 505.07 428.73 505.57 429.73 505.57 429.98 505.82 430.98 505.82 431.23 506.07 432.23 506.07 432.48 506.32 433.73 506.32 433.98 506.57 437.23 506.82 437.48 507.07 441.48 507.32 441.73 507.57 444.48 507.57 444.73 507.82 447.98 507.82 448.23 508.07 454.48 508.07 454.73 508.32 469.73 508.32 469.98 508.07 476.23 508.07 476.48 507.82 479.98 507.82 480.23 507.57 485.23 507.32 485.48 507.07 487.23 507.07 487.48 506.82 488.98 506.82 489.23 506.57 493.48 506.07 493.73 505.82 494.73 505.82 494.98 505.57 496.98 505.32 497.23 505.07 499.98 504.57 500.98 504.07 501.73 504.07 501.98 503.82 504.73 503.07 505.48 502.57 506.73 502.32 510.98 500.32 511.48 499.82 512.73 499.32 514.23 498.32 516.48 496.32 516.73 496.32 517.98 495.07 519.98 492.32 520.98 490.32 520.98 489.82 521.48 488.82 521.48 488.07 521.73 487.82 521.73 486.57 521.98 486.32 521.98 481.07 521.73 480.82 521.73 479.32 521.48 479.07 521.48 478.32 521.23 478.07 520.98 476.82 519.98 474.82 518.98 473.32 515.48 469.82 512.23 467.57 505.98 464.57 505.48 464.57 500.73 462.82 499.98 462.82 499.73 462.57 498.98 462.57 498.73 462.32 497.98 462.32 497.73 462.07 496.98 462.07 495.73 461.57 494.73 461.57 494.48 461.32 493.48 461.32 493.23 461.07 491.98 461.07 491.73 460.82 490.48 460.82 490.23 460.57 488.98 460.57 488.73 460.32 484.98 460.07 484.73 459.82 479.48 459.57 479.23 459.32 475.48 459.32 475.23 459.07 457.48 458.82 457.23 459.07 449.23 459.07 448.98 459.32 445.23 459.32 444.98 459.57 442.23 459.57 441.98 459.82 439.98 459.82 439.73 460.07 437.73 460.07 437.48 460.32 435.98 460.32 435.73 460.57 432.73 460.82 432.48 461.07 428.98 461.57 428.73 461.82 426.73 462.07 424.73 462.82 423.98 462.82 422.98 463.32 422.23 463.32 421.98 463.57 419.98 464.07 419.23 464.57 418.73 464.57 417.98 465.07 417.48 465.07 416.73 465.57 416.23 465.57 413.23 467.07 408.48 470.32 406.23 472.57 404.48 475.07 403.73 476.57 403.73 477.07 403.23 478.07 403.23 478.82 402.98 479.07 402.98 480.07Z" fill="#ff0000"/>
</g>
<rect x="48.8" y="405.6" width="191.70" height="183.00" fill="none" stroke="#333" stroke-width="1"/>
<line x1="53.60" y1="588.6" x2="53.60" y2="592.6" stroke="#222" stroke-width="1"/>
<line x1="68.78" y1="588.6" x2="68.78" y2="590.8000000000001" stroke="#222" stroke-width="1"/>
<line x1="83.95" y1="588.6" x2="83.95" y2="592.6" stroke="#222" stroke-width="1"/>
<line x1="99.12" y1="588.6" x2="99.12" y2="590.8000000000001" stroke="#222" stroke-width="1"/>
<line x1="114.30" y1="588.6" x2="114.30" y2="592.6" stroke="#222" stroke-width="1"/>
<line x1="129.47" y1="588.6" x2="129.47" y2="590.8000000000001" stroke="#222" stroke-width="1"/>
<line x1="144.65" y1="588.6" x2="144.65" y2="592.6" stroke="#222" stroke-width="1"/>
<line x1="159.83" y1="588.6" x2="159.83" y2="590.8000000000001" stroke="#222" stroke-width="1"/>
<line x1="175.00" y1="588.6" x2="175.00" y2="592.6" stroke="#222" stroke-width="1"/>
<line x1="190.18" y1="588.6" x2="190.18" y2="590.8000000000001" stroke="#222" stroke-width="1"/>
<line x1="205.35" y1="588.6" x2="205.35" y2="592.6" stroke="#222" stroke-width="1"/>
<line x1="220.53" y1="588.6" x2="220.53" y2="590.8000000000001" stroke="#222" stroke-width="1"/>
<line x1="235.70" y1="588.6" x2="235.70" y2="592.6" stroke="#222" stroke-width="1"/>
<line x1="48.8" y1="575.62" x2="46.599999999999994" y2="575.62" stroke="#222" stroke-width="1"/>
<line x1="48.8" y1="560.00" x2="44.8" y2="560.00" stroke="#222" stroke-width="1"/>
<line x1="48.8" y1="544.38" x2="46.599999999999994" y2="544.38" stroke="#222" stroke-width="1"/>
<line x1="48.8" y1="528.75" x2="44.8" y2="528.75" stroke="#222" stroke-width="1"/>
<line x1="48.8" y1="513.12" x2="46.599999999999994" y2="513.12" stroke="#222" stroke-width="1"/>
<line x1="48.8" y1="497.50" x2="44.8" y2="497.50" stroke="#222" stroke-width="1"/>
<line x1="48.8" y1="481.88" x2="46.599999999999994" y2="481.88" stroke="#222" stroke-width="1"/>
<line x1="48.8" y1="466.25" x2="44.8" y2="466.25" stroke="#222" stroke-width="1"/>
<line x1="48.8" y1="450.62" x2="46.599999999999994" y2="450.62" stroke="#222" stroke-width="1"/>
<line x1="48.8" y1="435.00" x2="44.8" y2="435.00" stroke="#222" stroke-width="1"/>
<line x1="48.8" y1="419.38" x2="46.599999999999994" y2="419.38" stroke="#222" stroke-width="1"/>
<text x="53.80" y="606.6" text-anchor="middle" font-size="14.5" font-weight="bold">-15</text>
<text x="84.15" y="606.6" text-anchor="middle" font-size="14.5" font-weight="bold">-10</text>
<text x="114.50" y="606.6" text-anchor="middle" font-size="14.5" font-weight="bold">-5</text>
<text x="144.85" y="606.6" text-anchor="middle" font-size="14.5" font-weight="bold">0</text>
<text x="175.20" y="606.6" text-anchor="middle" font-size="14.5" font-weight="bold">5</text>
<text x="205.55" y="606.6" text-anchor="middle" font-size="14.5" font-weight="bold">10</text>
<text x="235.90" y="606.6" text-anchor="middle" font-size="14.5" font-weight="bold">15</text>
<text x="42.60" y="440.20" text-anchor="end" font-size="15" font-weight="bold">10</text>
<text x="42.60" y="471.45" text-anchor="end" font-size="15" font-weight="bold">5</text>
<text x="42.60" y="502.70" text-anchor="end" font-size="15" font-weight="bold">0</text>
<text x="42.60" y="533.95" text-anchor="end" font-size="15" font-weight="bold">-5</text>
<text x="42.60" y="565.20" text-anchor="end" font-size="15" font-weight="bold">-10</text>
<text x="101.10" y="621.2" font-size="15" font-weight="bold">Length (cm)</text>
<text transform="translate(22.60,496.3) rotate(-90)" text-anchor="middle" font-size="15.3" font-weight="bold">Height (cm)</text>
<text x="9.20" y="622.6" font-size="18" font-weight="bold">(c)</text>
<defs><linearGradient id="rbc" x1="0" y1="0" x2="0" y2="1"><stop offset="0.0000" stop-color="#ff0000"/><stop offset="0.0305" stop-color="#ff0000"/><stop offset="0.0697" stop-color="#ff2000"/><stop offset="0.1020" stop-color="#ff4000"/><stop offset="0.1294" stop-color="#ff6000"/><stop offset="0.1569" stop-color="#ff8000"/><stop offset="0.1882" stop-color="#ffa000"/><stop offset="0.2127" stop-color="#ffc000"/><stop offset="0.2362" stop-color="#ffd800"/><stop offset="0.2568" stop-color="#ffe800"/><stop offset="0.2745" stop-color="#ffff00"/><stop offset="0.3087" stop-color="#e0ff00"/><stop offset="0.3430" stop-color="#b0ff00"/><stop offset="0.3734" stop-color="#90ff00"/><stop offset="0.4116" stop-color="#60ff00"/><stop offset="0.4459" stop-color="#30ff00"/><stop offset="0.4812" stop-color="#00ff00"/><stop offset="0.5521" stop-color="#00ff40"/><stop offset="0.6164" stop-color="#00ff80"/><stop offset="0.6811" stop-color="#00ffc0"/><stop offset="0.7369" stop-color="#00ffff"/><stop offset="0.7888" stop-color="#00e0ff"/><stop offset="0.8192" stop-color="#00c0ff"/><stop offset="0.8496" stop-color="#00a0ff"/><stop offset="0.8751" stop-color="#0080ff"/><stop offset="0.9054" stop-color="#0050ff"/><stop offset="0.9309" stop-color="#0020f4"/><stop offset="0.9574" stop-color="#0000f0"/><stop offset="0.9809" stop-color="#0000ee"/><stop offset="1.0000" stop-color="#0000e8"/></linearGradient></defs>
<rect x="246.3" y="405.7" width="31.50" height="183.10" fill="url(#rbc)" stroke="#333" stroke-width="1"/>
<line x1="274.30" y1="405.90" x2="277.8" y2="405.90" stroke="#333" stroke-width="1"/>
<text x="282.60" y="409.90" font-size="11.2" font-weight="bold" transform="translate(282.60,0) scale(1.08,1) translate(-282.60,0)">1E+18</text>
<line x1="274.30" y1="441.78" x2="277.8" y2="441.78" stroke="#333" stroke-width="1"/>
<text x="282.60" y="445.78" font-size="11.2" font-weight="bold" transform="translate(282.60,0) scale(1.08,1) translate(-282.60,0)">8E+17</text>
<line x1="274.30" y1="477.66" x2="277.8" y2="477.66" stroke="#333" stroke-width="1"/>
<text x="282.60" y="481.66" font-size="11.2" font-weight="bold" transform="translate(282.60,0) scale(1.08,1) translate(-282.60,0)">6E+17</text>
<line x1="274.30" y1="513.54" x2="277.8" y2="513.54" stroke="#333" stroke-width="1"/>
<text x="282.60" y="517.54" font-size="11.2" font-weight="bold" transform="translate(282.60,0) scale(1.08,1) translate(-282.60,0)">4E+17</text>
<line x1="274.30" y1="549.42" x2="277.8" y2="549.42" stroke="#333" stroke-width="1"/>
<text x="282.60" y="553.42" font-size="11.2" font-weight="bold" transform="translate(282.60,0) scale(1.08,1) translate(-282.60,0)">2E+17</text>
<line x1="274.30" y1="585.30" x2="277.8" y2="585.30" stroke="#333" stroke-width="1"/>
<text x="282.60" y="589.30" font-size="11.2" font-weight="bold" transform="translate(282.60,0) scale(1.08,1) translate(-282.60,0)">0</text>
<text x="240.6" y="393.6" font-size="13.5" font-weight="bold">n<tspan dy="4" font-size="9.5">e</tspan><tspan dy="-4">(m</tspan><tspan dy="-5.5" font-size="9.5">-3</tspan><tspan dy="5.5">)</tspan></text>
<rect x="366.6" y="406.2" width="190.80" height="182.60" fill="none" stroke="#333" stroke-width="1"/>
<line x1="371.30" y1="588.8" x2="371.30" y2="592.8" stroke="#222" stroke-width="1"/>
<line x1="386.48" y1="588.8" x2="386.48" y2="591.0" stroke="#222" stroke-width="1"/>
<line x1="401.65" y1="588.8" x2="401.65" y2="592.8" stroke="#222" stroke-width="1"/>
<line x1="416.83" y1="588.8" x2="416.83" y2="591.0" stroke="#222" stroke-width="1"/>
<line x1="432.00" y1="588.8" x2="432.00" y2="592.8" stroke="#222" stroke-width="1"/>
<line x1="447.18" y1="588.8" x2="447.18" y2="591.0" stroke="#222" stroke-width="1"/>
<line x1="462.35" y1="588.8" x2="462.35" y2="592.8" stroke="#222" stroke-width="1"/>
<line x1="477.53" y1="588.8" x2="477.53" y2="591.0" stroke="#222" stroke-width="1"/>
<line x1="492.70" y1="588.8" x2="492.70" y2="592.8" stroke="#222" stroke-width="1"/>
<line x1="507.88" y1="588.8" x2="507.88" y2="591.0" stroke="#222" stroke-width="1"/>
<line x1="523.05" y1="588.8" x2="523.05" y2="592.8" stroke="#222" stroke-width="1"/>
<line x1="538.23" y1="588.8" x2="538.23" y2="591.0" stroke="#222" stroke-width="1"/>
<line x1="553.40" y1="588.8" x2="553.40" y2="592.8" stroke="#222" stroke-width="1"/>
<line x1="366.6" y1="575.62" x2="364.40000000000003" y2="575.62" stroke="#222" stroke-width="1"/>
<line x1="366.6" y1="560.00" x2="362.6" y2="560.00" stroke="#222" stroke-width="1"/>
<line x1="366.6" y1="544.38" x2="364.40000000000003" y2="544.38" stroke="#222" stroke-width="1"/>
<line x1="366.6" y1="528.75" x2="362.6" y2="528.75" stroke="#222" stroke-width="1"/>
<line x1="366.6" y1="513.12" x2="364.40000000000003" y2="513.12" stroke="#222" stroke-width="1"/>
<line x1="366.6" y1="497.50" x2="362.6" y2="497.50" stroke="#222" stroke-width="1"/>
<line x1="366.6" y1="481.88" x2="364.40000000000003" y2="481.88" stroke="#222" stroke-width="1"/>
<line x1="366.6" y1="466.25" x2="362.6" y2="466.25" stroke="#222" stroke-width="1"/>
<line x1="366.6" y1="450.62" x2="364.40000000000003" y2="450.62" stroke="#222" stroke-width="1"/>
<line x1="366.6" y1="435.00" x2="362.6" y2="435.00" stroke="#222" stroke-width="1"/>
<line x1="366.6" y1="419.38" x2="364.40000000000003" y2="419.38" stroke="#222" stroke-width="1"/>
<text x="371.50" y="606.6" text-anchor="middle" font-size="14.5" font-weight="bold">-15</text>
<text x="401.85" y="606.6" text-anchor="middle" font-size="14.5" font-weight="bold">-10</text>
<text x="432.20" y="606.6" text-anchor="middle" font-size="14.5" font-weight="bold">-5</text>
<text x="462.55" y="606.6" text-anchor="middle" font-size="14.5" font-weight="bold">0</text>
<text x="492.90" y="606.6" text-anchor="middle" font-size="14.5" font-weight="bold">5</text>
<text x="523.25" y="606.6" text-anchor="middle" font-size="14.5" font-weight="bold">10</text>
<text x="553.60" y="606.6" text-anchor="middle" font-size="14.5" font-weight="bold">15</text>
<text x="360.30" y="440.20" text-anchor="end" font-size="15" font-weight="bold">10</text>
<text x="360.30" y="471.45" text-anchor="end" font-size="15" font-weight="bold">5</text>
<text x="360.30" y="502.70" text-anchor="end" font-size="15" font-weight="bold">0</text>
<text x="360.30" y="533.95" text-anchor="end" font-size="15" font-weight="bold">-5</text>
<text x="360.30" y="565.20" text-anchor="end" font-size="15" font-weight="bold">-10</text>
<text x="418.80" y="621.2" font-size="15" font-weight="bold">Length (cm)</text>
<text transform="translate(340.30,496.3) rotate(-90)" text-anchor="middle" font-size="15.3" font-weight="bold">Height (cm)</text>
<text x="326.90" y="622.6" font-size="18" font-weight="bold">(d)</text>
<defs><linearGradient id="rbd" x1="0" y1="0" x2="0" y2="1"><stop offset="0.0188" stop-color="#ff0000"/><stop offset="0.0502" stop-color="#ff0000"/><stop offset="0.0894" stop-color="#ff2000"/><stop offset="0.1217" stop-color="#ff4000"/><stop offset="0.1492" stop-color="#ff6000"/><stop offset="0.1766" stop-color="#ff8000"/><stop offset="0.2080" stop-color="#ffa000"/><stop offset="0.2325" stop-color="#ffc000"/><stop offset="0.2560" stop-color="#ffd800"/><stop offset="0.2766" stop-color="#ffe800"/><stop offset="0.2943" stop-color="#ffff00"/><stop offset="0.3286" stop-color="#e0ff00"/><stop offset="0.3629" stop-color="#b0ff00"/><stop offset="0.3933" stop-color="#90ff00"/><stop offset="0.4315" stop-color="#60ff00"/><stop offset="0.4658" stop-color="#30ff00"/><stop offset="0.5011" stop-color="#00ff00"/><stop offset="0.5721" stop-color="#00ff40"/><stop offset="0.6364" stop-color="#00ff80"/><stop offset="0.7011" stop-color="#00ffc0"/><stop offset="0.7570" stop-color="#00ffff"/><stop offset="0.8089" stop-color="#00e0ff"/><stop offset="0.8393" stop-color="#00c0ff"/><stop offset="0.8697" stop-color="#00a0ff"/><stop offset="0.8952" stop-color="#0080ff"/><stop offset="0.9256" stop-color="#0050ff"/><stop offset="0.9511" stop-color="#0020f4"/><stop offset="0.9776" stop-color="#0000f0"/><stop offset="1.0000" stop-color="#0000ee"/><stop offset="1.0000" stop-color="#0000e8"/></linearGradient></defs>
<rect x="563.6" y="405.7" width="31.50" height="183.10" fill="url(#rbd)" stroke="#333" stroke-width="1"/>
<line x1="591.60" y1="409.50" x2="595.1" y2="409.50" stroke="#333" stroke-width="1"/>
<text x="599.30" y="413.50" font-size="11.2" font-weight="bold" transform="translate(599.30,0) scale(1.08,1) translate(-599.30,0)">30</text>
<line x1="591.60" y1="445.40" x2="595.1" y2="445.40" stroke="#333" stroke-width="1"/>
<text x="599.30" y="449.40" font-size="11.2" font-weight="bold" transform="translate(599.30,0) scale(1.08,1) translate(-599.30,0)">24</text>
<line x1="591.60" y1="481.30" x2="595.1" y2="481.30" stroke="#333" stroke-width="1"/>
<text x="599.30" y="485.30" font-size="11.2" font-weight="bold" transform="translate(599.30,0) scale(1.08,1) translate(-599.30,0)">18</text>
<line x1="591.60" y1="517.20" x2="595.1" y2="517.20" stroke="#333" stroke-width="1"/>
<text x="599.30" y="521.20" font-size="11.2" font-weight="bold" transform="translate(599.30,0) scale(1.08,1) translate(-599.30,0)">12</text>
<line x1="591.60" y1="553.10" x2="595.1" y2="553.10" stroke="#333" stroke-width="1"/>
<text x="599.30" y="557.10" font-size="11.2" font-weight="bold" transform="translate(599.30,0) scale(1.08,1) translate(-599.30,0)">6.0</text>
<line x1="591.60" y1="589.00" x2="595.1" y2="589.00" stroke="#333" stroke-width="1"/>
<text x="599.30" y="593.00" font-size="11.2" font-weight="bold" transform="translate(599.30,0) scale(1.08,1) translate(-599.30,0)">0.0</text>
<text x="554.3" y="396" font-size="15" font-weight="bold">T<tspan dy="3.5" font-size="10">e</tspan><tspan dy="-3.5">(eV)</tspan></text>
</svg></body></html>
